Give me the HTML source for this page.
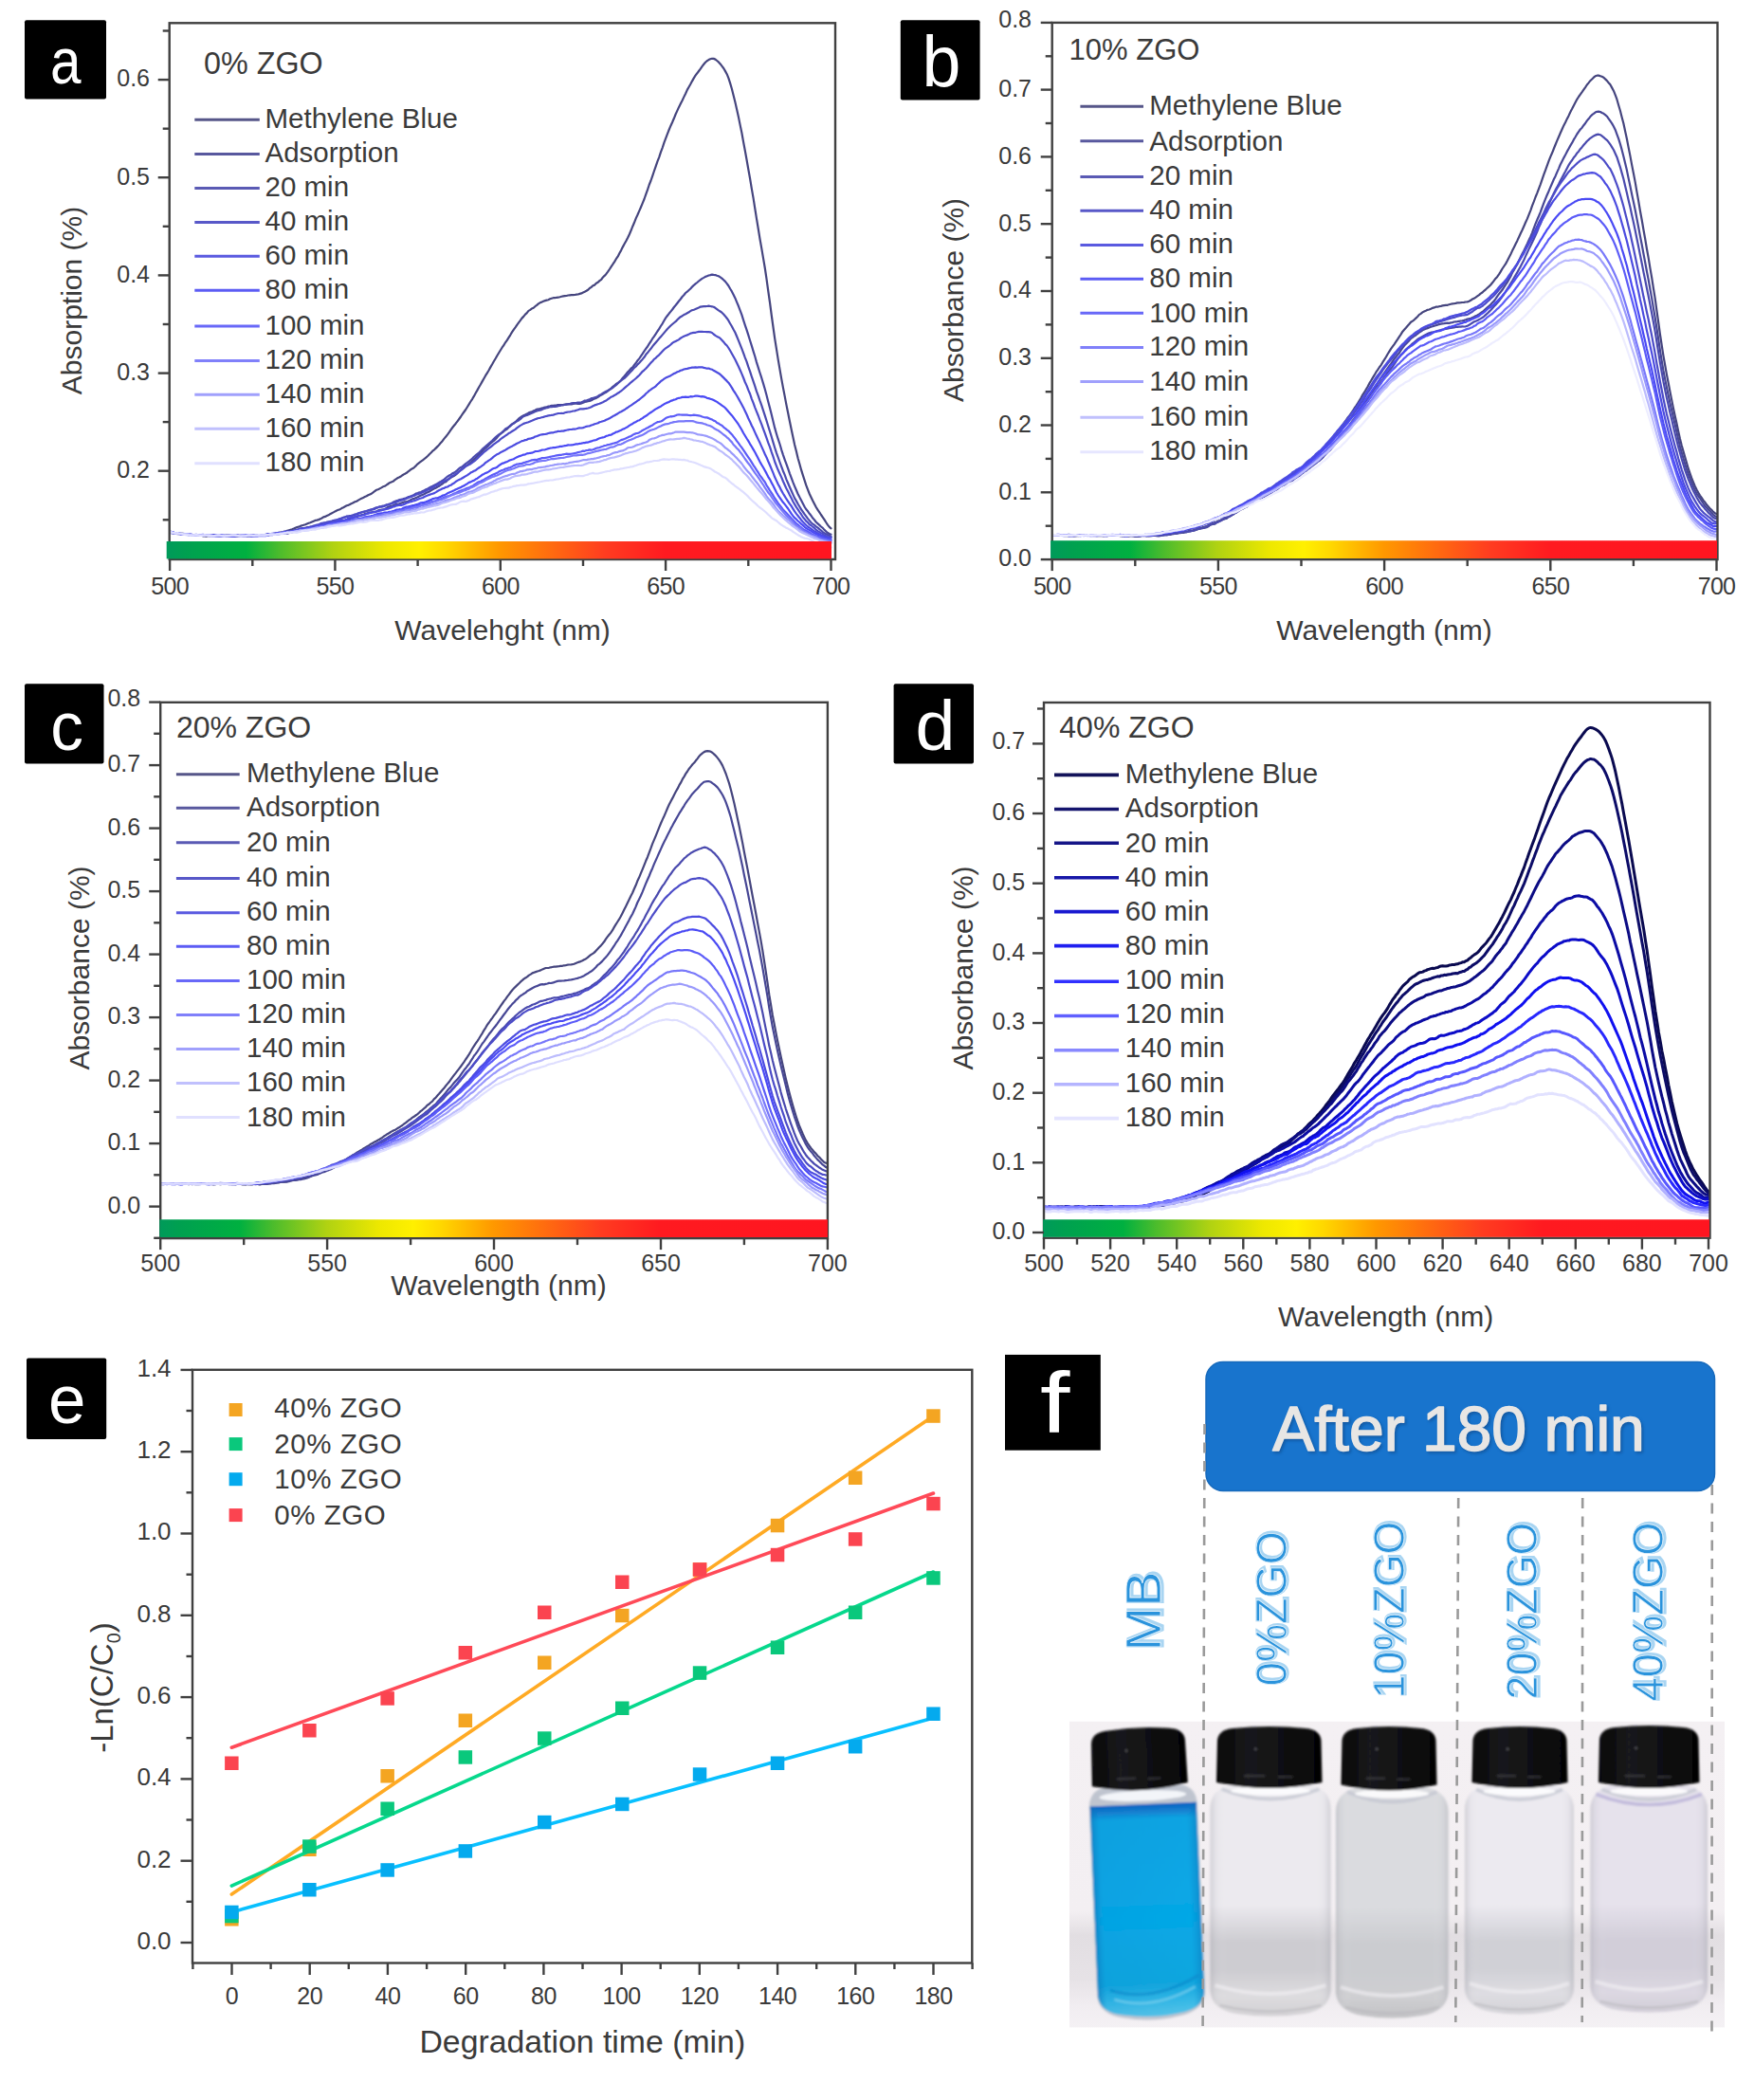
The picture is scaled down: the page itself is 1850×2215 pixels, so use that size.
<!DOCTYPE html>
<html lang="en"><head><meta charset="utf-8"><title>Photocatalytic degradation of methylene blue</title>
<style>html,body{margin:0;padding:0;background:#fff;overflow:hidden}svg{display:block;filter:blur(0.55px)}text{font-family:"Liberation Sans", Arial, sans-serif}</style>
</head><body>
<svg width="1850" height="2215" viewBox="0 0 1850 2215">
<defs>
<linearGradient id="spec" x1="0" y1="0" x2="1" y2="0">
<stop offset="0" stop-color="#009a5a"/>
<stop offset="0.03" stop-color="#00a050"/>
<stop offset="0.12" stop-color="#00b040"/>
<stop offset="0.17" stop-color="#4cbc2c"/>
<stop offset="0.25" stop-color="#b0d212"/>
<stop offset="0.33" stop-color="#eee800"/>
<stop offset="0.38" stop-color="#fff000"/>
<stop offset="0.42" stop-color="#ffd800"/>
<stop offset="0.5" stop-color="#ff9800"/>
<stop offset="0.58" stop-color="#ff6a10"/>
<stop offset="0.66" stop-color="#ff3c20"/>
<stop offset="0.75" stop-color="#ff1a20"/>
<stop offset="1.0" stop-color="#ff1520"/>
</linearGradient>
</defs>
<rect width="1850" height="2215" fill="#fff"/>
<clipPath id="clipa"><rect x="178.7" y="24.3" width="702.3" height="565.7"/></clipPath>
<g clip-path="url(#clipa)" fill="none" stroke-linejoin="round" stroke-linecap="round">
<polyline points="179.1,560.5 180.8,561.2 182.6,561.9 184.3,562.6 186.1,562.5 187.8,562.8 189.6,562.9 191.3,563.3 193,563.3 194.8,563.2 196.5,563.4 198.3,563.5 200,563.7 201.8,564 203.5,564.3 205.3,564.6 207,564.4 208.7,564 210.5,564.1 212.2,564.4 214,565.3 215.7,565.3 217.5,565.6 219.2,565 220.9,564.8 222.7,564.3 224.4,564.5 226.2,564.5 227.9,564.8 229.7,565.1 231.4,565.3 233.1,565.5 234.9,565.3 236.6,565 238.4,565.1 240.1,565.1 241.9,565.1 243.6,564.6 245.4,564.7 247.1,565.2 248.8,565.7 250.6,565.8 252.3,565.4 254.1,565.3 255.8,565 257.6,564.9 259.3,564.9 261,565.1 262.8,565.2 264.5,565.3 266.3,565.4 268,565.4 269.8,565 271.5,564.7 273.2,564.7 275,564.6 276.7,564.6 278.5,564.3 280.2,564.3 282,563.7 283.7,563.6 285.5,563.2 287.2,563.1 288.9,563 290.7,562.6 292.4,562.4 294.2,561.9 295.9,561.5 297.7,561.4 299.4,560.7 301.1,560.5 302.9,559.9 304.6,559.4 306.4,558.8 308.1,558.2 309.9,557.5 311.6,556.7 313.3,556 315.1,555.7 316.8,554.9 318.6,554.3 320.3,553.8 322.1,553.2 323.8,552.5 325.6,551.8 327.3,551.3 329,550.5 330.8,549.7 332.5,548.9 334.3,548.6 336,548.1 337.8,547.4 339.5,546.5 341.2,545.4 343,544.9 344.7,544.1 346.5,543.3 348.2,542.2 350,541.3 351.7,540.4 353.4,539.4 355.2,538.5 356.9,537.8 358.7,537.2 360.4,536.1 362.2,535.2 363.9,534.3 365.7,533.3 367.4,532.9 369.1,532 370.9,531.1 372.6,530.2 374.4,529.3 376.1,528.7 377.9,527.6 379.6,526.6 381.3,525.7 383.1,524.9 384.8,524.1 386.6,523.3 388.3,522.3 390.1,521.5 391.8,520.7 393.6,519.4 395.3,518 397,516.8 398.8,516.3 400.5,515.4 402.3,514.4 404,513.3 405.8,512.8 407.5,511.7 409.2,510.5 411,509.2 412.7,508.5 414.5,507.8 416.2,506.4 418,505.1 419.7,504 421.4,503.2 423.2,502.2 424.9,501 426.7,499.9 428.4,499.1 430.2,497.6 431.9,496.3 433.7,494.9 435.4,494.1 437.1,492.8 438.9,491.1 440.6,489.3 442.4,487.9 444.1,486.6 445.9,485.4 447.6,484 449.3,482.6 451.1,481 452.8,479.2 454.6,477.5 456.3,475.7 458.1,474.3 459.8,472.6 461.5,470.9 463.3,469 465,466.9 466.8,464.9 468.5,462.6 470.3,460.5 472,458.4 473.8,455.9 475.5,453.4 477.2,451 479,448.8 480.7,446.7 482.5,444.3 484.2,442 486,439.5 487.7,436.9 489.4,434.5 491.2,432 492.9,429.2 494.7,426.3 496.4,423.5 498.2,420.8 499.9,417.9 501.6,414.7 503.4,411.6 505.1,408.5 506.9,405.5 508.6,402.4 510.4,399.2 512.1,396.2 513.9,393.3 515.6,390.5 517.3,387.4 519.1,384.3 520.8,381.2 522.6,378.2 524.3,375.2 526.1,372.2 527.8,369.5 529.5,366.7 531.3,364.2 533,361.3 534.8,358.8 536.5,356.1 538.3,353.3 540,350.4 541.7,347.8 543.5,345.3 545.2,342.8 547,340.3 548.7,338.1 550.5,335.6 552.2,333.9 554,331.6 555.7,330.1 557.4,327.9 559.2,326.9 560.9,325.5 562.7,324.7 564.4,323.2 566.2,321.9 567.9,320.4 569.6,319.3 571.4,318.6 573.1,317.7 574.9,317.1 576.6,316.6 578.4,316.2 580.1,315.3 581.8,314.7 583.6,314.2 585.3,314.2 587.1,313.8 588.8,313.7 590.6,313.3 592.3,312.8 594.1,312.4 595.8,312.1 597.5,312 599.3,311.5 601,311.3 602.8,311.1 604.5,311.1 606.3,311 608,310.7 609.7,310.5 611.5,309.9 613.2,309.4 615,308.5 616.7,307.7 618.5,306.7 620.2,305.7 621.9,304 623.7,302.9 625.4,301.3 627.2,300.6 628.9,298.8 630.7,297.8 632.4,296.1 634.2,294.8 635.9,292.5 637.6,290.9 639.4,288.9 641.1,286.7 642.9,284 644.6,281.3 646.4,278.7 648.1,276.1 649.8,273.2 651.6,270.7 653.3,267.3 655.1,264.1 656.8,260.6 658.6,257.3 660.3,254.3 662,251 663.8,247.2 665.5,243.3 667.3,238.7 669,234.8 670.8,230.1 672.5,226.5 674.3,222.4 676,218.5 677.7,214.4 679.5,210 681.2,205.2 683,200.2 684.7,195 686.5,190.5 688.2,185.6 689.9,180.5 691.7,175.3 693.4,170.3 695.2,165.8 696.9,160.7 698.7,155.8 700.4,150.6 702.1,146.2 703.9,141.3 705.6,137 707.4,132.7 709.1,129 710.9,124.8 712.6,120.5 714.4,116.6 716.1,112.9 717.8,109.5 719.6,106 721.3,102.4 723.1,98.7 724.8,94.9 726.6,91.8 728.3,88.8 730,85.6 731.8,82.4 733.5,79.6 735.3,77.3 737,75 738.8,72.6 740.5,70.1 742.3,67.8 744,65.8 745.7,64.2 747.5,63.1 749.2,62.3 751,61.8 752.7,61.9 754.5,62.6 756.2,64 757.9,65.4 759.7,67.4 761.4,69.6 763.2,72 764.9,74.9 766.7,78.2 768.4,82.4 770.1,87.6 771.9,93.7 773.6,100.5 775.4,107.7 777.1,115.2 778.9,123.3 780.6,131.6 782.4,140.3 784.1,149.7 785.8,158.8 787.6,168.8 789.3,178.5 791.1,188.5 792.8,198.9 794.6,209.1 796.3,220 798,230.6 799.8,241.5 801.5,252 803.3,262.1 805,272.1 806.8,282.7 808.5,294.2 810.2,306.5 812,319 813.7,332 815.5,345 817.2,357.1 819,368.4 820.7,379.2 822.5,389.6 824.2,399.4 825.9,408.6 827.7,417.9 829.4,426.9 831.2,435.8 832.9,444.3 834.7,452.9 836.4,460.9 838.1,469 839.9,476 841.6,483.3 843.4,489.5 845.1,495.7 846.9,501.3 848.6,506.7 850.3,511.9 852.1,516.7 853.8,521 855.6,524.8 857.3,528.3 859.1,531.8 860.8,535 862.6,537.9 864.3,540.4 866,543 867.8,545.6 869.5,548.1 871.3,551 873,553.6 874.8,555.9 876.5,557.3" stroke="#45457e" stroke-width="2.2"/>
<polyline points="179.1,560.5 180.8,561.5 182.6,562.3 184.3,562.7 186.1,562.9 187.8,563.2 189.6,563.2 191.3,562.9 193,562.9 194.8,563.1 196.5,563.4 198.3,563.8 200,564.1 201.8,564.4 203.5,564.4 205.3,564.6 207,564.9 208.7,565 210.5,564.8 212.2,564.5 214,564.5 215.7,564.8 217.5,565 219.2,565.2 220.9,565.2 222.7,565.1 224.4,565.3 226.2,565 227.9,565.2 229.7,564.8 231.4,565.1 233.1,564.9 234.9,565 236.6,564.9 238.4,565.2 240.1,565.3 241.9,565.4 243.6,565.2 245.4,565.3 247.1,565 248.8,565.2 250.6,565 252.3,565.4 254.1,565.2 255.8,565.4 257.6,565.4 259.3,565.6 261,565.1 262.8,565.1 264.5,565.2 266.3,565.7 268,565.4 269.8,565.3 271.5,565 273.2,564.9 275,564.4 276.7,564.1 278.5,564.1 280.2,564.5 282,564.4 283.7,564.2 285.5,563.8 287.2,563.8 288.9,563.5 290.7,563.2 292.4,563.3 294.2,563.2 295.9,563 297.7,562.3 299.4,562.2 301.1,562.5 302.9,562.6 304.6,562.1 306.4,561.7 308.1,561.1 309.9,560.9 311.6,560.2 313.3,560 315.1,559.8 316.8,559.4 318.6,559.1 320.3,559 322.1,558.8 323.8,558.7 325.6,557.9 327.3,557.7 329,557.1 330.8,556.8 332.5,556.2 334.3,556 336,555.2 337.8,555 339.5,554.6 341.2,554.9 343,554.3 344.7,553.7 346.5,552.8 348.2,552.4 350,552.2 351.7,551.9 353.4,551.7 355.2,550.8 356.9,550.4 358.7,549.8 360.4,549.6 362.2,549 363.9,548.9 365.7,548.2 367.4,547.9 369.1,547.1 370.9,546.5 372.6,545.8 374.4,545.4 376.1,545.2 377.9,544.5 379.6,544.1 381.3,543.1 383.1,542.9 384.8,542.1 386.6,541.8 388.3,541.1 390.1,540.5 391.8,540.3 393.6,540.2 395.3,540.1 397,539.4 398.8,538.5 400.5,537.9 402.3,537.7 404,537.4 405.8,537 407.5,536 409.2,534.9 411,534.2 412.7,533.7 414.5,533.3 416.2,532.6 418,532.1 419.7,531.7 421.4,531.3 423.2,530.6 424.9,530 426.7,529.4 428.4,529.3 430.2,528.8 431.9,528 433.7,527.1 435.4,526.1 437.1,525.8 438.9,525 440.6,524.3 442.4,523.3 444.1,522.5 445.9,521.9 447.6,521 449.3,520 451.1,519.2 452.8,518.5 454.6,517.4 456.3,516.4 458.1,515.3 459.8,514.7 461.5,513.5 463.3,512.7 465,511.4 466.8,510.3 468.5,508.8 470.3,508.1 472,506.5 473.8,505.1 475.5,503.7 477.2,502.7 479,502 480.7,500.7 482.5,499.1 484.2,497.3 486,495.7 487.7,494.7 489.4,493.4 491.2,491.8 492.9,490.7 494.7,489.4 496.4,487.9 498.2,486 499.9,484.4 501.6,483 503.4,481.3 505.1,479.5 506.9,478 508.6,476.1 510.4,474.3 512.1,472.7 513.9,471.2 515.6,469.5 517.3,467.8 519.1,466.1 520.8,464.9 522.6,463.1 524.3,461.4 526.1,459.3 527.8,457.8 529.5,456.3 531.3,455 533,453.7 534.8,452.5 536.5,450.7 538.3,448.9 540,447.4 541.7,446.6 543.5,445.2 545.2,443.5 547,441.7 548.7,440.5 550.5,439.2 552.2,438.3 554,437.4 555.7,436.6 557.4,435.6 559.2,434.7 560.9,434.2 562.7,433.4 564.4,432.8 566.2,431.7 567.9,431.4 569.6,431 571.4,430.5 573.1,430.1 574.9,429.5 576.6,429.4 578.4,428.6 580.1,428.3 581.8,427.9 583.6,427.9 585.3,427.5 587.1,427.3 588.8,427 590.6,427.1 592.3,427 594.1,426.9 595.8,426.7 597.5,426.4 599.3,426.4 601,426.4 602.8,426.4 604.5,426 606.3,425.7 608,425.6 609.7,425.8 611.5,425.9 613.2,425.4 615,424.8 616.7,424 618.5,423.6 620.2,423.2 621.9,422.9 623.7,422.2 625.4,421.2 627.2,420.5 628.9,419.9 630.7,418.8 632.4,417.6 634.2,416.6 635.9,415.7 637.6,414.6 639.4,413.7 641.1,412.3 642.9,410.9 644.6,409.5 646.4,407.9 648.1,406.5 649.8,405 651.6,404 653.3,402.5 655.1,401 656.8,398.7 658.6,396.7 660.3,394.6 662,392.5 663.8,390.7 665.5,388.7 667.3,387.3 669,385 670.8,382.8 672.5,380.2 674.3,378.1 676,375.7 677.7,373.2 679.5,370.4 681.2,367.9 683,365.5 684.7,362.6 686.5,360 688.2,357.2 689.9,354.9 691.7,352.2 693.4,349.5 695.2,346.9 696.9,344 698.7,341.3 700.4,338.2 702.1,335.4 703.9,333 705.6,330.8 707.4,328.6 709.1,326.5 710.9,324 712.6,322 714.4,319.7 716.1,317.5 717.8,315.5 719.6,313 721.3,311.3 723.1,309 724.8,307.7 726.6,306 728.3,304.5 730,302.6 731.8,300.8 733.5,299.4 735.3,298 737,296.5 738.8,295.1 740.5,293.9 742.3,292.9 744,291.9 745.7,291.3 747.5,290.5 749.2,290.1 751,289.6 752.7,289.9 754.5,290.1 756.2,290.8 757.9,291.3 759.7,292.4 761.4,293.6 763.2,295.3 764.9,296.9 766.7,299.1 768.4,301.5 770.1,304.5 771.9,307.4 773.6,310.7 775.4,314.4 777.1,318.6 778.9,322.8 780.6,327.3 782.4,332.2 784.1,337.6 785.8,342.8 787.6,348.1 789.3,353.4 791.1,359.3 792.8,364.7 794.6,370.6 796.3,376 798,382.1 799.8,387.8 801.5,393.3 803.3,398.7 805,404.4 806.8,410.5 808.5,416.8 810.2,423.4 812,430.3 813.7,437.1 815.5,444.4 817.2,451.4 819,457.7 820.7,463.2 822.5,468.5 824.2,474.3 825.9,479.6 827.7,484.8 829.4,489.4 831.2,494.4 832.9,499.3 834.7,504.1 836.4,508.6 838.1,512.8 839.9,517 841.6,521 843.4,524.6 845.1,527.8 846.9,531.3 848.6,534.5 850.3,537.3 852.1,539.3 853.8,541.8 855.6,544 857.3,546.6 859.1,548.5 860.8,550.8 862.6,552.4 864.3,553.9 866,555.5 867.8,556.9 869.5,558.9 871.3,560.5 873,562 874.8,563 876.5,563.7" stroke="#474795" stroke-width="2.2"/>
<polyline points="179.1,561 180.8,561.5 182.6,561.7 184.3,562 186.1,562.4 187.8,562.8 189.6,562.6 191.3,562.9 193,563.2 194.8,563.9 196.5,563.8 198.3,564 200,564 201.8,564.2 203.5,564.1 205.3,564.2 207,564.1 208.7,564.2 210.5,564.2 212.2,564.5 214,564.6 215.7,564.4 217.5,564.4 219.2,564.6 220.9,564.7 222.7,564.6 224.4,564.6 226.2,564.9 227.9,565.1 229.7,565 231.4,564.6 233.1,564.7 234.9,565.1 236.6,565.1 238.4,564.7 240.1,564.6 241.9,564.7 243.6,564.9 245.4,565.2 247.1,565.2 248.8,565.2 250.6,564.8 252.3,565 254.1,564.9 255.8,565.4 257.6,565.5 259.3,565.7 261,565.1 262.8,565 264.5,565.1 266.3,565.2 268,564.8 269.8,564.5 271.5,564.7 273.2,564.9 275,564.8 276.7,564.6 278.5,564.5 280.2,564.3 282,564 283.7,563.9 285.5,563.4 287.2,563.2 288.9,562.8 290.7,562.9 292.4,562.8 294.2,562.5 295.9,562 297.7,561.7 299.4,561.5 301.1,561.3 302.9,561.2 304.6,561.1 306.4,560.9 308.1,560 309.9,559.5 311.6,559 313.3,558.7 315.1,558.2 316.8,557.8 318.6,557.6 320.3,557.1 322.1,556.9 323.8,556.2 325.6,556 327.3,555.6 329,555.6 330.8,555.2 332.5,554.9 334.3,554.7 336,554.2 337.8,553.5 339.5,552.7 341.2,551.9 343,551.4 344.7,550.7 346.5,550.6 348.2,550.3 350,550.1 351.7,549.4 353.4,549 355.2,548.5 356.9,548.1 358.7,547.2 360.4,546.8 362.2,545.8 363.9,545.4 365.7,544.6 367.4,544.5 369.1,544.2 370.9,543.9 372.6,543.5 374.4,542.8 376.1,542.4 377.9,541.7 379.6,541.1 381.3,540.2 383.1,539.8 384.8,539.6 386.6,539.1 388.3,538.4 390.1,537.9 391.8,537.4 393.6,536.8 395.3,536 397,535.4 398.8,535 400.5,534.3 402.3,534.1 404,533.6 405.8,533.3 407.5,532.4 409.2,532.1 411,531.6 412.7,531 414.5,529.8 416.2,529 418,528.4 419.7,527.9 421.4,527.1 423.2,526.7 424.9,526.3 426.7,525.7 428.4,525.3 430.2,524.4 431.9,523.9 433.7,523.2 435.4,522.6 437.1,521.6 438.9,520.5 440.6,520 442.4,519.4 444.1,519 445.9,518 447.6,517.2 449.3,516.2 451.1,515.4 452.8,514.5 454.6,513.5 456.3,512.7 458.1,511.8 459.8,510.9 461.5,510 463.3,508.8 465,507.9 466.8,506.8 468.5,505.5 470.3,504 472,502.6 473.8,501.5 475.5,500.6 477.2,499.3 479,498.6 480.7,497.3 482.5,495.8 484.2,494.2 486,493 487.7,492.1 489.4,490.6 491.2,489.1 492.9,487.9 494.7,486.5 496.4,485.2 498.2,483.5 499.9,481.8 501.6,480.4 503.4,478.9 505.1,477.5 506.9,475.7 508.6,473.9 510.4,472.3 512.1,470.9 513.9,469.3 515.6,467.8 517.3,466.4 519.1,464.8 520.8,463.1 522.6,461.3 524.3,459.8 526.1,458.5 527.8,457.3 529.5,456.1 531.3,454.4 533,452.4 534.8,451.4 536.5,450.4 538.3,449.3 540,447.7 541.7,446.5 543.5,445.4 545.2,444.3 547,443.4 548.7,442.2 550.5,440.4 552.2,439.2 554,438.5 555.7,438 557.4,437.2 559.2,436.4 560.9,435.7 562.7,434.9 564.4,434.1 566.2,433.5 567.9,433 569.6,432.6 571.4,432.1 573.1,431.2 574.9,430.8 576.6,430.1 578.4,429.8 580.1,429.2 581.8,429.1 583.6,429 585.3,429 587.1,428.6 588.8,428.2 590.6,427.8 592.3,427.5 594.1,427.3 595.8,426.8 597.5,426.6 599.3,426.2 601,426 602.8,425.4 604.5,425.1 606.3,425 608,424.9 609.7,424.6 611.5,424.6 613.2,424.2 615,423.6 616.7,422.5 618.5,422.5 620.2,421.9 621.9,421.3 623.7,420.1 625.4,419.8 627.2,419.3 628.9,418.7 630.7,417.9 632.4,416.7 634.2,415.9 635.9,414.7 637.6,413.7 639.4,412.7 641.1,411.9 642.9,411.1 644.6,410 646.4,408.8 648.1,407.5 649.8,406.2 651.6,404.5 653.3,403 655.1,401.4 656.8,400.2 658.6,398.9 660.3,397.2 662,395.5 663.8,393.5 665.5,391.7 667.3,389.9 669,387.9 670.8,386.5 672.5,384.4 674.3,382.7 676,380.7 677.7,378.9 679.5,376.8 681.2,374.1 683,372.1 684.7,369.9 686.5,367.8 688.2,365.4 689.9,363.3 691.7,361.2 693.4,359.3 695.2,357.1 696.9,355.2 698.7,353.1 700.4,351.1 702.1,349.1 703.9,347 705.6,345.3 707.4,343.5 709.1,342 710.9,340.5 712.6,339.2 714.4,337.2 716.1,335.6 717.8,334.2 719.6,333.2 721.3,332.1 723.1,331.2 724.8,330.3 726.6,329.3 728.3,328 730,327.1 731.8,326.7 733.5,326 735.3,325.2 737,324.5 738.8,323.6 740.5,323.3 742.3,323.1 744,323.1 745.7,323 747.5,322.7 749.2,323 751,323.3 752.7,323.8 754.5,324.8 756.2,326.1 757.9,327.4 759.7,328.5 761.4,329.7 763.2,331.5 764.9,333.4 766.7,335.7 768.4,338.2 770.1,341.2 771.9,344.2 773.6,347.5 775.4,350.8 777.1,354.8 778.9,359.1 780.6,363.4 782.4,367.9 784.1,372.4 785.8,377.1 787.6,381.6 789.3,386.9 791.1,391.9 792.8,397.2 794.6,402.3 796.3,407.4 798,412.9 799.8,417.7 801.5,422.7 803.3,427.6 805,432.8 806.8,438.3 808.5,443.8 810.2,449.3 812,455 813.7,460.5 815.5,466.6 817.2,472.2 819,477.8 820.7,482.5 822.5,487.5 824.2,492.1 825.9,496.7 827.7,500.9 829.4,505.6 831.2,509.8 832.9,513.7 834.7,517.7 836.4,521.6 838.1,525.4 839.9,528.4 841.6,531.5 843.4,534.5 845.1,537.4 846.9,539.9 848.6,542.4 850.3,544.6 852.1,547.1 853.8,549.1 855.6,551.2 857.3,552.7 859.1,553.9 860.8,555.3 862.6,556.6 864.3,558.1 866,559.5 867.8,561.1 869.5,562.3 871.3,563.2 873,564.1 874.8,564.9 876.5,565.8" stroke="#4a4aae" stroke-width="2.2"/>
<polyline points="179.1,561.9 180.8,562.1 182.6,562.3 184.3,562.6 186.1,562.6 187.8,562.8 189.6,562.8 191.3,563.5 193,563.5 194.8,563.5 196.5,563.2 198.3,563.6 200,563.7 201.8,564.3 203.5,564.5 205.3,564.4 207,564.5 208.7,564.4 210.5,564.5 212.2,564.4 214,564.5 215.7,564.6 217.5,564.9 219.2,564.9 220.9,564.9 222.7,564.4 224.4,564.1 226.2,564.1 227.9,564.5 229.7,564.7 231.4,565.2 233.1,565.1 234.9,565.1 236.6,565.1 238.4,565.2 240.1,565.2 241.9,564.9 243.6,565.3 245.4,565.4 247.1,565.5 248.8,565 250.6,564.7 252.3,564.9 254.1,565.1 255.8,565.4 257.6,565.3 259.3,565.3 261,565.3 262.8,565 264.5,564.9 266.3,564.8 268,565 269.8,564.8 271.5,565 273.2,564.6 275,564.5 276.7,564.3 278.5,564.2 280.2,564.2 282,563.8 283.7,563.6 285.5,563.5 287.2,563.1 288.9,563.4 290.7,562.9 292.4,562.9 294.2,562.3 295.9,562.1 297.7,561.8 299.4,561.8 301.1,561.7 302.9,561.3 304.6,560.7 306.4,560.6 308.1,560.4 309.9,560 311.6,559.4 313.3,559 315.1,558.3 316.8,557.6 318.6,557.1 320.3,557 322.1,557 323.8,556.5 325.6,556.2 327.3,555.8 329,555.3 330.8,554.5 332.5,554.1 334.3,553.6 336,553.4 337.8,552.4 339.5,551.9 341.2,551.7 343,551.6 344.7,551.2 346.5,550.6 348.2,550 350,549.6 351.7,549 353.4,548.5 355.2,548.3 356.9,547.7 358.7,547.1 360.4,546.6 362.2,546.1 363.9,545.5 365.7,544.8 367.4,544.6 369.1,544.5 370.9,543.8 372.6,543.3 374.4,542.6 376.1,542.2 377.9,541.3 379.6,540.8 381.3,540.5 383.1,540 384.8,539.4 386.6,539 388.3,538.5 390.1,538.1 391.8,537.6 393.6,537.4 395.3,536.9 397,535.9 398.8,535.2 400.5,534.7 402.3,534.6 404,534.3 405.8,533.6 407.5,532.9 409.2,532.5 411,531.7 412.7,531.2 414.5,530.7 416.2,530.5 418,529.8 419.7,528.9 421.4,528.3 423.2,527.6 424.9,527.3 426.7,526.7 428.4,526.1 430.2,525.2 431.9,524.4 433.7,524.1 435.4,523.3 437.1,522.7 438.9,521.7 440.6,521.3 442.4,520.7 444.1,520.1 445.9,519.3 447.6,518.6 449.3,517.8 451.1,516.8 452.8,516.3 454.6,515.3 456.3,514.4 458.1,513.1 459.8,512.4 461.5,511.5 463.3,510.2 465,508.9 466.8,508.1 468.5,507.5 470.3,506.8 472,505.8 473.8,504.6 475.5,503.2 477.2,501.9 479,500.9 480.7,499.9 482.5,498.9 484.2,497.5 486,496.1 487.7,494.6 489.4,493.1 491.2,491.8 492.9,491.1 494.7,490.1 496.4,489.2 498.2,487.8 499.9,486.7 501.6,485.3 503.4,483.6 505.1,481.9 506.9,480.1 508.6,478.6 510.4,477 512.1,475.7 513.9,474.1 515.6,472.9 517.3,471.6 519.1,470.1 520.8,468.7 522.6,467.4 524.3,466.2 526.1,465 527.8,463.3 529.5,462 531.3,460.8 533,459.7 534.8,458.5 536.5,457.1 538.3,456.2 540,455 541.7,454 543.5,452.9 545.2,451.4 547,450.1 548.7,448.9 550.5,447.9 552.2,446.9 554,446.2 555.7,445.7 557.4,445.2 559.2,444.5 560.9,443.8 562.7,443 564.4,442.2 566.2,441.6 567.9,441 569.6,440.8 571.4,440.3 573.1,439.9 574.9,439.3 576.6,438.9 578.4,438.4 580.1,438.2 581.8,437.8 583.6,437.6 585.3,437 587.1,436.5 588.8,436 590.6,436 592.3,435.9 594.1,436 595.8,435.3 597.5,434.8 599.3,434.5 601,434.3 602.8,434 604.5,433.5 606.3,433.4 608,432.8 609.7,432.2 611.5,431.4 613.2,431.4 615,431.3 616.7,431.2 618.5,430.8 620.2,430.5 621.9,430 623.7,429.2 625.4,428.3 627.2,427.4 628.9,426.9 630.7,426.2 632.4,425.8 634.2,424.9 635.9,424.2 637.6,423.3 639.4,422.5 641.1,421.2 642.9,420 644.6,418.7 646.4,418 648.1,416.9 649.8,416.1 651.6,414.7 653.3,413.7 655.1,412.4 656.8,411 658.6,409.4 660.3,407.9 662,406.5 663.8,404.9 665.5,403.3 667.3,401.8 669,400.5 670.8,399 672.5,397.4 674.3,395.7 676,393.8 677.7,391.8 679.5,390.3 681.2,388.7 683,386.8 684.7,384.8 686.5,382.6 688.2,381 689.9,378.9 691.7,377.6 693.4,375.8 695.2,374.3 696.9,372.5 698.7,370.6 700.4,368.8 702.1,367.3 703.9,366.1 705.6,365 707.4,363.5 709.1,361.9 710.9,360.7 712.6,359.9 714.4,359.1 716.1,358.1 717.8,356.7 719.6,355.6 721.3,354.7 723.1,354 724.8,353.4 726.6,352.6 728.3,351.6 730,351.2 731.8,350.9 733.5,350.8 735.3,350.3 737,349.9 738.8,349.9 740.5,349.9 742.3,350 744,350 745.7,350.1 747.5,350.2 749.2,350.3 751,351 752.7,352.5 754.5,353.8 756.2,354.9 757.9,355.7 759.7,356.9 761.4,358.7 763.2,360.7 764.9,362.9 766.7,364.5 768.4,367 770.1,369.8 771.9,373 773.6,376 775.4,379.2 777.1,382.8 778.9,386.5 780.6,390.3 782.4,394.4 784.1,398.5 785.8,403 787.6,406.9 789.3,411.4 791.1,415.5 792.8,420.6 794.6,425.1 796.3,429.8 798,434.1 799.8,438.5 801.5,443.2 803.3,447.7 805,452.3 806.8,457.2 808.5,461.9 810.2,466.9 812,471.3 813.7,476.6 815.5,481.7 817.2,487 819,491.6 820.7,495.8 822.5,499.7 824.2,503.4 825.9,507.5 827.7,511.5 829.4,515.3 831.2,518.5 832.9,522 834.7,525.4 836.4,529 838.1,531.9 839.9,534.9 841.6,537.4 843.4,540.1 845.1,542.5 846.9,545.5 848.6,547.4 850.3,549.7 852.1,551.2 853.8,553.2 855.6,554.2 857.3,555.7 859.1,557.1 860.8,558.9 862.6,560.2 864.3,561.1 866,562.1 867.8,563.1 869.5,564.5 871.3,565.3 873,566.1 874.8,566.4 876.5,566.9" stroke="#4c4cc8" stroke-width="2.2"/>
<polyline points="179.1,561.5 180.8,561.8 182.6,562.1 184.3,562.1 186.1,562.5 187.8,562.9 189.6,563.3 191.3,563.5 193,563.6 194.8,563.9 196.5,564 198.3,563.9 200,563.8 201.8,563.9 203.5,564.1 205.3,564.1 207,563.9 208.7,564.3 210.5,564.1 212.2,564.5 214,564.1 215.7,564.5 217.5,564.6 219.2,564.9 220.9,564.9 222.7,564.9 224.4,564.6 226.2,565.1 227.9,565.1 229.7,565.5 231.4,564.9 233.1,564.7 234.9,565 236.6,565.3 238.4,565.7 240.1,565.6 241.9,565.4 243.6,565 245.4,565 247.1,565.3 248.8,565.3 250.6,565 252.3,564.9 254.1,565 255.8,565.2 257.6,565.2 259.3,564.9 261,564.7 262.8,564.8 264.5,564.4 266.3,564.6 268,564.6 269.8,565.2 271.5,565.2 273.2,564.8 275,564.8 276.7,564.7 278.5,564.5 280.2,563.9 282,563.4 283.7,563.3 285.5,563 287.2,562.8 288.9,562.8 290.7,562.6 292.4,562.3 294.2,561.9 295.9,562.2 297.7,561.9 299.4,561.4 301.1,560.7 302.9,560.6 304.6,560.8 306.4,560.6 308.1,560.4 309.9,560.2 311.6,559.9 313.3,559.6 315.1,559.1 316.8,558.4 318.6,557.8 320.3,557.7 322.1,558 323.8,557.7 325.6,557.1 327.3,556.7 329,556.8 330.8,556.5 332.5,555.8 334.3,554.8 336,554.7 337.8,554.2 339.5,553.9 341.2,553.1 343,552.8 344.7,552.3 346.5,552.1 348.2,551.6 350,551.3 351.7,551 353.4,550.5 355.2,549.9 356.9,549.3 358.7,549.1 360.4,549 362.2,548.8 363.9,548.5 365.7,547.8 367.4,546.8 369.1,546.2 370.9,545.8 372.6,545.8 374.4,545.1 376.1,544.6 377.9,544 379.6,543.8 381.3,543.6 383.1,543.2 384.8,542.8 386.6,541.9 388.3,541.6 390.1,540.9 391.8,540.8 393.6,540.2 395.3,540 397,539.5 398.8,539.2 400.5,538.6 402.3,538.3 404,537.7 405.8,537.4 407.5,536.9 409.2,536.6 411,536 412.7,535.4 414.5,534.5 416.2,534.4 418,533.4 419.7,533.1 421.4,532.7 423.2,532.9 424.9,532.4 426.7,531.7 428.4,530.7 430.2,530.2 431.9,529.4 433.7,529.1 435.4,528.5 437.1,528.2 438.9,527.4 440.6,526.7 442.4,526 444.1,525.5 445.9,525 447.6,524 449.3,523.2 451.1,522.5 452.8,521.9 454.6,521.3 456.3,520.7 458.1,520.1 459.8,519.1 461.5,518 463.3,517 465,516.3 466.8,515.3 468.5,514.9 470.3,513.8 472,513.5 473.8,512.3 475.5,511.8 477.2,510.4 479,509.5 480.7,508 482.5,506.9 484.2,506 486,505.2 487.7,504.2 489.4,503.2 491.2,502.1 492.9,501.2 494.7,500 496.4,498.6 498.2,497.7 499.9,496.7 501.6,496.1 503.4,494.7 505.1,493.5 506.9,492.3 508.6,491.1 510.4,489.8 512.1,488 513.9,486.9 515.6,485.6 517.3,484.6 519.1,483.1 520.8,481.6 522.6,480.3 524.3,479.2 526.1,478.4 527.8,477.3 529.5,476.4 531.3,475.5 533,474.7 534.8,473.5 536.5,472.4 538.3,471.5 540,470.8 541.7,469.7 543.5,468.7 545.2,467.7 547,467 548.7,466.1 550.5,465.1 552.2,464.8 554,464.1 555.7,463.8 557.4,462.8 559.2,462.7 560.9,462.1 562.7,461.6 564.4,460.5 566.2,460.1 567.9,459.4 569.6,458.8 571.4,458.3 573.1,458.1 574.9,458 576.6,457.6 578.4,457 580.1,456.6 581.8,456.3 583.6,456.3 585.3,455.7 587.1,455.4 588.8,454.8 590.6,455 592.3,454.6 594.1,454.6 595.8,454.1 597.5,453.7 599.3,453.3 601,453 602.8,453 604.5,452.7 606.3,452.6 608,452.2 609.7,451.7 611.5,451.4 613.2,451.5 615,451.1 616.7,450.5 618.5,449.8 620.2,449.5 621.9,449.3 623.7,448.5 625.4,448 627.2,447.2 628.9,446.8 630.7,446.2 632.4,445.2 634.2,444.8 635.9,444.2 637.6,443.7 639.4,442.7 641.1,442.1 642.9,441.3 644.6,440.2 646.4,439.1 648.1,438.3 649.8,437.3 651.6,436.2 653.3,435.1 655.1,434.2 656.8,433.2 658.6,432.3 660.3,431 662,430 663.8,428.6 665.5,427.6 667.3,426.4 669,425.1 670.8,424 672.5,422.7 674.3,421.5 676,420 677.7,418.7 679.5,417.2 681.2,415.3 683,413.7 684.7,412.1 686.5,410.9 688.2,409.6 689.9,408.6 691.7,407.3 693.4,405.5 695.2,403.9 696.9,402.2 698.7,401 700.4,399.7 702.1,398.6 703.9,397.8 705.6,397.1 707.4,396.2 709.1,395.1 710.9,394 712.6,393.4 714.4,392.3 716.1,391.8 717.8,390.8 719.6,390.4 721.3,389.5 723.1,389.2 724.8,388.9 726.6,388.4 728.3,388 730,387.6 731.8,387.6 733.5,387.4 735.3,387.6 737,387.4 738.8,387.4 740.5,387.3 742.3,387.9 744,388.2 745.7,388.7 747.5,388.6 749.2,389.3 751,389.7 752.7,390.8 754.5,391.8 756.2,392.7 757.9,393.7 759.7,395 761.4,396.6 763.2,398.4 764.9,400.1 766.7,401.9 768.4,403.7 770.1,406.2 771.9,408.9 773.6,411.9 775.4,414.5 777.1,417.3 778.9,420.4 780.6,423.5 782.4,426.7 784.1,429.9 785.8,433.5 787.6,437.3 789.3,441.3 791.1,444.9 792.8,448.8 794.6,452.3 796.3,456.1 798,459.8 799.8,463.6 801.5,467.1 803.3,471.1 805,474.9 806.8,479 808.5,482.4 810.2,486.5 812,490.5 813.7,494.7 815.5,498.9 817.2,503.3 819,507.1 820.7,510.7 822.5,513.9 824.2,517.4 825.9,520.5 827.7,523.4 829.4,526.2 831.2,528.8 832.9,531.4 834.7,533.7 836.4,536.6 838.1,539.4 839.9,541.9 841.6,544 843.4,546.2 845.1,548.5 846.9,550.5 848.6,552.2 850.3,554 852.1,555.5 853.8,556.6 855.6,557.9 857.3,559.2 859.1,560.6 860.8,561.3 862.6,562.5 864.3,563.3 866,564.3 867.8,564.9 869.5,565.7 871.3,566.7 873,566.7 874.8,567.2 876.5,567.3" stroke="#4c4ce0" stroke-width="2.2"/>
<polyline points="179.1,561 180.8,561.1 182.6,561.5 184.3,562.3 186.1,562.8 187.8,563 189.6,563 191.3,563.2 193,563.2 194.8,563.2 196.5,563.5 198.3,563.6 200,563.8 201.8,563.8 203.5,564.3 205.3,564.6 207,564.9 208.7,564.5 210.5,564.5 212.2,564.1 214,564.5 215.7,564.6 217.5,564.9 219.2,564.7 220.9,564.8 222.7,564.7 224.4,565 226.2,564.9 227.9,564.6 229.7,564.4 231.4,564.5 233.1,564.8 234.9,564.8 236.6,564.8 238.4,564.8 240.1,565 241.9,564.9 243.6,565.3 245.4,565.4 247.1,565.5 248.8,565.1 250.6,564.9 252.3,565 254.1,565.1 255.8,564.9 257.6,564.8 259.3,564.7 261,564.9 262.8,565.2 264.5,565.1 266.3,564.8 268,564.9 269.8,565.1 271.5,565.3 273.2,565.1 275,565.1 276.7,565.1 278.5,565 280.2,565.1 282,564.4 283.7,564.3 285.5,563.9 287.2,564.2 288.9,563.6 290.7,563.2 292.4,562.6 294.2,562.5 295.9,562.4 297.7,562.2 299.4,561.9 301.1,561.5 302.9,561.2 304.6,561.3 306.4,561.1 308.1,561.2 309.9,560.5 311.6,560.1 313.3,560 315.1,559.8 316.8,559.7 318.6,559 320.3,558.8 322.1,558.6 323.8,558.3 325.6,557.8 327.3,557.4 329,557.1 330.8,557.1 332.5,556.5 334.3,556.2 336,555.6 337.8,555.5 339.5,555.3 341.2,554.9 343,554.3 344.7,553.8 346.5,553.5 348.2,553 350,552.3 351.7,551.8 353.4,551.8 355.2,551.6 356.9,551.1 358.7,550.5 360.4,550.3 362.2,549.8 363.9,549.7 365.7,549.5 367.4,549.7 369.1,548.8 370.9,548.3 372.6,547.9 374.4,547.7 376.1,547.5 377.9,547.1 379.6,547 381.3,546.5 383.1,546.1 384.8,545.3 386.6,545.1 388.3,544.9 390.1,544.7 391.8,544.1 393.6,543.7 395.3,543.1 397,542.5 398.8,541.9 400.5,541.6 402.3,541.3 404,541 405.8,540.6 407.5,540.6 409.2,540.3 411,539.9 412.7,539.5 414.5,539 416.2,538.6 418,537.7 419.7,537.6 421.4,537.2 423.2,537.3 424.9,536.1 426.7,535.4 428.4,534.7 430.2,534.5 431.9,534 433.7,533.7 435.4,533.1 437.1,532.9 438.9,532.3 440.6,531.9 442.4,531.1 444.1,530.3 445.9,530.1 447.6,529.9 449.3,529.3 451.1,528.6 452.8,527.7 454.6,527.1 456.3,526.1 458.1,525.7 459.8,525.3 461.5,525.3 463.3,524.4 465,523.7 466.8,522.7 468.5,522.4 470.3,521.4 472,520.3 473.8,519.4 475.5,518.7 477.2,518.1 479,517.2 480.7,516.2 482.5,515.6 484.2,514.8 486,514.1 487.7,513 489.4,512.4 491.2,511.1 492.9,510.2 494.7,508.9 496.4,508.4 498.2,507.4 499.9,506.8 501.6,505.6 503.4,504.7 505.1,503.4 506.9,502.2 508.6,500.8 510.4,499.9 512.1,499 513.9,498.4 515.6,497.4 517.3,496.1 519.1,494.8 520.8,494 522.6,493.6 524.3,492.7 526.1,491.1 527.8,490 529.5,488.9 531.3,488.4 533,487.6 534.8,487 536.5,486.1 538.3,485.3 540,484.7 541.7,484.2 543.5,483.1 545.2,482.2 547,481.4 548.7,480.9 550.5,480.3 552.2,479.6 554,479.3 555.7,478.4 557.4,478.2 559.2,477.8 560.9,477.7 562.7,477 564.4,476.1 566.2,476 567.9,475.8 569.6,475.4 571.4,474.7 573.1,474.5 574.9,474.3 576.6,473.7 578.4,473.1 580.1,472.7 581.8,472.5 583.6,472.2 585.3,472.1 587.1,471.7 588.8,471.5 590.6,470.9 592.3,470.8 594.1,470.5 595.8,470.2 597.5,469.9 599.3,469.4 601,469.5 602.8,469.3 604.5,469.1 606.3,468.7 608,468.4 609.7,468.3 611.5,467.9 613.2,467.6 615,467.2 616.7,467.1 618.5,466.6 620.2,466.6 621.9,465.9 623.7,465.4 625.4,464.7 627.2,464.3 628.9,464 630.7,463 632.4,462.3 634.2,461.8 635.9,461.4 637.6,461 639.4,459.9 641.1,459.5 642.9,458.8 644.6,458.7 646.4,457.5 648.1,456.8 649.8,455.6 651.6,455.3 653.3,454.5 655.1,453.8 656.8,452.7 658.6,452.1 660.3,451.1 662,450.2 663.8,448.9 665.5,447.8 667.3,446.9 669,445.7 670.8,444.9 672.5,443.8 674.3,443.3 676,442 677.7,441.1 679.5,439.7 681.2,438.8 683,437.5 684.7,436.2 686.5,435 688.2,433.9 689.9,432.7 691.7,431.4 693.4,430.5 695.2,429.5 696.9,428.7 698.7,427.4 700.4,426.3 702.1,425.4 703.9,424.6 705.6,424 707.4,422.9 709.1,422.4 710.9,421.6 712.6,421.2 714.4,420.2 716.1,419.8 717.8,419.5 719.6,418.9 721.3,418.8 723.1,418.6 724.8,418.8 726.6,418.8 728.3,418.2 730,418.3 731.8,418 733.5,417.6 735.3,417.5 737,417.8 738.8,418.3 740.5,418.1 742.3,418.4 744,418.9 745.7,419.8 747.5,420.1 749.2,420.7 751,421.3 752.7,422.1 754.5,423 756.2,423.9 757.9,425.1 759.7,426.3 761.4,427.6 763.2,428.8 764.9,430.3 766.7,432.3 768.4,434.3 770.1,436.2 771.9,438.2 773.6,440.4 775.4,442.8 777.1,445.1 778.9,447.7 780.6,450.5 782.4,453.5 784.1,456.7 785.8,459.5 787.6,462.5 789.3,465.1 791.1,468.3 792.8,471 794.6,474.1 796.3,477 798,480.3 799.8,483.8 801.5,487.1 803.3,490.2 805,493 806.8,496.3 808.5,499.4 810.2,502.8 812,505.6 813.7,508.9 815.5,512.3 817.2,515.8 819,519.5 820.7,522.3 822.5,525 824.2,527.3 825.9,529.8 827.7,531.9 829.4,534.1 831.2,536.5 832.9,539.1 834.7,541.9 836.4,544.1 838.1,546.2 839.9,547.7 841.6,549.5 843.4,551 845.1,552.6 846.9,554.1 848.6,555.8 850.3,557 852.1,558.2 853.8,559.1 855.6,560.1 857.3,561.3 859.1,562.4 860.8,563.1 862.6,563.9 864.3,564.3 866,565.6 867.8,566 869.5,567.1 871.3,567.5 873,568.5 874.8,568.8 876.5,569.2" stroke="#4a4af4" stroke-width="2.2"/>
<polyline points="179.1,560.5 180.8,561 182.6,561.8 184.3,562.3 186.1,562.6 187.8,562.7 189.6,562.9 191.3,563.3 193,563.4 194.8,563.5 196.5,563.5 198.3,564.3 200,564.7 201.8,564.7 203.5,564.3 205.3,564.3 207,564.5 208.7,564.3 210.5,564.1 212.2,564 214,563.9 215.7,564 217.5,564.5 219.2,565 220.9,565.2 222.7,565.1 224.4,565.2 226.2,564.9 227.9,564.8 229.7,564.4 231.4,564.3 233.1,564.5 234.9,564.7 236.6,564.9 238.4,565 240.1,565.1 241.9,565.3 243.6,565.2 245.4,565.1 247.1,564.9 248.8,564.9 250.6,564.9 252.3,565.3 254.1,565.4 255.8,565.3 257.6,564.9 259.3,564.8 261,564.7 262.8,565 264.5,565 266.3,565.1 268,564.9 269.8,564.6 271.5,564.8 273.2,564.7 275,564.7 276.7,564.6 278.5,564.4 280.2,564.4 282,564.1 283.7,564 285.5,563.7 287.2,563.2 288.9,562.9 290.7,562.8 292.4,562.7 294.2,562.4 295.9,562.2 297.7,562.1 299.4,562.1 301.1,561.8 302.9,561.5 304.6,561.2 306.4,560.8 308.1,560.8 309.9,560.5 311.6,560.2 313.3,559.9 315.1,560 316.8,560 318.6,559.4 320.3,558.9 322.1,558.6 323.8,558.5 325.6,558.1 327.3,557.7 329,557.3 330.8,557.1 332.5,556.9 334.3,556.7 336,556.4 337.8,555.4 339.5,555 341.2,554.7 343,554.9 344.7,554.5 346.5,554 348.2,553.3 350,552.7 351.7,552.7 353.4,552.6 355.2,552.4 356.9,551.8 358.7,551.7 360.4,551.5 362.2,551.1 363.9,550.5 365.7,549.7 367.4,549.6 369.1,549.5 370.9,549.4 372.6,549.1 374.4,548.4 376.1,548.1 377.9,547.8 379.6,547.7 381.3,547.2 383.1,547.1 384.8,546.7 386.6,546.3 388.3,545.7 390.1,545.3 391.8,544.9 393.6,544.3 395.3,544 397,543.9 398.8,543.7 400.5,543.4 402.3,542.9 404,542.7 405.8,542.4 407.5,542.2 409.2,541.8 411,541.4 412.7,541.1 414.5,541.1 416.2,540.3 418,539.7 419.7,538.9 421.4,538.9 423.2,538.1 424.9,538.1 426.7,537.3 428.4,537 430.2,535.9 431.9,535.8 433.7,535.2 435.4,535.4 437.1,534.8 438.9,534.2 440.6,533.6 442.4,532.9 444.1,532.7 445.9,532 447.6,531.9 449.3,531.3 451.1,531 452.8,530 454.6,529.4 456.3,528.9 458.1,528.7 459.8,528.1 461.5,527.1 463.3,526.5 465,526 466.8,525.4 468.5,524.6 470.3,524 472,523.4 473.8,523 475.5,522.2 477.2,521.4 479,520.6 480.7,519.9 482.5,519.1 484.2,518.1 486,517.6 487.7,517 489.4,516.4 491.2,515.6 492.9,514.8 494.7,514.2 496.4,513.4 498.2,512.8 499.9,511.5 501.6,510.3 503.4,509.1 505.1,508.3 506.9,507.8 508.6,506.8 510.4,506 512.1,504.8 513.9,504 515.6,502.9 517.3,502.1 519.1,500.9 520.8,500.2 522.6,499.6 524.3,498.8 526.1,497.6 527.8,496.8 529.5,496 531.3,495.5 533,494.5 534.8,494.1 536.5,493.4 538.3,493 540,492.1 541.7,491.1 543.5,490.4 545.2,489.6 547,489.4 548.7,489 550.5,488.9 552.2,488.1 554,487.6 555.7,487 557.4,486.6 559.2,486 560.9,485.4 562.7,485.1 564.4,484.9 566.2,485 567.9,484.4 569.6,483.9 571.4,483.2 573.1,483 574.9,482.9 576.6,482.6 578.4,482.2 580.1,481.8 581.8,481.5 583.6,481.2 585.3,480.8 587.1,480.4 588.8,480.1 590.6,479.8 592.3,479.8 594.1,479.3 595.8,479 597.5,478.7 599.3,478.9 601,478.8 602.8,478.7 604.5,478.4 606.3,478 608,477.6 609.7,477.1 611.5,476.7 613.2,476.3 615,475.6 616.7,475.8 618.5,475 620.2,474.9 621.9,474.4 623.7,474.7 625.4,474.3 627.2,473.6 628.9,472.8 630.7,472.3 632.4,472 634.2,471.2 635.9,470.8 637.6,470.1 639.4,469.7 641.1,469.1 642.9,468.8 644.6,468.4 646.4,467.8 648.1,467.4 649.8,466.9 651.6,466.2 653.3,465.1 655.1,464.1 656.8,463.6 658.6,463 660.3,462.3 662,461.4 663.8,460.6 665.5,460 667.3,458.8 669,457.9 670.8,457.2 672.5,457 674.3,456.2 676,455.1 677.7,453.9 679.5,453.1 681.2,452.1 683,451.2 684.7,450.2 686.5,449.2 688.2,448.5 689.9,447.1 691.7,446.1 693.4,445.2 695.2,444.9 696.9,444.5 698.7,443.7 700.4,442.3 702.1,441.1 703.9,440.3 705.6,439.7 707.4,439.2 709.1,439.3 710.9,438.9 712.6,438.3 714.4,437.5 716.1,437.4 717.8,437.5 719.6,437.7 721.3,437.7 723.1,437.6 724.8,437.7 726.6,438 728.3,438.2 730,438 731.8,437.7 733.5,437.9 735.3,438.1 737,438.4 738.8,438.8 740.5,439.5 742.3,440 744,440.4 745.7,440.4 747.5,441.1 749.2,441.9 751,442.5 752.7,443.6 754.5,444.3 756.2,446 757.9,446.6 759.7,448 761.4,448.7 763.2,450.6 764.9,451.8 766.7,453.4 768.4,454.6 770.1,456.4 771.9,458.2 773.6,460.4 775.4,462.6 777.1,465.1 778.9,467.4 780.6,469.8 782.4,472.2 784.1,474.7 785.8,477.1 787.6,479.8 789.3,482.3 791.1,484.9 792.8,487.6 794.6,490.6 796.3,493.2 798,495.9 799.8,498.5 801.5,501.4 803.3,503.7 805,506.1 806.8,508.5 808.5,511.8 810.2,514.4 812,517.3 813.7,519.9 815.5,522.7 817.2,525.5 819,528.1 820.7,530.7 822.5,532.9 824.2,535.1 825.9,537.4 827.7,539.3 829.4,541 831.2,542.9 832.9,544.8 834.7,546.8 836.4,548.5 838.1,550.3 839.9,552.2 841.6,553.4 843.4,555 845.1,556.4 846.9,558 848.6,559.1 850.3,559.6 852.1,560.7 853.8,561.4 855.6,563 857.3,563.7 859.1,564.7 860.8,565.2 862.6,565.9 864.3,566.3 866,567.1 867.8,567.4 869.5,568.2 871.3,568.6 873,569.1 874.8,569.5 876.5,569.7" stroke="#5c5cf8" stroke-width="2.2"/>
<polyline points="179.1,561.2 180.8,561.5 182.6,561.9 184.3,562.3 186.1,562.4 187.8,562.4 189.6,562.8 191.3,563.4 193,563.9 194.8,564 196.5,563.8 198.3,564 200,564.1 201.8,564.6 203.5,564.9 205.3,564.9 207,564.8 208.7,564.5 210.5,564.5 212.2,564.4 214,564.8 215.7,564.8 217.5,564.5 219.2,564.3 220.9,564.2 222.7,564.8 224.4,565.2 226.2,565.4 227.9,565.4 229.7,565.3 231.4,565.5 233.1,565.7 234.9,565.5 236.6,565.5 238.4,565.1 240.1,565.2 241.9,565.3 243.6,565.2 245.4,565 247.1,564.7 248.8,565 250.6,565.5 252.3,565.4 254.1,564.9 255.8,564.5 257.6,565.1 259.3,565.4 261,565.2 262.8,565.1 264.5,565.3 266.3,565.8 268,565.5 269.8,565.2 271.5,564.8 273.2,564.5 275,564.3 276.7,564.2 278.5,564.2 280.2,564.5 282,564.2 283.7,564.1 285.5,563.5 287.2,563.4 288.9,563.5 290.7,563.5 292.4,563.2 294.2,562.8 295.9,562 297.7,561.7 299.4,561.6 301.1,561.9 302.9,562.2 304.6,561.7 306.4,561.4 308.1,561 309.9,560.7 311.6,560.3 313.3,560.3 315.1,559.9 316.8,559.9 318.6,559.5 320.3,559 322.1,558.6 323.8,557.9 325.6,558 327.3,557.7 329,557.3 330.8,557.1 332.5,556.8 334.3,556.6 336,556 337.8,555.7 339.5,555.4 341.2,555.3 343,555 344.7,554.2 346.5,553.8 348.2,553.6 350,553.4 351.7,553.2 353.4,552.9 355.2,553 356.9,552.9 358.7,552.3 360.4,551.8 362.2,551.3 363.9,551.1 365.7,550.9 367.4,550.2 369.1,550 370.9,548.9 372.6,548.6 374.4,548.1 376.1,548.2 377.9,548.2 379.6,548.1 381.3,547.8 383.1,547 384.8,546.5 386.6,546.2 388.3,546.2 390.1,545.9 391.8,545.7 393.6,544.9 395.3,544.2 397,543.9 398.8,543.9 400.5,544 402.3,543.4 404,542.6 405.8,542.1 407.5,542.2 409.2,541.9 411,541.3 412.7,540.6 414.5,540.6 416.2,540.3 418,540 419.7,539.2 421.4,539.2 423.2,538.9 424.9,538.6 426.7,538.3 428.4,537.9 430.2,537.7 431.9,537.1 433.7,536.6 435.4,536 437.1,535.4 438.9,535.2 440.6,534.9 442.4,534.3 444.1,533.5 445.9,532.8 447.6,532.6 449.3,532.3 451.1,531.7 452.8,531.1 454.6,530.4 456.3,529.9 458.1,529.1 459.8,528.6 461.5,528.1 463.3,527.5 465,527.1 466.8,526.4 468.5,525.8 470.3,524.9 472,524.1 473.8,523.5 475.5,522.8 477.2,522.1 479,521.4 480.7,520.8 482.5,520.3 484.2,519.8 486,518.9 487.7,518.2 489.4,517.3 491.2,517.1 492.9,516.1 494.7,515.6 496.4,514.4 498.2,513.9 499.9,513 501.6,512.1 503.4,511 505.1,509.8 506.9,509.3 508.6,508.6 510.4,507.6 512.1,506.4 513.9,505.6 515.6,504.8 517.3,504 519.1,503 520.8,502.6 522.6,501.9 524.3,501.5 526.1,500.6 527.8,499.8 529.5,498.9 531.3,497.9 533,497 534.8,496.3 536.5,495.7 538.3,495.4 540,494.7 541.7,494.2 543.5,493.4 545.2,492.8 547,491.9 548.7,491.7 550.5,491.5 552.2,491.1 554,490.5 555.7,489.8 557.4,490 559.2,489.8 560.9,489.2 562.7,488.6 564.4,487.5 566.2,487.2 567.9,486.6 569.6,486.3 571.4,486.2 573.1,485.8 574.9,485.8 576.6,485.5 578.4,484.8 580.1,484.5 581.8,484 583.6,484.2 585.3,483.9 587.1,483.7 588.8,483.3 590.6,483.1 592.3,483 594.1,482.9 595.8,482.5 597.5,482 599.3,481.6 601,481.4 602.8,481 604.5,480.5 606.3,480.3 608,480.3 609.7,480.1 611.5,479.9 613.2,479.7 615,479.8 616.7,479.4 618.5,478.8 620.2,478.1 621.9,477.9 623.7,477.5 625.4,477 627.2,476.5 628.9,475.9 630.7,475.7 632.4,475.1 634.2,474.7 635.9,474.3 637.6,474 639.4,473.8 641.1,473.1 642.9,472.3 644.6,471.6 646.4,471.6 648.1,470.9 649.8,470.1 651.6,469.1 653.3,468.8 655.1,468.6 656.8,467.8 658.6,466.8 660.3,465.9 662,465 663.8,464.3 665.5,463.7 667.3,462.9 669,462.2 670.8,461.3 672.5,460.8 674.3,460 676,459.4 677.7,458.7 679.5,457.8 681.2,456.8 683,455.4 684.7,454.6 686.5,453.7 688.2,453.2 689.9,452.7 691.7,452 693.4,451.1 695.2,450.1 696.9,449.5 698.7,448.5 700.4,447.9 702.1,447.3 703.9,447.2 705.6,446.7 707.4,446 709.1,445.6 710.9,445.1 712.6,445 714.4,444.6 716.1,444.3 717.8,444.4 719.6,444.4 721.3,444.4 723.1,444.1 724.8,444.1 726.6,444.1 728.3,444 730,444.1 731.8,444.4 733.5,445.1 735.3,445.6 737,445.9 738.8,446.1 740.5,446.3 742.3,447 744,447.4 745.7,448.3 747.5,448.7 749.2,449.3 751,450.2 752.7,451.3 754.5,452.6 756.2,453.4 757.9,454.3 759.7,455.7 761.4,457 763.2,458.5 764.9,459.6 766.7,461.3 768.4,462.7 770.1,464.6 771.9,466.4 773.6,469 775.4,470.8 777.1,472.8 778.9,474.4 780.6,476.7 782.4,478.9 784.1,481.5 785.8,484 787.6,486.5 789.3,488.8 791.1,491 792.8,493.7 794.6,496.3 796.3,498.9 798,501.2 799.8,503.6 801.5,506.1 803.3,508.9 805,511.3 806.8,514.4 808.5,516.8 810.2,519.4 812,521.4 813.7,524 815.5,526.6 817.2,529.2 819,531.5 820.7,533.6 822.5,535.7 824.2,537.8 825.9,539.8 827.7,541.9 829.4,544 831.2,545.7 832.9,547.4 834.7,548.8 836.4,550.9 838.1,553 839.9,554.3 841.6,555.4 843.4,556.4 845.1,557.9 846.9,559.6 848.6,560.7 850.3,561.7 852.1,562.6 853.8,563.4 855.6,564.3 857.3,565 859.1,565.8 860.8,566.3 862.6,567.2 864.3,567.7 866,568.7 867.8,569.1 869.5,569.6 871.3,569.7 873,570.4 874.8,570.8 876.5,571.1" stroke="#7878fa" stroke-width="2.2"/>
<polyline points="179.1,560.8 180.8,561.3 182.6,561.8 184.3,562.6 186.1,562.7 187.8,562.7 189.6,562.8 191.3,563.3 193,563.6 194.8,563.6 196.5,563.4 198.3,563.5 200,563.5 201.8,563.9 203.5,564.3 205.3,564.2 207,564.1 208.7,564.1 210.5,564.1 212.2,564.4 214,564.4 215.7,564.6 217.5,564.7 219.2,564.7 220.9,564.6 222.7,564.7 224.4,564.8 226.2,565.2 227.9,565.1 229.7,565.2 231.4,565.2 233.1,565.2 234.9,565.1 236.6,565.1 238.4,565 240.1,565.1 241.9,565 243.6,564.7 245.4,564.6 247.1,564.7 248.8,565.1 250.6,565.2 252.3,565.2 254.1,564.7 255.8,564.7 257.6,564.7 259.3,565 261,564.7 262.8,564.4 264.5,564.3 266.3,564.8 268,565.1 269.8,565.5 271.5,565 273.2,564.7 275,564.5 276.7,564.6 278.5,564.9 280.2,564.5 282,564.4 283.7,564 285.5,563.6 287.2,563.7 288.9,563.9 290.7,564 292.4,563.7 294.2,563.2 295.9,563 297.7,562.9 299.4,562.8 301.1,562.3 302.9,562 304.6,561.2 306.4,561.3 308.1,561 309.9,561 311.6,560.3 313.3,560.2 315.1,560 316.8,560.1 318.6,559.6 320.3,559.5 322.1,559 323.8,558.8 325.6,558.4 327.3,558.3 329,558 330.8,557.1 332.5,556.7 334.3,556.2 336,556.4 337.8,556.3 339.5,556.4 341.2,556.3 343,555.6 344.7,554.6 346.5,554.3 348.2,554.3 350,554.6 351.7,553.7 353.4,553.4 355.2,552.8 356.9,552.4 358.7,552.5 360.4,552.5 362.2,552.6 363.9,551.9 365.7,551.5 367.4,551.3 369.1,551 370.9,550.4 372.6,550.1 374.4,549.6 376.1,549.3 377.9,548.9 379.6,549 381.3,548.7 383.1,548.3 384.8,547.7 386.6,547.9 388.3,547.5 390.1,547.4 391.8,546.7 393.6,546.1 395.3,545.9 397,545.6 398.8,545.5 400.5,545.1 402.3,544.9 404,544.4 405.8,543.6 407.5,543.1 409.2,542.9 411,543.3 412.7,542.7 414.5,542.3 416.2,541.7 418,541.3 419.7,541.2 421.4,540.4 423.2,540.3 424.9,540.1 426.7,539.8 428.4,538.9 430.2,538.4 431.9,538.5 433.7,538.6 435.4,538.3 437.1,537.5 438.9,537.1 440.6,537 442.4,536.8 444.1,536.1 445.9,535.1 447.6,534.7 449.3,534.1 451.1,533.9 452.8,533.3 454.6,533.2 456.3,532.6 458.1,531.7 459.8,531.3 461.5,530.9 463.3,530.7 465,529.8 466.8,529.3 468.5,528.5 470.3,527.9 472,527.4 473.8,527 475.5,526.6 477.2,525.8 479,524.9 480.7,524.3 482.5,523.6 484.2,522.9 486,522.1 487.7,521.8 489.4,521.2 491.2,520.4 492.9,519.5 494.7,518.9 496.4,518.6 498.2,518 499.9,517.4 501.6,516.3 503.4,515.1 505.1,514.3 506.9,513.6 508.6,512.7 510.4,512.1 512.1,511.1 513.9,510.7 515.6,510 517.3,509.2 519.1,508.6 520.8,507.4 522.6,506.7 524.3,505.5 526.1,504.9 527.8,504.2 529.5,503.5 531.3,502.8 533,502.2 534.8,501.9 536.5,501.1 538.3,500.5 540,500 541.7,499.8 543.5,499.6 545.2,498.6 547,498 548.7,497.2 550.5,497.1 552.2,496.6 554,496.2 555.7,495.4 557.4,495.4 559.2,495 560.9,495.1 562.7,494.5 564.4,494.1 566.2,493.8 567.9,493.2 569.6,493.2 571.4,492.9 573.1,492.7 574.9,492.4 576.6,491.9 578.4,491.7 580.1,491.2 581.8,491 583.6,490.7 585.3,490.1 587.1,489.9 588.8,489.6 590.6,489.5 592.3,489.3 594.1,489 595.8,489.4 597.5,488.9 599.3,488.5 601,487.9 602.8,487.7 604.5,487.4 606.3,487 608,486.8 609.7,486.7 611.5,486.2 613.2,485.7 615,485.2 616.7,485 618.5,485.2 620.2,484.6 621.9,484.5 623.7,484.1 625.4,484.1 627.2,483.6 628.9,483.3 630.7,482.9 632.4,482.4 634.2,481.8 635.9,481.4 637.6,481 639.4,480.8 641.1,480.1 642.9,479.9 644.6,478.9 646.4,478.1 648.1,477.4 649.8,477.1 651.6,476.8 653.3,476.1 655.1,475.6 656.8,475.4 658.6,474.6 660.3,473.7 662,472.3 663.8,472 665.5,471.8 667.3,471.5 669,470.7 670.8,469.7 672.5,469.1 674.3,468.7 676,468.2 677.7,467.6 679.5,467 681.2,466.5 683,465.7 684.7,464.1 686.5,463.2 688.2,462.5 689.9,462.4 691.7,461.8 693.4,461 695.2,460 696.9,459.5 698.7,458.9 700.4,458.8 702.1,458.2 703.9,457.8 705.6,457.4 707.4,457.4 709.1,456.9 710.9,456.3 712.6,455.6 714.4,455.5 716.1,455.6 717.8,455.7 719.6,455.6 721.3,455.7 723.1,455.8 724.8,456.1 726.6,456 728.3,456.2 730,456.3 731.8,456.7 733.5,457.2 735.3,458.1 737,458.3 738.8,458.7 740.5,458.8 742.3,459.2 744,459.6 745.7,460.1 747.5,460.9 749.2,461.5 751,462.2 752.7,463.1 754.5,464.2 756.2,465.5 757.9,466.4 759.7,467.4 761.4,468.7 763.2,470.5 764.9,472.3 766.7,473.4 768.4,474.8 770.1,476.1 771.9,478.2 773.6,479.6 775.4,481.5 777.1,483.1 778.9,485.3 780.6,487.1 782.4,489 784.1,491.5 785.8,493.8 787.6,496.1 789.3,497.9 791.1,499.7 792.8,502.1 794.6,504.5 796.3,506.7 798,508.8 799.8,511.1 801.5,513.6 803.3,515.9 805,518.1 806.8,520.7 808.5,523.3 810.2,525.7 812,527.5 813.7,529.4 815.5,531.6 817.2,534.2 819,536.8 820.7,538.7 822.5,540.5 824.2,542 825.9,543.8 827.7,545.5 829.4,546.8 831.2,548 832.9,549.3 834.7,551.3 836.4,553.2 838.1,555.2 839.9,556.3 841.6,557.7 843.4,558.7 845.1,560.3 846.9,561.2 848.6,562.1 850.3,562.8 852.1,563.9 853.8,564.7 855.6,565.5 857.3,565.7 859.1,566.1 860.8,567 862.6,568.2 864.3,569.2 866,569.6 867.8,570.1 869.5,570.6 871.3,571.1 873,571.6 874.8,572 876.5,572.5" stroke="#9a9afc" stroke-width="2.2"/>
<polyline points="179.1,561.3 180.8,561.6 182.6,561.8 184.3,562.4 186.1,562.8 187.8,563 189.6,563.1 191.3,563.1 193,563 194.8,563 196.5,563 198.3,563.3 200,563.9 201.8,564.4 203.5,564.4 205.3,564.4 207,564.4 208.7,564.8 210.5,564.7 212.2,564.7 214,564.5 215.7,564.9 217.5,564.7 219.2,564.6 220.9,564.3 222.7,564.6 224.4,565.2 226.2,565.2 227.9,565.2 229.7,564.6 231.4,564.8 233.1,565 234.9,565.3 236.6,565.6 238.4,565.3 240.1,565.3 241.9,564.6 243.6,564.5 245.4,564.3 247.1,564.3 248.8,564.6 250.6,564.8 252.3,565.5 254.1,565.3 255.8,565.5 257.6,565 259.3,565.5 261,565.1 262.8,565.2 264.5,564.9 266.3,565 268,565.2 269.8,565.2 271.5,565.2 273.2,564.5 275,564.4 276.7,564.4 278.5,564.7 280.2,564.4 282,564.2 283.7,563.8 285.5,563.8 287.2,563.7 288.9,563.8 290.7,563.6 292.4,563.3 294.2,563.2 295.9,563 297.7,562.7 299.4,562.5 301.1,562.4 302.9,561.9 304.6,561.7 306.4,561.2 308.1,561.2 309.9,561 311.6,560.9 313.3,560.1 315.1,559.8 316.8,559.4 318.6,559.8 320.3,559.6 322.1,559.6 323.8,559.5 325.6,559.1 327.3,558.9 329,558.2 330.8,557.8 332.5,557.3 334.3,557.5 336,557.2 337.8,557.1 339.5,556.4 341.2,556.2 343,555.6 344.7,555 346.5,554.6 348.2,554.5 350,554.5 351.7,554.2 353.4,554.2 355.2,553.9 356.9,553.5 358.7,552.8 360.4,552.1 362.2,552 363.9,552.1 365.7,552.3 367.4,551.8 369.1,551.2 370.9,550.8 372.6,550.6 374.4,550.1 376.1,549.3 377.9,548.8 379.6,548.9 381.3,548.8 383.1,549 384.8,548.3 386.6,548.2 388.3,547.7 390.1,547.5 391.8,547.4 393.6,547 395.3,546.8 397,546.1 398.8,546 400.5,545.7 402.3,545.7 404,545.3 405.8,545 407.5,544.8 409.2,544.4 411,544 412.7,543.5 414.5,543.4 416.2,542.9 418,542.2 419.7,541.9 421.4,541.8 423.2,541.6 424.9,540.9 426.7,540.3 428.4,540.4 430.2,540.5 431.9,540.3 433.7,539.5 435.4,539.3 437.1,538.8 438.9,538.7 440.6,537.7 442.4,537.4 444.1,536.6 445.9,536.6 447.6,536 449.3,535.7 451.1,535 452.8,534.8 454.6,534.3 456.3,534 458.1,533.4 459.8,533.3 461.5,532.9 463.3,532.3 465,531.3 466.8,530.5 468.5,530.1 470.3,529.7 472,529.2 473.8,528.4 475.5,527.7 477.2,527.2 479,526.7 480.7,525.9 482.5,525.5 484.2,525.2 486,524.6 487.7,523.6 489.4,523.1 491.2,522.6 492.9,521.5 494.7,520.6 496.4,520.1 498.2,519.9 499.9,519.2 501.6,518.2 503.4,517.5 505.1,516.6 506.9,515.9 508.6,514.8 510.4,514.4 512.1,513.8 513.9,513.4 515.6,512.2 517.3,511.5 519.1,510.9 520.8,510.1 522.6,509.7 524.3,508.7 526.1,508.3 527.8,507.4 529.5,506.9 531.3,506.1 533,505.6 534.8,505.6 536.5,505.1 538.3,504.5 540,503.4 541.7,502.7 543.5,502.1 545.2,501.9 547,501.6 548.7,501.5 550.5,500.6 552.2,500.6 554,500.3 555.7,500.1 557.4,499.5 559.2,499.2 560.9,498.6 562.7,498 564.4,497.6 566.2,497.6 567.9,497.3 569.6,496.9 571.4,496.4 573.1,496 574.9,495.6 576.6,495.3 578.4,495.3 580.1,495.1 581.8,494.8 583.6,494.4 585.3,494.2 587.1,493.9 588.8,493.5 590.6,493.2 592.3,493 594.1,492.9 595.8,492.5 597.5,492.2 599.3,491.9 601,491.7 602.8,491.3 604.5,491.2 606.3,491 608,491 609.7,490.8 611.5,491 613.2,490.9 615,490.5 616.7,489.8 618.5,489.1 620.2,488.4 621.9,487.9 623.7,487.9 625.4,487.8 627.2,487.5 628.9,487.4 630.7,487.1 632.4,486.9 634.2,486.2 635.9,485.8 637.6,485.1 639.4,484.8 641.1,484 642.9,483.4 644.6,483 646.4,482.7 648.1,482.4 649.8,481.9 651.6,481.4 653.3,480.9 655.1,480.3 656.8,479.4 658.6,478.8 660.3,478.1 662,477.8 663.8,477.2 665.5,476.9 667.3,476.5 669,476 670.8,475.5 672.5,474.8 674.3,474 676,473.1 677.7,472.1 679.5,471.5 681.2,470.8 683,470.4 684.7,470 686.5,469.6 688.2,469 689.9,468.2 691.7,467.9 693.4,467.1 695.2,466.8 696.9,466.2 698.7,465.5 700.4,465.2 702.1,464.5 703.9,464 705.6,463.6 707.4,463.3 709.1,463.5 710.9,463.3 712.6,463.1 714.4,462.9 716.1,462.9 717.8,462.6 719.6,462.4 721.3,461.9 723.1,462.2 724.8,462.6 726.6,462.8 728.3,463.5 730,463.7 731.8,464.5 733.5,464.5 735.3,465 737,465.2 738.8,465.6 740.5,465.8 742.3,466.5 744,467.1 745.7,468.1 747.5,468.7 749.2,469.5 751,470 752.7,470.7 754.5,471.6 756.2,473 757.9,474.3 759.7,475.6 761.4,476.5 763.2,477.9 764.9,479.3 766.7,480.7 768.4,481.8 770.1,483.3 771.9,484.6 773.6,486.6 775.4,488.2 777.1,490.1 778.9,491.8 780.6,493.8 782.4,496 784.1,498.1 785.8,499.7 787.6,501.6 789.3,503.5 791.1,505.8 792.8,507.8 794.6,509.9 796.3,512 798,514.1 799.8,516.2 801.5,518.2 803.3,520.2 805,522.2 806.8,524.5 808.5,526.8 810.2,528.5 812,530.5 813.7,532.6 815.5,535.1 817.2,536.8 819,538.8 820.7,540.8 822.5,542.7 824.2,544.4 825.9,545.9 827.7,547.8 829.4,549.2 831.2,550.8 832.9,552.2 834.7,553.8 836.4,555 838.1,556.2 839.9,557.5 841.6,559 843.4,560.5 845.1,561.2 846.9,562.2 848.6,562.9 850.3,563.8 852.1,564.6 853.8,565.2 855.6,566.3 857.3,567.1 859.1,568.1 860.8,568.5 862.6,569 864.3,569.9 866,570.4 867.8,571.1 869.5,571.5 871.3,572.1 873,572.6 874.8,572.8 876.5,573" stroke="#bcbcfd" stroke-width="2.2"/>
<polyline points="179.1,560.9 180.8,561.4 182.6,562.1 184.3,562 186.1,562.4 187.8,562.2 189.6,562.7 191.3,562.8 193,563.6 194.8,563.8 196.5,564.4 198.3,564.4 200,564.8 201.8,564.7 203.5,564.6 205.3,564.3 207,564.1 208.7,564.3 210.5,564.8 212.2,564.8 214,564.7 215.7,564.2 217.5,564.5 219.2,564.6 220.9,564.9 222.7,565.3 224.4,565.4 226.2,565.1 227.9,564.5 229.7,564.3 231.4,564.4 233.1,564.8 234.9,565.2 236.6,565.4 238.4,565.1 240.1,565 241.9,565.1 243.6,564.7 245.4,564.6 247.1,564.6 248.8,565 250.6,565.2 252.3,565.2 254.1,565.6 255.8,565.4 257.6,565.5 259.3,565.1 261,564.6 262.8,564.3 264.5,564.7 266.3,564.9 268,564.9 269.8,564.3 271.5,564.3 273.2,564.1 275,564.5 276.7,564.5 278.5,564.4 280.2,564.4 282,564 283.7,563.8 285.5,563.4 287.2,563.7 288.9,563.6 290.7,563.8 292.4,563.4 294.2,563.3 295.9,562.9 297.7,563.1 299.4,562.4 301.1,562.2 302.9,561.6 304.6,562 306.4,561.9 308.1,561.7 309.9,561.6 311.6,561.6 313.3,561.8 315.1,561.2 316.8,560.7 318.6,559.9 320.3,559.8 322.1,559.4 323.8,559.6 325.6,559.1 327.3,558.9 329,558.7 330.8,558.7 332.5,558.7 334.3,557.9 336,557.5 337.8,556.9 339.5,556.7 341.2,556.5 343,556.6 344.7,556.3 346.5,555.7 348.2,555.4 350,555 351.7,554.8 353.4,554.3 355.2,554 356.9,554.3 358.7,554.1 360.4,554.3 362.2,553.9 363.9,553.6 365.7,553.2 367.4,552.8 369.1,552.6 370.9,552.2 372.6,552.3 374.4,552 376.1,551.7 377.9,551.1 379.6,550.7 381.3,550.6 383.1,550.8 384.8,550.7 386.6,550.4 388.3,549.7 390.1,549.2 391.8,548.9 393.6,549 395.3,549 397,548.8 398.8,548.9 400.5,548.4 402.3,548.4 404,547.8 405.8,547.3 407.5,546.7 409.2,546.3 411,546.2 412.7,545.8 414.5,545.9 416.2,545.4 418,545.1 419.7,544.4 421.4,543.9 423.2,543.7 424.9,543.6 426.7,543.5 428.4,543 430.2,542.5 431.9,542.5 433.7,542 435.4,541.8 437.1,541.2 438.9,541.3 440.6,541.1 442.4,540.9 444.1,540.4 445.9,540.5 447.6,540.3 449.3,539.5 451.1,538.9 452.8,538.5 454.6,538.5 456.3,537.8 458.1,537.4 459.8,536.7 461.5,536.2 463.3,535.9 465,535.5 466.8,535.5 468.5,534.9 470.3,534.4 472,533.7 473.8,533 475.5,532.5 477.2,532.1 479,532 480.7,531.9 482.5,531.1 484.2,530.1 486,529.1 487.7,528.8 489.4,528.7 491.2,529 492.9,528.4 494.7,527.8 496.4,526.6 498.2,526.1 499.9,525.6 501.6,525.1 503.4,524.5 505.1,524.2 506.9,523.3 508.6,522.5 510.4,521.7 512.1,521.6 513.9,521 515.6,520.2 517.3,519.4 519.1,518.8 520.8,518.4 522.6,517.6 524.3,517.3 526.1,516.4 527.8,515.9 529.5,515.4 531.3,515 533,514.8 534.8,514.7 536.5,514.6 538.3,513.9 540,513.5 541.7,512.8 543.5,512.7 545.2,512.1 547,512.1 548.7,511.7 550.5,511.5 552.2,511.6 554,511.3 555.7,511.1 557.4,510.3 559.2,510.1 560.9,509.8 562.7,509.6 564.4,509.2 566.2,508.9 567.9,508.5 569.6,508.3 571.4,507.8 573.1,507.5 574.9,507.2 576.6,506.9 578.4,506.8 580.1,506.5 581.8,506.5 583.6,506.3 585.3,505.9 587.1,505.5 588.8,505.3 590.6,505 592.3,504.6 594.1,504.3 595.8,504 597.5,503.7 599.3,503.5 601,503.3 602.8,502.9 604.5,502.5 606.3,502.2 608,502.1 609.7,501.8 611.5,502.1 613.2,502.1 615,502.1 616.7,501.5 618.5,501 620.2,500.6 621.9,499.6 623.7,499.3 625.4,498.9 627.2,499.5 628.9,499.5 630.7,499.5 632.4,499 634.2,498.6 635.9,498.2 637.6,497.8 639.4,497.3 641.1,497 642.9,496.9 644.6,496.3 646.4,495.9 648.1,495.4 649.8,495.4 651.6,495.1 653.3,494.9 655.1,494.3 656.8,494.1 658.6,493.7 660.3,493.5 662,493 663.8,492.8 665.5,492.4 667.3,492.1 669,491.5 670.8,491 672.5,490.3 674.3,489.7 676,489.4 677.7,489 679.5,488.5 681.2,487.8 683,487.4 684.7,487.3 686.5,486.9 688.2,486.5 689.9,486 691.7,486 693.4,485.9 695.2,485.6 696.9,485 698.7,484.7 700.4,484.4 702.1,484.7 703.9,484.6 705.6,484.8 707.4,484.5 709.1,484.4 710.9,484.4 712.6,484.6 714.4,484.7 716.1,484.9 717.8,484.9 719.6,485.1 721.3,484.9 723.1,485.4 724.8,485.6 726.6,486.5 728.3,486.8 730,487.3 731.8,487.7 733.5,488.2 735.3,489 737,489.7 738.8,490.6 740.5,491.3 742.3,492.1 744,492.6 745.7,493.1 747.5,493.5 749.2,494.2 751,495.4 752.7,496.5 754.5,497.8 756.2,498.6 757.9,499.5 759.7,500.8 761.4,502.2 763.2,503.2 764.9,503.8 766.7,505.2 768.4,506.9 770.1,508.4 771.9,509.8 773.6,511 775.4,512.7 777.1,513.9 778.9,515.2 780.6,516.4 782.4,517.8 784.1,519.2 785.8,520.6 787.6,522.2 789.3,523.9 791.1,525.9 792.8,527.5 794.6,529.2 796.3,530.6 798,532.2 799.8,534 801.5,535.4 803.3,536.7 805,538 806.8,539.5 808.5,541 810.2,542.7 812,544.3 813.7,546.1 815.5,547.3 817.2,548.3 819,549.3 820.7,550.8 822.5,552.4 824.2,553.6 825.9,554.7 827.7,555.7 829.4,556.8 831.2,557.6 832.9,558.6 834.7,559.4 836.4,560.8 838.1,561.9 839.9,563.1 841.6,564.2 843.4,565.2 845.1,566.3 846.9,567 848.6,567.6 850.3,567.9 852.1,568.2 853.8,568.8 855.6,569.8 857.3,570.6 859.1,571.9 860.8,572.6 862.6,573.4 864.3,573.7 866,574.2 867.8,574.7 869.5,575 871.3,575.7 873,576.6 874.8,577 876.5,577.4" stroke="#dedeff" stroke-width="2.2"/>
</g>
<rect x="178.7" y="24.3" width="702.3" height="565.7" fill="none" stroke="#404040" stroke-width="2.4"/>
<rect x="175.7" y="571" width="701.3" height="18.4" fill="url(#spec)"/>
<g stroke="#404040" stroke-width="2.4"><line x1="179.1" y1="590" x2="179.1" y2="602"/><line x1="266.3" y1="590" x2="266.3" y2="597"/><line x1="353.4" y1="590" x2="353.4" y2="602"/><line x1="440.6" y1="590" x2="440.6" y2="597"/><line x1="527.8" y1="590" x2="527.8" y2="602"/><line x1="615" y1="590" x2="615" y2="597"/><line x1="702.1" y1="590" x2="702.1" y2="602"/><line x1="789.3" y1="590" x2="789.3" y2="597"/><line x1="876.5" y1="590" x2="876.5" y2="602"/><line x1="178.7" y1="548.3" x2="171.7" y2="548.3"/><line x1="178.7" y1="496.7" x2="166.7" y2="496.7"/><line x1="178.7" y1="445.1" x2="171.7" y2="445.1"/><line x1="178.7" y1="393.6" x2="166.7" y2="393.6"/><line x1="178.7" y1="342" x2="171.7" y2="342"/><line x1="178.7" y1="290.4" x2="166.7" y2="290.4"/><line x1="178.7" y1="238.8" x2="171.7" y2="238.8"/><line x1="178.7" y1="187.2" x2="166.7" y2="187.2"/><line x1="178.7" y1="135.7" x2="171.7" y2="135.7"/><line x1="178.7" y1="84.1" x2="166.7" y2="84.1"/><line x1="178.7" y1="32.5" x2="171.7" y2="32.5"/></g>
<text x="179.1" y="627.4" font-size="25" text-anchor="middle" fill="#3a3a3a" letter-spacing="-0.7">500</text>
<text x="353.4" y="627.4" font-size="25" text-anchor="middle" fill="#3a3a3a" letter-spacing="-0.7">550</text>
<text x="527.8" y="627.4" font-size="25" text-anchor="middle" fill="#3a3a3a" letter-spacing="-0.7">600</text>
<text x="702.1" y="627.4" font-size="25" text-anchor="middle" fill="#3a3a3a" letter-spacing="-0.7">650</text>
<text x="876.5" y="627.4" font-size="25" text-anchor="middle" fill="#3a3a3a" letter-spacing="-0.7">700</text>
<text x="158" y="504" font-size="25" text-anchor="end" fill="#3a3a3a" >0.2</text>
<text x="158" y="400.9" font-size="25" text-anchor="end" fill="#3a3a3a" >0.3</text>
<text x="158" y="297.7" font-size="25" text-anchor="end" fill="#3a3a3a" >0.4</text>
<text x="158" y="194.6" font-size="25" text-anchor="end" fill="#3a3a3a" >0.5</text>
<text x="158" y="91.4" font-size="25" text-anchor="end" fill="#3a3a3a" >0.6</text>
<text x="530" y="675.4" font-size="30" text-anchor="middle" fill="#3a3a3a" >Wavelehght (nm)</text>
<text transform="translate(86 317) rotate(-90)" font-size="30" text-anchor="middle" fill="#3a3a3a" >Absorption (%)</text>
<text x="215" y="77.5" font-size="32.3" text-anchor="start" fill="#3a3a3a" >0% ZGO</text>
<line x1="205.3" y1="126.2" x2="273.8" y2="126.2" stroke="#565689" stroke-width="3"/>
<text x="279.5" y="135.2" font-size="29.5" text-anchor="start" fill="#3a3a3a" >Methylene Blue</text>
<line x1="205.3" y1="162.4" x2="273.8" y2="162.4" stroke="#58589e" stroke-width="3"/>
<text x="279.5" y="171" font-size="29.5" text-anchor="start" fill="#3a3a3a" >Adsorption</text>
<line x1="205.3" y1="198.4" x2="273.8" y2="198.4" stroke="#5a5ab4" stroke-width="3"/>
<text x="279.5" y="207" font-size="29.5" text-anchor="start" fill="#3a3a3a" >20 min</text>
<line x1="205.3" y1="234.4" x2="273.8" y2="234.4" stroke="#5858c8" stroke-width="3"/>
<text x="279.5" y="243" font-size="29.5" text-anchor="start" fill="#3a3a3a" >40 min</text>
<line x1="205.3" y1="270.3" x2="273.8" y2="270.3" stroke="#5a5ae0" stroke-width="3"/>
<text x="279.5" y="279" font-size="29.5" text-anchor="start" fill="#3a3a3a" >60 min</text>
<line x1="205.3" y1="306.3" x2="273.8" y2="306.3" stroke="#5c5cf4" stroke-width="3"/>
<text x="279.5" y="315" font-size="29.5" text-anchor="start" fill="#3a3a3a" >80 min</text>
<line x1="205.3" y1="344" x2="273.8" y2="344" stroke="#6868f8" stroke-width="3"/>
<text x="279.5" y="353.1" font-size="29.5" text-anchor="start" fill="#3a3a3a" >100 min</text>
<line x1="205.3" y1="380.4" x2="273.8" y2="380.4" stroke="#8080fa" stroke-width="3"/>
<text x="279.5" y="388.9" font-size="29.5" text-anchor="start" fill="#3a3a3a" >120 min</text>
<line x1="205.3" y1="416.2" x2="273.8" y2="416.2" stroke="#a0a0fc" stroke-width="3"/>
<text x="279.5" y="424.9" font-size="29.5" text-anchor="start" fill="#3a3a3a" >140 min</text>
<line x1="205.3" y1="452.3" x2="273.8" y2="452.3" stroke="#c0c0fd" stroke-width="3"/>
<text x="279.5" y="461.4" font-size="29.5" text-anchor="start" fill="#3a3a3a" >160 min</text>
<line x1="205.3" y1="488.8" x2="273.8" y2="488.8" stroke="#e0e0ff" stroke-width="3"/>
<text x="279.5" y="497.4" font-size="29.5" text-anchor="start" fill="#3a3a3a" >180 min</text>
<rect x="26" y="21.3" width="86" height="83.3" rx="2" fill="#000"/>
<text transform="translate(53.1 88.2) scale(0.850 1)" font-size="68.7" fill="#fff">a</text>
<clipPath id="clipb"><rect x="1109.7" y="23.9" width="701.8" height="566.2"/></clipPath>
<g clip-path="url(#clipb)" fill="none" stroke-linejoin="round" stroke-linecap="round">
<polyline points="1109.7,564.7 1111.5,564.6 1113.2,564.7 1115,564.8 1116.7,564.6 1118.5,564.4 1120.2,564.5 1122,564.9 1123.7,565.1 1125.5,565.1 1127.2,564.8 1129,564.8 1130.7,564.7 1132.5,565.1 1134.2,565.3 1136,565.2 1137.7,565.1 1139.5,564.7 1141.2,564.7 1143,564.5 1144.7,564.8 1146.5,564.7 1148.2,564.4 1150,564.1 1151.7,564.1 1153.5,564.6 1155.3,565 1157,565.1 1158.8,565.1 1160.5,565 1162.3,565.1 1164,565.4 1165.8,565.1 1167.5,565.1 1169.3,564.8 1171,564.9 1172.8,564.9 1174.5,564.9 1176.3,564.8 1178,564.4 1179.8,564.8 1181.5,565.3 1183.3,565.2 1185,564.8 1186.8,564.5 1188.5,565.1 1190.3,565.4 1192,565.2 1193.8,565.2 1195.5,565.5 1197.3,566 1199.1,565.8 1200.8,565.6 1202.6,565.2 1204.3,564.9 1206.1,564.8 1207.8,564.8 1209.6,564.9 1211.3,565.3 1213.1,565.1 1214.8,565.1 1216.6,564.7 1218.3,564.7 1220.1,564.9 1221.8,565 1223.6,564.8 1225.3,564.5 1227.1,563.8 1228.8,563.5 1230.6,563.4 1232.3,563.6 1234.1,563.9 1235.8,563.5 1237.6,563.2 1239.3,562.7 1241.1,562.5 1242.9,562.1 1244.6,562.1 1246.4,561.8 1248.1,561.7 1249.9,561.3 1251.6,560.8 1253.4,560.3 1255.1,559.6 1256.9,559.7 1258.6,559.2 1260.4,558.7 1262.1,558.4 1263.9,557.9 1265.6,557.5 1267.4,556.7 1269.1,556.1 1270.9,555.5 1272.6,555.1 1274.4,554.4 1276.1,553.2 1277.9,552.4 1279.6,551.8 1281.4,551.1 1283.1,550.4 1284.9,549.5 1286.7,549 1288.4,548.3 1290.2,547.1 1291.9,546 1293.7,544.9 1295.4,543.9 1297.2,543 1298.9,541.7 1300.7,540.6 1302.4,538.8 1304.2,537.8 1305.9,536.6 1307.7,535.8 1309.4,535 1311.2,534.1 1312.9,533 1314.7,531.4 1316.4,530.2 1318.2,529 1319.9,528.2 1321.7,527.2 1323.4,526.1 1325.2,524.6 1326.9,523.2 1328.7,522.1 1330.5,521.3 1332.2,520.6 1334,519.3 1335.7,517.8 1337.5,516.5 1339.2,515.9 1341,514.8 1342.7,513.4 1344.5,512 1346.2,511.3 1348,510.2 1349.7,509.1 1351.5,507.6 1353.2,506.8 1355,505.7 1356.7,504.7 1358.5,503.6 1360.2,502.4 1362,501.4 1363.7,500.1 1365.5,498.8 1367.2,497.3 1369,496 1370.7,495 1372.5,493.8 1374.3,492.3 1376,490.6 1377.8,489.1 1379.5,488 1381.3,486.7 1383,485.2 1384.8,483.5 1386.5,481.8 1388.3,480.3 1390,478.5 1391.8,476.9 1393.5,475.3 1395.3,473.5 1397,471.8 1398.8,469.9 1400.5,467.9 1402.3,465.7 1404,463.4 1405.8,461.3 1407.5,459.1 1409.3,456.9 1411,454.5 1412.8,452.4 1414.5,450.3 1416.3,448.1 1418.1,445.5 1419.8,443.1 1421.6,440.5 1423.3,438.6 1425.1,435.8 1426.8,433.5 1428.6,430.5 1430.3,428.1 1432.1,425.4 1433.8,422.5 1435.6,419.5 1437.3,416.3 1439.1,413.7 1440.8,410.8 1442.6,407.8 1444.3,404.4 1446.1,401.5 1447.8,398.6 1449.6,395.7 1451.3,392.7 1453.1,390.2 1454.8,387.5 1456.6,385.1 1458.3,382.2 1460.1,379.4 1461.9,376.5 1463.6,373.5 1465.4,370.6 1467.1,367.9 1468.9,365.4 1470.6,363.1 1472.4,360.4 1474.1,357.9 1475.9,355.1 1477.6,352.6 1479.4,349.7 1481.1,347.7 1482.9,345.7 1484.6,343.7 1486.4,341.7 1488.1,339.7 1489.9,338.6 1491.6,337.3 1493.4,335.6 1495.1,334 1496.9,331.9 1498.6,330.8 1500.4,329.4 1502.1,328.5 1503.9,327.7 1505.7,326.8 1507.4,326.5 1509.2,325.8 1510.9,324.9 1512.7,324.4 1514.4,323.7 1516.2,323.7 1517.9,323.2 1519.7,323 1521.4,322.4 1523.2,322.1 1524.9,321.9 1526.7,321.8 1528.4,321.3 1530.2,320.8 1531.9,320.4 1533.7,320.2 1535.4,319.9 1537.2,319.4 1538.9,319.3 1540.7,319.2 1542.4,319 1544.2,318.8 1545.9,318.5 1547.7,318.4 1549.5,317.7 1551.2,316.8 1553,315.5 1554.7,314.7 1556.5,313.6 1558.2,312.4 1560,311.1 1561.7,309.6 1563.5,308.5 1565.2,306.8 1567,305.3 1568.7,303.7 1570.5,302.1 1572.2,300.5 1574,298.3 1575.7,296.1 1577.5,293.7 1579.2,291.9 1581,289.3 1582.7,286.6 1584.5,283.5 1586.2,281 1588,278.4 1589.7,275.3 1591.5,271.8 1593.3,268.2 1595,264.6 1596.8,261.1 1598.5,257.6 1600.3,253.9 1602,250.2 1603.8,246.2 1605.5,242.7 1607.3,238.7 1609,234.8 1610.8,230.9 1612.5,226.6 1614.3,222.1 1616,217.2 1617.8,212.7 1619.5,208 1621.3,203.6 1623,199.1 1624.8,194.3 1626.5,189.3 1628.3,184.2 1630,179.6 1631.8,174.6 1633.5,169.9 1635.3,165.4 1637.1,161.3 1638.8,157 1640.6,152.5 1642.3,148.4 1644.1,144.2 1645.8,140.3 1647.6,136.3 1649.3,132.4 1651.1,129 1652.8,125.4 1654.6,121.9 1656.3,118.2 1658.1,114.8 1659.8,111.4 1661.6,108 1663.3,104.8 1665.1,102 1666.8,99.6 1668.6,97.2 1670.3,94.7 1672.1,92.1 1673.8,89.5 1675.6,87.4 1677.3,85.2 1679.1,83.5 1680.9,81.7 1682.6,80.3 1684.4,79.7 1686.1,79.6 1687.9,80.2 1689.6,80.8 1691.4,81.7 1693.1,83.4 1694.9,85.1 1696.6,87.2 1698.4,89.3 1700.1,92.4 1701.9,95.7 1703.6,99.9 1705.4,104.7 1707.1,110.8 1708.9,116.8 1710.6,123.4 1712.4,130.3 1714.1,138.3 1715.9,146.5 1717.6,155.4 1719.4,164.4 1721.1,173.6 1722.9,182.8 1724.7,192.1 1726.4,202.1 1728.2,212.1 1729.9,222.2 1731.7,232 1733.4,242 1735.2,252 1736.9,262.2 1738.7,272.1 1740.4,282.7 1742.2,293 1743.9,304 1745.7,315 1747.4,327.4 1749.2,339.9 1750.9,352.5 1752.7,364.2 1754.4,375.1 1756.2,385.3 1757.9,394.9 1759.7,404 1761.4,412.9 1763.2,421.9 1764.9,430.4 1766.7,438.7 1768.5,446.7 1770.2,455 1772,463 1773.7,469.8 1775.5,476.1 1777.2,482.1 1779,488.2 1780.7,494.2 1782.5,499.4 1784.2,504.2 1786,508.6 1787.7,512.6 1789.5,516.4 1791.2,519.6 1793,522.6 1794.7,525 1796.5,527.6 1798.2,529.7 1800,532.3 1801.7,534.2 1803.5,536.2 1805.2,537.8 1807,539.9 1808.7,541.2 1810.5,542.1" stroke="#45457e" stroke-width="2.2"/>
<polyline points="1109.7,564.3 1111.5,564.5 1113.2,564.6 1115,565 1116.7,564.9 1118.5,564.6 1120.2,564.5 1122,564.7 1123.7,564.9 1125.5,564.7 1127.2,564.3 1129,564.3 1130.7,564.2 1132.5,564.5 1134.2,564.7 1136,564.5 1137.7,564.4 1139.5,564.3 1141.2,564.2 1143,564.5 1144.7,564.4 1146.5,564.6 1148.2,564.6 1150,564.6 1151.7,564.5 1153.5,564.4 1155.3,564.6 1157,564.9 1158.8,564.8 1160.5,564.9 1162.3,564.9 1164,564.9 1165.8,564.7 1167.5,564.8 1169.3,564.7 1171,564.8 1172.8,564.6 1174.5,564.4 1176.3,564.4 1178,564.5 1179.8,564.9 1181.5,565 1183.3,565 1185,564.5 1186.8,564.6 1188.5,564.6 1190.3,565 1192,564.7 1193.8,564.5 1195.5,564.5 1197.3,565 1199.1,565.3 1200.8,565.8 1202.6,565.3 1204.3,565.1 1206.1,564.9 1207.8,565.1 1209.6,565.4 1211.3,565.2 1213.1,565.2 1214.8,564.9 1216.6,564.6 1218.3,564.9 1220.1,565.2 1221.8,565.4 1223.6,565.1 1225.3,564.7 1227.1,564.6 1228.8,564.5 1230.6,564.4 1232.3,564 1234.1,563.6 1235.8,562.9 1237.6,563 1239.3,562.7 1241.1,562.8 1242.9,562.1 1244.6,562 1246.4,561.8 1248.1,561.9 1249.9,561.3 1251.6,561.3 1253.4,560.7 1255.1,560.5 1256.9,560 1258.6,559.8 1260.4,559.4 1262.1,558.4 1263.9,557.9 1265.6,557.2 1267.4,557.2 1269.1,556.9 1270.9,556.7 1272.6,556.3 1274.4,555.3 1276.1,554 1277.9,553.3 1279.6,552.8 1281.4,552.6 1283.1,551.3 1284.9,550.4 1286.7,549.4 1288.4,548.4 1290.2,548 1291.9,547.3 1293.7,546.9 1295.4,545.5 1297.2,544.5 1298.9,543.6 1300.7,542.6 1302.4,541.3 1304.2,540.4 1305.9,539.2 1307.7,538.1 1309.4,537.1 1311.2,536.4 1312.9,535.3 1314.7,534.3 1316.4,532.9 1318.2,532.3 1319.9,531.2 1321.7,530.4 1323.4,529 1325.2,527.7 1326.9,526.8 1328.7,525.7 1330.5,525 1332.2,523.9 1334,523 1335.7,521.8 1337.5,520.3 1339.2,519.2 1341,518.3 1342.7,518 1344.5,516.7 1346.2,515.6 1348,514.2 1349.7,513.2 1351.5,512.3 1353.2,510.9 1355,510.1 1356.7,509.2 1358.5,508.2 1360.2,506.6 1362,505.4 1363.7,504.7 1365.5,504.1 1367.2,503 1369,501.6 1370.7,500.4 1372.5,499.5 1374.3,498.5 1376,497 1377.8,495.2 1379.5,493.9 1381.3,492.5 1383,491.4 1384.8,489.8 1386.5,488.8 1388.3,487.3 1390,485.5 1391.8,484 1393.5,482.5 1395.3,481.3 1397,479.3 1398.8,477.6 1400.5,475.6 1402.3,473.7 1404,471.8 1405.8,470.1 1407.5,468.2 1409.3,466 1411,463.6 1412.8,461.5 1414.5,459.3 1416.3,457.2 1418.1,454.8 1419.8,452.9 1421.6,450.7 1423.3,448.3 1425.1,445.8 1426.8,443.5 1428.6,441.5 1430.3,439.3 1432.1,436.9 1433.8,434.1 1435.6,431 1437.3,428.4 1439.1,425.7 1440.8,422.9 1442.6,420.2 1444.3,417.3 1446.1,414.9 1447.8,412.3 1449.6,409.6 1451.3,407.1 1453.1,404 1454.8,401.4 1456.6,398.4 1458.3,396 1460.1,393.4 1461.9,390.8 1463.6,388.3 1465.4,385.9 1467.1,383.7 1468.9,381.1 1470.6,378.7 1472.4,376.3 1474.1,374.3 1475.9,372.2 1477.6,369.4 1479.4,366.9 1481.1,364.5 1482.9,362.8 1484.6,360.9 1486.4,359.1 1488.1,357 1489.9,355.9 1491.6,354.5 1493.4,353.5 1495.1,352 1496.9,350.7 1498.6,349.6 1500.4,348.3 1502.1,347.6 1503.9,346.8 1505.7,346.1 1507.4,345.5 1509.2,344.8 1510.9,344.3 1512.7,343.6 1514.4,343.2 1516.2,342.8 1517.9,342.1 1519.7,341.7 1521.4,341.4 1523.2,341.2 1524.9,340.9 1526.7,340.6 1528.4,340.9 1530.2,340.4 1531.9,340.1 1533.7,339.5 1535.4,339.3 1537.2,339.1 1538.9,338.8 1540.7,338.5 1542.4,338.4 1544.2,337.9 1545.9,337.3 1547.7,336.6 1549.5,336.2 1551.2,336 1553,335 1554.7,334.3 1556.5,333.2 1558.2,332.5 1560,331.4 1561.7,330.2 1563.5,329 1565.2,327.5 1567,325.9 1568.7,324.4 1570.5,322.8 1572.2,321.3 1574,319.3 1575.7,317.6 1577.5,315.1 1579.2,312.6 1581,310.2 1582.7,308 1584.5,305.8 1586.2,303.1 1588,300.4 1589.7,297.9 1591.5,294.8 1593.3,291.5 1595,287.6 1596.8,284.6 1598.5,281.7 1600.3,278.7 1602,275.1 1603.8,271.2 1605.5,267.8 1607.3,264.4 1609,260.9 1610.8,257.2 1612.5,253.5 1614.3,249.7 1616,245.6 1617.8,240.7 1619.5,236.2 1621.3,231.8 1623,228 1624.8,223.6 1626.5,219 1628.3,214.2 1630,209.8 1631.8,205.5 1633.5,201.7 1635.3,197.4 1637.1,193.2 1638.8,189.3 1640.6,185.7 1642.3,181.6 1644.1,177.6 1645.8,173.5 1647.6,169.9 1649.3,166.6 1651.1,163.3 1652.8,159.9 1654.6,156.7 1656.3,153.6 1658.1,150.7 1659.8,147.4 1661.6,144.5 1663.3,141.5 1665.1,138.9 1666.8,136.5 1668.6,134.7 1670.3,132.2 1672.1,130 1673.8,127.4 1675.6,125.3 1677.3,123.1 1679.1,121.2 1680.9,119.9 1682.6,118.6 1684.4,117.8 1686.1,117.7 1687.9,118 1689.6,119 1691.4,119.8 1693.1,121.1 1694.9,122.7 1696.6,125.1 1698.4,127.7 1700.1,130.1 1701.9,133.2 1703.6,136.7 1705.4,141.6 1707.1,146.2 1708.9,151.9 1710.6,157.9 1712.4,165 1714.1,172.1 1715.9,179.6 1717.6,187.9 1719.4,196.2 1721.1,204.7 1722.9,212.9 1724.7,221.4 1726.4,230.4 1728.2,239.7 1729.9,248.9 1731.7,258 1733.4,267.3 1735.2,276.8 1736.9,286 1738.7,295.1 1740.4,304.7 1742.2,314.6 1743.9,324.9 1745.7,335.1 1747.4,346 1749.2,357.6 1750.9,369.4 1752.7,380.7 1754.4,390.8 1756.2,400.1 1757.9,408.6 1759.7,417 1761.4,425.1 1763.2,432.8 1764.9,440.3 1766.7,447.8 1768.5,455.9 1770.2,463.6 1772,471.1 1773.7,477.3 1775.5,483.5 1777.2,489.2 1779,495 1780.7,500 1782.5,504.7 1784.2,508.9 1786,513.3 1787.7,517.1 1789.5,520.5 1791.2,523.1 1793,525.5 1794.7,528.2 1796.5,531 1798.2,533.5 1800,535.4 1801.7,537.2 1803.5,539.1 1805.2,541 1807,542.8 1808.7,544.2 1810.5,545.1" stroke="#474795" stroke-width="2.2"/>
<polyline points="1109.7,564.8 1111.5,564.7 1113.2,564.6 1115,564.8 1116.7,565 1118.5,564.9 1120.2,564.8 1122,564.5 1123.7,564.3 1125.5,564.1 1127.2,563.9 1129,564.2 1130.7,564.6 1132.5,564.9 1134.2,564.9 1136,564.7 1137.7,564.7 1139.5,565 1141.2,564.8 1143,564.8 1144.7,564.5 1146.5,564.8 1148.2,564.6 1150,564.4 1151.7,564.1 1153.5,564.4 1155.3,564.9 1157,564.9 1158.8,564.9 1160.5,564.3 1162.3,564.5 1164,564.6 1165.8,564.9 1167.5,565.2 1169.3,565 1171,564.9 1172.8,564.3 1174.5,564.2 1176.3,564 1178,564 1179.8,564.3 1181.5,564.5 1183.3,565.3 1185,565.1 1186.8,565.3 1188.5,564.9 1190.3,565.4 1192,565.1 1193.8,565.2 1195.5,565 1197.3,565.1 1199.1,565.4 1200.8,565.4 1202.6,565.4 1204.3,564.8 1206.1,564.7 1207.8,564.8 1209.6,565.1 1211.3,565 1213.1,564.9 1214.8,564.6 1216.6,564.6 1218.3,564.7 1220.1,564.9 1221.8,564.7 1223.6,564.5 1225.3,564.5 1227.1,564.2 1228.8,564 1230.6,563.8 1232.3,563.7 1234.1,563.2 1235.8,562.9 1237.6,562.5 1239.3,562.4 1241.1,562.2 1242.9,562.1 1244.6,561.4 1246.4,561 1248.1,560.7 1249.9,561 1251.6,560.8 1253.4,560.7 1255.1,560.5 1256.9,560 1258.6,559.7 1260.4,559 1262.1,558.4 1263.9,557.7 1265.6,557.7 1267.4,557.2 1269.1,556.9 1270.9,556 1272.6,555.4 1274.4,554.5 1276.1,553.5 1277.9,552.8 1279.6,552.2 1281.4,551.8 1283.1,551 1284.9,550.5 1286.7,549.8 1288.4,548.8 1290.2,547.6 1291.9,546.3 1293.7,545.6 1295.4,545.1 1297.2,544.6 1298.9,543.5 1300.7,542.3 1302.4,541.2 1304.2,540.4 1305.9,539.1 1307.7,537.7 1309.4,536.5 1311.2,535.9 1312.9,535.1 1314.7,534.6 1316.4,533.1 1318.2,532.3 1319.9,531.1 1321.7,530.2 1323.4,529.4 1325.2,528.3 1326.9,527.4 1328.7,526 1330.5,525.2 1332.2,524.2 1334,523.6 1335.7,522.4 1337.5,521.5 1339.2,520.6 1341,519.5 1342.7,518.4 1344.5,517.3 1346.2,516.5 1348,515.3 1349.7,513.9 1351.5,512.8 1353.2,512.1 1355,511.2 1356.7,509.8 1358.5,508.5 1360.2,507.8 1362,507.2 1363.7,506.4 1365.5,504.8 1367.2,503.8 1369,502.6 1370.7,501.7 1372.5,499.9 1374.3,498.8 1376,497.2 1377.8,496.4 1379.5,494.9 1381.3,493.8 1383,492.2 1384.8,491 1386.5,489.7 1388.3,488.4 1390,486.8 1391.8,485.7 1393.5,484.2 1395.3,482.5 1397,480.4 1398.8,478.5 1400.5,476.8 1402.3,475.2 1404,473.4 1405.8,471.2 1407.5,469.2 1409.3,467.2 1411,465.3 1412.8,463.1 1414.5,461.2 1416.3,459.4 1418.1,457.3 1419.8,454.8 1421.6,452.7 1423.3,450.6 1425.1,448 1426.8,445.5 1428.6,443.3 1430.3,441.4 1432.1,439 1433.8,436.3 1435.6,433.8 1437.3,431.2 1439.1,428.5 1440.8,425.6 1442.6,423.3 1444.3,420.7 1446.1,418.4 1447.8,415.3 1449.6,412.7 1451.3,410.3 1453.1,407.7 1454.8,405.5 1456.6,402.6 1458.3,400.4 1460.1,397.8 1461.9,395.5 1463.6,392.9 1465.4,390.6 1467.1,388.9 1468.9,386.7 1470.6,384.2 1472.4,381.4 1474.1,378.9 1475.9,376.6 1477.6,374.6 1479.4,372.7 1481.1,370.9 1482.9,368.5 1484.6,367.1 1486.4,365.5 1488.1,364.1 1489.9,362.4 1491.6,361.1 1493.4,359.5 1495.1,358 1496.9,356.8 1498.6,356 1500.4,354.9 1502.1,353.9 1503.9,352.9 1505.7,352.1 1507.4,351.3 1509.2,350.7 1510.9,350.4 1512.7,350 1514.4,349.5 1516.2,349 1517.9,348.5 1519.7,348.1 1521.4,347.6 1523.2,347.2 1524.9,346.9 1526.7,346.7 1528.4,346.3 1530.2,345.9 1531.9,345.6 1533.7,345.4 1535.4,345 1537.2,344.9 1538.9,344.7 1540.7,344.7 1542.4,344.4 1544.2,344.5 1545.9,344.3 1547.7,343.7 1549.5,342.7 1551.2,341.7 1553,340.5 1554.7,339.4 1556.5,338.8 1558.2,338.1 1560,337 1561.7,336.1 1563.5,335 1565.2,333.8 1567,332.1 1568.7,330.7 1570.5,328.9 1572.2,327.2 1574,325.2 1575.7,323.3 1577.5,321.4 1579.2,319.5 1581,317.5 1582.7,315.2 1584.5,312.9 1586.2,310.5 1588,307.8 1589.7,304.8 1591.5,302.1 1593.3,299 1595,296.3 1596.8,293.2 1598.5,290.4 1600.3,287.4 1602,284.3 1603.8,281.1 1605.5,277.7 1607.3,274.2 1609,270.4 1610.8,266.5 1612.5,262.9 1614.3,259.2 1616,255.7 1617.8,252 1619.5,248.3 1621.3,244.3 1623,239.9 1624.8,236.1 1626.5,231.8 1628.3,227.9 1630,223.7 1631.8,219.6 1633.5,215.7 1635.3,211.6 1637.1,207.7 1638.8,204 1640.6,200.4 1642.3,197.4 1644.1,194 1645.8,190.5 1647.6,187.2 1649.3,184.1 1651.1,180.8 1652.8,177.5 1654.6,174.1 1656.3,171.4 1658.1,169 1659.8,166.3 1661.6,164.2 1663.3,161.6 1665.1,159.7 1666.8,157.2 1668.6,155.2 1670.3,153 1672.1,151 1673.8,149 1675.6,147.4 1677.3,145.8 1679.1,144.6 1680.9,143.4 1682.6,142.6 1684.4,141.9 1686.1,141.7 1687.9,142.2 1689.6,143.4 1691.4,144.8 1693.1,146.4 1694.9,147.8 1696.6,149.9 1698.4,152.3 1700.1,155.1 1701.9,158 1703.6,161.7 1705.4,165.7 1707.1,170.9 1708.9,176.3 1710.6,182.4 1712.4,188.8 1714.1,195.9 1715.9,203.5 1717.6,211.1 1719.4,218.5 1721.1,226.4 1722.9,234.5 1724.7,243.1 1726.4,251.5 1728.2,260.2 1729.9,268.9 1731.7,277.7 1733.4,286.6 1735.2,295.3 1736.9,303.9 1738.7,312.5 1740.4,321.4 1742.2,330.7 1743.9,339.8 1745.7,349.9 1747.4,360.5 1749.2,371.8 1750.9,382.2 1752.7,392.5 1754.4,402.2 1756.2,411.2 1757.9,419.5 1759.7,427.2 1761.4,435.2 1763.2,442.6 1764.9,450.1 1766.7,457.4 1768.5,464.7 1770.2,471.4 1772,477.7 1773.7,484 1775.5,490 1777.2,495.7 1779,500.6 1780.7,505.3 1782.5,509.6 1784.2,513.8 1786,517.7 1787.7,521 1789.5,524.6 1791.2,527.5 1793,530.4 1794.7,532.4 1796.5,534.4 1798.2,536.7 1800,538.5 1801.7,540.6 1803.5,542.2 1805.2,544 1807,545.7 1808.7,546.7 1810.5,547.3" stroke="#4a4aae" stroke-width="2.2"/>
<polyline points="1109.7,564.5 1111.5,564.5 1113.2,564.9 1115,564.5 1116.7,564.6 1118.5,564.1 1120.2,564.4 1122,564.3 1123.7,564.8 1125.5,564.9 1127.2,565.3 1129,565.2 1130.7,565.5 1132.5,565.3 1134.2,565 1136,564.6 1137.7,564.4 1139.5,564.5 1141.2,564.9 1143,564.8 1144.7,564.7 1146.5,564.2 1148.2,564.4 1150,564.5 1151.7,564.8 1153.5,565.1 1155.3,565.1 1157,564.9 1158.8,564.3 1160.5,564 1162.3,564.1 1164,564.4 1165.8,564.8 1167.5,565 1169.3,564.7 1171,564.6 1172.8,564.7 1174.5,564.4 1176.3,564.3 1178,564.3 1179.8,564.6 1181.5,564.9 1183.3,564.9 1185,565.3 1186.8,565.2 1188.5,565.3 1190.3,564.9 1192,564.5 1193.8,564.2 1195.5,564.6 1197.3,564.9 1199.1,564.9 1200.8,564.4 1202.6,564.4 1204.3,564.2 1206.1,564.6 1207.8,564.6 1209.6,564.6 1211.3,564.6 1213.1,564.3 1214.8,564.1 1216.6,563.7 1218.3,564 1220.1,563.9 1221.8,564.1 1223.6,563.6 1225.3,563.5 1227.1,563.1 1228.8,563.1 1230.6,562.4 1232.3,562.1 1234.1,561.4 1235.8,561.7 1237.6,561.5 1239.3,561.2 1241.1,561 1242.9,560.9 1244.6,561 1246.4,560.4 1248.1,559.7 1249.9,558.9 1251.6,558.6 1253.4,558.1 1255.1,558.1 1256.9,557.3 1258.6,556.9 1260.4,556.6 1262.1,556.3 1263.9,556 1265.6,555 1267.4,554.3 1269.1,553.3 1270.9,552.8 1272.6,552.1 1274.4,551.8 1276.1,551.1 1277.9,550.1 1279.6,549.3 1281.4,548.3 1283.1,547.6 1284.9,546.6 1286.7,545.7 1288.4,545.4 1290.2,544.6 1291.9,544.1 1293.7,543.1 1295.4,542.2 1297.2,541.1 1298.9,540 1300.7,539.1 1302.4,538 1304.2,537.3 1305.9,536.3 1307.7,535.3 1309.4,533.9 1311.2,532.7 1312.9,531.8 1314.7,531.3 1316.4,530.4 1318.2,529.4 1319.9,527.9 1321.7,526.6 1323.4,525.5 1325.2,524.8 1326.9,524.1 1328.7,523.1 1330.5,522.3 1332.2,521 1334,520.3 1335.7,518.9 1337.5,517.6 1339.2,516.2 1341,515 1342.7,514.1 1344.5,512.9 1346.2,512.2 1348,510.8 1349.7,509.8 1351.5,508.3 1353.2,506.9 1355,505.9 1356.7,504.9 1358.5,504 1360.2,502.6 1362,501.2 1363.7,500.3 1365.5,499 1367.2,497.8 1369,496.3 1370.7,495.5 1372.5,494.2 1374.3,493.1 1376,491.6 1377.8,490.6 1379.5,489.4 1381.3,487.6 1383,485.9 1384.8,484.3 1386.5,483.3 1388.3,481.4 1390,479.8 1391.8,477.9 1393.5,476.2 1395.3,474.6 1397,472.9 1398.8,471.5 1400.5,469.5 1402.3,467.5 1404,465.3 1405.8,463.1 1407.5,461 1409.3,459 1411,457.3 1412.8,455.5 1414.5,453.1 1416.3,450.5 1418.1,447.9 1419.8,445.9 1421.6,444 1423.3,442.5 1425.1,440.2 1426.8,437.8 1428.6,434.9 1430.3,432.5 1432.1,430 1433.8,427.6 1435.6,425.1 1437.3,422.8 1439.1,419.9 1440.8,416.9 1442.6,414 1444.3,411.8 1446.1,409.2 1447.8,406.3 1449.6,403.5 1451.3,400.8 1453.1,398.4 1454.8,395.7 1456.6,393.4 1458.3,390.6 1460.1,388.2 1461.9,385.8 1463.6,383.5 1465.4,381.4 1467.1,379.5 1468.9,377.6 1470.6,375.1 1472.4,372.8 1474.1,370.4 1475.9,368.5 1477.6,366.2 1479.4,364.5 1481.1,362.4 1482.9,360.6 1484.6,359.3 1486.4,357.7 1488.1,356.2 1489.9,354.4 1491.6,353 1493.4,351.7 1495.1,350.5 1496.9,349.2 1498.6,348.1 1500.4,346.8 1502.1,346 1503.9,344.8 1505.7,344 1507.4,343.2 1509.2,342.5 1510.9,341.9 1512.7,341.2 1514.4,340.9 1516.2,340.3 1517.9,339.6 1519.7,338.9 1521.4,338.4 1523.2,337.9 1524.9,337.2 1526.7,336.7 1528.4,336.1 1530.2,335.7 1531.9,335.2 1533.7,334.9 1535.4,334.2 1537.2,333.8 1538.9,333.2 1540.7,333 1542.4,332.5 1544.2,332.5 1545.9,332.2 1547.7,331.9 1549.5,330.8 1551.2,329.8 1553,328.8 1554.7,327.2 1556.5,326.1 1558.2,324.9 1560,324.7 1561.7,323.9 1563.5,322.9 1565.2,321.3 1567,319.9 1568.7,318.3 1570.5,316.7 1572.2,315 1574,313.4 1575.7,311.8 1577.5,309.7 1579.2,307.7 1581,305.5 1582.7,303.7 1584.5,301.6 1586.2,299.4 1588,296.8 1589.7,294.6 1591.5,292 1593.3,289.6 1595,286.7 1596.8,284.1 1598.5,281.3 1600.3,278.5 1602,275.4 1603.8,272.3 1605.5,269 1607.3,265.7 1609,262.7 1610.8,259.5 1612.5,256.2 1614.3,252.6 1616,249.1 1617.8,245.8 1619.5,242.3 1621.3,238.6 1623,234.8 1624.8,231.4 1626.5,228.1 1628.3,224.5 1630,220.6 1631.8,217.1 1633.5,213.7 1635.3,210.8 1637.1,207.7 1638.8,205 1640.6,201.8 1642.3,198.7 1644.1,195.9 1645.8,193.4 1647.6,190.9 1649.3,188.5 1651.1,186 1652.8,183.7 1654.6,181.2 1656.3,179.4 1658.1,177.2 1659.8,175.8 1661.6,174 1663.3,172.4 1665.1,170.8 1666.8,169.4 1668.6,168.4 1670.3,167.5 1672.1,166.7 1673.8,165.8 1675.6,165.1 1677.3,164.2 1679.1,163.5 1680.9,162.8 1682.6,162.7 1684.4,163.3 1686.1,164.3 1687.9,165.8 1689.6,167.2 1691.4,168.9 1693.1,171.2 1694.9,173.7 1696.6,176.1 1698.4,178.3 1700.1,181.7 1701.9,185.7 1703.6,190.1 1705.4,194.8 1707.1,199.7 1708.9,205.6 1710.6,211.4 1712.4,217.8 1714.1,224.4 1715.9,231.4 1717.6,238.7 1719.4,246.1 1721.1,253.9 1722.9,262.1 1724.7,270.5 1726.4,278.8 1728.2,287.3 1729.9,295.5 1731.7,303.9 1733.4,312.6 1735.2,320.8 1736.9,329 1738.7,337.1 1740.4,345.5 1742.2,354.1 1743.9,363.3 1745.7,372.9 1747.4,383.1 1749.2,392.8 1750.9,402.2 1752.7,411.3 1754.4,420.2 1756.2,428.8 1757.9,436.4 1759.7,443.6 1761.4,450.6 1763.2,457.5 1764.9,464.1 1766.7,470.7 1768.5,476.9 1770.2,483.5 1772,489.6 1773.7,495.3 1775.5,500.7 1777.2,505.8 1779,510.7 1780.7,514.9 1782.5,518.7 1784.2,522 1786,525.1 1787.7,528.1 1789.5,531.2 1791.2,533.8 1793,536.6 1794.7,538.6 1796.5,540.6 1798.2,542 1800,543.5 1801.7,544.9 1803.5,546.1 1805.2,547.6 1807,549.2 1808.7,550 1810.5,550.3" stroke="#4c4cc8" stroke-width="2.2"/>
<polyline points="1109.7,564.1 1111.5,564.1 1113.2,564.1 1115,564.4 1116.7,564.7 1118.5,564.9 1120.2,564.6 1122,564.3 1123.7,564.6 1125.5,564.9 1127.2,565.2 1129,564.9 1130.7,564.3 1132.5,564.2 1134.2,564.3 1136,564.6 1137.7,564.9 1139.5,564.6 1141.2,564.7 1143,564.5 1144.7,564.6 1146.5,564.7 1148.2,564.8 1150,565.2 1151.7,565.2 1153.5,564.8 1155.3,564.7 1157,564.8 1158.8,565 1160.5,564.7 1162.3,564.5 1164,564.2 1165.8,564.1 1167.5,564 1169.3,564.1 1171,564.3 1172.8,564.2 1174.5,564 1176.3,564.2 1178,564.1 1179.8,564.3 1181.5,563.9 1183.3,564.3 1185,564.3 1186.8,564.7 1188.5,564.7 1190.3,564.8 1192,564.8 1193.8,564.9 1195.5,564.9 1197.3,565.1 1199.1,564.9 1200.8,564.9 1202.6,564.8 1204.3,564.5 1206.1,564.6 1207.8,564.5 1209.6,564.7 1211.3,564.6 1213.1,564.2 1214.8,564.1 1216.6,563.6 1218.3,563.3 1220.1,563 1221.8,562.9 1223.6,563 1225.3,562.5 1227.1,562.3 1228.8,562.1 1230.6,562 1232.3,562.1 1234.1,561.7 1235.8,561.4 1237.6,560.5 1239.3,560.1 1241.1,559.7 1242.9,559.5 1244.6,559.3 1246.4,559 1248.1,558.7 1249.9,558.1 1251.6,557.6 1253.4,557 1255.1,556.2 1256.9,555.7 1258.6,555 1260.4,554.6 1262.1,554.2 1263.9,554.1 1265.6,554.1 1267.4,553.3 1269.1,552.9 1270.9,551.9 1272.6,551 1274.4,549.9 1276.1,549.2 1277.9,548.4 1279.6,547.4 1281.4,546.6 1283.1,546.1 1284.9,545.6 1286.7,544.8 1288.4,543.7 1290.2,542.8 1291.9,541.8 1293.7,541.3 1295.4,540.4 1297.2,539.5 1298.9,538.1 1300.7,536.7 1302.4,536 1304.2,535.2 1305.9,534.3 1307.7,533.3 1309.4,532.4 1311.2,531.6 1312.9,530.5 1314.7,529.3 1316.4,528.2 1318.2,527.4 1319.9,526.8 1321.7,525.8 1323.4,524.7 1325.2,523.5 1326.9,522.2 1328.7,521.1 1330.5,519.5 1332.2,519 1334,517.8 1335.7,516.9 1337.5,515.6 1339.2,514.9 1341,514.5 1342.7,513.2 1344.5,512 1346.2,510.2 1348,509.2 1349.7,508 1351.5,506.9 1353.2,505.7 1355,504.4 1356.7,503.3 1358.5,502.1 1360.2,500.9 1362,499.6 1363.7,497.9 1365.5,497 1367.2,495.6 1369,494.9 1370.7,493.7 1372.5,492.9 1374.3,491.5 1376,489.7 1377.8,487.9 1379.5,486.3 1381.3,485 1383,483.8 1384.8,482.1 1386.5,480.5 1388.3,478.5 1390,477.2 1391.8,475.7 1393.5,474.2 1395.3,472.3 1397,470.5 1398.8,468.3 1400.5,466.4 1402.3,464.4 1404,462.5 1405.8,460.6 1407.5,458.2 1409.3,456.1 1411,454 1412.8,451.9 1414.5,450 1416.3,447.7 1418.1,445.8 1419.8,443.6 1421.6,441.5 1423.3,439.2 1425.1,436.8 1426.8,434.5 1428.6,432.4 1430.3,429.9 1432.1,427.4 1433.8,424.7 1435.6,422.3 1437.3,419.8 1439.1,417.2 1440.8,414.7 1442.6,411.9 1444.3,409.2 1446.1,406.3 1447.8,403.7 1449.6,400.9 1451.3,398.3 1453.1,396 1454.8,393.8 1456.6,391.4 1458.3,388.8 1460.1,386.4 1461.9,384.2 1463.6,381.8 1465.4,379.6 1467.1,377.2 1468.9,375 1470.6,372.9 1472.4,371.1 1474.1,369 1475.9,367 1477.6,365 1479.4,363 1481.1,361.5 1482.9,359.6 1484.6,357.9 1486.4,356.1 1488.1,354.7 1489.9,353.3 1491.6,351.8 1493.4,350.5 1495.1,349.5 1496.9,348.4 1498.6,347 1500.4,345.9 1502.1,345.1 1503.9,344.3 1505.7,343.5 1507.4,342.8 1509.2,342.4 1510.9,341.5 1512.7,340.4 1514.4,339.1 1516.2,338.5 1517.9,338.4 1519.7,337.8 1521.4,337.2 1523.2,336.3 1524.9,336 1526.7,335.2 1528.4,334.4 1530.2,333.8 1531.9,333.2 1533.7,332.8 1535.4,332.3 1537.2,332.2 1538.9,331.5 1540.7,331.2 1542.4,330.5 1544.2,330.4 1545.9,329.6 1547.7,328.9 1549.5,327.8 1551.2,326.8 1553,325.7 1554.7,325 1556.5,324.1 1558.2,323.4 1560,322.3 1561.7,321.3 1563.5,319.8 1565.2,318.3 1567,316.9 1568.7,315.7 1570.5,314.2 1572.2,312.3 1574,310.5 1575.7,309.1 1577.5,307 1579.2,305.2 1581,302.9 1582.7,301.1 1584.5,299.2 1586.2,297.5 1588,295.6 1589.7,293.3 1591.5,290.6 1593.3,288.1 1595,285.5 1596.8,283.1 1598.5,280.7 1600.3,278 1602,275.4 1603.8,272.7 1605.5,269.9 1607.3,267.1 1609,263.6 1610.8,260.5 1612.5,257.4 1614.3,254.4 1616,251.5 1617.8,248.5 1619.5,245.4 1621.3,242.1 1623,238.4 1624.8,235 1626.5,232 1628.3,229 1630,225.9 1631.8,222.9 1633.5,219.6 1635.3,216.9 1637.1,213.9 1638.8,211.4 1640.6,209.2 1642.3,206.9 1644.1,204.6 1645.8,202.3 1647.6,200 1649.3,198 1651.1,196 1652.8,194.5 1654.6,192.9 1656.3,191.4 1658.1,190 1659.8,189.2 1661.6,187.9 1663.3,186.5 1665.1,185.4 1666.8,184.9 1668.6,184.3 1670.3,183.6 1672.1,183.3 1673.8,182.8 1675.6,182.6 1677.3,182.4 1679.1,182.2 1680.9,182.3 1682.6,182.8 1684.4,183.9 1686.1,185.1 1687.9,186.2 1689.6,188.3 1691.4,190.7 1693.1,193.4 1694.9,195.5 1696.6,198.3 1698.4,201.4 1700.1,205.1 1701.9,209 1703.6,213.4 1705.4,218.2 1707.1,223.6 1708.9,229.1 1710.6,235.3 1712.4,241.4 1714.1,247.8 1715.9,254.2 1717.6,261.2 1719.4,268.7 1721.1,275.9 1722.9,283.6 1724.7,291.2 1726.4,299.7 1728.2,307.7 1729.9,316 1731.7,323.8 1733.4,332.1 1735.2,340.1 1736.9,348.6 1738.7,356.4 1740.4,364.4 1742.2,372.4 1743.9,380.8 1745.7,390 1747.4,398.9 1749.2,408 1750.9,416.6 1752.7,425.4 1754.4,433.7 1756.2,441.5 1757.9,448.5 1759.7,455.3 1761.4,462 1763.2,468.8 1764.9,474.9 1766.7,481.1 1768.5,487.1 1770.2,492.9 1772,498.3 1773.7,503.7 1775.5,509.2 1777.2,513.5 1779,517.6 1780.7,521.5 1782.5,525.5 1784.2,528.8 1786,531.7 1787.7,534.3 1789.5,536.9 1791.2,539.2 1793,541.4 1794.7,542.9 1796.5,544.2 1798.2,545.5 1800,547 1801.7,548.7 1803.5,550.1 1805.2,551.5 1807,552.2 1808.7,552.3 1810.5,552.1" stroke="#4c4ce0" stroke-width="2.2"/>
<polyline points="1109.7,564.7 1111.5,564.9 1113.2,565 1115,564.9 1116.7,564.7 1118.5,565 1120.2,565 1122,565.1 1123.7,564.9 1125.5,564.8 1127.2,564.7 1129,564.6 1130.7,564.8 1132.5,564.7 1134.2,564.6 1136,564.7 1137.7,564.8 1139.5,564.8 1141.2,564.8 1143,565 1144.7,564.9 1146.5,564.5 1148.2,564.2 1150,564.6 1151.7,564.6 1153.5,564.9 1155.3,564.7 1157,564.7 1158.8,564.4 1160.5,564.4 1162.3,564.3 1164,564.4 1165.8,564.4 1167.5,564.6 1169.3,564.1 1171,564.2 1172.8,564.3 1174.5,564.5 1176.3,564.3 1178,564.1 1179.8,564.3 1181.5,564.6 1183.3,564.7 1185,564.8 1186.8,564.7 1188.5,564.9 1190.3,564.9 1192,564.7 1193.8,564.8 1195.5,564.7 1197.3,564.6 1199.1,564.5 1200.8,564.4 1202.6,564.5 1204.3,564.3 1206.1,564.2 1207.8,564 1209.6,564.2 1211.3,564.3 1213.1,564.5 1214.8,564.3 1216.6,564 1218.3,563.5 1220.1,563.3 1221.8,562.7 1223.6,562.5 1225.3,561.9 1227.1,561.7 1228.8,561.3 1230.6,561.3 1232.3,561.1 1234.1,561.1 1235.8,561 1237.6,560.5 1239.3,560 1241.1,559.4 1242.9,559.7 1244.6,559.6 1246.4,559.2 1248.1,558.4 1249.9,558 1251.6,557.5 1253.4,557.2 1255.1,556.5 1256.9,555.9 1258.6,555.2 1260.4,554.5 1262.1,554.2 1263.9,553.8 1265.6,553.5 1267.4,553 1269.1,552.6 1270.9,551.9 1272.6,551.4 1274.4,550.5 1276.1,549.6 1277.9,548.8 1279.6,548 1281.4,547.2 1283.1,546.6 1284.9,546.1 1286.7,545.4 1288.4,544.4 1290.2,543.5 1291.9,542.7 1293.7,541.8 1295.4,540.7 1297.2,539.6 1298.9,538.5 1300.7,537.6 1302.4,537 1304.2,536.2 1305.9,535.5 1307.7,534.4 1309.4,533.3 1311.2,532.2 1312.9,531.6 1314.7,530.7 1316.4,530 1318.2,528.8 1319.9,528 1321.7,526.8 1323.4,525.8 1325.2,524.8 1326.9,523.8 1328.7,522.6 1330.5,521.6 1332.2,520.6 1334,519.9 1335.7,518.6 1337.5,517.4 1339.2,515.9 1341,514.9 1342.7,514.2 1344.5,513.8 1346.2,512.6 1348,511.5 1349.7,510.3 1351.5,509.6 1353.2,508.6 1355,507.3 1356.7,506 1358.5,504.7 1360.2,503.5 1362,502.3 1363.7,501.4 1365.5,500.3 1367.2,499 1369,497.2 1370.7,495.6 1372.5,494.2 1374.3,492.8 1376,491.5 1377.8,490.3 1379.5,489.1 1381.3,487.4 1383,486 1384.8,484.8 1386.5,483.6 1388.3,481.8 1390,479.7 1391.8,478 1393.5,476.5 1395.3,474.7 1397,473.1 1398.8,471.4 1400.5,469.7 1402.3,467.9 1404,466 1405.8,464.2 1407.5,462.4 1409.3,460.3 1411,458.7 1412.8,456.6 1414.5,454.5 1416.3,451.9 1418.1,449.9 1419.8,448 1421.6,446 1423.3,443.6 1425.1,441.5 1426.8,439.8 1428.6,438.1 1430.3,436 1432.1,433.4 1433.8,430.9 1435.6,428.4 1437.3,426.2 1439.1,423.4 1440.8,420.9 1442.6,418.4 1444.3,415.9 1446.1,413.5 1447.8,410.8 1449.6,408.4 1451.3,405.9 1453.1,403.3 1454.8,400.9 1456.6,398.5 1458.3,396.7 1460.1,394.2 1461.9,392.3 1463.6,389.8 1465.4,387.9 1467.1,385.5 1468.9,384 1470.6,382 1472.4,380.2 1474.1,378.3 1475.9,376.5 1477.6,374.6 1479.4,372.7 1481.1,370.9 1482.9,369.4 1484.6,367.5 1486.4,366.3 1488.1,365 1489.9,364 1491.6,362.6 1493.4,361.2 1495.1,359.7 1496.9,358.4 1498.6,357.4 1500.4,356.3 1502.1,355.5 1503.9,354.4 1505.7,354.1 1507.4,353.2 1509.2,352.4 1510.9,351.3 1512.7,350.3 1514.4,349.9 1516.2,349.4 1517.9,349.2 1519.7,348.6 1521.4,348 1523.2,347.2 1524.9,346 1526.7,345.5 1528.4,344.7 1530.2,344.8 1531.9,344 1533.7,343.6 1535.4,342.9 1537.2,342.2 1538.9,341.7 1540.7,341.1 1542.4,340.8 1544.2,340 1545.9,339.9 1547.7,338.7 1549.5,338.2 1551.2,337.3 1553,336.5 1554.7,335.7 1556.5,334.9 1558.2,334.3 1560,333.2 1561.7,331.6 1563.5,330.5 1565.2,329.3 1567,327.8 1568.7,326.3 1570.5,324.7 1572.2,323.9 1574,322.3 1575.7,321.1 1577.5,319.1 1579.2,317.7 1581,315.7 1582.7,314.1 1584.5,312 1586.2,309.9 1588,307.8 1589.7,305.8 1591.5,303.8 1593.3,301.3 1595,298.9 1596.8,296.6 1598.5,294.2 1600.3,291.6 1602,289.4 1603.8,286.9 1605.5,284.7 1607.3,282.1 1609,279.3 1610.8,276.5 1612.5,273.8 1614.3,271.5 1616,268.3 1617.8,265.4 1619.5,262.2 1621.3,259.4 1623,256.5 1624.8,253.4 1626.5,250.9 1628.3,247.7 1630,245.1 1631.8,242.2 1633.5,240 1635.3,237.2 1637.1,234.7 1638.8,232.2 1640.6,230 1642.3,227.9 1644.1,225.9 1645.8,224.3 1647.6,222.7 1649.3,220.9 1651.1,219.2 1652.8,217.8 1654.6,216.8 1656.3,215.9 1658.1,214.6 1659.8,213.6 1661.6,212.4 1663.3,211.7 1665.1,210.8 1666.8,210.6 1668.6,210 1670.3,210.1 1672.1,209.9 1673.8,209.9 1675.6,209.9 1677.3,209.9 1679.1,210.1 1680.9,210.8 1682.6,211.5 1684.4,212.8 1686.1,213.6 1687.9,215.2 1689.6,217.1 1691.4,219.4 1693.1,222 1694.9,224.7 1696.6,227.6 1698.4,230.9 1700.1,234.4 1701.9,238.5 1703.6,242.2 1705.4,246.4 1707.1,251 1708.9,256.3 1710.6,262.3 1712.4,268.1 1714.1,274.3 1715.9,280.3 1717.6,287.4 1719.4,294 1721.1,301.1 1722.9,307.9 1724.7,315.5 1726.4,322.9 1728.2,330.3 1729.9,337.6 1731.7,344.8 1733.4,352.4 1735.2,360.1 1736.9,368 1738.7,375.2 1740.4,382.4 1742.2,390 1743.9,398 1745.7,406.4 1747.4,414.9 1749.2,423 1750.9,431 1752.7,438.7 1754.4,446.3 1756.2,453.3 1757.9,460 1759.7,466.3 1761.4,472.3 1763.2,478.3 1764.9,484.8 1766.7,490.6 1768.5,496.4 1770.2,501.1 1772,505.8 1773.7,510.1 1775.5,514.6 1777.2,519.3 1779,523.4 1780.7,527 1782.5,530.1 1784.2,533.3 1786,536.6 1787.7,539.4 1789.5,541.6 1791.2,543.2 1793,544.8 1794.7,546.3 1796.5,548 1798.2,549.6 1800,551.2 1801.7,552.1 1803.5,553 1805.2,553.9 1807,555.1 1808.7,555.2 1810.5,555" stroke="#4a4af4" stroke-width="2.2"/>
<polyline points="1109.7,564.7 1111.5,564.7 1113.2,564.5 1115,563.9 1116.7,563.9 1118.5,564 1120.2,564.6 1122,564.6 1123.7,564.8 1125.5,564.7 1127.2,564.7 1129,564.6 1130.7,564.5 1132.5,564.5 1134.2,564.5 1136,564.7 1137.7,564.9 1139.5,565.1 1141.2,564.8 1143,564.4 1144.7,564.5 1146.5,564.4 1148.2,564.6 1150,564.3 1151.7,564.5 1153.5,564.7 1155.3,565 1157,565.2 1158.8,565 1160.5,564.5 1162.3,564.5 1164,564.3 1165.8,564.5 1167.5,564.2 1169.3,564.2 1171,564.2 1172.8,564.6 1174.5,564.2 1176.3,564.3 1178,564.4 1179.8,565 1181.5,564.9 1183.3,564.8 1185,565 1186.8,565.2 1188.5,565.4 1190.3,565 1192,564.8 1193.8,564.6 1195.5,564.9 1197.3,565 1199.1,564.8 1200.8,564.8 1202.6,564.8 1204.3,564.8 1206.1,564.4 1207.8,563.8 1209.6,564 1211.3,564.3 1213.1,564.8 1214.8,564.4 1216.6,564.1 1218.3,563.3 1220.1,563.2 1221.8,562.8 1223.6,562.6 1225.3,561.9 1227.1,561.8 1228.8,561.9 1230.6,561.6 1232.3,561.4 1234.1,561.2 1235.8,561.2 1237.6,560.6 1239.3,560 1241.1,559.7 1242.9,559.8 1244.6,559.5 1246.4,559.2 1248.1,559.1 1249.9,558.3 1251.6,557.8 1253.4,556.8 1255.1,556.7 1256.9,556.5 1258.6,556.3 1260.4,555.8 1262.1,554.9 1263.9,554.3 1265.6,553.7 1267.4,553.4 1269.1,552.4 1270.9,551.8 1272.6,551.2 1274.4,550.8 1276.1,549.9 1277.9,549.2 1279.6,548.3 1281.4,547.4 1283.1,546.6 1284.9,545.9 1286.7,545.4 1288.4,545 1290.2,544.2 1291.9,543.4 1293.7,542.1 1295.4,541.3 1297.2,540.6 1298.9,539.6 1300.7,538.8 1302.4,537.7 1304.2,537.2 1305.9,536.5 1307.7,535.8 1309.4,534.8 1311.2,533.6 1312.9,532.4 1314.7,531.4 1316.4,530.5 1318.2,529.8 1319.9,529 1321.7,527.9 1323.4,527 1325.2,526.1 1326.9,524.9 1328.7,523.7 1330.5,522.5 1332.2,521.6 1334,520.5 1335.7,519.5 1337.5,518.7 1339.2,518.2 1341,517.2 1342.7,516.2 1344.5,514.9 1346.2,514.1 1348,513.2 1349.7,512 1351.5,510.8 1353.2,509.5 1355,508.5 1356.7,507.5 1358.5,506.6 1360.2,505.2 1362,503.9 1363.7,502.6 1365.5,502 1367.2,500.7 1369,499.5 1370.7,497.8 1372.5,496.4 1374.3,495.1 1376,493.8 1377.8,493 1379.5,491.4 1381.3,490 1383,488.5 1384.8,487.3 1386.5,485.7 1388.3,484 1390,482 1391.8,480.9 1393.5,479.4 1395.3,478.3 1397,476.4 1398.8,475 1400.5,473.1 1402.3,471.4 1404,469.1 1405.8,467.3 1407.5,465.7 1409.3,464.1 1411,462.2 1412.8,459.8 1414.5,457.9 1416.3,455.9 1418.1,454.1 1419.8,452.3 1421.6,450.2 1423.3,448.4 1425.1,446.3 1426.8,444.4 1428.6,442.2 1430.3,440 1432.1,437.2 1433.8,434.6 1435.6,432.1 1437.3,429.9 1439.1,427.5 1440.8,425.4 1442.6,423.1 1444.3,420.8 1446.1,418.3 1447.8,415.7 1449.6,413.4 1451.3,411 1453.1,409 1454.8,406.8 1456.6,404.6 1458.3,401.8 1460.1,399.6 1461.9,397.3 1463.6,395.6 1465.4,393.5 1467.1,391.6 1468.9,390 1470.6,388.4 1472.4,386.6 1474.1,384.7 1475.9,383.4 1477.6,381.4 1479.4,379.8 1481.1,377.8 1482.9,376.3 1484.6,374.6 1486.4,373.3 1488.1,372.4 1489.9,370.9 1491.6,369.7 1493.4,368.4 1495.1,367.2 1496.9,365.9 1498.6,364.7 1500.4,364.4 1502.1,363.8 1503.9,362.8 1505.7,361.7 1507.4,360.8 1509.2,360.3 1510.9,359.5 1512.7,358.6 1514.4,357.8 1516.2,357.3 1517.9,356.7 1519.7,356 1521.4,355.4 1523.2,355.1 1524.9,354.4 1526.7,353.8 1528.4,353.2 1530.2,352.6 1531.9,352.3 1533.7,351.9 1535.4,351.3 1537.2,350.6 1538.9,349.8 1540.7,349.5 1542.4,349 1544.2,348.4 1545.9,347.6 1547.7,346.9 1549.5,346.6 1551.2,345.7 1553,345.2 1554.7,343.9 1556.5,343.2 1558.2,341.5 1560,340.5 1561.7,339.7 1563.5,339.1 1565.2,337.8 1567,336.3 1568.7,334.6 1570.5,333.4 1572.2,332.2 1574,331 1575.7,329.3 1577.5,327.6 1579.2,325.8 1581,324.3 1582.7,322.6 1584.5,320.7 1586.2,318.7 1588,316.5 1589.7,314.7 1591.5,312.8 1593.3,311.2 1595,308.9 1596.8,306.7 1598.5,304.3 1600.3,302 1602,299.7 1603.8,297.1 1605.5,295.2 1607.3,292.7 1609,290.5 1610.8,287.6 1612.5,284.8 1614.3,282.2 1616,279.5 1617.8,276.9 1619.5,273.7 1621.3,270.9 1623,268.3 1624.8,265.6 1626.5,263.1 1628.3,260.6 1630,257.8 1631.8,255.3 1633.5,252.4 1635.3,250.4 1637.1,248.1 1638.8,246.4 1640.6,244.5 1642.3,242.3 1644.1,240.5 1645.8,238.6 1647.6,237.1 1649.3,235.7 1651.1,234.4 1652.8,233.3 1654.6,232 1656.3,230.8 1658.1,229.5 1659.8,228.8 1661.6,228.1 1663.3,227.4 1665.1,226.9 1666.8,226.6 1668.6,226.6 1670.3,226.2 1672.1,226.1 1673.8,226.2 1675.6,226.5 1677.3,226.5 1679.1,226.9 1680.9,227.8 1682.6,228.9 1684.4,230 1686.1,231 1687.9,232.8 1689.6,234.7 1691.4,236.8 1693.1,238.9 1694.9,241.6 1696.6,244.7 1698.4,247.9 1700.1,250.9 1701.9,254.6 1703.6,258.5 1705.4,263.2 1707.1,267.9 1708.9,273 1710.6,278.2 1712.4,283.8 1714.1,289.8 1715.9,296.4 1717.6,302.8 1719.4,309.8 1721.1,315.9 1722.9,322.6 1724.7,329.1 1726.4,336.1 1728.2,343.3 1729.9,350.1 1731.7,357 1733.4,364.2 1735.2,371.4 1736.9,378.9 1738.7,385.8 1740.4,393 1742.2,400.1 1743.9,407.4 1745.7,414.7 1747.4,423 1749.2,431.4 1750.9,439.2 1752.7,446.5 1754.4,453.2 1756.2,460.1 1757.9,466.3 1759.7,472.3 1761.4,478.4 1763.2,484 1764.9,489.6 1766.7,495 1768.5,500.6 1770.2,505.7 1772,510.6 1773.7,515 1775.5,519.3 1777.2,523 1779,526.7 1780.7,529.9 1782.5,533.4 1784.2,536.5 1786,539.5 1787.7,541.6 1789.5,543.4 1791.2,545.5 1793,547 1794.7,548.7 1796.5,549.9 1798.2,551.8 1800,553.2 1801.7,554.5 1803.5,555.7 1805.2,556.8 1807,557.6 1808.7,558 1810.5,558.1" stroke="#5c5cf8" stroke-width="2.2"/>
<polyline points="1109.7,564.4 1111.5,564.6 1113.2,564.5 1115,564.6 1116.7,564.4 1118.5,564.5 1120.2,564.7 1122,564.6 1123.7,564.4 1125.5,564.2 1127.2,564.2 1129,564.4 1130.7,564.7 1132.5,564.8 1134.2,565 1136,564.7 1137.7,564.8 1139.5,564.7 1141.2,564.9 1143,564.8 1144.7,564.7 1146.5,564.8 1148.2,564.5 1150,564.5 1151.7,564.3 1153.5,564.4 1155.3,564.8 1157,564.7 1158.8,564.8 1160.5,564.7 1162.3,564.3 1164,564.3 1165.8,564.1 1167.5,564.6 1169.3,564.6 1171,564.8 1172.8,564.9 1174.5,564.8 1176.3,564.5 1178,564.3 1179.8,564.6 1181.5,564.5 1183.3,564.5 1185,564.6 1186.8,564.7 1188.5,564.7 1190.3,564.4 1192,564.5 1193.8,564.5 1195.5,564.8 1197.3,565 1199.1,564.9 1200.8,564.7 1202.6,564.5 1204.3,564.8 1206.1,564.8 1207.8,564.4 1209.6,564.2 1211.3,564 1213.1,564.4 1214.8,564.3 1216.6,563.7 1218.3,563.1 1220.1,562.5 1221.8,562.9 1223.6,562.5 1225.3,562.2 1227.1,561.5 1228.8,561.2 1230.6,561.3 1232.3,561.1 1234.1,561 1235.8,560.1 1237.6,560 1239.3,559.6 1241.1,559.8 1242.9,559.4 1244.6,558.8 1246.4,558.1 1248.1,557.8 1249.9,557.3 1251.6,557 1253.4,556.3 1255.1,556.2 1256.9,555.8 1258.6,555.2 1260.4,554.5 1262.1,554 1263.9,553.6 1265.6,553 1267.4,552.6 1269.1,551.6 1270.9,551.1 1272.6,550.3 1274.4,549.8 1276.1,549.4 1277.9,548.9 1279.6,548.2 1281.4,547.1 1283.1,546.4 1284.9,545.8 1286.7,545.4 1288.4,544.8 1290.2,543.9 1291.9,543.1 1293.7,542.5 1295.4,541.9 1297.2,540.9 1298.9,539.8 1300.7,539.1 1302.4,538.2 1304.2,537.5 1305.9,536.3 1307.7,535.6 1309.4,534.6 1311.2,533.7 1312.9,532.9 1314.7,532 1316.4,531 1318.2,530.2 1319.9,529.2 1321.7,528.3 1323.4,527.3 1325.2,526.4 1326.9,525.4 1328.7,524.5 1330.5,523.4 1332.2,522.6 1334,521.5 1335.7,520.9 1337.5,519.9 1339.2,519.1 1341,518 1342.7,517 1344.5,515.7 1346.2,514.6 1348,513.5 1349.7,512.6 1351.5,511.4 1353.2,510.5 1355,509.6 1356.7,508.8 1358.5,507.8 1360.2,506.8 1362,505.6 1363.7,504.5 1365.5,502.9 1367.2,501.9 1369,500.4 1370.7,499 1372.5,497.8 1374.3,496.5 1376,495.4 1377.8,494.1 1379.5,493 1381.3,491.4 1383,489.7 1384.8,488.4 1386.5,486.9 1388.3,485.6 1390,483.7 1391.8,482.7 1393.5,481.1 1395.3,479.8 1397,477.8 1398.8,476.5 1400.5,474.7 1402.3,472.9 1404,471.1 1405.8,469.5 1407.5,467.8 1409.3,465.8 1411,464.1 1412.8,462.3 1414.5,460.2 1416.3,458.1 1418.1,456.2 1419.8,454.4 1421.6,452.7 1423.3,450.8 1425.1,449 1426.8,447 1428.6,444.9 1430.3,442.8 1432.1,440.7 1433.8,438.4 1435.6,436.1 1437.3,433.4 1439.1,431.4 1440.8,429.2 1442.6,427.2 1444.3,425.1 1446.1,422.6 1447.8,420.5 1449.6,417.7 1451.3,415.4 1453.1,413 1454.8,411.1 1456.6,409.2 1458.3,407.3 1460.1,405.5 1461.9,403.6 1463.6,401.5 1465.4,399.6 1467.1,397.6 1468.9,395.9 1470.6,394.1 1472.4,392.5 1474.1,391 1475.9,389.4 1477.6,387.7 1479.4,386.1 1481.1,384.9 1482.9,383.8 1484.6,382.5 1486.4,381.3 1488.1,379.7 1489.9,378.6 1491.6,377.4 1493.4,376.6 1495.1,375.6 1496.9,374.2 1498.6,373.4 1500.4,372.2 1502.1,371.4 1503.9,370.7 1505.7,370 1507.4,369.3 1509.2,368.5 1510.9,367.3 1512.7,366.3 1514.4,365.3 1516.2,365 1517.9,364.5 1519.7,363.7 1521.4,363.1 1523.2,362.5 1524.9,362.1 1526.7,361.6 1528.4,361.1 1530.2,360.4 1531.9,359.9 1533.7,359.1 1535.4,358.5 1537.2,357.7 1538.9,357.3 1540.7,356.9 1542.4,356.3 1544.2,355.7 1545.9,354.6 1547.7,353.8 1549.5,353.2 1551.2,352.7 1553,352.1 1554.7,351.2 1556.5,350.5 1558.2,349.4 1560,348.2 1561.7,346.9 1563.5,346.2 1565.2,345.4 1567,344 1568.7,342.6 1570.5,341.1 1572.2,340.1 1574,338.6 1575.7,337.2 1577.5,335.3 1579.2,333.7 1581,332.3 1582.7,331.3 1584.5,329.6 1586.2,327.6 1588,325.8 1589.7,324.4 1591.5,323 1593.3,321.2 1595,319.3 1596.8,317.1 1598.5,315.2 1600.3,313.1 1602,311.1 1603.8,308.9 1605.5,307.2 1607.3,304.9 1609,302.6 1610.8,299.8 1612.5,297.8 1614.3,295.3 1616,293 1617.8,290.5 1619.5,288.2 1621.3,286.2 1623,283.5 1624.8,281.1 1626.5,278.4 1628.3,276.6 1630,274.6 1631.8,272.6 1633.5,270.4 1635.3,268.5 1637.1,266.8 1638.8,265.3 1640.6,263.3 1642.3,261.5 1644.1,259.8 1645.8,259 1647.6,258.1 1649.3,257.1 1651.1,256.2 1652.8,255.7 1654.6,254.8 1656.3,254.5 1658.1,253.7 1659.8,253.5 1661.6,252.8 1663.3,252.9 1665.1,252.6 1666.8,253 1668.6,253.2 1670.3,254 1672.1,254.4 1673.8,254.9 1675.6,255 1677.3,255.6 1679.1,256.4 1680.9,257.4 1682.6,258.5 1684.4,259.9 1686.1,261.5 1687.9,263.3 1689.6,265.4 1691.4,267.9 1693.1,270.6 1694.9,273.5 1696.6,276.4 1698.4,279.4 1700.1,282.7 1701.9,286.5 1703.6,290.3 1705.4,294.4 1707.1,298.5 1708.9,303.5 1710.6,308.4 1712.4,313.7 1714.1,319.2 1715.9,325.1 1717.6,331.1 1719.4,336.9 1721.1,343.3 1722.9,349.8 1724.7,356.4 1726.4,362.6 1728.2,368.8 1729.9,375.4 1731.7,381.8 1733.4,388.2 1735.2,394.8 1736.9,401.3 1738.7,407.9 1740.4,414.1 1742.2,420.8 1743.9,427.4 1745.7,434.7 1747.4,441.9 1749.2,449.4 1750.9,455.9 1752.7,462.7 1754.4,468.6 1756.2,475 1757.9,480.6 1759.7,486.1 1761.4,491.2 1763.2,496.2 1764.9,501.4 1766.7,505.9 1768.5,510.3 1770.2,514.4 1772,518.7 1773.7,523 1775.5,526.8 1777.2,530.8 1779,534.2 1780.7,537.3 1782.5,540 1784.2,542.5 1786,544.9 1787.7,547.2 1789.5,549 1791.2,550.5 1793,552.3 1794.7,553.4 1796.5,554.9 1798.2,555.7 1800,557.1 1801.7,557.9 1803.5,559 1805.2,559.8 1807,560.6 1808.7,560.6 1810.5,560.3" stroke="#7878fa" stroke-width="2.2"/>
<polyline points="1109.7,564.4 1111.5,564.5 1113.2,564.4 1115,564.5 1116.7,564.5 1118.5,564.9 1120.2,564.7 1122,564.3 1123.7,564 1125.5,564.1 1127.2,564.3 1129,564.7 1130.7,564.8 1132.5,564.8 1134.2,564.4 1136,564.8 1137.7,564.7 1139.5,565.2 1141.2,564.6 1143,565.1 1144.7,565 1146.5,564.9 1148.2,564.6 1150,564.2 1151.7,564.3 1153.5,564.2 1155.3,564 1157,564.4 1158.8,564.4 1160.5,564.7 1162.3,564.6 1164,565.1 1165.8,565.4 1167.5,565.2 1169.3,564.6 1171,564 1172.8,564.2 1174.5,564.4 1176.3,564.7 1178,564.5 1179.8,564.6 1181.5,564.5 1183.3,564.7 1185,564.8 1186.8,564.6 1188.5,564.4 1190.3,564.3 1192,564.4 1193.8,564.4 1195.5,564.5 1197.3,564.2 1199.1,564.6 1200.8,564.4 1202.6,564.2 1204.3,564 1206.1,564 1207.8,564.1 1209.6,563.8 1211.3,563.7 1213.1,563.6 1214.8,563.6 1216.6,563.4 1218.3,563.4 1220.1,563.1 1221.8,563.2 1223.6,562.6 1225.3,562.3 1227.1,561.9 1228.8,561.9 1230.6,561.5 1232.3,561 1234.1,560.2 1235.8,559.9 1237.6,559.6 1239.3,559.6 1241.1,559.4 1242.9,559.3 1244.6,558.9 1246.4,558.1 1248.1,557.5 1249.9,557.3 1251.6,557 1253.4,556.8 1255.1,556.2 1256.9,555.9 1258.6,555.4 1260.4,555 1262.1,554.5 1263.9,553.9 1265.6,553.2 1267.4,552.4 1269.1,551.4 1270.9,550.7 1272.6,550.4 1274.4,550.1 1276.1,549.1 1277.9,548.6 1279.6,547.7 1281.4,547.4 1283.1,546.6 1284.9,546.1 1286.7,545.5 1288.4,544.9 1290.2,544.1 1291.9,543.3 1293.7,542.4 1295.4,541.9 1297.2,541.1 1298.9,540.5 1300.7,539.4 1302.4,538.3 1304.2,537.1 1305.9,536.2 1307.7,535.8 1309.4,535.3 1311.2,534.3 1312.9,533.4 1314.7,532.4 1316.4,531.8 1318.2,530.5 1319.9,529.5 1321.7,528.7 1323.4,528.1 1325.2,527.1 1326.9,526.1 1328.7,525.3 1330.5,524.5 1332.2,523.6 1334,522.4 1335.7,521.5 1337.5,520.5 1339.2,519.6 1341,518.5 1342.7,517.5 1344.5,516.5 1346.2,515.6 1348,514.4 1349.7,513.3 1351.5,512.2 1353.2,511.2 1355,510 1356.7,509 1358.5,508 1360.2,506.9 1362,505.7 1363.7,504.9 1365.5,504.2 1367.2,503.3 1369,501.8 1370.7,500.5 1372.5,498.9 1374.3,497.8 1376,496.6 1377.8,495.3 1379.5,493.6 1381.3,491.9 1383,490.9 1384.8,489.5 1386.5,488.1 1388.3,486.4 1390,485.2 1391.8,483.9 1393.5,482 1395.3,480.6 1397,479.2 1398.8,478.1 1400.5,476.2 1402.3,474.4 1404,472.5 1405.8,471 1407.5,469 1409.3,467.2 1411,465.1 1412.8,463.3 1414.5,461.8 1416.3,460 1418.1,458.1 1419.8,456.3 1421.6,455 1423.3,453.4 1425.1,451 1426.8,448.8 1428.6,446.5 1430.3,445 1432.1,442.8 1433.8,441.1 1435.6,438.6 1437.3,436.4 1439.1,433.8 1440.8,432 1442.6,430.1 1444.3,427.8 1446.1,425.1 1447.8,422.7 1449.6,421 1451.3,418.6 1453.1,416.6 1454.8,414.3 1456.6,412.6 1458.3,410.7 1460.1,408.9 1461.9,407.2 1463.6,405.3 1465.4,403.2 1467.1,401.5 1468.9,399.8 1470.6,397.9 1472.4,396.2 1474.1,394.5 1475.9,392.9 1477.6,391.7 1479.4,390.1 1481.1,389 1482.9,387.3 1484.6,386.2 1486.4,384.6 1488.1,383.3 1489.9,382.4 1491.6,381.5 1493.4,380.7 1495.1,379.2 1496.9,378.3 1498.6,377.3 1500.4,376.3 1502.1,375.2 1503.9,374.3 1505.7,373.5 1507.4,372.5 1509.2,371.5 1510.9,371.1 1512.7,371 1514.4,370.2 1516.2,369.6 1517.9,368.6 1519.7,368.3 1521.4,367.7 1523.2,366.8 1524.9,365.8 1526.7,364.8 1528.4,364.3 1530.2,363.9 1531.9,363.3 1533.7,362.9 1535.4,362.2 1537.2,361.8 1538.9,361.1 1540.7,360.6 1542.4,359.9 1544.2,359.2 1545.9,358.6 1547.7,358 1549.5,357.4 1551.2,356.9 1553,356.1 1554.7,355.4 1556.5,354.4 1558.2,353.6 1560,352.5 1561.7,351.6 1563.5,350.7 1565.2,349.4 1567,347.9 1568.7,346.3 1570.5,345.3 1572.2,344.4 1574,343.2 1575.7,341.7 1577.5,340.6 1579.2,339.2 1581,337.7 1582.7,336.2 1584.5,334.3 1586.2,332.9 1588,330.9 1589.7,329.8 1591.5,328 1593.3,326.3 1595,324.5 1596.8,322.6 1598.5,320.7 1600.3,318.6 1602,316.9 1603.8,314.9 1605.5,313.3 1607.3,311.1 1609,308.7 1610.8,305.9 1612.5,303.9 1614.3,301.9 1616,299.6 1617.8,296.9 1619.5,294.5 1621.3,292.1 1623,290.1 1624.8,287.7 1626.5,285.8 1628.3,283.5 1630,281.6 1631.8,279.8 1633.5,278.1 1635.3,276.2 1637.1,274.4 1638.8,272.7 1640.6,271.5 1642.3,270.1 1644.1,268.8 1645.8,267.4 1647.6,266.5 1649.3,265.7 1651.1,264.9 1652.8,264.2 1654.6,263.7 1656.3,263.5 1658.1,263.2 1659.8,262.9 1661.6,262.4 1663.3,262.4 1665.1,262.5 1666.8,262.5 1668.6,262.4 1670.3,263.1 1672.1,263.8 1673.8,264.7 1675.6,265.2 1677.3,265.5 1679.1,266.2 1680.9,267 1682.6,268.5 1684.4,269.9 1686.1,271.5 1687.9,273.5 1689.6,276 1691.4,278.3 1693.1,280.8 1694.9,283.4 1696.6,286.5 1698.4,289.8 1700.1,292.9 1701.9,296.3 1703.6,300.3 1705.4,304.4 1707.1,308.9 1708.9,313.6 1710.6,318.9 1712.4,324.2 1714.1,329.5 1715.9,334.8 1717.6,340.1 1719.4,345.9 1721.1,352 1722.9,358.4 1724.7,364.6 1726.4,370.9 1728.2,377.1 1729.9,383.4 1731.7,389.6 1733.4,396.1 1735.2,402.5 1736.9,409 1738.7,415.1 1740.4,421.5 1742.2,428 1743.9,434.4 1745.7,440.9 1747.4,447.5 1749.2,454.7 1750.9,461.3 1752.7,467.6 1754.4,473.4 1756.2,479.5 1757.9,484.8 1759.7,490.4 1761.4,495.1 1763.2,499.8 1764.9,504.1 1766.7,508.7 1768.5,513.6 1770.2,517.7 1772,521.9 1773.7,525.8 1775.5,529.7 1777.2,533.2 1779,536.7 1780.7,539.9 1782.5,542.5 1784.2,544.8 1786,547 1787.7,549.1 1789.5,550.9 1791.2,552.7 1793,554.1 1794.7,555.3 1796.5,557 1798.2,558.4 1800,559.7 1801.7,560.6 1803.5,561.5 1805.2,562.5 1807,562.9 1808.7,563.6 1810.5,563.8" stroke="#9a9afc" stroke-width="2.2"/>
<polyline points="1109.7,564.2 1111.5,564.2 1113.2,564.2 1115,564.2 1116.7,564.2 1118.5,564.6 1120.2,564.6 1122,564.8 1123.7,564.6 1125.5,564.5 1127.2,564.5 1129,564.5 1130.7,564.2 1132.5,564.2 1134.2,564.5 1136,564.6 1137.7,564.6 1139.5,564.3 1141.2,564.3 1143,564.5 1144.7,564.7 1146.5,565.1 1148.2,565 1150,565.1 1151.7,564.7 1153.5,564.6 1155.3,564.3 1157,564.6 1158.8,564.6 1160.5,564.9 1162.3,564.8 1164,564.9 1165.8,564.8 1167.5,564.8 1169.3,564.5 1171,564.1 1172.8,563.7 1174.5,563.9 1176.3,564.3 1178,564.5 1179.8,564.5 1181.5,564.5 1183.3,564.2 1185,564.3 1186.8,564.1 1188.5,564.2 1190.3,564.3 1192,564.3 1193.8,564.4 1195.5,564.2 1197.3,564.1 1199.1,564.1 1200.8,564.3 1202.6,564.8 1204.3,564.6 1206.1,564.7 1207.8,564.5 1209.6,564.7 1211.3,564.3 1213.1,564.1 1214.8,563.2 1216.6,563.3 1218.3,562.7 1220.1,563 1221.8,562.1 1223.6,562.3 1225.3,561.8 1227.1,561.9 1228.8,561.2 1230.6,561.1 1232.3,561 1234.1,560.8 1235.8,560.3 1237.6,559.9 1239.3,559.4 1241.1,559.1 1242.9,558.5 1244.6,558.2 1246.4,557.7 1248.1,557.2 1249.9,556.8 1251.6,556.6 1253.4,556.2 1255.1,555.8 1256.9,555.4 1258.6,554.8 1260.4,554.1 1262.1,553.6 1263.9,553.2 1265.6,553 1267.4,552.4 1269.1,551.8 1270.9,551 1272.6,550.5 1274.4,549.9 1276.1,549.1 1277.9,548.1 1279.6,547.2 1281.4,546.7 1283.1,546.2 1284.9,545.7 1286.7,544.7 1288.4,543.9 1290.2,543.1 1291.9,542.5 1293.7,541.4 1295.4,541.1 1297.2,540.6 1298.9,540.3 1300.7,539.6 1302.4,538.5 1304.2,537.4 1305.9,536.5 1307.7,535.7 1309.4,535.3 1311.2,534.7 1312.9,534 1314.7,532.7 1316.4,531.7 1318.2,530.7 1319.9,529.9 1321.7,529.1 1323.4,528.4 1325.2,527.5 1326.9,526.5 1328.7,525.2 1330.5,524.4 1332.2,523.1 1334,522.4 1335.7,521.3 1337.5,520.6 1339.2,519.5 1341,518.8 1342.7,517.9 1344.5,517 1346.2,515.9 1348,514.6 1349.7,513.8 1351.5,512.5 1353.2,511.5 1355,510.5 1356.7,509.4 1358.5,508.7 1360.2,507.4 1362,506.3 1363.7,505.1 1365.5,504 1367.2,502.8 1369,501.6 1370.7,500.5 1372.5,499.2 1374.3,497.8 1376,496.5 1377.8,495.2 1379.5,493.7 1381.3,492.3 1383,491.1 1384.8,489.6 1386.5,488.3 1388.3,487 1390,485.8 1391.8,484.1 1393.5,482.2 1395.3,480.6 1397,479.1 1398.8,477.7 1400.5,476.2 1402.3,474.4 1404,473 1405.8,471.2 1407.5,469.5 1409.3,467.4 1411,465.7 1412.8,464 1414.5,462.6 1416.3,460.7 1418.1,459.1 1419.8,457 1421.6,455.5 1423.3,453.4 1425.1,451.5 1426.8,449.4 1428.6,447.3 1430.3,445.5 1432.1,443.3 1433.8,441.6 1435.6,439.6 1437.3,437.7 1439.1,435.6 1440.8,433.6 1442.6,431.5 1444.3,429.3 1446.1,426.9 1447.8,424.6 1449.6,422.5 1451.3,420.7 1453.1,418.7 1454.8,416.6 1456.6,414.3 1458.3,412.4 1460.1,410.5 1461.9,409 1463.6,407 1465.4,404.8 1467.1,402.9 1468.9,401.5 1470.6,400.4 1472.4,398.9 1474.1,397.3 1475.9,395.7 1477.6,394.6 1479.4,393.3 1481.1,392.1 1482.9,390.5 1484.6,389.1 1486.4,387.7 1488.1,386.6 1489.9,385.4 1491.6,384.2 1493.4,383.1 1495.1,382.3 1496.9,381.9 1498.6,380.8 1500.4,379.8 1502.1,379 1503.9,378.3 1505.7,377.4 1507.4,376.1 1509.2,375.1 1510.9,374.8 1512.7,374.1 1514.4,373.4 1516.2,372.3 1517.9,371.7 1519.7,371.1 1521.4,370.2 1523.2,369.5 1524.9,369.3 1526.7,368.9 1528.4,368.3 1530.2,367.5 1531.9,366.7 1533.7,366 1535.4,365.2 1537.2,364.6 1538.9,363.8 1540.7,363.3 1542.4,362.7 1544.2,361.9 1545.9,361.5 1547.7,360.6 1549.5,359.9 1551.2,359.1 1553,358.3 1554.7,357.6 1556.5,356.7 1558.2,356.1 1560,355.5 1561.7,354.5 1563.5,353.1 1565.2,352.1 1567,350.9 1568.7,350.3 1570.5,349.1 1572.2,347.6 1574,346 1575.7,344.4 1577.5,343.2 1579.2,342 1581,340.3 1582.7,339 1584.5,337.6 1586.2,336.4 1588,334.7 1589.7,332.9 1591.5,331.6 1593.3,330 1595,328.6 1596.8,326.9 1598.5,325 1600.3,323.2 1602,321.1 1603.8,319.2 1605.5,317.5 1607.3,315.8 1609,313.9 1610.8,312.1 1612.5,310 1614.3,308 1616,305.7 1617.8,303.6 1619.5,301.3 1621.3,299.1 1623,297 1624.8,294.9 1626.5,292.6 1628.3,290.9 1630,289.6 1631.8,288 1633.5,286.3 1635.3,284.7 1637.1,283.4 1638.8,282.2 1640.6,280.8 1642.3,279.5 1644.1,277.9 1645.8,277.3 1647.6,276.2 1649.3,275.4 1651.1,274.7 1652.8,274.8 1654.6,274.9 1656.3,274.4 1658.1,274.3 1659.8,273.9 1661.6,274.2 1663.3,274.1 1665.1,274.5 1666.8,274.7 1668.6,275.4 1670.3,276.1 1672.1,277.1 1673.8,278.1 1675.6,279.2 1677.3,280.4 1679.1,281.1 1680.9,282.1 1682.6,283.6 1684.4,285.4 1686.1,287.7 1687.9,289.6 1689.6,292 1691.4,294.3 1693.1,297.1 1694.9,299.7 1696.6,302.8 1698.4,305.6 1700.1,309.1 1701.9,312.6 1703.6,316.8 1705.4,320.8 1707.1,325.2 1708.9,329.6 1710.6,334.1 1712.4,339.2 1714.1,344.3 1715.9,350.1 1717.6,355.7 1719.4,361.7 1721.1,367.2 1722.9,372.7 1724.7,378.3 1726.4,384.4 1728.2,390.6 1729.9,396.4 1731.7,402.1 1733.4,408.1 1735.2,414.3 1736.9,420.6 1738.7,426.5 1740.4,432.7 1742.2,439.1 1743.9,445.4 1745.7,452 1747.4,458.1 1749.2,464.5 1750.9,469.7 1752.7,475.5 1754.4,480.9 1756.2,486.3 1757.9,491.3 1759.7,496.5 1761.4,501.8 1763.2,506.6 1764.9,510.9 1766.7,515 1768.5,518.8 1770.2,522.7 1772,526.6 1773.7,530.5 1775.5,534.1 1777.2,537.7 1779,540.9 1780.7,543.5 1782.5,545.7 1784.2,548 1786,550.5 1787.7,552.4 1789.5,554.3 1791.2,555.8 1793,557.4 1794.7,558.8 1796.5,560.2 1798.2,561.2 1800,562.2 1801.7,563.3 1803.5,564.2 1805.2,564.9 1807,565.4 1808.7,565.9 1810.5,565.8" stroke="#bcbcfd" stroke-width="2.2"/>
<polyline points="1109.7,564.3 1111.5,564.3 1113.2,564.1 1115,564.4 1116.7,564.3 1118.5,564.8 1120.2,564.5 1122,564.9 1123.7,564.8 1125.5,565 1127.2,564.7 1129,564.7 1130.7,564.6 1132.5,564.4 1134.2,564.2 1136,564.5 1137.7,564.9 1139.5,565 1141.2,564.8 1143,564.7 1144.7,564.3 1146.5,564.3 1148.2,564.1 1150,564.5 1151.7,564.6 1153.5,564.5 1155.3,564.3 1157,564.2 1158.8,564 1160.5,564.2 1162.3,564.4 1164,564.7 1165.8,564.6 1167.5,564.2 1169.3,564.4 1171,564.2 1172.8,564.5 1174.5,564.4 1176.3,564.5 1178,564.6 1179.8,564.6 1181.5,565.1 1183.3,564.8 1185,565 1186.8,564.6 1188.5,564.9 1190.3,564.8 1192,564.7 1193.8,564.4 1195.5,564.7 1197.3,564.7 1199.1,564.6 1200.8,564.1 1202.6,564.1 1204.3,564 1206.1,564 1207.8,563.9 1209.6,563.9 1211.3,563.6 1213.1,563.5 1214.8,563.5 1216.6,563.5 1218.3,563.5 1220.1,563.2 1221.8,562.9 1223.6,562.7 1225.3,562.4 1227.1,561.8 1228.8,561.1 1230.6,560.4 1232.3,560.7 1234.1,560.6 1235.8,560.4 1237.6,560 1239.3,559.4 1241.1,559.4 1242.9,558.8 1244.6,558.8 1246.4,558.4 1248.1,558.5 1249.9,557.7 1251.6,557.3 1253.4,556.6 1255.1,556 1256.9,555.8 1258.6,555.3 1260.4,555.2 1262.1,554.3 1263.9,554 1265.6,553.5 1267.4,553.1 1269.1,552.4 1270.9,551.5 1272.6,551.1 1274.4,550.7 1276.1,549.9 1277.9,549.1 1279.6,548.4 1281.4,548.1 1283.1,547.5 1284.9,546.7 1286.7,545.8 1288.4,545.1 1290.2,544.3 1291.9,543.9 1293.7,543.4 1295.4,543 1297.2,542.1 1298.9,541.3 1300.7,540.9 1302.4,540.4 1304.2,539.8 1305.9,538.8 1307.7,537.9 1309.4,536.9 1311.2,536 1312.9,535.1 1314.7,534.4 1316.4,533.5 1318.2,533 1319.9,532.1 1321.7,531.4 1323.4,530.3 1325.2,529.3 1326.9,528.4 1328.7,527.8 1330.5,527.4 1332.2,526.7 1334,525.9 1335.7,524.8 1337.5,524.2 1339.2,523 1341,522.3 1342.7,521 1344.5,520.4 1346.2,519.5 1348,518.9 1349.7,518 1351.5,517.2 1353.2,516.1 1355,514.7 1356.7,513.5 1358.5,512.3 1360.2,511.4 1362,510.3 1363.7,509.4 1365.5,508 1367.2,507.3 1369,506 1370.7,504.8 1372.5,503.5 1374.3,502.3 1376,501.3 1377.8,500 1379.5,499 1381.3,497.8 1383,496.4 1384.8,495.3 1386.5,493.7 1388.3,492.7 1390,491.5 1391.8,490.2 1393.5,488.5 1395.3,486.9 1397,485.9 1398.8,484.2 1400.5,482.8 1402.3,480.7 1404,479.4 1405.8,477.5 1407.5,476.1 1409.3,474.4 1411,473.3 1412.8,472.1 1414.5,470.6 1416.3,468.6 1418.1,466.9 1419.8,465.3 1421.6,463.1 1423.3,461.1 1425.1,459.2 1426.8,457.7 1428.6,455.6 1430.3,453.4 1432.1,451.8 1433.8,450.6 1435.6,448.9 1437.3,446.9 1439.1,444.7 1440.8,442.8 1442.6,440.9 1444.3,438.8 1446.1,437 1447.8,434.9 1449.6,432.9 1451.3,430.8 1453.1,429 1454.8,427.1 1456.6,425.3 1458.3,423.8 1460.1,422.1 1461.9,420.4 1463.6,418.5 1465.4,416.7 1467.1,415 1468.9,413.8 1470.6,412.5 1472.4,410.9 1474.1,409 1475.9,407.7 1477.6,406.5 1479.4,405.6 1481.1,404.1 1482.9,402.9 1484.6,402.2 1486.4,401.4 1488.1,399.9 1489.9,398.4 1491.6,397.4 1493.4,396.4 1495.1,395.4 1496.9,394.5 1498.6,394.4 1500.4,393.6 1502.1,392.9 1503.9,391.9 1505.7,391.3 1507.4,390.6 1509.2,389.7 1510.9,388.9 1512.7,388.2 1514.4,387.6 1516.2,386.8 1517.9,386.3 1519.7,385.7 1521.4,385 1523.2,383.8 1524.9,383.1 1526.7,382.6 1528.4,382.1 1530.2,381.8 1531.9,381.1 1533.7,380.7 1535.4,380 1537.2,379.5 1538.9,379 1540.7,378.5 1542.4,377.8 1544.2,377.1 1545.9,376.5 1547.7,376.4 1549.5,375.8 1551.2,374.9 1553,373.4 1554.7,372.6 1556.5,371.9 1558.2,371.4 1560,370.5 1561.7,369.5 1563.5,368.4 1565.2,367.4 1567,366.5 1568.7,365.5 1570.5,364.1 1572.2,363 1574,361.7 1575.7,360.8 1577.5,359.6 1579.2,358.8 1581,357.5 1582.7,356 1584.5,354.5 1586.2,353.2 1588,352 1589.7,350.4 1591.5,349 1593.3,347.4 1595,346 1596.8,344.3 1598.5,342.4 1600.3,340.5 1602,338.9 1603.8,337.5 1605.5,335.9 1607.3,334.3 1609,332.6 1610.8,330.8 1612.5,328.8 1614.3,327.1 1616,325.1 1617.8,323.1 1619.5,321 1621.3,319.4 1623,317.5 1624.8,315.7 1626.5,313.7 1628.3,312.2 1630,310.5 1631.8,308.7 1633.5,307.4 1635.3,306 1637.1,304.6 1638.8,303.1 1640.6,302.1 1642.3,301.3 1644.1,300.4 1645.8,299.5 1647.6,298.8 1649.3,298.2 1651.1,297.8 1652.8,297.6 1654.6,297.3 1656.3,297 1658.1,297.1 1659.8,297.3 1661.6,297.8 1663.3,297.8 1665.1,297.7 1666.8,297.5 1668.6,298.2 1670.3,299 1672.1,299.9 1673.8,300.5 1675.6,301.3 1677.3,302.6 1679.1,303.6 1680.9,305 1682.6,306 1684.4,307.9 1686.1,309.9 1687.9,312.1 1689.6,313.9 1691.4,316 1693.1,318.5 1694.9,321.3 1696.6,324 1698.4,326.7 1700.1,329.7 1701.9,333.1 1703.6,336.9 1705.4,341 1707.1,345 1708.9,349.4 1710.6,353.6 1712.4,358.1 1714.1,362.8 1715.9,367.9 1717.6,373 1719.4,378.1 1721.1,383.6 1722.9,389 1724.7,394.3 1726.4,399.4 1728.2,405.2 1729.9,410.8 1731.7,416.2 1733.4,421.6 1735.2,427.3 1736.9,433 1738.7,438.5 1740.4,444 1742.2,449.9 1743.9,455.6 1745.7,461.1 1747.4,466.4 1749.2,472.6 1750.9,478.4 1752.7,483.8 1754.4,488.6 1756.2,493 1757.9,497.9 1759.7,502.5 1761.4,507.1 1763.2,511.3 1764.9,515.5 1766.7,519.9 1768.5,523.4 1770.2,526.8 1772,530.1 1773.7,534 1775.5,537.4 1777.2,540.5 1779,543.3 1780.7,546.3 1782.5,548.8 1784.2,551.1 1786,553 1787.7,555.2 1789.5,557 1791.2,558.4 1793,559.3 1794.7,560.9 1796.5,562.3 1798.2,563.8 1800,564.6 1801.7,566 1803.5,566.8 1805.2,567.6 1807,567.7 1808.7,568.2 1810.5,568.4" stroke="#ededff" stroke-width="2.2"/>
</g>
<rect x="1109.7" y="23.9" width="701.8" height="566.2" fill="none" stroke="#404040" stroke-width="2.4"/>
<rect x="1108.1" y="570.2" width="702.9" height="18.8" fill="url(#spec)"/>
<g stroke="#404040" stroke-width="2.4"><line x1="1109.7" y1="590.1" x2="1109.7" y2="602.1"/><line x1="1197.3" y1="590.1" x2="1197.3" y2="597.1"/><line x1="1284.9" y1="590.1" x2="1284.9" y2="602.1"/><line x1="1372.5" y1="590.1" x2="1372.5" y2="597.1"/><line x1="1460.1" y1="590.1" x2="1460.1" y2="602.1"/><line x1="1547.7" y1="590.1" x2="1547.7" y2="597.1"/><line x1="1635.3" y1="590.1" x2="1635.3" y2="602.1"/><line x1="1722.9" y1="590.1" x2="1722.9" y2="597.1"/><line x1="1810.5" y1="590.1" x2="1810.5" y2="602.1"/><line x1="1109.7" y1="590.1" x2="1097.7" y2="590.1"/><line x1="1109.7" y1="554.7" x2="1102.7" y2="554.7"/><line x1="1109.7" y1="519.3" x2="1097.7" y2="519.3"/><line x1="1109.7" y1="483.9" x2="1102.7" y2="483.9"/><line x1="1109.7" y1="448.5" x2="1097.7" y2="448.5"/><line x1="1109.7" y1="413.2" x2="1102.7" y2="413.2"/><line x1="1109.7" y1="377.8" x2="1097.7" y2="377.8"/><line x1="1109.7" y1="342.4" x2="1102.7" y2="342.4"/><line x1="1109.7" y1="307" x2="1097.7" y2="307"/><line x1="1109.7" y1="271.6" x2="1102.7" y2="271.6"/><line x1="1109.7" y1="236.2" x2="1097.7" y2="236.2"/><line x1="1109.7" y1="200.8" x2="1102.7" y2="200.8"/><line x1="1109.7" y1="165.4" x2="1097.7" y2="165.4"/><line x1="1109.7" y1="130" x2="1102.7" y2="130"/><line x1="1109.7" y1="94.6" x2="1097.7" y2="94.6"/><line x1="1109.7" y1="59.3" x2="1102.7" y2="59.3"/><line x1="1109.7" y1="23.9" x2="1097.7" y2="23.9"/></g>
<text x="1109.7" y="627.3" font-size="25" text-anchor="middle" fill="#3a3a3a" letter-spacing="-0.7">500</text>
<text x="1284.9" y="627.3" font-size="25" text-anchor="middle" fill="#3a3a3a" letter-spacing="-0.7">550</text>
<text x="1460.1" y="627.3" font-size="25" text-anchor="middle" fill="#3a3a3a" letter-spacing="-0.7">600</text>
<text x="1635.3" y="627.3" font-size="25" text-anchor="middle" fill="#3a3a3a" letter-spacing="-0.7">650</text>
<text x="1810.5" y="627.3" font-size="25" text-anchor="middle" fill="#3a3a3a" letter-spacing="-0.7">700</text>
<text x="1088" y="597.4" font-size="25" text-anchor="end" fill="#3a3a3a" >0.0</text>
<text x="1088" y="526.6" font-size="25" text-anchor="end" fill="#3a3a3a" >0.1</text>
<text x="1088" y="455.8" font-size="25" text-anchor="end" fill="#3a3a3a" >0.2</text>
<text x="1088" y="385.1" font-size="25" text-anchor="end" fill="#3a3a3a" >0.3</text>
<text x="1088" y="314.3" font-size="25" text-anchor="end" fill="#3a3a3a" >0.4</text>
<text x="1088" y="243.5" font-size="25" text-anchor="end" fill="#3a3a3a" >0.5</text>
<text x="1088" y="172.7" font-size="25" text-anchor="end" fill="#3a3a3a" >0.6</text>
<text x="1088" y="101.9" font-size="25" text-anchor="end" fill="#3a3a3a" >0.7</text>
<text x="1088" y="29" font-size="25" text-anchor="end" fill="#3a3a3a" >0.8</text>
<text x="1460" y="675.4" font-size="30" text-anchor="middle" fill="#3a3a3a" >Wavelength (nm)</text>
<text transform="translate(1016 316.5) rotate(-90)" font-size="30" text-anchor="middle" fill="#3a3a3a" >Absorbance (%)</text>
<text x="1127.6" y="63.4" font-size="31" text-anchor="start" fill="#3a3a3a" >10% ZGO</text>
<line x1="1139.4" y1="112.2" x2="1206" y2="112.2" stroke="#565689" stroke-width="3"/>
<text x="1212.3" y="120.9" font-size="29.5" text-anchor="start" fill="#3a3a3a" >Methylene Blue</text>
<line x1="1139.4" y1="148.7" x2="1206" y2="148.7" stroke="#58589e" stroke-width="3"/>
<text x="1212.3" y="158.5" font-size="29.5" text-anchor="start" fill="#3a3a3a" >Adsorption</text>
<line x1="1139.4" y1="186.5" x2="1206" y2="186.5" stroke="#5a5ab4" stroke-width="3"/>
<text x="1212.3" y="195" font-size="29.5" text-anchor="start" fill="#3a3a3a" >20 min</text>
<line x1="1139.4" y1="222.3" x2="1206" y2="222.3" stroke="#5858c8" stroke-width="3"/>
<text x="1212.3" y="230.8" font-size="29.5" text-anchor="start" fill="#3a3a3a" >40 min</text>
<line x1="1139.4" y1="258.4" x2="1206" y2="258.4" stroke="#5a5ae0" stroke-width="3"/>
<text x="1212.3" y="266.8" font-size="29.5" text-anchor="start" fill="#3a3a3a" >60 min</text>
<line x1="1139.4" y1="294.2" x2="1206" y2="294.2" stroke="#5c5cf4" stroke-width="3"/>
<text x="1212.3" y="302.6" font-size="29.5" text-anchor="start" fill="#3a3a3a" >80 min</text>
<line x1="1139.4" y1="330.3" x2="1206" y2="330.3" stroke="#6868f8" stroke-width="3"/>
<text x="1212.3" y="339.9" font-size="29.5" text-anchor="start" fill="#3a3a3a" >100 min</text>
<line x1="1139.4" y1="366.6" x2="1206" y2="366.6" stroke="#8080fa" stroke-width="3"/>
<text x="1212.3" y="375.3" font-size="29.5" text-anchor="start" fill="#3a3a3a" >120 min</text>
<line x1="1139.4" y1="402.6" x2="1206" y2="402.6" stroke="#a0a0fc" stroke-width="3"/>
<text x="1212.3" y="411.7" font-size="29.5" text-anchor="start" fill="#3a3a3a" >140 min</text>
<line x1="1139.4" y1="440.3" x2="1206" y2="440.3" stroke="#c0c0fd" stroke-width="3"/>
<text x="1212.3" y="448.7" font-size="29.5" text-anchor="start" fill="#3a3a3a" >160 min</text>
<line x1="1139.4" y1="476.7" x2="1206" y2="476.7" stroke="#e6e6ff" stroke-width="3"/>
<text x="1212.3" y="485.2" font-size="29.5" text-anchor="start" fill="#3a3a3a" >180 min</text>
<rect x="949.8" y="21.2" width="83.79999999999995" height="84.2" rx="2" fill="#000"/>
<text transform="translate(972.4 90.6) scale(0.974 1)" font-size="75.5" fill="#fff">b</text>
<clipPath id="clipc"><rect x="169.2" y="740.8" width="703.7" height="565.3"/></clipPath>
<g clip-path="url(#clipc)" fill="none" stroke-linejoin="round" stroke-linecap="round">
<polyline points="169.2,1248.4 171,1248.6 172.7,1248.5 174.5,1248.6 176.2,1248.5 178,1248.6 179.8,1248.7 181.5,1248.6 183.3,1248.5 185,1248.2 186.8,1248.3 188.6,1248.4 190.3,1248.7 192.1,1248.8 193.8,1249 195.6,1248.7 197.3,1248.8 199.1,1248.8 200.9,1248.9 202.6,1248.9 204.4,1248.7 206.1,1248.8 207.9,1248.5 209.7,1248.6 211.4,1248.4 213.2,1248.5 214.9,1248.8 216.7,1248.8 218.5,1248.9 220.2,1248.8 222,1248.4 223.7,1248.4 225.5,1248.2 227.3,1248.7 229,1248.7 230.8,1248.9 232.5,1249.1 234.3,1248.9 236.1,1248.7 237.8,1248.6 239.6,1248.8 241.3,1248.8 243.1,1248.8 244.8,1248.9 246.6,1249.1 248.4,1249.1 250.1,1248.8 251.9,1248.9 253.6,1248.9 255.4,1249.3 257.2,1249.5 258.9,1249.4 260.7,1249.2 262.4,1249 264.2,1249.3 266,1249.3 267.7,1249 269.5,1248.9 271.2,1248.8 273,1249.3 274.8,1249.3 276.5,1248.9 278.3,1248.5 280,1248.1 281.8,1248.5 283.6,1248.3 285.3,1248.1 287.1,1247.6 288.8,1247.4 290.6,1247.5 292.3,1247.4 294.1,1247.5 295.9,1246.7 297.6,1246.7 299.4,1246.4 301.1,1246.6 302.9,1246.3 304.7,1245.8 306.4,1245.3 308.2,1245 309.9,1244.7 311.7,1244.4 313.5,1243.9 315.2,1243.9 317,1243.6 318.7,1243 320.5,1242.5 322.3,1242 324,1241.7 325.8,1241.2 327.5,1240.7 329.3,1239.8 331.1,1239.3 332.8,1238.5 334.6,1238 336.3,1237.5 338.1,1236.9 339.8,1236.2 341.6,1235 343.4,1234.2 345.1,1233.5 346.9,1233 348.6,1232.2 350.4,1231.2 352.2,1230.2 353.9,1229.5 355.7,1228.6 357.4,1227.5 359.2,1226.2 361,1225.3 362.7,1224.2 364.5,1223.3 366.2,1222 368,1221 369.8,1219.9 371.5,1218.8 373.3,1217.8 375,1216.7 376.8,1215.5 378.6,1214.5 380.3,1213.4 382.1,1212.4 383.8,1211.2 385.6,1210.2 387.3,1209.1 389.1,1208.1 390.9,1206.8 392.6,1206 394.4,1204.8 396.1,1204.1 397.9,1203 399.7,1202.1 401.4,1201 403.2,1199.9 404.9,1198.5 406.7,1197.4 408.5,1196.2 410.2,1195.3 412,1194 413.7,1193.1 415.5,1192.2 417.3,1191.4 419,1190.3 420.8,1189.3 422.5,1188.1 424.3,1187 426.1,1185.5 427.8,1184.4 429.6,1182.9 431.3,1181.5 433.1,1180.3 434.8,1178.9 436.6,1177.8 438.4,1176.5 440.1,1175.4 441.9,1173.8 443.6,1172.1 445.4,1170.8 447.2,1169.2 448.9,1167.8 450.7,1165.8 452.4,1164.8 454.2,1163 456,1161.6 457.7,1159.4 459.5,1157.9 461.2,1155.8 463,1153.8 464.8,1151.7 466.5,1149.8 468.3,1147.8 470,1145.5 471.8,1143.4 473.6,1141.3 475.3,1138.9 477.1,1136.4 478.8,1134.1 480.6,1131.9 482.3,1129.7 484.1,1127.4 485.9,1125 487.6,1122.6 489.4,1120.1 491.1,1117.5 492.9,1114.9 494.7,1112.1 496.4,1109.3 498.2,1106 499.9,1103.4 501.7,1100.6 503.5,1098.1 505.2,1095.5 507,1092.5 508.7,1089.8 510.5,1086.6 512.3,1083.8 514,1080.9 515.8,1078.5 517.5,1076 519.3,1073.6 521,1071.2 522.8,1068.8 524.6,1066.1 526.3,1063.6 528.1,1060.9 529.8,1058.5 531.6,1055.9 533.4,1053.6 535.1,1051.2 536.9,1048.8 538.6,1046.5 540.4,1044.2 542.2,1042.3 543.9,1040.6 545.7,1038.9 547.4,1037.3 549.2,1035.4 551,1033.9 552.7,1032.4 554.5,1031.3 556.2,1030.1 558,1028.6 559.8,1027.6 561.5,1026.4 563.3,1025.7 565,1025.1 566.8,1024.5 568.5,1024 570.3,1023.4 572.1,1022.4 573.8,1021.7 575.6,1021 577.3,1021 579.1,1020.8 580.9,1020.3 582.6,1020 584.4,1019.7 586.1,1019.6 587.9,1019.4 589.7,1019.2 591.4,1018.9 593.2,1018.8 594.9,1018.3 596.7,1018.1 598.5,1017.7 600.2,1017.5 602,1017.5 603.7,1017.2 605.5,1016.7 607.3,1015.9 609,1015.2 610.8,1014.6 612.5,1014.1 614.3,1013.3 616,1012.3 617.8,1011.4 619.6,1010.1 621.3,1008.7 623.1,1007.2 624.8,1006.1 626.6,1004.9 628.4,1003.1 630.1,1001.2 631.9,999.2 633.6,997.6 635.4,995.5 637.2,993.3 638.9,990.7 640.7,988.2 642.4,986 644.2,983.9 646,981.2 647.7,978.1 649.5,975.1 651.2,972.5 653,969.7 654.8,966.5 656.5,963.2 658.3,959.6 660,956.2 661.8,952.5 663.5,949 665.3,945.2 667.1,941.8 668.8,937.8 670.6,933.8 672.3,929.3 674.1,925.6 675.9,921.2 677.6,917.1 679.4,912.6 681.1,908.3 682.9,904.2 684.7,899.3 686.4,894.9 688.2,889.9 689.9,885.9 691.7,881.6 693.5,877.2 695.2,872.8 697,868.5 698.7,864.6 700.5,860.8 702.3,856.6 704,852.5 705.8,848.5 707.5,845.2 709.3,841.9 711,838.4 712.8,835 714.6,831.9 716.3,828.4 718.1,825.4 719.8,821.9 721.6,819.1 723.4,815.9 725.1,813.5 726.9,810.7 728.6,808.6 730.4,806.3 732.2,804.5 733.9,802.3 735.7,800.1 737.4,797.7 739.2,795.8 741,794.3 742.7,793.1 744.5,792.4 746.2,792.2 748,792.3 749.8,792.9 751.5,794 753.3,795.6 755,797.3 756.8,799.4 758.5,801.7 760.3,804.4 762.1,807.6 763.8,811.7 765.6,816 767.3,821 769.1,826.4 770.9,833 772.6,839.8 774.4,847.3 776.1,855.1 777.9,863.4 779.7,871.8 781.4,880.2 783.2,889.2 784.9,898.5 786.7,907.8 788.5,916.9 790.2,926 792,935.7 793.7,945 795.5,954.3 797.3,963.7 799,973.1 800.8,982.6 802.5,992 804.3,1002.4 806,1013.3 807.8,1025.1 809.6,1037.1 811.3,1049.2 813.1,1060 814.8,1070.5 816.6,1079.8 818.4,1089.2 820.1,1097.7 821.9,1106.2 823.6,1114.3 825.4,1122.4 827.2,1130.6 828.9,1138.1 830.7,1145.3 832.4,1152 834.2,1158.7 836,1165.2 837.7,1171.1 839.5,1177 841.2,1182.2 843,1187.1 844.8,1191.4 846.5,1195.5 848.3,1199.4 850,1202.9 851.8,1205.9 853.5,1208.4 855.3,1211 857.1,1212.9 858.8,1215.1 860.6,1216.8 862.3,1219 864.1,1220.6 865.9,1222.6 867.6,1224.2 869.4,1226 871.1,1226.7 872.9,1227" stroke="#45457e" stroke-width="2.2"/>
<polyline points="169.2,1248.5 171,1248.6 172.7,1248.4 174.5,1248.6 176.2,1248.6 178,1248.9 179.8,1248.7 181.5,1248.4 183.3,1248.1 185,1248.2 186.8,1248.4 188.6,1248.7 190.3,1248.9 192.1,1248.9 193.8,1248.4 195.6,1248.8 197.3,1248.7 199.1,1249.2 200.9,1248.7 202.6,1249.1 204.4,1249 206.1,1248.9 207.9,1248.6 209.7,1248.3 211.4,1248.3 213.2,1248.3 214.9,1248.1 216.7,1248.5 218.5,1248.4 220.2,1248.8 222,1248.7 223.7,1249.1 225.5,1249.4 227.3,1249.2 229,1248.7 230.8,1248.2 232.5,1248.4 234.3,1248.6 236.1,1248.9 237.8,1248.7 239.6,1248.8 241.3,1248.8 243.1,1249 244.8,1249.1 246.6,1249 248.4,1248.8 250.1,1248.7 251.9,1248.9 253.6,1248.9 255.4,1249 257.2,1248.7 258.9,1249.1 260.7,1248.9 262.4,1248.7 264.2,1248.5 266,1248.5 267.7,1248.7 269.5,1248.5 271.2,1248.5 273,1248.6 274.8,1248.7 276.5,1248.7 278.3,1248.8 280,1248.7 281.8,1248.9 283.6,1248.4 285.3,1248.3 287.1,1248.1 288.8,1248.1 290.6,1247.9 292.3,1247.5 294.1,1246.9 295.9,1246.7 297.6,1246.5 299.4,1246.6 301.1,1246.5 302.9,1246.5 304.7,1246.2 306.4,1245.5 308.2,1245.1 309.9,1245 311.7,1244.8 313.5,1244.7 315.2,1244.2 317,1244.1 318.7,1243.7 320.5,1243.4 322.3,1243 324,1242.5 325.8,1241.8 327.5,1241.1 329.3,1240.2 331.1,1239.6 332.8,1239.3 334.6,1239 336.3,1238 338.1,1237.4 339.8,1236.5 341.6,1236.2 343.4,1235.4 345.1,1234.7 346.9,1234.1 348.6,1233.4 350.4,1232.5 352.2,1231.6 353.9,1230.5 355.7,1229.9 357.4,1229 359.2,1228.2 361,1227 362.7,1225.8 364.5,1224.5 366.2,1223.4 368,1222.9 369.8,1222.2 371.5,1221.1 373.3,1220 375,1218.9 376.8,1218.2 378.6,1216.7 380.3,1215.7 382.1,1214.8 383.8,1214.1 385.6,1213 387.3,1212 389.1,1211.1 390.9,1210.3 392.6,1209.3 394.4,1208.1 396.1,1207.2 397.9,1206.2 399.7,1205.3 401.4,1204.2 403.2,1203.2 404.9,1202.2 406.7,1201.2 408.5,1200.1 410.2,1199 412,1197.9 413.7,1196.9 415.5,1195.8 417.3,1194.8 419,1193.8 420.8,1192.8 422.5,1191.7 424.3,1190.9 426.1,1190.3 427.8,1189.4 429.6,1188 431.3,1186.7 433.1,1185.2 434.8,1184.1 436.6,1183 438.4,1181.7 440.1,1180.1 441.9,1178.5 443.6,1177.5 445.4,1176.2 447.2,1174.8 448.9,1173.2 450.7,1171.9 452.4,1170.6 454.2,1168.8 456,1167.3 457.7,1165.8 459.5,1164.6 461.2,1162.6 463,1160.6 464.8,1158.5 466.5,1156.8 468.3,1154.7 470,1152.7 471.8,1150.3 473.6,1148.3 475.3,1146.6 477.1,1144.4 478.8,1142.3 480.6,1140.2 482.3,1138.5 484.1,1136.6 485.9,1133.9 487.6,1131.3 489.4,1128.8 491.1,1126.8 492.9,1124.3 494.7,1122.2 496.4,1119.4 498.2,1116.7 499.9,1113.8 501.7,1111.6 503.5,1109.1 505.2,1106.5 507,1103.5 508.7,1100.7 510.5,1098.6 512.3,1095.8 514,1093.5 515.8,1090.8 517.5,1088.7 519.3,1086.4 521,1084.2 522.8,1082 524.6,1079.6 526.3,1077.1 528.1,1074.8 529.8,1072.5 531.6,1070 533.4,1067.7 535.1,1065.3 536.9,1063 538.6,1061.1 540.4,1058.9 542.2,1057.3 543.9,1055.2 545.7,1053.7 547.4,1051.8 549.2,1050.2 551,1049.1 552.7,1048 554.5,1046.9 556.2,1045.3 558,1044.3 559.8,1043.2 561.5,1042.2 563.3,1041.3 565,1040.5 566.8,1039.9 568.5,1039.1 570.3,1038.4 572.1,1038.2 573.8,1038.4 575.6,1037.9 577.3,1037.5 579.1,1036.9 580.9,1037 582.6,1036.6 584.4,1036.1 586.1,1035.5 587.9,1034.9 589.7,1034.7 591.4,1034.7 593.2,1034.5 594.9,1034.4 596.7,1034.1 598.5,1034 600.2,1033.7 602,1033.5 603.7,1033.1 605.5,1032.7 607.3,1032.3 609,1031.9 610.8,1031.3 612.5,1030.8 614.3,1030 616,1029.2 617.8,1028 619.6,1027.1 621.3,1025.9 623.1,1024.8 624.8,1023.6 626.6,1022 628.4,1020.2 630.1,1018.2 631.9,1016.8 633.6,1015.4 635.4,1013.6 637.2,1011.5 638.9,1009.7 640.7,1007.6 642.4,1005.3 644.2,1002.9 646,1000.2 647.7,997.7 649.5,994.7 651.2,992.4 653,989.5 654.8,986.6 656.5,983.5 658.3,980.3 660,977.1 661.8,973.7 663.5,970.6 665.3,967.1 667.1,964 668.8,960.3 670.6,956.4 672.3,952 674.1,948.4 675.9,944.8 677.6,940.9 679.4,936.4 681.1,932.2 682.9,928 684.7,924 686.4,919.7 688.2,915.7 689.9,911.4 691.7,907.4 693.5,903.4 695.2,899.5 697,895.6 698.7,891.7 700.5,888 702.3,884.6 704,881.1 705.8,877.6 707.5,874 709.3,870.8 711,867.6 712.8,864.4 714.6,861.2 716.3,858.2 718.1,855.4 719.8,852.6 721.6,849.8 723.4,846.8 725.1,844.4 726.9,842.1 728.6,839.7 730.4,837.2 732.2,835.3 733.9,833.5 735.7,831.7 737.4,829.7 739.2,827.6 741,826 742.7,824.7 744.5,824.3 746.2,824 748,824.2 749.8,824.8 751.5,826.1 753.3,827.4 755,828.9 756.8,830.6 758.5,832.9 760.3,835.7 762.1,838.5 763.8,841.9 765.6,846.2 767.3,850.9 769.1,856.4 770.9,862.3 772.6,869.2 774.4,876.3 776.1,883.5 777.9,890.7 779.7,898.1 781.4,906.1 783.2,914.3 784.9,923 786.7,931.5 788.5,940.3 790.2,949 792,957.7 793.7,966.4 795.5,975.4 797.3,984.2 799,993 800.8,1001.6 802.5,1010.7 804.3,1020.5 806,1030.5 807.8,1041.1 809.6,1051.9 811.3,1063.1 813.1,1073.5 814.8,1083.1 816.6,1091.9 818.4,1100.6 820.1,1108.5 821.9,1116.6 823.6,1123.9 825.4,1131.3 827.2,1138.4 828.9,1145.6 830.7,1152.9 832.4,1159.4 834.2,1165.7 836,1171.6 837.7,1177.3 839.5,1182.5 841.2,1187.6 843,1192.3 844.8,1196.4 846.5,1200.1 848.3,1203.6 850,1206.9 851.8,1209.8 853.5,1212.4 855.3,1214.6 857.1,1216.6 858.8,1219 860.6,1221.1 862.3,1223.1 864.1,1224.8 865.9,1226.6 867.6,1228.4 869.4,1229.7 871.1,1231.1 872.9,1231.9" stroke="#474795" stroke-width="2.2"/>
<polyline points="169.2,1248.3 171,1248.2 172.7,1248.2 174.5,1248.3 176.2,1248.3 178,1248.6 179.8,1248.7 181.5,1248.9 183.3,1248.6 185,1248.6 186.8,1248.5 188.6,1248.5 190.3,1248.3 192.1,1248.3 193.8,1248.5 195.6,1248.6 197.3,1248.6 199.1,1248.4 200.9,1248.4 202.6,1248.6 204.4,1248.8 206.1,1249.1 207.9,1249.1 209.7,1249.1 211.4,1248.8 213.2,1248.6 214.9,1248.4 216.7,1248.7 218.5,1248.7 220.2,1248.9 222,1248.8 223.7,1248.9 225.5,1248.9 227.3,1248.9 229,1248.6 230.8,1248.2 232.5,1247.9 234.3,1248 236.1,1248.4 237.8,1248.7 239.6,1248.7 241.3,1248.6 243.1,1248.4 244.8,1248.5 246.6,1248.4 248.4,1248.5 250.1,1248.6 251.9,1248.6 253.6,1248.7 255.4,1248.6 257.2,1248.4 258.9,1248.4 260.7,1248.6 262.4,1249.1 264.2,1248.9 266,1249 267.7,1248.8 269.5,1249.1 271.2,1248.8 273,1248.6 274.8,1247.9 276.5,1248.1 278.3,1247.7 280,1248 281.8,1247.2 283.6,1247.5 285.3,1247.1 287.1,1247.3 288.8,1246.7 290.6,1246.7 292.3,1246.6 294.1,1246.6 295.9,1246.1 297.6,1245.9 299.4,1245.5 301.1,1245.2 302.9,1244.7 304.7,1244.5 306.4,1244.1 308.2,1243.7 309.9,1243.3 311.7,1243.2 313.5,1243 315.2,1242.6 317,1242.3 318.7,1241.8 320.5,1241.3 322.3,1240.8 324,1240.4 325.8,1240.3 327.5,1239.8 329.3,1239.2 331.1,1238.5 332.8,1238 334.6,1237.4 336.3,1236.6 338.1,1235.7 339.8,1234.8 341.6,1234.3 343.4,1233.8 345.1,1233.3 346.9,1232.2 348.6,1231.4 350.4,1230.5 352.2,1229.8 353.9,1228.8 355.7,1228.3 357.4,1227.7 359.2,1227.4 361,1226.5 362.7,1225.5 364.5,1224.3 366.2,1223.3 368,1222.4 369.8,1221.9 371.5,1221.2 373.3,1220.4 375,1219.2 376.8,1218.1 378.6,1217.1 380.3,1216.2 382.1,1215.4 383.8,1214.7 385.6,1213.7 387.3,1212.7 389.1,1211.5 390.9,1210.7 392.6,1209.5 394.4,1208.8 396.1,1207.7 397.9,1207 399.7,1205.9 401.4,1205.3 403.2,1204.4 404.9,1203.5 406.7,1202.5 408.5,1201.2 410.2,1200.5 412,1199.3 413.7,1198.4 415.5,1197.4 417.3,1196.5 419,1195.7 420.8,1194.6 422.5,1193.6 424.3,1192.5 426.1,1191.4 427.8,1190.3 429.6,1189.2 431.3,1188.3 433.1,1187.1 434.8,1185.8 436.6,1184.6 438.4,1183.3 440.1,1182 441.9,1180.7 443.6,1179.6 445.4,1178.2 447.2,1176.9 448.9,1175.8 450.7,1174.7 452.4,1173 454.2,1171.2 456,1169.7 457.7,1168.2 459.5,1166.8 461.2,1165.2 463,1163.5 464.8,1162 466.5,1160.2 468.3,1158.4 470,1156.3 471.8,1154.5 473.6,1152.7 475.3,1151.3 477.1,1149.3 478.8,1147.5 480.6,1145.3 482.3,1143.7 484.1,1141.4 485.9,1139.4 487.6,1137.2 489.4,1135 491.1,1133 492.9,1130.6 494.7,1128.8 496.4,1126.6 498.2,1124.5 499.9,1122.2 501.7,1120 503.5,1117.8 505.2,1115.4 507,1112.8 508.7,1110.4 510.5,1108.2 512.3,1106.2 514,1104.1 515.8,1101.9 517.5,1099.4 519.3,1097.3 521,1095.3 522.8,1093.5 524.6,1091.3 526.3,1088.9 528.1,1086.8 529.8,1085 531.6,1083.5 533.4,1081.7 535.1,1079.7 536.9,1077.8 538.6,1076.2 540.4,1074.6 542.2,1073.1 543.9,1071.3 545.7,1069.7 547.4,1068.2 549.2,1067 551,1065.6 552.7,1064.4 554.5,1063.2 556.2,1062.3 558,1061.8 559.8,1060.8 561.5,1059.8 563.3,1059.2 565,1058.6 566.8,1057.8 568.5,1056.7 570.3,1055.9 572.1,1055.8 573.8,1055.3 575.6,1054.9 577.3,1054.1 579.1,1053.7 580.9,1053.4 582.6,1052.8 584.4,1052.4 586.1,1052.3 587.9,1052.2 589.7,1051.9 591.4,1051.4 593.2,1050.9 594.9,1050.5 596.7,1050 598.5,1049.7 600.2,1049.1 602,1048.9 603.7,1048.5 605.5,1047.9 607.3,1047.7 609,1046.9 610.8,1046.3 612.5,1045.5 614.3,1044.7 616,1044 617.8,1043 619.6,1042.4 621.3,1041.7 623.1,1040.6 624.8,1039.1 626.6,1037.9 628.4,1036.6 630.1,1035.7 631.9,1034.2 633.6,1032.5 635.4,1030.5 637.2,1028.6 638.9,1027.1 640.7,1025.4 642.4,1023.2 644.2,1021.4 646,1019.4 647.7,1017.6 649.5,1015.3 651.2,1012.7 653,1010.8 654.8,1008.4 656.5,1006.1 658.3,1003.6 660,1000.9 661.8,998.3 663.5,995.3 665.3,992.5 667.1,989.8 668.8,987.3 670.6,984.3 672.3,981.6 674.1,978.5 675.9,975.4 677.6,972.1 679.4,969 681.1,965.5 682.9,962.2 684.7,958.9 686.4,955.6 688.2,952.1 689.9,949.1 691.7,946.4 693.5,943.4 695.2,940.3 697,937.4 698.7,934.7 700.5,932.3 702.3,929.5 704,926.9 705.8,923.9 707.5,921.8 709.3,919.2 711,916.9 712.8,914.7 714.6,913.1 716.3,911.5 718.1,909.3 719.8,907.5 721.6,905.4 723.4,904 725.1,902.4 726.9,901.2 728.6,899.7 730.4,898.8 732.2,897.8 733.9,897 735.7,896.2 737.4,895.5 739.2,895 741,894.2 742.7,893.7 744.5,893.9 746.2,894.6 748,895.7 749.8,896.7 751.5,898.3 753.3,899.8 755,901.8 756.8,903.7 758.5,906.1 760.3,908.6 762.1,911.7 763.8,915.1 765.6,919.4 767.3,923.7 769.1,928.5 770.9,933.6 772.6,939 774.4,945.1 776.1,951.3 777.9,958.3 779.7,964.9 781.4,972.1 783.2,978.9 784.9,985.7 786.7,992.7 788.5,1000.1 790.2,1007.7 792,1015.1 793.7,1022.2 795.5,1029.6 797.3,1037.1 799,1044.7 800.8,1052 802.5,1059.8 804.3,1068.1 806,1076.6 807.8,1085.6 809.6,1094.3 811.3,1103.1 813.1,1110.6 814.8,1118.3 816.6,1125.4 818.4,1132.3 820.1,1138.7 821.9,1145.4 823.6,1152.1 825.4,1158.4 827.2,1164.3 828.9,1169.8 830.7,1175.1 832.4,1180.2 834.2,1185.3 836,1190.2 837.7,1194.9 839.5,1199.3 841.2,1203.3 843,1206.7 844.8,1209.5 846.5,1212.6 848.3,1215.7 850,1218.2 851.8,1220.5 853.5,1222.3 855.3,1224.2 857.1,1225.9 858.8,1227.6 860.6,1228.8 862.3,1230.1 864.1,1231.5 865.9,1232.7 867.6,1233.8 869.4,1234.6 871.1,1235.3 872.9,1235.4" stroke="#4a4aae" stroke-width="2.2"/>
<polyline points="169.2,1248.3 171,1248.3 172.7,1248.2 174.5,1248.4 176.2,1248.4 178,1248.8 179.8,1248.6 181.5,1248.9 183.3,1248.8 185,1249.1 186.8,1248.7 188.6,1248.8 190.3,1248.6 192.1,1248.5 193.8,1248.2 195.6,1248.5 197.3,1248.9 199.1,1249 200.9,1248.8 202.6,1248.8 204.4,1248.4 206.1,1248.3 207.9,1248.1 209.7,1248.6 211.4,1248.6 213.2,1248.6 214.9,1248.3 216.7,1248.2 218.5,1248.1 220.2,1248.3 222,1248.5 223.7,1248.7 225.5,1248.7 227.3,1248.3 229,1248.5 230.8,1248.2 232.5,1248.6 234.3,1248.5 236.1,1248.6 237.8,1248.7 239.6,1248.7 241.3,1249.1 243.1,1248.9 244.8,1249.1 246.6,1248.7 248.4,1249.1 250.1,1249 251.9,1248.8 253.6,1248.6 255.4,1248.9 257.2,1248.9 258.9,1248.8 260.7,1248.3 262.4,1248.2 264.2,1248.2 266,1248.1 267.7,1248 269.5,1248 271.2,1247.7 273,1247.7 274.8,1247.7 276.5,1247.8 278.3,1247.7 280,1247.5 281.8,1247.3 283.6,1247.1 285.3,1246.8 287.1,1246.3 288.8,1245.7 290.6,1245 292.3,1245.3 294.1,1245.2 295.9,1245.1 297.6,1244.6 299.4,1244.1 301.1,1244.1 302.9,1243.6 304.7,1243.5 306.4,1243.2 308.2,1243.2 309.9,1242.5 311.7,1242.1 313.5,1241.4 315.2,1240.9 317,1240.7 318.7,1240.2 320.5,1240.1 322.3,1239.2 324,1238.9 325.8,1238.4 327.5,1237.9 329.3,1237.2 331.1,1236.3 332.8,1235.9 334.6,1235.5 336.3,1234.7 338.1,1233.8 339.8,1233.1 341.6,1232.6 343.4,1232 345.1,1231.1 346.9,1230.2 348.6,1229.5 350.4,1228.5 352.2,1228.1 353.9,1227.5 355.7,1226.9 357.4,1225.9 359.2,1225.1 361,1224.5 362.7,1223.9 364.5,1223.1 366.2,1222.1 368,1221.1 369.8,1220 371.5,1219 373.3,1218 375,1217.2 376.8,1216.2 378.6,1215.6 380.3,1214.6 382.1,1213.9 383.8,1212.7 385.6,1211.7 387.3,1210.6 389.1,1210 390.9,1209.5 392.6,1208.8 394.4,1207.9 396.1,1206.8 397.9,1206.1 399.7,1204.9 401.4,1204.2 403.2,1202.9 404.9,1202.2 406.7,1201.3 408.5,1200.6 410.2,1199.7 412,1198.9 413.7,1197.8 415.5,1196.4 417.3,1195.2 419,1194 420.8,1193.1 422.5,1192 424.3,1191.1 426.1,1189.8 427.8,1188.9 429.6,1187.7 431.3,1186.5 433.1,1185.2 434.8,1184 436.6,1183 438.4,1181.7 440.1,1180.6 441.9,1179.5 443.6,1178.1 445.4,1176.9 447.2,1175.3 448.9,1174.3 450.7,1173 452.4,1171.7 454.2,1169.9 456,1168.3 457.7,1167.2 459.5,1165.5 461.2,1164 463,1161.7 464.8,1160.4 466.5,1158.4 468.3,1156.8 470,1155 471.8,1153.7 473.6,1152.4 475.3,1150.7 477.1,1148.5 478.8,1146.7 480.6,1144.9 482.3,1142.6 484.1,1140.3 485.9,1138.3 487.6,1136.5 489.4,1134.3 491.1,1131.9 492.9,1130 494.7,1128.5 496.4,1126.6 498.2,1124.3 499.9,1121.9 501.7,1119.8 503.5,1117.6 505.2,1115.3 507,1113.2 508.7,1111 510.5,1108.8 512.3,1106.5 514,1104.5 515.8,1102.4 517.5,1100.4 519.3,1098.7 521,1096.7 522.8,1094.9 524.6,1092.7 526.3,1090.7 528.1,1088.8 529.8,1087.3 531.6,1085.7 533.4,1083.8 535.1,1081.6 536.9,1080 538.6,1078.5 540.4,1077.3 542.2,1075.6 543.9,1074.2 545.7,1073.3 547.4,1072.3 549.2,1070.7 551,1069.1 552.7,1067.9 554.5,1066.9 556.2,1065.8 558,1064.9 559.8,1064.6 561.5,1063.9 563.3,1063.2 565,1062.2 566.8,1061.7 568.5,1061.1 570.3,1060.2 572.1,1059.6 573.8,1058.9 575.6,1058.5 577.3,1057.8 579.1,1057.5 580.9,1056.9 582.6,1056.3 584.4,1055.3 586.1,1054.7 587.9,1054.4 589.7,1054 591.4,1053.9 593.2,1053.4 594.9,1053.1 596.7,1052.5 598.5,1052.2 600.2,1051.7 602,1051.4 603.7,1050.8 605.5,1050.2 607.3,1049.6 609,1049.6 610.8,1048.9 612.5,1048 614.3,1046.5 616,1045.6 617.8,1044.8 619.6,1044.2 621.3,1043.2 623.1,1042 624.8,1040.8 626.6,1039.6 628.4,1038.5 630.1,1037.3 631.9,1035.7 633.6,1034.3 635.4,1032.7 637.2,1031.5 638.9,1029.9 640.7,1028.7 642.4,1027 644.2,1025.1 646,1023.2 647.7,1021.4 649.5,1019.6 651.2,1017.6 653,1015.5 654.8,1013.4 656.5,1011.3 658.3,1009 660,1006.5 661.8,1004 663.5,1001.7 665.3,999.6 667.1,997.3 668.8,995 670.6,992.5 672.3,990 674.1,987.2 675.9,984.7 677.6,981.9 679.4,979.1 681.1,976.2 682.9,973.8 684.7,971 686.4,968.4 688.2,965.5 689.9,963.1 691.7,960.5 693.5,957.8 695.2,955.6 697,953.2 698.7,950.9 700.5,948.6 702.3,946.6 704,944.9 705.8,943.2 707.5,941.4 709.3,939.8 711,938.2 712.8,936.8 714.6,935.6 716.3,934.2 718.1,932.9 719.8,931.9 721.6,931.1 723.4,930.6 725.1,929.5 726.9,928.6 728.6,927.5 730.4,927.1 732.2,926.9 733.9,926.8 735.7,926.3 737.4,926.1 739.2,926.4 741,926.6 742.7,927.2 744.5,927.6 746.2,928.9 748,930.3 749.8,932.1 751.5,933.6 753.3,935.5 755,937.7 756.8,940.2 758.5,942.8 760.3,945.5 762.1,948.6 763.8,952.2 765.6,956.3 767.3,960.9 769.1,965.5 770.9,970.7 772.6,975.8 774.4,981.3 776.1,987.1 777.9,993.3 779.7,999.4 781.4,1005.7 783.2,1012.4 784.9,1018.9 786.7,1025.4 788.5,1031.8 790.2,1038.8 792,1045.7 793.7,1052.4 795.5,1059 797.3,1065.9 799,1072.8 800.8,1079.5 802.5,1086.4 804.3,1093.9 806,1101.4 807.8,1108.8 809.6,1116.1 811.3,1124.1 813.1,1131.7 814.8,1138.5 816.6,1144.6 818.4,1150.1 820.1,1156.1 821.9,1161.9 823.6,1167.5 825.4,1172.9 827.2,1178.2 828.9,1183.7 830.7,1188.2 832.4,1192.5 834.2,1196.7 836,1201.3 837.7,1205.4 839.5,1209 841.2,1212.3 843,1215.7 844.8,1218.6 846.5,1221.3 848.3,1223.5 850,1226 851.8,1227.9 853.5,1229.5 855.3,1230.5 857.1,1232.1 858.8,1233.6 860.6,1235 862.3,1235.9 864.1,1237.3 865.9,1238.1 867.6,1238.9 869.4,1239 871.1,1239.5 872.9,1239.5" stroke="#4c4cc8" stroke-width="2.2"/>
<polyline points="169.2,1248.8 171,1249.1 172.7,1249.1 174.5,1248.6 176.2,1248.4 178,1248.5 179.8,1248.6 181.5,1248.5 183.3,1248.3 185,1248.4 186.8,1248.6 188.6,1249.1 190.3,1249.2 192.1,1249.2 193.8,1248.6 195.6,1248.5 197.3,1248.1 199.1,1248.3 200.9,1248.4 202.6,1248.6 204.4,1248.5 206.1,1248.7 207.9,1248.6 209.7,1248.9 211.4,1248.6 213.2,1248.8 214.9,1248.6 216.7,1248.8 218.5,1249.1 220.2,1249.4 222,1249.2 223.7,1248.7 225.5,1248.5 227.3,1248.4 229,1248.5 230.8,1248.4 232.5,1248.4 234.3,1248.4 236.1,1248.5 237.8,1248.5 239.6,1248.9 241.3,1248.8 243.1,1249 244.8,1248.9 246.6,1249.1 248.4,1249.1 250.1,1248.4 251.9,1248.6 253.6,1248.4 255.4,1248.9 257.2,1248.6 258.9,1248.7 260.7,1248.7 262.4,1248.5 264.2,1248.7 266,1248.7 267.7,1249 269.5,1249 271.2,1248.6 273,1248.5 274.8,1248 276.5,1247.5 278.3,1247.3 280,1247.1 281.8,1247.1 283.6,1246.7 285.3,1246.2 287.1,1245.9 288.8,1246 290.6,1245.6 292.3,1245.2 294.1,1244.8 295.9,1244.7 297.6,1244.6 299.4,1244.2 301.1,1244.1 302.9,1243.8 304.7,1243.5 306.4,1243.5 308.2,1243.5 309.9,1243 311.7,1242.2 313.5,1241.5 315.2,1241.2 317,1240.8 318.7,1240.4 320.5,1239.8 322.3,1239.3 324,1238.9 325.8,1238.9 327.5,1238.2 329.3,1237.9 331.1,1237.3 332.8,1236.9 334.6,1235.9 336.3,1235.3 338.1,1234.7 339.8,1233.9 341.6,1233 343.4,1232.5 345.1,1232.1 346.9,1231.9 348.6,1231.3 350.4,1230.4 352.2,1229.4 353.9,1228.6 355.7,1228.1 357.4,1227.5 359.2,1226.6 361,1225.9 362.7,1225.1 364.5,1224.6 366.2,1223.5 368,1222.9 369.8,1222 371.5,1221.3 373.3,1220.4 375,1220 376.8,1219.3 378.6,1218.5 380.3,1217.3 382.1,1216.5 383.8,1215.7 385.6,1214.8 387.3,1213.9 389.1,1212.8 390.9,1212.1 392.6,1211.5 394.4,1210.8 396.1,1209.9 397.9,1209 399.7,1208.5 401.4,1207.6 403.2,1206.6 404.9,1205.6 406.7,1204.8 408.5,1204 410.2,1202.9 412,1202.2 413.7,1201.1 415.5,1200.1 417.3,1199.1 419,1198.2 420.8,1197.4 422.5,1196.5 424.3,1195.6 426.1,1194.7 427.8,1193.8 429.6,1192.9 431.3,1192 433.1,1190.6 434.8,1189.5 436.6,1188 438.4,1187.2 440.1,1186.2 441.9,1185.2 443.6,1184.1 445.4,1182.8 447.2,1181.6 448.9,1180.2 450.7,1179 452.4,1177.8 454.2,1176.7 456,1174.9 457.7,1173.6 459.5,1171.9 461.2,1170.6 463,1169.2 464.8,1167.7 466.5,1166.1 468.3,1164.4 470,1163.1 471.8,1161.6 473.6,1159.9 475.3,1158.1 477.1,1156.6 478.8,1155.1 480.6,1153.5 482.3,1151.8 484.1,1150.2 485.9,1148.5 487.6,1146.8 489.4,1144.6 491.1,1143 492.9,1141.4 494.7,1140 496.4,1137.7 498.2,1135.7 499.9,1133.4 501.7,1131.5 503.5,1129.5 505.2,1127.3 507,1125.3 508.7,1123.7 510.5,1122 512.3,1120.2 514,1117.9 515.8,1116.1 517.5,1114.4 519.3,1112.6 521,1110.6 522.8,1108.8 524.6,1107.2 526.3,1105.9 528.1,1104.2 529.8,1102.7 531.6,1101.1 533.4,1099.6 535.1,1098.2 536.9,1096.8 538.6,1095.6 540.4,1094 542.2,1092.7 543.9,1091.1 545.7,1089.9 547.4,1088.4 549.2,1087.2 551,1086.5 552.7,1086.2 554.5,1085.4 556.2,1084.4 558,1083.1 559.8,1082.3 561.5,1081.5 563.3,1080.8 565,1080.4 566.8,1079.7 568.5,1079 570.3,1078.4 572.1,1077.9 573.8,1077.4 575.6,1077.1 577.3,1076.6 579.1,1075.9 580.9,1075 582.6,1074.4 584.4,1074.1 586.1,1073.9 587.9,1073.4 589.7,1072.9 591.4,1072.4 593.2,1072.1 594.9,1071.4 596.7,1070.8 598.5,1070.4 600.2,1070.4 602,1070.1 603.7,1069.4 605.5,1068.9 607.3,1068.1 609,1067.8 610.8,1066.8 612.5,1066.3 614.3,1065.5 616,1064.9 617.8,1064 619.6,1063 621.3,1061.9 623.1,1060.7 624.8,1060.1 626.6,1058.9 628.4,1058 630.1,1057.1 631.9,1056.4 633.6,1055.3 635.4,1053.9 637.2,1052.3 638.9,1051.1 640.7,1049.6 642.4,1047.9 644.2,1046.3 646,1044.9 647.7,1043.5 649.5,1041.9 651.2,1040 653,1038.2 654.8,1036.4 656.5,1034.8 658.3,1032.9 660,1030.9 661.8,1028.7 663.5,1026.9 665.3,1025.1 667.1,1023.2 668.8,1021 670.6,1018.8 672.3,1017 674.1,1014.9 675.9,1012.9 677.6,1009.9 679.4,1007.5 681.1,1004.8 682.9,1002.6 684.7,1000.3 686.4,997.8 688.2,995.8 689.9,993.8 691.7,991.8 693.5,989.8 695.2,987.7 697,986 698.7,984.2 700.5,982.4 702.3,980.7 704,979.2 705.8,977.8 707.5,976.3 709.3,974.6 711,973.6 712.8,972.8 714.6,972.4 716.3,971.4 718.1,970.5 719.8,969.6 721.6,968.9 723.4,968.2 725.1,967.6 726.9,967.4 728.6,967.2 730.4,966.9 732.2,966.9 733.9,966.8 735.7,966.8 737.4,966.7 739.2,967.2 741,967.7 742.7,968.2 744.5,969.1 746.2,970.6 748,972.3 749.8,974 751.5,975.9 753.3,977.6 755,979.5 756.8,981.4 758.5,983.8 760.3,986.4 762.1,989.6 763.8,993 765.6,996.7 767.3,1000.3 769.1,1004.7 770.9,1009.4 772.6,1014.3 774.4,1019.1 776.1,1023.9 777.9,1029.2 779.7,1035 781.4,1040.6 783.2,1046.1 784.9,1051.7 786.7,1057.5 788.5,1063.4 790.2,1069.5 792,1075.4 793.7,1081.5 795.5,1087.4 797.3,1093.4 799,1099.6 800.8,1105.3 802.5,1111.4 804.3,1117.5 806,1123.9 807.8,1130.4 809.6,1136.9 811.3,1143.3 813.1,1149.7 814.8,1155.8 816.6,1161.5 818.4,1166.7 820.1,1171.3 821.9,1176.2 823.6,1180.7 825.4,1185.6 827.2,1190.4 828.9,1194.9 830.7,1199.1 832.4,1202.9 834.2,1206.7 836,1210.3 837.7,1213.8 839.5,1217.1 841.2,1219.8 843,1222.1 844.8,1224.5 846.5,1227.1 848.3,1229.4 850,1231.7 851.8,1233.5 853.5,1235.1 855.3,1236.5 857.1,1237.2 858.8,1238.3 860.6,1238.9 862.3,1240.2 864.1,1241.1 865.9,1242.2 867.6,1243.1 869.4,1243.8 871.1,1244.3 872.9,1244.4" stroke="#4c4ce0" stroke-width="2.2"/>
<polyline points="169.2,1248.8 171,1249 172.7,1248.9 174.5,1248.6 176.2,1248.4 178,1248.2 179.8,1248.1 181.5,1248.5 183.3,1248.6 185,1248.5 186.8,1248.6 188.6,1248.9 190.3,1249.3 192.1,1249.2 193.8,1248.9 195.6,1248.8 197.3,1248.8 199.1,1248.5 200.9,1248.7 202.6,1248.7 204.4,1249 206.1,1248.9 207.9,1249 209.7,1248.9 211.4,1248.7 213.2,1248.4 214.9,1248.6 216.7,1248.8 218.5,1248.8 220.2,1248.7 222,1248.5 223.7,1248.5 225.5,1248.6 227.3,1249 229,1249 230.8,1249 232.5,1248.6 234.3,1248.4 236.1,1248.3 237.8,1248.3 239.6,1248.3 241.3,1248.4 243.1,1248.6 244.8,1249 246.6,1248.7 248.4,1248.5 250.1,1248.2 251.9,1248.3 253.6,1248.4 255.4,1248.6 257.2,1248.6 258.9,1248.6 260.7,1248.4 262.4,1248.4 264.2,1248.3 266,1248.4 267.7,1248.2 269.5,1247.9 271.2,1247.6 273,1247.5 274.8,1247.7 276.5,1247.6 278.3,1247.6 280,1247.1 281.8,1247 283.6,1246.4 285.3,1246.4 287.1,1246.2 288.8,1246.2 290.6,1245.8 292.3,1245.1 294.1,1245.1 295.9,1244.8 297.6,1244.7 299.4,1244 301.1,1243.5 302.9,1243.4 304.7,1243.1 306.4,1242.9 308.2,1242.8 309.9,1242.4 311.7,1241.8 313.5,1241.3 315.2,1241.1 317,1241.3 318.7,1240.5 320.5,1239.9 322.3,1239.4 324,1239.1 325.8,1238.5 327.5,1237.8 329.3,1237.1 331.1,1236.5 332.8,1236.2 334.6,1235.6 336.3,1235.2 338.1,1234.1 339.8,1233.8 341.6,1233.5 343.4,1233 345.1,1232.3 346.9,1231.5 348.6,1231.2 350.4,1230.7 352.2,1230.1 353.9,1229.3 355.7,1228.5 357.4,1227.7 359.2,1226.9 361,1226.2 362.7,1225.3 364.5,1224.5 366.2,1223.9 368,1223.6 369.8,1222.9 371.5,1222 373.3,1220.9 375,1220.2 376.8,1219.4 378.6,1218.8 380.3,1218 382.1,1216.9 383.8,1215.9 385.6,1215.1 387.3,1214.5 389.1,1213.4 390.9,1212.5 392.6,1211.6 394.4,1211.1 396.1,1210.4 397.9,1209.4 399.7,1208.4 401.4,1207.6 403.2,1207.2 404.9,1206.5 406.7,1205.3 408.5,1204.2 410.2,1203.3 412,1202.9 413.7,1202 415.5,1201.4 417.3,1200.2 419,1199.4 420.8,1198.3 422.5,1197.6 424.3,1196.5 426.1,1195.7 427.8,1194.5 429.6,1193.5 431.3,1192.4 433.1,1191.4 434.8,1190.6 436.6,1189.7 438.4,1188.5 440.1,1187.1 441.9,1186 443.6,1184.7 445.4,1183.5 447.2,1182.3 448.9,1181 450.7,1180 452.4,1178.6 454.2,1177.4 456,1175.9 457.7,1174.4 459.5,1173.3 461.2,1172 463,1170.6 464.8,1169 466.5,1167.7 468.3,1166.1 470,1164.4 471.8,1162.5 473.6,1161 475.3,1159.6 477.1,1158.2 478.8,1157 480.6,1155.1 482.3,1153.7 484.1,1151.7 485.9,1150.3 487.6,1148.5 489.4,1147 491.1,1145.4 492.9,1143.7 494.7,1141.6 496.4,1139.5 498.2,1137.6 499.9,1135.9 501.7,1134.2 503.5,1132.3 505.2,1130.5 507,1128.4 508.7,1126.5 510.5,1124.5 512.3,1122.7 514,1120.8 515.8,1118.9 517.5,1117.3 519.3,1115.5 521,1114.1 522.8,1112 524.6,1110.5 526.3,1108.9 528.1,1107.9 529.8,1106.6 531.6,1105 533.4,1103.3 535.1,1101.5 536.9,1100.2 538.6,1099 540.4,1098 542.2,1096.8 543.9,1095.6 545.7,1094.8 547.4,1093.6 549.2,1092.7 551,1091.2 552.7,1090.4 554.5,1089.5 556.2,1088.7 558,1088.1 559.8,1087.2 561.5,1086.7 563.3,1085.7 565,1084.9 566.8,1084.3 568.5,1083.4 570.3,1082.7 572.1,1082.3 573.8,1081.6 575.6,1081.1 577.3,1080.4 579.1,1080.2 580.9,1079.8 582.6,1079.1 584.4,1078.5 586.1,1078.1 587.9,1077.6 589.7,1077.2 591.4,1077 593.2,1077 594.9,1076.5 596.7,1075.6 598.5,1075.1 600.2,1074.7 602,1074.1 603.7,1073.5 605.5,1072.9 607.3,1072.6 609,1072.1 610.8,1071.5 612.5,1070.6 614.3,1069.9 616,1069.2 617.8,1068.6 619.6,1068.1 621.3,1067.3 623.1,1066.2 624.8,1065.1 626.6,1064.1 628.4,1063.1 630.1,1061.9 631.9,1060.7 633.6,1059.5 635.4,1058.4 637.2,1057 638.9,1055.8 640.7,1054.3 642.4,1053 644.2,1051.8 646,1050.5 647.7,1049 649.5,1047.5 651.2,1045.6 653,1044.2 654.8,1042.6 656.5,1041 658.3,1039.3 660,1037.1 661.8,1035.4 663.5,1033.3 665.3,1031.8 667.1,1029.8 668.8,1027.9 670.6,1025.7 672.3,1024 674.1,1022 675.9,1020.2 677.6,1017.7 679.4,1015.6 681.1,1013.3 682.9,1011.1 684.7,1008.7 686.4,1006.7 688.2,1005 689.9,1003 691.7,1001 693.5,998.7 695.2,997.1 697,995.4 698.7,994 700.5,992.5 702.3,991 704,989.8 705.8,988.2 707.5,987.1 709.3,986.2 711,985.4 712.8,984.7 714.6,984.1 716.3,983.6 718.1,983 719.8,982.3 721.6,982.1 723.4,981.5 725.1,981.4 726.9,980.6 728.6,980.5 730.4,980.3 732.2,980.6 733.9,980.9 735.7,981.3 737.4,981.7 739.2,982.1 741,982.4 742.7,983.5 744.5,984.8 746.2,986.2 748,987.2 749.8,988.7 751.5,990.6 753.3,992.6 755,994.8 756.8,997 758.5,999.6 760.3,1002.4 762.1,1005.4 763.8,1009.1 765.6,1012.4 767.3,1016.6 769.1,1020.4 770.9,1025 772.6,1029.2 774.4,1033.8 776.1,1038.7 777.9,1043.7 779.7,1049 781.4,1054 783.2,1059.4 784.9,1064.7 786.7,1070.1 788.5,1076.1 790.2,1081.4 792,1087.5 793.7,1092.9 795.5,1098.8 797.3,1104.4 799,1110.2 800.8,1115.7 802.5,1121.2 804.3,1126.9 806,1132.8 807.8,1138.9 809.6,1145.3 811.3,1151.5 813.1,1157.4 814.8,1163.2 816.6,1168.6 818.4,1173.3 820.1,1177.8 821.9,1182.4 823.6,1187.2 825.4,1192.1 827.2,1196.2 828.9,1199.9 830.7,1203.4 832.4,1207.3 834.2,1210.9 836,1214.5 837.7,1217.7 839.5,1221 841.2,1223.6 843,1226.1 844.8,1228.5 846.5,1230.8 848.3,1232.9 850,1234.7 851.8,1236.5 853.5,1238.1 855.3,1239.5 857.1,1241 858.8,1242.1 860.6,1243 862.3,1243.8 864.1,1244.9 865.9,1246.1 867.6,1247.2 869.4,1248.3 871.1,1248.9 872.9,1249.3" stroke="#4a4af4" stroke-width="2.2"/>
<polyline points="169.2,1248.7 171,1248.6 172.7,1248.4 174.5,1248.3 176.2,1248.3 178,1248.7 179.8,1248.7 181.5,1248.8 183.3,1248.8 185,1248.7 186.8,1248.7 188.6,1248.6 190.3,1248.5 192.1,1248.4 193.8,1248.6 195.6,1248.9 197.3,1248.9 199.1,1248.8 200.9,1248.4 202.6,1248.6 204.4,1248.5 206.1,1248.6 207.9,1248.5 209.7,1248.6 211.4,1248.7 213.2,1248.8 214.9,1248.7 216.7,1248.9 218.5,1248.7 220.2,1248.7 222,1248.7 223.7,1249 225.5,1249 227.3,1248.7 229,1248.5 230.8,1248.5 232.5,1248.7 234.3,1248.7 236.1,1248.5 237.8,1248.3 239.6,1248.1 241.3,1248.4 243.1,1248.6 244.8,1248.5 246.6,1248 248.4,1248 250.1,1248.3 251.9,1248.8 253.6,1248.7 255.4,1248.6 257.2,1248.7 258.9,1248.7 260.7,1248.7 262.4,1248.3 264.2,1248.4 266,1248.3 267.7,1248.3 269.5,1248 271.2,1247.8 273,1247.8 274.8,1247.5 276.5,1247.3 278.3,1246.5 280,1246.3 281.8,1246.1 283.6,1246.2 285.3,1246.1 287.1,1245.9 288.8,1245.5 290.6,1245.1 292.3,1244.7 294.1,1244.5 295.9,1244.5 297.6,1244.3 299.4,1243.9 301.1,1243.2 302.9,1242.8 304.7,1242.7 306.4,1242.5 308.2,1242.3 309.9,1241.7 311.7,1241.4 313.5,1241.1 315.2,1240.8 317,1240.4 318.7,1239.7 320.5,1239.4 322.3,1238.7 324,1238.1 325.8,1237.2 327.5,1236.9 329.3,1236.3 331.1,1236 332.8,1235.7 334.6,1235.5 336.3,1234.9 338.1,1234.1 339.8,1233.1 341.6,1232.5 343.4,1231.9 345.1,1231.5 346.9,1230.8 348.6,1230 350.4,1229.2 352.2,1228.5 353.9,1228 355.7,1227.5 357.4,1227.3 359.2,1226.6 361,1225.8 362.7,1224.9 364.5,1224.2 366.2,1223.5 368,1222.6 369.8,1221.9 371.5,1221 373.3,1220.3 375,1219.6 376.8,1219 378.6,1218.3 380.3,1217.6 382.1,1217 383.8,1216.4 385.6,1215.7 387.3,1214.7 389.1,1213.9 390.9,1212.7 392.6,1211.8 394.4,1211 396.1,1210.8 397.9,1210.1 399.7,1209.1 401.4,1207.9 403.2,1207.3 404.9,1206.5 406.7,1205.5 408.5,1204.3 410.2,1203.4 412,1202.7 413.7,1202 415.5,1201.2 417.3,1200.2 419,1199.3 420.8,1198.2 422.5,1197.5 424.3,1196.6 426.1,1196.1 427.8,1195 429.6,1194.1 431.3,1192.6 433.1,1191.6 434.8,1190.6 436.6,1189.8 438.4,1189.1 440.1,1188.1 441.9,1187.1 443.6,1185.6 445.4,1184.3 447.2,1182.8 448.9,1181.9 450.7,1180.7 452.4,1179.4 454.2,1177.9 456,1176.9 457.7,1175.6 459.5,1174.1 461.2,1172.3 463,1171.1 464.8,1169.6 466.5,1168.2 468.3,1167.1 470,1165.6 471.8,1164.3 473.6,1162.7 475.3,1161.1 477.1,1159.5 478.8,1157.8 480.6,1156.4 482.3,1154.9 484.1,1153.5 485.9,1152 487.6,1150.3 489.4,1148.5 491.1,1146.9 492.9,1145.3 494.7,1143.8 496.4,1141.9 498.2,1139.8 499.9,1137.8 501.7,1136.1 503.5,1134.8 505.2,1133.2 507,1131.4 508.7,1129.3 510.5,1127.3 512.3,1125.2 514,1123.5 515.8,1122.2 517.5,1120.7 519.3,1119.3 521,1117.6 522.8,1116.2 524.6,1114.6 526.3,1112.7 528.1,1111.4 529.8,1110.1 531.6,1109.1 533.4,1107.8 535.1,1106.3 536.9,1104.9 538.6,1103.7 540.4,1103 542.2,1102.3 543.9,1101 545.7,1099.5 547.4,1098.4 549.2,1097.5 551,1097 552.7,1095.9 554.5,1095.1 556.2,1094 558,1093.3 559.8,1092.5 561.5,1091.7 563.3,1091 565,1090.3 566.8,1089.7 568.5,1089.4 570.3,1088.9 572.1,1088.7 573.8,1087.9 575.6,1087.5 577.3,1086.4 579.1,1085.6 580.9,1084.6 582.6,1084.3 584.4,1083.7 586.1,1083.5 587.9,1083 589.7,1082.8 591.4,1082.2 593.2,1081.7 594.9,1081.1 596.7,1080.7 598.5,1080.1 600.2,1079.4 602,1078.7 603.7,1078.2 605.5,1077.8 607.3,1077.2 609,1076.6 610.8,1075.6 612.5,1075 614.3,1074.5 616,1074.1 617.8,1073.2 619.6,1072.1 621.3,1071.3 623.1,1070.8 624.8,1070 626.6,1069.1 628.4,1067.9 630.1,1066.8 631.9,1065.5 633.6,1064.6 635.4,1063.9 637.2,1062.8 638.9,1061.7 640.7,1060.1 642.4,1059.2 644.2,1057.8 646,1056.8 647.7,1055.4 649.5,1054 651.2,1052.3 653,1051 654.8,1049.4 656.5,1048.2 658.3,1046.4 660,1045 661.8,1043.6 663.5,1042 665.3,1040.7 667.1,1039 668.8,1037.4 670.6,1035.6 672.3,1033.9 674.1,1032.2 675.9,1030.2 677.6,1028.1 679.4,1026.2 681.1,1024.3 682.9,1022.6 684.7,1020.4 686.4,1018.9 688.2,1017.5 689.9,1016.3 691.7,1014.3 693.5,1012.8 695.2,1011.5 697,1010.8 698.7,1009.6 700.5,1008.2 702.3,1007.2 704,1006.1 705.8,1005.4 707.5,1004.2 709.3,1003.8 711,1003.2 712.8,1002.8 714.6,1002.2 716.3,1002.1 718.1,1002.3 719.8,1002.4 721.6,1002.2 723.4,1002.1 725.1,1002.1 726.9,1002.3 728.6,1002.7 730.4,1003.4 732.2,1004.1 733.9,1004.7 735.7,1005.3 737.4,1006 739.2,1007.2 741,1008.4 742.7,1009.9 744.5,1011.1 746.2,1012.4 748,1013.9 749.8,1015.7 751.5,1017.8 753.3,1019.8 755,1022.3 756.8,1024.7 758.5,1027.6 760.3,1029.9 762.1,1033 763.8,1036.3 765.6,1040.1 767.3,1043.6 769.1,1047.4 770.9,1051.3 772.6,1055.6 774.4,1060.1 776.1,1065 777.9,1069.8 779.7,1074.3 781.4,1078.8 783.2,1083.9 784.9,1089.2 786.7,1094.1 788.5,1099.3 790.2,1104.4 792,1109.6 793.7,1114.4 795.5,1119.6 797.3,1124.8 799,1129.6 800.8,1134.6 802.5,1139.9 804.3,1145.4 806,1150.7 807.8,1156 809.6,1161.5 811.3,1167.2 813.1,1172.4 814.8,1176.8 816.6,1181.3 818.4,1185.6 820.1,1189.9 821.9,1193.9 823.6,1198.2 825.4,1202.1 827.2,1205.9 828.9,1209 830.7,1212.6 832.4,1216 834.2,1219.7 836,1222.6 837.7,1225.1 839.5,1227.6 841.2,1230.4 843,1233 844.8,1235 846.5,1237 848.3,1239 850,1240.6 851.8,1242 853.5,1243.6 855.3,1244.9 857.1,1246.1 858.8,1246.9 860.6,1247.7 862.3,1248.7 864.1,1249.8 865.9,1250.9 867.6,1251.4 869.4,1251.8 871.1,1252.2 872.9,1252.5" stroke="#5c5cf8" stroke-width="2.2"/>
<polyline points="169.2,1248.9 171,1248.7 172.7,1248.8 174.5,1248.9 176.2,1249.2 178,1248.8 179.8,1248.5 181.5,1248.5 183.3,1248.5 185,1248.7 186.8,1248.7 188.6,1248.8 190.3,1248.5 192.1,1248.1 193.8,1248.1 195.6,1248.3 197.3,1248.5 199.1,1248.6 200.9,1248.5 202.6,1248.4 204.4,1248.3 206.1,1248.2 207.9,1248.4 209.7,1248.5 211.4,1248.8 213.2,1248.7 214.9,1248.6 216.7,1248.4 218.5,1248.3 220.2,1248.3 222,1248.5 223.7,1248.5 225.5,1248.7 227.3,1248.4 229,1248.4 230.8,1248.2 232.5,1248.5 234.3,1248.6 236.1,1248.8 237.8,1248.6 239.6,1248.6 241.3,1248.4 243.1,1248.4 244.8,1248.6 246.6,1248.4 248.4,1248.1 250.1,1247.9 251.9,1248.1 253.6,1248.6 255.4,1248.8 257.2,1248.7 258.9,1248.4 260.7,1248.2 262.4,1248.3 264.2,1248.5 266,1248.5 267.7,1248.1 269.5,1247.9 271.2,1247.6 273,1247.6 274.8,1247.2 276.5,1247.1 278.3,1247 280,1246.9 281.8,1246.4 283.6,1246.4 285.3,1246 287.1,1245.8 288.8,1245.2 290.6,1244.9 292.3,1244.8 294.1,1244.6 295.9,1244.4 297.6,1244.1 299.4,1243.5 301.1,1243.4 302.9,1243.1 304.7,1242.9 306.4,1242.2 308.2,1241.6 309.9,1241.2 311.7,1241 313.5,1240.9 315.2,1240.7 317,1240.4 318.7,1239.9 320.5,1239.5 322.3,1239 324,1238.3 325.8,1238 327.5,1237.7 329.3,1237.3 331.1,1236.5 332.8,1235.5 334.6,1235.2 336.3,1234.7 338.1,1234.7 339.8,1233.9 341.6,1233.4 343.4,1232.6 345.1,1231.8 346.9,1231.2 348.6,1230.6 350.4,1230 352.2,1229.9 353.9,1229.5 355.7,1228.8 357.4,1227.8 359.2,1227 361,1226.6 362.7,1226.2 364.5,1225.7 366.2,1224.9 368,1224 369.8,1223.3 371.5,1222.5 373.3,1222.1 375,1221.6 376.8,1221.1 378.6,1220.1 380.3,1218.9 382.1,1218.4 383.8,1217.7 385.6,1217.1 387.3,1215.9 389.1,1215.1 390.9,1214.3 392.6,1213.9 394.4,1213.1 396.1,1212.3 397.9,1211.5 399.7,1210.9 401.4,1210.2 403.2,1209.4 404.9,1208.6 406.7,1207.6 408.5,1206.9 410.2,1206 412,1205.5 413.7,1204.3 415.5,1203.6 417.3,1202.7 419,1202.6 420.8,1201.8 422.5,1200.9 424.3,1199.7 426.1,1198.8 427.8,1197.9 429.6,1196.9 431.3,1196 433.1,1195.4 434.8,1194.4 436.6,1193.3 438.4,1191.8 440.1,1191.1 441.9,1190.1 443.6,1189.3 445.4,1187.9 447.2,1186.8 448.9,1185.3 450.7,1184.2 452.4,1183 454.2,1182.1 456,1180.6 457.7,1179.5 459.5,1178 461.2,1177 463,1175.7 464.8,1174.4 466.5,1173 468.3,1171.6 470,1170.4 471.8,1169.1 473.6,1167.5 475.3,1166.1 477.1,1164.8 478.8,1163.7 480.6,1162.5 482.3,1161.1 484.1,1159.7 485.9,1158.5 487.6,1157.1 489.4,1155.2 491.1,1153.3 492.9,1151.5 494.7,1150 496.4,1148.4 498.2,1146.4 499.9,1144.9 501.7,1143.3 503.5,1141.9 505.2,1140.1 507,1138.5 508.7,1136.7 510.5,1135 512.3,1133.2 514,1131.9 515.8,1130.4 517.5,1129.2 519.3,1127.6 521,1126 522.8,1124.5 524.6,1123.1 526.3,1121.8 528.1,1120.7 529.8,1119.9 531.6,1118.9 533.4,1117.7 535.1,1116.2 536.9,1115.1 538.6,1113.8 540.4,1113.2 542.2,1112.1 543.9,1111.5 545.7,1110.3 547.4,1109.2 549.2,1108.2 551,1107.5 552.7,1106.8 554.5,1106.1 556.2,1104.9 558,1104.2 559.8,1103.5 561.5,1103.3 563.3,1102.4 565,1101.5 566.8,1100.8 568.5,1100.7 570.3,1100.3 572.1,1099.5 573.8,1098.9 575.6,1098 577.3,1097.5 579.1,1096.8 580.9,1096.3 582.6,1096.3 584.4,1095.6 586.1,1095.2 587.9,1094.1 589.7,1093.5 591.4,1093 593.2,1092.9 594.9,1092.6 596.7,1092.2 598.5,1091.3 600.2,1090.8 602,1090.2 603.7,1089.9 605.5,1089.3 607.3,1088.9 609,1088 610.8,1087.5 612.5,1086.7 614.3,1086.6 616,1085.8 617.8,1085.2 619.6,1084.2 621.3,1083.4 623.1,1082.3 624.8,1081.6 626.6,1080.9 628.4,1080.4 630.1,1079.4 631.9,1078 633.6,1077 635.4,1076.2 637.2,1075.4 638.9,1074.1 640.7,1073 642.4,1072.2 644.2,1071 646,1069.6 647.7,1068.3 649.5,1067.1 651.2,1066 653,1064.7 654.8,1063.5 656.5,1062.2 658.3,1060.7 660,1059.5 661.8,1058.2 663.5,1057.2 665.3,1055.8 667.1,1054.5 668.8,1052.9 670.6,1051.4 672.3,1049.6 674.1,1048.1 675.9,1046.4 677.6,1044.9 679.4,1042.9 681.1,1041.2 682.9,1039.5 684.7,1038.2 686.4,1037 688.2,1035.9 689.9,1034.7 691.7,1033.5 693.5,1032.2 695.2,1030.8 697,1029.7 698.7,1028.7 700.5,1027.4 702.3,1026.3 704,1025.4 705.8,1025.3 707.5,1024.7 709.3,1024.4 711,1024.1 712.8,1024.1 714.6,1023.9 716.3,1023.9 718.1,1023.6 719.8,1023.6 721.6,1023.8 723.4,1024 725.1,1024.6 726.9,1025.1 728.6,1025.8 730.4,1026.2 732.2,1026.8 733.9,1027.6 735.7,1028.6 737.4,1029.6 739.2,1030.5 741,1031.6 742.7,1032.6 744.5,1033.9 746.2,1035.5 748,1037.3 749.8,1039.5 751.5,1041.7 753.3,1043.7 755,1045.8 756.8,1047.9 758.5,1050.7 760.3,1053.2 762.1,1056 763.8,1059.1 765.6,1062.6 767.3,1066.1 769.1,1069.5 770.9,1073 772.6,1076.8 774.4,1080.9 776.1,1085.2 777.9,1089.6 779.7,1093.9 781.4,1098.3 783.2,1102.9 784.9,1107.5 786.7,1111.9 788.5,1116.2 790.2,1120.6 792,1125.5 793.7,1130 795.5,1134.8 797.3,1139.3 799,1144.3 800.8,1148.7 802.5,1153.4 804.3,1158 806,1163 807.8,1167.8 809.6,1172.6 811.3,1177.2 813.1,1181.6 814.8,1185.7 816.6,1190.1 818.4,1194 820.1,1198.3 821.9,1202 823.6,1205.8 825.4,1208.7 827.2,1212.2 828.9,1215.2 830.7,1218.9 832.4,1221.9 834.2,1225.1 836,1227.9 837.7,1230.8 839.5,1233.3 841.2,1235.5 843,1237 844.8,1239 846.5,1240.5 848.3,1242.6 850,1244.1 851.8,1245.5 853.5,1246.7 855.3,1247.8 857.1,1249.2 858.8,1250.4 860.6,1251.5 862.3,1252.5 864.1,1253.4 865.9,1254 867.6,1254.9 869.4,1255.9 871.1,1256.9 872.9,1257.4" stroke="#7878fa" stroke-width="2.2"/>
<polyline points="169.2,1248.7 171,1248.6 172.7,1248.8 174.5,1248.5 176.2,1248.7 178,1248.5 179.8,1249 181.5,1249.3 183.3,1249.3 185,1249 186.8,1248.9 188.6,1248.9 190.3,1249 192.1,1249.1 193.8,1248.9 195.6,1248.9 197.3,1248.7 199.1,1248.8 200.9,1248.6 202.6,1248.5 204.4,1248.5 206.1,1248.3 207.9,1248.8 209.7,1248.7 211.4,1249.1 213.2,1248.7 214.9,1248.6 216.7,1248.4 218.5,1248.5 220.2,1248.4 222,1248.4 223.7,1248.4 225.5,1248.4 227.3,1248.1 229,1248.1 230.8,1248.3 232.5,1248.5 234.3,1248.7 236.1,1248.6 237.8,1248.3 239.6,1248.2 241.3,1248.2 243.1,1248.5 244.8,1248.4 246.6,1248.6 248.4,1248.6 250.1,1248.8 251.9,1248.8 253.6,1248.7 255.4,1248.6 257.2,1248.3 258.9,1248.5 260.7,1248.3 262.4,1248.5 264.2,1248.5 266,1248.4 267.7,1248.1 269.5,1248.1 271.2,1247.8 273,1247.9 274.8,1247.6 276.5,1247.4 278.3,1247.1 280,1246.7 281.8,1246.6 283.6,1246.4 285.3,1246.1 287.1,1246.1 288.8,1245.9 290.6,1245.8 292.3,1245.2 294.1,1244.9 295.9,1244.8 297.6,1244 299.4,1243.7 301.1,1243.2 302.9,1243.5 304.7,1243.4 306.4,1243 308.2,1242.7 309.9,1241.9 311.7,1241.6 313.5,1241.1 315.2,1240.6 317,1240.1 318.7,1239.4 320.5,1239.4 322.3,1239 324,1238.4 325.8,1237.9 327.5,1237.6 329.3,1237.7 331.1,1237 332.8,1236.2 334.6,1235.3 336.3,1234.7 338.1,1234.1 339.8,1233.8 341.6,1233.9 343.4,1233.7 345.1,1233.1 346.9,1232 348.6,1231.3 350.4,1230.8 352.2,1230 353.9,1229.6 355.7,1229 357.4,1228.5 359.2,1228 361,1227.4 362.7,1226.8 364.5,1226.2 366.2,1225.6 368,1225.2 369.8,1224.3 371.5,1224 373.3,1223.4 375,1223 376.8,1222 378.6,1221.3 380.3,1220.5 382.1,1219.8 383.8,1219.2 385.6,1218.4 387.3,1217.7 389.1,1216.9 390.9,1216.4 392.6,1215.7 394.4,1215.1 396.1,1214.1 397.9,1213.2 399.7,1212 401.4,1211.2 403.2,1210.9 404.9,1210.1 406.7,1209.7 408.5,1209 410.2,1208.2 412,1207.6 413.7,1206.7 415.5,1206.4 417.3,1205.1 419,1204.5 420.8,1203.7 422.5,1203.2 424.3,1202.2 426.1,1201.6 427.8,1200.8 429.6,1199.7 431.3,1198.3 433.1,1197.2 434.8,1196 436.6,1195 438.4,1193.8 440.1,1193.5 441.9,1192.6 443.6,1191.9 445.4,1190.7 447.2,1190 448.9,1188.7 450.7,1187.5 452.4,1186 454.2,1184.9 456,1184 457.7,1183 459.5,1181.8 461.2,1180.3 463,1179.2 464.8,1177.9 466.5,1176.9 468.3,1175.6 470,1174.7 471.8,1173.3 473.6,1172 475.3,1170.3 477.1,1168.9 478.8,1167.4 480.6,1166.3 482.3,1165.2 484.1,1163.9 485.9,1162.2 487.6,1160.5 489.4,1159.3 491.1,1158 492.9,1156.6 494.7,1154.9 496.4,1153.3 498.2,1152.3 499.9,1150.9 501.7,1149.1 503.5,1147.3 505.2,1145.5 507,1144.1 508.7,1142.5 510.5,1140.9 512.3,1139.1 514,1137.8 515.8,1136.5 517.5,1135 519.3,1133.5 521,1132.2 522.8,1131.2 524.6,1129.7 526.3,1128.5 528.1,1127.2 529.8,1126.2 531.6,1125.3 533.4,1124.2 535.1,1123.2 536.9,1122 538.6,1121.1 540.4,1120.2 542.2,1119.3 543.9,1118.8 545.7,1117.6 547.4,1116.9 549.2,1115.8 551,1115.3 552.7,1114.6 554.5,1113.8 556.2,1112.9 558,1112 559.8,1111.1 561.5,1110.4 563.3,1109.8 565,1109.5 566.8,1108.9 568.5,1108.2 570.3,1107.5 572.1,1107.1 573.8,1106.6 575.6,1106.4 577.3,1105.7 579.1,1105.1 580.9,1104.4 582.6,1103.8 584.4,1103.2 586.1,1102.6 587.9,1102.6 589.7,1101.6 591.4,1101.3 593.2,1100.5 594.9,1100.4 596.7,1099.8 598.5,1099.3 600.2,1098.9 602,1098.2 603.7,1097.7 605.5,1097.3 607.3,1097.3 609,1096.3 610.8,1095.8 612.5,1095.1 614.3,1094.9 616,1094.1 617.8,1093.5 619.6,1092.4 621.3,1091.8 623.1,1090.7 624.8,1090.2 626.6,1089.5 628.4,1089 630.1,1088.1 631.9,1087.2 633.6,1086.3 635.4,1085.6 637.2,1084.1 638.9,1082.9 640.7,1081.7 642.4,1080.8 644.2,1079.9 646,1078.8 647.7,1077.5 649.5,1076.4 651.2,1075.6 653,1074.7 654.8,1073.5 656.5,1072.2 658.3,1071.4 660,1070.4 661.8,1069.1 663.5,1067.4 665.3,1066 667.1,1064.9 668.8,1063.3 670.6,1062 672.3,1060.6 674.1,1059.5 675.9,1058.3 677.6,1057 679.4,1055.4 681.1,1053.7 682.9,1052.1 684.7,1050.7 686.4,1049.3 688.2,1048.1 689.9,1046.9 691.7,1045.7 693.5,1044.4 695.2,1043.3 697,1042.2 698.7,1041.8 700.5,1040.9 702.3,1040.6 704,1039.8 705.8,1039.4 707.5,1039 709.3,1038.7 711,1038.6 712.8,1038.4 714.6,1038.1 716.3,1037.7 718.1,1037.9 719.8,1038.3 721.6,1038.8 723.4,1039.2 725.1,1039.6 726.9,1040.7 728.6,1040.9 730.4,1041.5 732.2,1042.3 733.9,1043.3 735.7,1044.1 737.4,1044.9 739.2,1045.8 741,1047.1 742.7,1048.4 744.5,1049.8 746.2,1051.6 748,1053 749.8,1055.1 751.5,1056.7 753.3,1058.8 755,1060.9 756.8,1063.3 758.5,1065.5 760.3,1067.9 762.1,1070.8 763.8,1073.8 765.6,1077.3 767.3,1080.5 769.1,1083.9 770.9,1087.4 772.6,1090.9 774.4,1095 776.1,1098.6 777.9,1102.7 779.7,1106.3 781.4,1110.4 783.2,1114.9 784.9,1119 786.7,1123.3 788.5,1127.6 790.2,1131.9 792,1136.2 793.7,1140.2 795.5,1145 797.3,1149.3 799,1153.9 800.8,1158 802.5,1162.7 804.3,1167 806,1171.6 807.8,1176 809.6,1180.2 811.3,1184.5 813.1,1188.7 814.8,1192.7 816.6,1196.2 818.4,1200 820.1,1203.6 821.9,1207.4 823.6,1210.4 825.4,1213.9 827.2,1216.8 828.9,1220.1 830.7,1222.7 832.4,1225.5 834.2,1228.1 836,1230.8 837.7,1233.1 839.5,1235.5 841.2,1238.1 843,1240.7 844.8,1242.8 846.5,1244.3 848.3,1245.4 850,1246.8 851.8,1248.5 853.5,1250.2 855.3,1251.7 857.1,1253.1 858.8,1253.8 860.6,1255 862.3,1255.7 864.1,1256.9 865.9,1257.7 867.6,1258.7 869.4,1259.4 871.1,1260.1 872.9,1260.8" stroke="#9a9afc" stroke-width="2.2"/>
<polyline points="169.2,1248.9 171,1248.8 172.7,1248.6 174.5,1248.5 176.2,1248.7 178,1248.6 179.8,1248.5 181.5,1248.6 183.3,1248.8 185,1248.7 186.8,1248.3 188.6,1248.4 190.3,1248.6 192.1,1249 193.8,1248.8 195.6,1248.8 197.3,1248.7 199.1,1248.9 200.9,1248.9 202.6,1248.9 204.4,1248.9 206.1,1248.9 207.9,1249 209.7,1249 211.4,1249 213.2,1248.8 214.9,1248.5 216.7,1248.7 218.5,1248.7 220.2,1248.6 222,1248.6 223.7,1248.6 225.5,1248.5 227.3,1248.1 229,1248.2 230.8,1248.1 232.5,1248.1 234.3,1247.9 236.1,1248.2 237.8,1248.3 239.6,1248.4 241.3,1248.5 243.1,1248.6 244.8,1249 246.6,1248.9 248.4,1249.2 250.1,1248.5 251.9,1248.4 253.6,1248.2 255.4,1248.3 257.2,1248.1 258.9,1248.1 260.7,1248.3 262.4,1248.4 264.2,1248.5 266,1248.1 267.7,1248.1 269.5,1247.9 271.2,1247.9 273,1248 274.8,1247.3 276.5,1247 278.3,1246.4 280,1246.5 281.8,1246.4 283.6,1246.5 285.3,1246.1 287.1,1245.7 288.8,1245.3 290.6,1245.3 292.3,1245.3 294.1,1244.9 295.9,1244.5 297.6,1244.2 299.4,1243.9 301.1,1243.3 302.9,1242.9 304.7,1242.9 306.4,1243 308.2,1242.7 309.9,1242 311.7,1241.4 313.5,1241.1 315.2,1241.1 317,1240.7 318.7,1239.9 320.5,1239.1 322.3,1238.6 324,1238.4 325.8,1238.3 327.5,1238 329.3,1237.8 331.1,1237.1 332.8,1236.7 334.6,1236.4 336.3,1236.2 338.1,1235.8 339.8,1234.6 341.6,1234.1 343.4,1233.3 345.1,1233.4 346.9,1232.8 348.6,1232.5 350.4,1231.8 352.2,1231.1 353.9,1230.6 355.7,1230.3 357.4,1230.1 359.2,1229.5 361,1228.7 362.7,1227.8 364.5,1227.1 366.2,1226.4 368,1225.6 369.8,1225.3 371.5,1224.7 373.3,1224 375,1223.4 376.8,1223 378.6,1222.4 380.3,1222 382.1,1221.4 383.8,1221 385.6,1220.5 387.3,1219.5 389.1,1218.7 390.9,1218.1 392.6,1217.3 394.4,1216.9 396.1,1216.1 397.9,1215.6 399.7,1214.9 401.4,1214.1 403.2,1213.5 404.9,1212.8 406.7,1212.5 408.5,1211.8 410.2,1210.9 412,1209.7 413.7,1208.8 415.5,1208.1 417.3,1207.3 419,1206.4 420.8,1205.6 422.5,1204.9 424.3,1204.5 426.1,1204.1 427.8,1203.5 429.6,1202.7 431.3,1201.6 433.1,1200.7 434.8,1199.7 436.6,1198.9 438.4,1197.9 440.1,1197.1 441.9,1196.3 443.6,1195.5 445.4,1194.5 447.2,1193.4 448.9,1192.3 450.7,1191.3 452.4,1190.2 454.2,1189.1 456,1188.1 457.7,1186.7 459.5,1185.9 461.2,1184.7 463,1183.7 464.8,1182.4 466.5,1181.3 468.3,1180.2 470,1179.1 471.8,1177.9 473.6,1177.1 475.3,1175.8 477.1,1174.5 478.8,1173.2 480.6,1172.1 482.3,1171 484.1,1170 485.9,1168.8 487.6,1167.4 489.4,1165.4 491.1,1163.8 492.9,1162.7 494.7,1161.5 496.4,1160.2 498.2,1158.8 499.9,1157.7 501.7,1155.8 503.5,1154.3 505.2,1152.5 507,1151.3 508.7,1149.7 510.5,1148.3 512.3,1146.8 514,1146.1 515.8,1144.7 517.5,1143.5 519.3,1142 521,1140.9 522.8,1139.5 524.6,1137.8 526.3,1136.9 528.1,1136.2 529.8,1135.6 531.6,1134.6 533.4,1133.6 535.1,1132.7 536.9,1131.4 538.6,1130.7 540.4,1129.9 542.2,1129.2 543.9,1128.3 545.7,1127.4 547.4,1126.9 549.2,1126.2 551,1125.6 552.7,1124.8 554.5,1124 556.2,1123.2 558,1122.5 559.8,1121.9 561.5,1121.3 563.3,1120.9 565,1120.4 566.8,1119.8 568.5,1119.4 570.3,1118.9 572.1,1118.3 573.8,1117.1 575.6,1116.7 577.3,1116.3 579.1,1116 580.9,1115.3 582.6,1114.7 584.4,1114.1 586.1,1113.6 587.9,1113.1 589.7,1112.9 591.4,1112.3 593.2,1111.6 594.9,1111.2 596.7,1110.5 598.5,1110.2 600.2,1109.4 602,1109.2 603.7,1108.8 605.5,1108.5 607.3,1107.8 609,1107.3 610.8,1106.8 612.5,1106.5 614.3,1105.8 616,1105.4 617.8,1104.7 619.6,1104.2 621.3,1103.3 623.1,1102.5 624.8,1101.7 626.6,1101 628.4,1100.2 630.1,1099.3 631.9,1098.6 633.6,1098 635.4,1097.4 637.2,1096.4 638.9,1095.4 640.7,1094.4 642.4,1093.7 644.2,1092.8 646,1091.5 647.7,1090.2 649.5,1089.4 651.2,1088.9 653,1087.8 654.8,1087.1 656.5,1086.2 658.3,1085.6 660,1084 661.8,1082.6 663.5,1081.4 665.3,1080.3 667.1,1079.3 668.8,1078.1 670.6,1076.9 672.3,1075.7 674.1,1074.5 675.9,1073.3 677.6,1072.3 679.4,1071.1 681.1,1069.9 682.9,1068.8 684.7,1067.5 686.4,1066.4 688.2,1065.3 689.9,1064.5 691.7,1063.5 693.5,1062.7 695.2,1062.1 697,1061.5 698.7,1060.9 700.5,1059.8 702.3,1059.1 704,1058.6 705.8,1058.6 707.5,1058.3 709.3,1058.2 711,1057.9 712.8,1058.4 714.6,1058.6 716.3,1058.9 718.1,1058.9 719.8,1059.2 721.6,1059.6 723.4,1060.4 725.1,1060.9 726.9,1061.5 728.6,1061.6 730.4,1062.6 732.2,1063.5 733.9,1064.4 735.7,1065.3 737.4,1066.6 739.2,1067.9 741,1069 742.7,1070.4 744.5,1071.8 746.2,1073.4 748,1074.8 749.8,1076.5 751.5,1078.3 753.3,1080.4 755,1082.7 756.8,1084.8 758.5,1087 760.3,1089.6 762.1,1092.3 763.8,1095.2 765.6,1098.2 767.3,1101.3 769.1,1104.2 770.9,1107.2 772.6,1110.5 774.4,1114.1 776.1,1117.6 777.9,1121 779.7,1124.5 781.4,1128.6 783.2,1132.5 784.9,1136.2 786.7,1139.8 788.5,1143.5 790.2,1147.9 792,1151.7 793.7,1155.6 795.5,1159.3 797.3,1163.2 799,1167.1 800.8,1170.8 802.5,1174.9 804.3,1179 806,1182.6 807.8,1186.3 809.6,1190.1 811.3,1194 813.1,1198 814.8,1201.6 816.6,1204.9 818.4,1208 820.1,1211 821.9,1214.1 823.6,1217 825.4,1219.8 827.2,1222.8 828.9,1225.4 830.7,1228.3 832.4,1230.5 834.2,1233.1 836,1235.2 837.7,1237.7 839.5,1240.1 841.2,1242.5 843,1244.5 844.8,1245.9 846.5,1247.2 848.3,1248.9 850,1250.8 851.8,1252.6 853.5,1253.7 855.3,1254.6 857.1,1255.8 858.8,1257.1 860.6,1258.4 862.3,1259.6 864.1,1260.9 865.9,1262.1 867.6,1263 869.4,1263.7 871.1,1264.3 872.9,1264.8" stroke="#bcbcfd" stroke-width="2.2"/>
<polyline points="169.2,1248.8 171,1248.7 172.7,1248.6 174.5,1248.5 176.2,1248.3 178,1248.4 179.8,1248.6 181.5,1248.6 183.3,1248.6 185,1248.3 186.8,1248.5 188.6,1248.5 190.3,1248.7 192.1,1248.5 193.8,1248.5 195.6,1248.5 197.3,1248.7 199.1,1248.4 200.9,1248.5 202.6,1248.5 204.4,1248.6 206.1,1248.7 207.9,1248.6 209.7,1248.6 211.4,1248.7 213.2,1248.9 214.9,1248.8 216.7,1248.7 218.5,1248.4 220.2,1248.6 222,1248.3 223.7,1248.6 225.5,1248.7 227.3,1249 229,1248.9 230.8,1248.8 232.5,1248.6 234.3,1248.8 236.1,1248.7 237.8,1248.7 239.6,1248.8 241.3,1249 243.1,1249.1 244.8,1249.1 246.6,1249.1 248.4,1248.9 250.1,1248.2 251.9,1248.2 253.6,1248.2 255.4,1248.4 257.2,1248.2 258.9,1248.4 260.7,1248.2 262.4,1248.6 264.2,1248.3 266,1248.3 267.7,1247.9 269.5,1248 271.2,1248 273,1247.8 274.8,1247.5 276.5,1247.1 278.3,1246.9 280,1246.5 281.8,1245.9 283.6,1245.5 285.3,1245.2 287.1,1245.3 288.8,1244.9 290.6,1244.6 292.3,1244 294.1,1244 295.9,1244.1 297.6,1244.2 299.4,1244.1 301.1,1243.8 302.9,1243.5 304.7,1242.7 306.4,1242.3 308.2,1241.8 309.9,1241.9 311.7,1241.2 313.5,1240.9 315.2,1240.3 317,1240.4 318.7,1240.3 320.5,1239.9 322.3,1239.5 324,1238.9 325.8,1238.7 327.5,1238.1 329.3,1237.6 331.1,1236.9 332.8,1236.5 334.6,1235.9 336.3,1235.6 338.1,1234.9 339.8,1234.4 341.6,1233.8 343.4,1233.6 345.1,1233 346.9,1232.7 348.6,1232 350.4,1231.6 352.2,1231 353.9,1230.7 355.7,1230.2 357.4,1229.8 359.2,1229.2 361,1228.8 362.7,1227.9 364.5,1227.3 366.2,1226.7 368,1226.2 369.8,1225.6 371.5,1225.2 373.3,1225.1 375,1225 376.8,1224.6 378.6,1223.7 380.3,1222.8 382.1,1221.8 383.8,1221.2 385.6,1220.5 387.3,1220.1 389.1,1219.5 390.9,1218.6 392.6,1218.2 394.4,1217.7 396.1,1217.2 397.9,1216.3 399.7,1215.5 401.4,1214.8 403.2,1214.2 404.9,1213.7 406.7,1212.9 408.5,1212.1 410.2,1211.4 412,1210.5 413.7,1209.5 415.5,1208.9 417.3,1208.6 419,1208.1 420.8,1207.4 422.5,1206.7 424.3,1206 426.1,1205.4 427.8,1204.7 429.6,1204.1 431.3,1203.3 433.1,1202.6 434.8,1201.9 436.6,1200.7 438.4,1199.7 440.1,1198.7 441.9,1197.8 443.6,1197.2 445.4,1196 447.2,1194.9 448.9,1193.8 450.7,1192.8 452.4,1191.8 454.2,1190.7 456,1190 457.7,1189.2 459.5,1188.2 461.2,1187 463,1185.8 464.8,1184.7 466.5,1183.5 468.3,1182.5 470,1181.4 471.8,1180.2 473.6,1179 475.3,1177.9 477.1,1176.7 478.8,1175.8 480.6,1174.6 482.3,1173.7 484.1,1172.5 485.9,1171.6 487.6,1170.4 489.4,1169.2 491.1,1167.4 492.9,1166 494.7,1164.6 496.4,1163.1 498.2,1161.8 499.9,1160.6 501.7,1160 503.5,1158.7 505.2,1157.5 507,1155.7 508.7,1154.5 510.5,1153.1 512.3,1151.9 514,1150.7 515.8,1149.4 517.5,1148.2 519.3,1146.9 521,1145.6 522.8,1144.4 524.6,1143.8 526.3,1143.1 528.1,1142.2 529.8,1141.3 531.6,1140.4 533.4,1139.5 535.1,1138.8 536.9,1138.4 538.6,1137.8 540.4,1136.8 542.2,1135.6 543.9,1135 545.7,1134.1 547.4,1133.5 549.2,1132.9 551,1132.7 552.7,1132 554.5,1131 556.2,1130 558,1129.4 559.8,1128.7 561.5,1128.3 563.3,1127.7 565,1127.5 566.8,1126.9 568.5,1126.4 570.3,1125.7 572.1,1125.2 573.8,1124.7 575.6,1124.2 577.3,1123.3 579.1,1122.6 580.9,1122.2 582.6,1121.8 584.4,1121.5 586.1,1120.8 587.9,1120.3 589.7,1119.7 591.4,1119.2 593.2,1118.8 594.9,1118 596.7,1117.9 598.5,1117.3 600.2,1117.1 602,1116 603.7,1115.5 605.5,1114.8 607.3,1114.3 609,1113.8 610.8,1113.6 612.5,1113.4 614.3,1112.7 616,1112.1 617.8,1111.3 619.6,1110.8 621.3,1110.2 623.1,1109.6 624.8,1108.8 626.6,1108.1 628.4,1107.7 630.1,1107.1 631.9,1106.3 633.6,1105.4 635.4,1104.8 637.2,1104.2 638.9,1103.4 640.7,1102.8 642.4,1101.7 644.2,1101.2 646,1100.1 647.7,1099.3 649.5,1098.3 651.2,1097.5 653,1096.9 654.8,1096 656.5,1095.1 658.3,1094.1 660,1093.5 661.8,1092.9 663.5,1092.1 665.3,1090.8 667.1,1090.1 668.8,1089.1 670.6,1088.2 672.3,1086.8 674.1,1086.1 675.9,1085 677.6,1084.1 679.4,1083 681.1,1082.3 682.9,1081.3 684.7,1080.7 686.4,1079.6 688.2,1079 689.9,1078.4 691.7,1077.8 693.5,1077.4 695.2,1076.6 697,1076.5 698.7,1075.9 700.5,1075.8 702.3,1075.3 704,1075.4 705.8,1075.6 707.5,1076 709.3,1076.1 711,1075.8 712.8,1076 714.6,1076.2 716.3,1077 718.1,1077.6 719.8,1078.4 721.6,1079 723.4,1079.9 725.1,1081.1 726.9,1082.3 728.6,1083.3 730.4,1083.9 732.2,1084.9 733.9,1085.9 735.7,1087.2 737.4,1088.8 739.2,1090.5 741,1092 742.7,1093.3 744.5,1094.8 746.2,1096.8 748,1098.5 749.8,1100 751.5,1102.1 753.3,1104.4 755,1107 756.8,1109 758.5,1111.5 760.3,1113.9 762.1,1116.6 763.8,1119.1 765.6,1122 767.3,1124.7 769.1,1127.2 770.9,1130.1 772.6,1133.2 774.4,1136.5 776.1,1139.7 777.9,1143 779.7,1146.3 781.4,1149.8 783.2,1152.9 784.9,1156.3 786.7,1159.6 788.5,1163.1 790.2,1166.5 792,1169.9 793.7,1173.2 795.5,1176.2 797.3,1179.7 799,1183.5 800.8,1187.4 802.5,1190.4 804.3,1193.8 806,1197 807.8,1200.5 809.6,1203.5 811.3,1206.7 813.1,1209.5 814.8,1212.2 816.6,1214.9 818.4,1217.5 820.1,1220.6 821.9,1223 823.6,1226 825.4,1228.6 827.2,1231 828.9,1233.2 830.7,1235.5 832.4,1237.7 834.2,1239.6 836,1241.6 837.7,1243.7 839.5,1245.7 841.2,1247.5 843,1249.3 844.8,1250.7 846.5,1252.1 848.3,1253.5 850,1255 851.8,1256.3 853.5,1257.4 855.3,1258.8 857.1,1260.4 858.8,1261.9 860.6,1262.9 862.3,1263.7 864.1,1264.9 865.9,1266 867.6,1267.4 869.4,1267.9 871.1,1268.7 872.9,1269.2" stroke="#dedeff" stroke-width="2.2"/>
</g>
<rect x="169.2" y="740.8" width="703.7" height="565.3" fill="none" stroke="#404040" stroke-width="2.4"/>
<rect x="168.3" y="1286.3" width="704.6" height="18.7" fill="url(#spec)"/>
<g stroke="#404040" stroke-width="2.4"><line x1="169.2" y1="1306.1" x2="169.2" y2="1318.1"/><line x1="257.2" y1="1306.1" x2="257.2" y2="1313.1"/><line x1="345.1" y1="1306.1" x2="345.1" y2="1318.1"/><line x1="433.1" y1="1306.1" x2="433.1" y2="1313.1"/><line x1="521" y1="1306.1" x2="521" y2="1318.1"/><line x1="609" y1="1306.1" x2="609" y2="1313.1"/><line x1="697" y1="1306.1" x2="697" y2="1318.1"/><line x1="784.9" y1="1306.1" x2="784.9" y2="1313.1"/><line x1="872.9" y1="1306.1" x2="872.9" y2="1318.1"/><line x1="169.2" y1="1305.8" x2="162.2" y2="1305.8"/><line x1="169.2" y1="1272.6" x2="157.2" y2="1272.6"/><line x1="169.2" y1="1239.3" x2="162.2" y2="1239.3"/><line x1="169.2" y1="1206.1" x2="157.2" y2="1206.1"/><line x1="169.2" y1="1172.8" x2="162.2" y2="1172.8"/><line x1="169.2" y1="1139.6" x2="157.2" y2="1139.6"/><line x1="169.2" y1="1106.3" x2="162.2" y2="1106.3"/><line x1="169.2" y1="1073.1" x2="157.2" y2="1073.1"/><line x1="169.2" y1="1039.8" x2="162.2" y2="1039.8"/><line x1="169.2" y1="1006.6" x2="157.2" y2="1006.6"/><line x1="169.2" y1="973.3" x2="162.2" y2="973.3"/><line x1="169.2" y1="940.1" x2="157.2" y2="940.1"/><line x1="169.2" y1="906.8" x2="162.2" y2="906.8"/><line x1="169.2" y1="873.6" x2="157.2" y2="873.6"/><line x1="169.2" y1="840.3" x2="162.2" y2="840.3"/><line x1="169.2" y1="807.1" x2="157.2" y2="807.1"/><line x1="169.2" y1="773.8" x2="162.2" y2="773.8"/><line x1="169.2" y1="740.6" x2="157.2" y2="740.6"/></g>
<text x="169.2" y="1341" font-size="25" text-anchor="middle" fill="#3a3a3a" letter-spacing="0">500</text>
<text x="345.1" y="1341" font-size="25" text-anchor="middle" fill="#3a3a3a" letter-spacing="0">550</text>
<text x="521" y="1341" font-size="25" text-anchor="middle" fill="#3a3a3a" letter-spacing="0">600</text>
<text x="697" y="1341" font-size="25" text-anchor="middle" fill="#3a3a3a" letter-spacing="0">650</text>
<text x="872.9" y="1341" font-size="25" text-anchor="middle" fill="#3a3a3a" letter-spacing="0">700</text>
<text x="148.2" y="1279.9" font-size="25" text-anchor="end" fill="#3a3a3a" >0.0</text>
<text x="148.2" y="1213.4" font-size="25" text-anchor="end" fill="#3a3a3a" >0.1</text>
<text x="148.2" y="1146.9" font-size="25" text-anchor="end" fill="#3a3a3a" >0.2</text>
<text x="148.2" y="1080.4" font-size="25" text-anchor="end" fill="#3a3a3a" >0.3</text>
<text x="148.2" y="1013.9" font-size="25" text-anchor="end" fill="#3a3a3a" >0.4</text>
<text x="148.2" y="947.4" font-size="25" text-anchor="end" fill="#3a3a3a" >0.5</text>
<text x="148.2" y="880.9" font-size="25" text-anchor="end" fill="#3a3a3a" >0.6</text>
<text x="148.2" y="814.4" font-size="25" text-anchor="end" fill="#3a3a3a" >0.7</text>
<text x="148.2" y="745.4" font-size="25" text-anchor="end" fill="#3a3a3a" >0.8</text>
<text x="526" y="1365.6" font-size="30" text-anchor="middle" fill="#3a3a3a" >Wavelength (nm)</text>
<text transform="translate(94 1021) rotate(-90)" font-size="30" text-anchor="middle" fill="#3a3a3a" >Absorbance (%)</text>
<text x="185.9" y="777.5" font-size="32" text-anchor="start" fill="#3a3a3a" >20% ZGO</text>
<line x1="185.9" y1="816.8" x2="252.7" y2="816.8" stroke="#565689" stroke-width="3"/>
<text x="260" y="825" font-size="29.5" text-anchor="start" fill="#3a3a3a" >Methylene Blue</text>
<line x1="185.9" y1="852.3" x2="252.7" y2="852.3" stroke="#58589e" stroke-width="3"/>
<text x="260" y="860.8" font-size="29.5" text-anchor="start" fill="#3a3a3a" >Adsorption</text>
<line x1="185.9" y1="888.8" x2="252.7" y2="888.8" stroke="#5a5ab4" stroke-width="3"/>
<text x="260" y="898.4" font-size="29.5" text-anchor="start" fill="#3a3a3a" >20 min</text>
<line x1="185.9" y1="926.5" x2="252.7" y2="926.5" stroke="#5858c8" stroke-width="3"/>
<text x="260" y="934.9" font-size="29.5" text-anchor="start" fill="#3a3a3a" >40 min</text>
<line x1="185.9" y1="962.7" x2="252.7" y2="962.7" stroke="#5a5ae0" stroke-width="3"/>
<text x="260" y="971.4" font-size="29.5" text-anchor="start" fill="#3a3a3a" >60 min</text>
<line x1="185.9" y1="998.3" x2="252.7" y2="998.3" stroke="#5c5cf4" stroke-width="3"/>
<text x="260" y="1007.2" font-size="29.5" text-anchor="start" fill="#3a3a3a" >80 min</text>
<line x1="185.9" y1="1034.6" x2="252.7" y2="1034.6" stroke="#6868f8" stroke-width="3"/>
<text x="260" y="1043.2" font-size="29.5" text-anchor="start" fill="#3a3a3a" >100 min</text>
<line x1="185.9" y1="1070.6" x2="252.7" y2="1070.6" stroke="#8080fa" stroke-width="3"/>
<text x="260" y="1079" font-size="29.5" text-anchor="start" fill="#3a3a3a" >120 min</text>
<line x1="185.9" y1="1106.6" x2="252.7" y2="1106.6" stroke="#a0a0fc" stroke-width="3"/>
<text x="260" y="1115.3" font-size="29.5" text-anchor="start" fill="#3a3a3a" >140 min</text>
<line x1="185.9" y1="1142.6" x2="252.7" y2="1142.6" stroke="#c0c0fd" stroke-width="3"/>
<text x="260" y="1151.3" font-size="29.5" text-anchor="start" fill="#3a3a3a" >160 min</text>
<line x1="185.9" y1="1178.4" x2="252.7" y2="1178.4" stroke="#e0e0ff" stroke-width="3"/>
<text x="260" y="1187.8" font-size="29.5" text-anchor="start" fill="#3a3a3a" >180 min</text>
<rect x="26" y="721.2" width="83.5" height="84.19999999999993" rx="2" fill="#000"/>
<text transform="translate(53.2 790.5) scale(0.956 1)" font-size="72.5" fill="#fff">c</text>
<clipPath id="clipd"><rect x="1101" y="741" width="702.5" height="564.7"/></clipPath>
<g clip-path="url(#clipd)" fill="none" stroke-linejoin="round" stroke-linecap="round">
<polyline points="1101,1273.8 1102.8,1273.6 1104.5,1273.7 1106.3,1273.8 1108,1274.2 1109.8,1273.7 1111.5,1273.3 1113.3,1273.3 1115,1273.3 1116.8,1273.5 1118.5,1273.5 1120.3,1273.6 1122,1273.3 1123.8,1272.7 1125.5,1272.8 1127.3,1273 1129,1273.3 1130.8,1273.4 1132.5,1273.3 1134.3,1273.1 1136,1273 1137.8,1272.9 1139.6,1273.2 1141.3,1273.3 1143.1,1273.7 1144.8,1273.6 1146.6,1273.4 1148.3,1273.1 1150.1,1273.1 1151.8,1273 1153.6,1273.3 1155.3,1273.3 1157.1,1273.5 1158.8,1273.2 1160.6,1273.2 1162.3,1273.1 1164.1,1273.5 1165.8,1273.5 1167.6,1273.8 1169.3,1273.7 1171.1,1273.6 1172.9,1273.5 1174.6,1273.4 1176.4,1273.8 1178.1,1273.6 1179.9,1273.2 1181.6,1273 1183.4,1273.2 1185.1,1273.9 1186.9,1274.3 1188.6,1274.1 1190.4,1273.8 1192.1,1273.6 1193.9,1273.7 1195.6,1274 1197.4,1274 1199.1,1273.7 1200.9,1273.5 1202.6,1273.3 1204.4,1273.4 1206.2,1273.2 1207.9,1273.1 1209.7,1273.3 1211.4,1273.3 1213.2,1273 1214.9,1273.1 1216.7,1272.8 1218.4,1272.6 1220.2,1272 1221.9,1271.7 1223.7,1271.6 1225.4,1271.4 1227.2,1271.1 1228.9,1270.8 1230.7,1270.1 1232.4,1270 1234.2,1269.6 1235.9,1269.5 1237.7,1268.6 1239.4,1267.9 1241.2,1267.5 1243,1267.2 1244.7,1267.3 1246.5,1267.1 1248.2,1266.7 1250,1266.2 1251.7,1265.7 1253.5,1265 1255.2,1264.2 1257,1263.9 1258.7,1263.5 1260.5,1263 1262.2,1261.8 1264,1260.6 1265.7,1260.2 1267.5,1259.4 1269.2,1259.2 1271,1258.2 1272.7,1257.4 1274.5,1256.2 1276.2,1255 1278,1254 1279.8,1253 1281.5,1252.2 1283.3,1251.8 1285,1251 1286.8,1250 1288.5,1248.5 1290.3,1247.3 1292,1246.6 1293.8,1245.8 1295.5,1245 1297.3,1243.7 1299,1242.4 1300.8,1241.2 1302.5,1240 1304.3,1239.2 1306,1238.4 1307.8,1237.5 1309.5,1236.1 1311.3,1234.3 1313.1,1233.6 1314.8,1232.5 1316.6,1231.5 1318.3,1229.9 1320.1,1228.8 1321.8,1227.6 1323.6,1226.9 1325.3,1225.8 1327.1,1224.7 1328.8,1223.5 1330.6,1222.7 1332.3,1221.6 1334.1,1220.5 1335.8,1219.3 1337.6,1218 1339.3,1216.9 1341.1,1215.7 1342.8,1214.9 1344.6,1213.2 1346.3,1212.2 1348.1,1210.9 1349.9,1210.7 1351.6,1209.5 1353.4,1208.3 1355.1,1206.7 1356.9,1205.4 1358.6,1204.2 1360.4,1202.8 1362.1,1201.6 1363.9,1200.7 1365.6,1199.3 1367.4,1197.8 1369.1,1195.8 1370.9,1194.7 1372.6,1193.3 1374.4,1192.2 1376.1,1190.3 1377.9,1188.6 1379.6,1186.6 1381.4,1184.9 1383.2,1183.3 1384.9,1181.8 1386.7,1179.7 1388.4,1178 1390.2,1175.8 1391.9,1174.1 1393.7,1172 1395.4,1169.9 1397.2,1167.6 1398.9,1165.2 1400.7,1163 1402.4,1160.8 1404.2,1158.2 1405.9,1155.7 1407.7,1153.4 1409.4,1151.3 1411.2,1149 1412.9,1146.6 1414.7,1144.1 1416.5,1141.8 1418.2,1139.2 1420,1136.1 1421.7,1132.9 1423.5,1129.9 1425.2,1127.2 1427,1124.3 1428.7,1121 1430.5,1118.3 1432.2,1115.2 1434,1112.4 1435.7,1109.1 1437.5,1106 1439.2,1102.7 1441,1099.5 1442.7,1096.3 1444.5,1093.6 1446.2,1090.6 1448,1088.1 1449.7,1085 1451.5,1081.9 1453.3,1078.8 1455,1075.9 1456.8,1073.2 1458.5,1070.6 1460.3,1068.3 1462,1065.8 1463.8,1063.1 1465.5,1059.9 1467.3,1057.1 1469,1054.2 1470.8,1052.1 1472.5,1049.4 1474.3,1047.4 1476,1044.7 1477.8,1042.3 1479.5,1040.1 1481.3,1038.4 1483,1036.9 1484.8,1035.3 1486.5,1033.1 1488.3,1031.7 1490.1,1030.4 1491.8,1029.6 1493.6,1028.2 1495.3,1026.9 1497.1,1025.8 1498.8,1025.6 1500.6,1025.1 1502.3,1024.2 1504.1,1023.6 1505.8,1022.6 1507.6,1022.2 1509.3,1021.6 1511.1,1021.2 1512.8,1021.4 1514.6,1020.8 1516.3,1020.6 1518.1,1019.5 1519.8,1019 1521.6,1018.7 1523.4,1018.9 1525.1,1019 1526.9,1018.8 1528.6,1018 1530.4,1017.8 1532.1,1017.4 1533.9,1017.4 1535.6,1017.1 1537.4,1016.8 1539.1,1016 1540.9,1015.6 1542.6,1014.8 1544.4,1014.7 1546.1,1013.6 1547.9,1012.8 1549.6,1011.2 1551.4,1010 1553.1,1008.4 1554.9,1007.1 1556.7,1005.9 1558.4,1004.8 1560.2,1002.9 1561.9,1000.6 1563.7,998.6 1565.4,996.8 1567.2,995 1568.9,992.6 1570.7,990.1 1572.4,988.1 1574.2,985.3 1575.9,982.2 1577.7,979.2 1579.4,976.3 1581.2,973.4 1582.9,970 1584.7,966.7 1586.4,963.3 1588.2,959.5 1589.9,955.9 1591.7,952.2 1593.5,948.9 1595.2,944.9 1597,941 1598.7,936.8 1600.5,932.6 1602.2,928.1 1604,923.9 1605.7,919.4 1607.5,915.1 1609.2,909.9 1611,905 1612.7,900 1614.5,895.3 1616.2,890.6 1618,885.9 1619.7,881 1621.5,876.1 1623.2,871 1625,865.7 1626.8,860.9 1628.5,856.2 1630.3,851.1 1632,846.2 1633.8,841.7 1635.5,838 1637.3,833.7 1639,829.6 1640.8,825.6 1642.5,821.9 1644.3,817.9 1646,814.2 1647.8,810.2 1649.5,806.6 1651.3,803.1 1653,799.7 1654.8,796.7 1656.5,793.6 1658.3,790.8 1660,787.6 1661.8,784.9 1663.6,782.3 1665.3,780 1667.1,777.8 1668.8,775.3 1670.6,773 1672.3,770.8 1674.1,769 1675.8,767.9 1677.6,767.4 1679.3,767.7 1681.1,768.4 1682.8,769.1 1684.6,770.2 1686.3,771.5 1688.1,773.6 1689.8,775.5 1691.6,778.1 1693.3,781.2 1695.1,785.4 1696.8,789.9 1698.6,794.9 1700.4,800.4 1702.1,806.8 1703.9,814.2 1705.6,822.2 1707.4,830.7 1709.1,839.5 1710.9,848.4 1712.6,857.9 1714.4,867.6 1716.1,877.1 1717.9,886.7 1719.6,896.7 1721.4,907.3 1723.1,917.5 1724.9,928.2 1726.6,938.6 1728.4,949.5 1730.1,959.4 1731.9,969.9 1733.7,980.2 1735.4,991.4 1737.2,1003.1 1738.9,1015.4 1740.7,1028.1 1742.4,1041.1 1744.2,1053.8 1745.9,1066.3 1747.7,1077.6 1749.4,1088.8 1751.2,1098.6 1752.9,1108.5 1754.7,1117.1 1756.4,1126.3 1758.2,1135.1 1759.9,1144.7 1761.7,1153.4 1763.4,1162 1765.2,1169.9 1767,1177.7 1768.7,1184.9 1770.5,1191.3 1772.2,1196.9 1774,1202.8 1775.7,1208 1777.5,1213.7 1779.2,1218.5 1781,1222.9 1782.7,1226.8 1784.5,1230.3 1786.2,1233.8 1788,1236.8 1789.7,1239.7 1791.5,1242.4 1793.2,1245 1795,1247.2 1796.7,1249.9 1798.5,1252.7 1800.2,1255.2 1802,1256.6" stroke="#0a0a50" stroke-width="3.0"/>
<polyline points="1101,1273.5 1102.8,1273.4 1104.5,1273.7 1106.3,1273.3 1108,1273.5 1109.8,1273.3 1111.5,1273.9 1113.3,1274.3 1115,1274.3 1116.8,1273.9 1118.5,1273.7 1120.3,1273.8 1122,1273.9 1123.8,1274 1125.5,1273.8 1127.3,1273.8 1129,1273.6 1130.8,1273.7 1132.5,1273.5 1134.3,1273.2 1136,1273.2 1137.8,1273 1139.6,1273.6 1141.3,1273.6 1143.1,1274 1144.8,1273.5 1146.6,1273.4 1148.3,1273.1 1150.1,1273.3 1151.8,1273.2 1153.6,1273.2 1155.3,1273.2 1157.1,1273.2 1158.8,1272.9 1160.6,1272.8 1162.3,1273.2 1164.1,1273.4 1165.8,1273.7 1167.6,1273.5 1169.3,1273.2 1171.1,1273.1 1172.9,1273.1 1174.6,1273.6 1176.4,1273.4 1178.1,1273.7 1179.9,1273.7 1181.6,1274 1183.4,1274 1185.1,1274 1186.9,1273.9 1188.6,1273.6 1190.4,1273.8 1192.1,1273.6 1193.9,1273.9 1195.6,1273.9 1197.4,1273.9 1199.1,1273.6 1200.9,1273.6 1202.6,1273.4 1204.4,1273.6 1206.2,1273.4 1207.9,1273.4 1209.7,1273.2 1211.4,1272.9 1213.2,1272.9 1214.9,1272.8 1216.7,1272.5 1218.4,1272.7 1220.2,1272.4 1221.9,1272.3 1223.7,1271.7 1225.4,1271.4 1227.2,1271.2 1228.9,1270.2 1230.7,1269.8 1232.4,1269.2 1234.2,1269.7 1235.9,1269.5 1237.7,1269 1239.4,1268.7 1241.2,1267.8 1243,1267.3 1244.7,1266.8 1246.5,1266.2 1248.2,1265.6 1250,1264.7 1251.7,1264.7 1253.5,1264.2 1255.2,1263.4 1257,1262.8 1258.7,1262.4 1260.5,1262.5 1262.2,1261.6 1264,1260.4 1265.7,1259.2 1267.5,1258.3 1269.2,1257.4 1271,1256.9 1272.7,1256.8 1274.5,1256.4 1276.2,1255.5 1278,1253.9 1279.8,1252.8 1281.5,1252 1283.3,1250.7 1285,1250 1286.8,1249.1 1288.5,1248.2 1290.3,1247.2 1292,1246.2 1293.8,1245.3 1295.5,1244.2 1297.3,1243.2 1299,1242.5 1300.8,1241.2 1302.5,1240.5 1304.3,1239.5 1306,1238.8 1307.8,1237.3 1309.5,1236.2 1311.3,1235 1313.1,1233.9 1314.8,1232.9 1316.6,1231.7 1318.3,1230.7 1320.1,1229.5 1321.8,1228.8 1323.6,1227.7 1325.3,1226.8 1327.1,1225.4 1328.8,1224.1 1330.6,1222.5 1332.3,1221.3 1334.1,1220.7 1335.8,1219.6 1337.6,1218.9 1339.3,1217.9 1341.1,1216.8 1342.8,1215.9 1344.6,1214.6 1346.3,1214 1348.1,1212.3 1349.9,1211.5 1351.6,1210.3 1353.4,1209.6 1355.1,1208.1 1356.9,1207.3 1358.6,1206.1 1360.4,1204.7 1362.1,1202.8 1363.9,1201.2 1365.6,1199.5 1367.4,1198.1 1369.1,1196.5 1370.9,1195.9 1372.6,1194.7 1374.4,1193.7 1376.1,1191.9 1377.9,1190.9 1379.6,1189 1381.4,1187.2 1383.2,1185.2 1384.9,1183.6 1386.7,1182.2 1388.4,1180.6 1390.2,1178.7 1391.9,1176.4 1393.7,1174.5 1395.4,1172.5 1397.2,1170.7 1398.9,1168.4 1400.7,1166.8 1402.4,1164.3 1404.2,1162.1 1405.9,1159.3 1407.7,1156.9 1409.4,1154.3 1411.2,1152.2 1412.9,1150.1 1414.7,1147.7 1416.5,1144.9 1418.2,1142 1420,1139.7 1421.7,1137.4 1423.5,1134.9 1425.2,1131.9 1427,1129.2 1428.7,1127 1430.5,1124.4 1432.2,1121.2 1434,1117.9 1435.7,1114.7 1437.5,1111.9 1439.2,1108.9 1441,1105.8 1442.7,1102.6 1444.5,1099.9 1446.2,1097.3 1448,1094.4 1449.7,1091.5 1451.5,1088.8 1453.3,1086.4 1455,1083.5 1456.8,1080.8 1458.5,1078 1460.3,1075.7 1462,1073.3 1463.8,1070.7 1465.5,1068.2 1467.3,1065.4 1469,1063 1470.8,1060.6 1472.5,1058.4 1474.3,1056.5 1476,1054 1477.8,1052 1479.5,1049.9 1481.3,1048.4 1483,1046.9 1484.8,1045.3 1486.5,1043.6 1488.3,1041.8 1490.1,1040.3 1491.8,1038.9 1493.6,1037.8 1495.3,1037.3 1497.1,1036.3 1498.8,1035.4 1500.6,1034.5 1502.3,1034 1504.1,1033.6 1505.8,1033.4 1507.6,1032.7 1509.3,1032.2 1511.1,1031.5 1512.8,1030.9 1514.6,1030.4 1516.3,1029.8 1518.1,1030.1 1519.8,1029.1 1521.6,1029 1523.4,1028.3 1525.1,1028.5 1526.9,1028 1528.6,1027.7 1530.4,1027.5 1532.1,1027 1533.9,1026.7 1535.6,1026.5 1537.4,1026.8 1539.1,1025.8 1540.9,1025.3 1542.6,1024.6 1544.4,1024.4 1546.1,1023.2 1547.9,1022.3 1549.6,1020.7 1551.4,1019.8 1553.1,1018.1 1554.9,1017.1 1556.7,1015.9 1558.4,1014.7 1560.2,1013.1 1561.9,1011.4 1563.7,1009.5 1565.4,1007.9 1567.2,1005.3 1568.9,1003 1570.7,1000.5 1572.4,998.3 1574.2,996.1 1575.9,993.4 1577.7,990.6 1579.4,987.8 1581.2,985.3 1582.9,982.6 1584.7,979.4 1586.4,976 1588.2,973.2 1589.9,970.1 1591.7,966.5 1593.5,962.4 1595.2,958.5 1597,955.1 1598.7,951.1 1600.5,947.3 1602.2,943.4 1604,939.9 1605.7,936.1 1607.5,932.1 1609.2,927.7 1611,923 1612.7,918.3 1614.5,913.7 1616.2,908.9 1618,904.3 1619.7,899.6 1621.5,895 1623.2,890.1 1625,885.6 1626.8,881 1628.5,877.3 1630.3,873 1632,869.4 1633.8,865.2 1635.5,861.4 1637.3,857.6 1639,853.9 1640.8,850.3 1642.5,846.7 1644.3,842.9 1646,839 1647.8,835.9 1649.5,833.1 1651.3,830.3 1653,827.5 1654.8,824.6 1656.5,822.6 1658.3,819.5 1660,816.9 1661.8,814.6 1663.6,812.7 1665.3,810.5 1667.1,808.3 1668.8,806.2 1670.6,804.4 1672.3,803 1674.1,801.7 1675.8,801.1 1677.6,800.4 1679.3,800.8 1681.1,801 1682.8,802.1 1684.6,803.5 1686.3,805.3 1688.1,806.9 1689.8,808.9 1691.6,811.6 1693.3,815 1695.1,819.2 1696.8,823.5 1698.6,828.4 1700.4,834 1702.1,840.1 1703.9,847.4 1705.6,854.5 1707.4,862.5 1709.1,870.2 1710.9,878.7 1712.6,887.7 1714.4,896.7 1716.1,905.9 1717.9,915.3 1719.6,924.8 1721.4,934.6 1723.1,943.9 1724.9,954.4 1726.6,964.2 1728.4,974.3 1730.1,983.7 1731.9,993.9 1733.7,1003.7 1735.4,1014.3 1737.2,1025 1738.9,1036.2 1740.7,1048.2 1742.4,1060.4 1744.2,1072.3 1745.9,1083.3 1747.7,1093.9 1749.4,1103.8 1751.2,1113.5 1752.9,1122 1754.7,1130.9 1756.4,1139.1 1758.2,1147.8 1759.9,1155.6 1761.7,1163.6 1763.4,1171.1 1765.2,1178.4 1767,1185.1 1768.7,1191.7 1770.5,1198.3 1772.2,1204.8 1774,1210.5 1775.7,1215.3 1777.5,1219.4 1779.2,1223.7 1781,1228.1 1782.7,1232.3 1784.5,1235.9 1786.2,1239.1 1788,1241.3 1789.7,1244 1791.5,1245.9 1793.2,1248.4 1795,1250.6 1796.7,1253 1798.5,1255.1 1800.2,1256.8 1802,1258.3" stroke="#0c0c68" stroke-width="3.0"/>
<polyline points="1101,1273.8 1102.8,1273.6 1104.5,1273.4 1106.3,1273.3 1108,1273.5 1109.8,1273.5 1111.5,1273.3 1113.3,1273.4 1115,1273.6 1116.8,1273.6 1118.5,1273.1 1120.3,1273.1 1122,1273.4 1123.8,1273.9 1125.5,1273.7 1127.3,1273.7 1129,1273.5 1130.8,1273.8 1132.5,1273.7 1134.3,1273.7 1136,1273.8 1137.8,1273.7 1139.6,1273.9 1141.3,1273.9 1143.1,1273.9 1144.8,1273.6 1146.6,1273.3 1148.3,1273.5 1150.1,1273.5 1151.8,1273.4 1153.6,1273.5 1155.3,1273.4 1157.1,1273.3 1158.8,1272.8 1160.6,1272.9 1162.3,1272.8 1164.1,1272.8 1165.8,1272.6 1167.6,1273 1169.3,1273.1 1171.1,1273.3 1172.9,1273.4 1174.6,1273.5 1176.4,1274.1 1178.1,1273.9 1179.9,1274.3 1181.6,1273.5 1183.4,1273.4 1185.1,1273.1 1186.9,1273.3 1188.6,1273.1 1190.4,1273.1 1192.1,1273.3 1193.9,1273.5 1195.6,1273.6 1197.4,1273.2 1199.1,1273.2 1200.9,1273 1202.6,1273.2 1204.4,1273.3 1206.2,1272.5 1207.9,1272.2 1209.7,1271.6 1211.4,1271.8 1213.2,1271.8 1214.9,1271.9 1216.7,1271.5 1218.4,1271 1220.2,1270.5 1221.9,1270.5 1223.7,1270.4 1225.4,1269.8 1227.2,1269.2 1228.9,1268.7 1230.7,1268.3 1232.4,1267.5 1234.2,1267 1235.9,1266.9 1237.7,1267 1239.4,1266.6 1241.2,1265.7 1243,1264.9 1244.7,1264.4 1246.5,1264.3 1248.2,1263.7 1250,1262.7 1251.7,1261.6 1253.5,1260.9 1255.2,1260.5 1257,1260.2 1258.7,1259.8 1260.5,1259.3 1262.2,1258.3 1264,1257.6 1265.7,1257 1267.5,1256.6 1269.2,1255.8 1271,1254.2 1272.7,1253.3 1274.5,1252 1276.2,1251.9 1278,1250.9 1279.8,1250.2 1281.5,1249.1 1283.3,1248 1285,1247 1286.8,1246.5 1288.5,1245.9 1290.3,1244.8 1292,1243.6 1293.8,1242.3 1295.5,1241.1 1297.3,1239.9 1299,1238.6 1300.8,1237.9 1302.5,1237 1304.3,1235.8 1306,1234.8 1307.8,1234.1 1309.5,1233.1 1311.3,1232.3 1313.1,1231.3 1314.8,1230.7 1316.6,1229.8 1318.3,1228.4 1320.1,1227.1 1321.8,1226.1 1323.6,1225 1325.3,1224.3 1327.1,1223.1 1328.8,1222.3 1330.6,1221.3 1332.3,1220 1334.1,1219.1 1335.8,1218.1 1337.6,1217.5 1339.3,1216.5 1341.1,1215.1 1342.8,1213.5 1344.6,1212.2 1346.3,1211.2 1348.1,1210 1349.9,1208.7 1351.6,1207.5 1353.4,1206.6 1355.1,1205.9 1356.9,1205.2 1358.6,1204.4 1360.4,1203.2 1362.1,1201.8 1363.9,1200.4 1365.6,1199 1367.4,1197.9 1369.1,1196.5 1370.9,1195.3 1372.6,1194.1 1374.4,1192.9 1376.1,1191.5 1377.9,1189.9 1379.6,1188.3 1381.4,1186.8 1383.2,1185.3 1384.9,1183.6 1386.7,1182.1 1388.4,1180 1390.2,1178.7 1391.9,1176.8 1393.7,1175.1 1395.4,1173.1 1397.2,1171.4 1398.9,1169.5 1400.7,1167.6 1402.4,1165.5 1404.2,1164 1405.9,1161.8 1407.7,1159.5 1409.4,1157.3 1411.2,1155.4 1412.9,1153.3 1414.7,1151.5 1416.5,1149.4 1418.2,1147 1420,1143.9 1421.7,1141.3 1423.5,1139.3 1425.2,1137.1 1427,1134.8 1428.7,1132.3 1430.5,1130.1 1432.2,1127 1434,1124.2 1435.7,1121.1 1437.5,1118.8 1439.2,1115.8 1441,1113.2 1442.7,1110.5 1444.5,1108.7 1446.2,1106.1 1448,1103.8 1449.7,1100.9 1451.5,1098.6 1453.3,1096.1 1455,1093 1456.8,1090.9 1458.5,1089 1460.3,1087.3 1462,1085.2 1463.8,1082.9 1465.5,1080.7 1467.3,1078.2 1469,1076.3 1470.8,1074.3 1472.5,1072.5 1474.3,1070.5 1476,1068.5 1477.8,1067.1 1479.5,1065.5 1481.3,1064.1 1483,1062.6 1484.8,1061 1486.5,1059.6 1488.3,1058.3 1490.1,1057 1491.8,1055.9 1493.6,1055.1 1495.3,1054.2 1497.1,1053.4 1498.8,1052.6 1500.6,1052 1502.3,1051.2 1504.1,1049.7 1505.8,1049.2 1507.6,1048.8 1509.3,1048.4 1511.1,1047.6 1512.8,1046.9 1514.6,1046.3 1516.3,1045.7 1518.1,1045.1 1519.8,1045 1521.6,1044.4 1523.4,1043.6 1525.1,1043.2 1526.9,1042.5 1528.6,1042.3 1530.4,1041.5 1532.1,1041.3 1533.9,1041 1535.6,1040.7 1537.4,1040 1539.1,1039.5 1540.9,1039 1542.6,1038.5 1544.4,1037.6 1546.1,1037 1547.9,1035.9 1549.6,1035.1 1551.4,1033.7 1553.1,1032.5 1554.9,1031.1 1556.7,1029.9 1558.4,1028.5 1560.2,1027 1561.9,1025.6 1563.7,1024.3 1565.4,1022.9 1567.2,1021 1568.9,1019.1 1570.7,1017 1572.4,1015.4 1574.2,1013.4 1575.9,1010.8 1577.7,1008.2 1579.4,1006.1 1581.2,1004.3 1582.9,1001.9 1584.7,999.7 1586.4,997.2 1588.2,995.1 1589.9,991.7 1591.7,988.5 1593.5,985.6 1595.2,982.6 1597,979.8 1598.7,976.8 1600.5,973.8 1602.2,970.6 1604,967.5 1605.7,964.4 1607.5,961.4 1609.2,958.1 1611,954.7 1612.7,951.2 1614.5,947.5 1616.2,943.8 1618,940.1 1619.7,936.8 1621.5,933.3 1623.2,929.9 1625,926.9 1626.8,923.9 1628.5,920.8 1630.3,917.2 1632,913.9 1633.8,911 1635.5,908.6 1637.3,905.9 1639,903.4 1640.8,900.5 1642.5,898.9 1644.3,896.8 1646,894.9 1647.8,892.6 1649.5,890.7 1651.3,889 1653,887.6 1654.8,886.1 1656.5,884.5 1658.3,882.4 1660,881.5 1661.8,880.4 1663.6,879.5 1665.3,878.5 1667.1,878 1668.8,877.5 1670.6,876.8 1672.3,876.6 1674.1,876.4 1675.8,876.6 1677.6,876.8 1679.3,877.7 1681.1,878.8 1682.8,880.7 1684.6,882.9 1686.3,884.9 1688.1,887.2 1689.8,889.9 1691.6,893 1693.3,896.6 1695.1,900.5 1696.8,905 1698.6,909.4 1700.4,914.3 1702.1,920.1 1703.9,926.4 1705.6,932.9 1707.4,939.6 1709.1,946.5 1710.9,954.4 1712.6,962 1714.4,969.6 1716.1,977.2 1717.9,985.2 1719.6,994 1721.4,1002.2 1723.1,1010.5 1724.9,1018.7 1726.6,1027.1 1728.4,1035.4 1730.1,1043.5 1731.9,1052.1 1733.7,1060.7 1735.4,1069 1737.2,1077.8 1738.9,1087.1 1740.7,1097 1742.4,1107.3 1744.2,1116.9 1745.9,1126 1747.7,1134.2 1749.4,1142 1751.2,1149.6 1752.9,1156.7 1754.7,1163.5 1756.4,1170.7 1758.2,1177.2 1759.9,1184.1 1761.7,1190 1763.4,1196.1 1765.2,1201.6 1767,1207.3 1768.7,1212.7 1770.5,1218 1772.2,1222.6 1774,1226.4 1775.7,1229.9 1777.5,1233.7 1779.2,1237.6 1781,1241.1 1782.7,1243.4 1784.5,1245.4 1786.2,1247.5 1788,1249.5 1789.7,1251.5 1791.5,1253.4 1793.2,1255.2 1795,1257 1796.7,1258.4 1798.5,1259.6 1800.2,1260.3 1802,1260.6" stroke="#0c0c84" stroke-width="3.0"/>
<polyline points="1101,1273.7 1102.8,1273.6 1104.5,1273.4 1106.3,1273.3 1108,1273.1 1109.8,1273.2 1111.5,1273.4 1113.3,1273.4 1115,1273.4 1116.8,1273 1118.5,1273.2 1120.3,1273.3 1122,1273.6 1123.8,1273.3 1125.5,1273.3 1127.3,1273.2 1129,1273.5 1130.8,1273.2 1132.5,1273.3 1134.3,1273.2 1136,1273.4 1137.8,1273.5 1139.6,1273.4 1141.3,1273.4 1143.1,1273.6 1144.8,1273.8 1146.6,1273.7 1148.3,1273.5 1150.1,1273.2 1151.8,1273.4 1153.6,1273.1 1155.3,1273.4 1157.1,1273.6 1158.8,1273.9 1160.6,1273.8 1162.3,1273.7 1164.1,1273.5 1165.8,1273.7 1167.6,1273.6 1169.3,1273.6 1171.1,1273.8 1172.9,1274 1174.6,1274.2 1176.4,1274.2 1178.1,1274.2 1179.9,1273.9 1181.6,1273.1 1183.4,1273 1185.1,1273 1186.9,1273.4 1188.6,1273.1 1190.4,1273.3 1192.1,1273.2 1193.9,1273.7 1195.6,1273.3 1197.4,1273.3 1199.1,1272.9 1200.9,1273.1 1202.6,1273.1 1204.4,1273 1206.2,1272.6 1207.9,1272.2 1209.7,1272.1 1211.4,1271.7 1213.2,1271 1214.9,1270.5 1216.7,1270.1 1218.4,1270.2 1220.2,1269.8 1221.9,1269.2 1223.7,1268.5 1225.4,1268.4 1227.2,1268.5 1228.9,1268.5 1230.7,1268.3 1232.4,1267.9 1234.2,1267.5 1235.9,1266.4 1237.7,1265.9 1239.4,1265.3 1241.2,1265.3 1243,1264.3 1244.7,1263.9 1246.5,1263.1 1248.2,1263.2 1250,1262.9 1251.7,1262.4 1253.5,1261.7 1255.2,1260.9 1257,1260.5 1258.7,1259.7 1260.5,1258.9 1262.2,1257.8 1264,1257.1 1265.7,1256.2 1267.5,1255.7 1269.2,1254.6 1271,1253.7 1272.7,1252.8 1274.5,1252.3 1276.2,1251.3 1278,1250.8 1279.8,1249.6 1281.5,1248.9 1283.3,1247.9 1285,1247.3 1286.8,1246.5 1288.5,1245.7 1290.3,1244.8 1292,1244 1293.8,1242.6 1295.5,1241.7 1297.3,1240.7 1299,1239.8 1300.8,1238.9 1302.5,1238.1 1304.3,1237.8 1306,1237.5 1307.8,1236.8 1309.5,1235.5 1311.3,1234.1 1313.1,1232.7 1314.8,1231.7 1316.6,1230.7 1318.3,1230.1 1320.1,1229.1 1321.8,1227.9 1323.6,1227.2 1325.3,1226.4 1327.1,1225.7 1328.8,1224.5 1330.6,1223.3 1332.3,1222.3 1334.1,1221.4 1335.8,1220.7 1337.6,1219.6 1339.3,1218.5 1341.1,1217.4 1342.8,1216.2 1344.6,1215 1346.3,1214.1 1348.1,1213.6 1349.9,1213 1351.6,1212 1353.4,1211.1 1355.1,1210.1 1356.9,1209.2 1358.6,1208.3 1360.4,1207.5 1362.1,1206.5 1363.9,1205.5 1365.6,1204.5 1367.4,1203 1369.1,1201.7 1370.9,1200.4 1372.6,1199.2 1374.4,1198.3 1376.1,1196.7 1377.9,1195.3 1379.6,1193.7 1381.4,1192.5 1383.2,1191 1384.9,1189.5 1386.7,1188.5 1388.4,1187.3 1390.2,1185.9 1391.9,1184.1 1393.7,1182.4 1395.4,1180.7 1397.2,1178.9 1398.9,1177.2 1400.7,1175.6 1402.4,1173.7 1404.2,1171.8 1405.9,1170 1407.7,1168.2 1409.4,1166.6 1411.2,1164.7 1412.9,1163.1 1414.7,1161.3 1416.5,1159.7 1418.2,1157.8 1420,1155.8 1421.7,1153.2 1423.5,1151 1425.2,1148.8 1427,1146.4 1428.7,1144.1 1430.5,1142.2 1432.2,1140.8 1434,1138.6 1435.7,1136.4 1437.5,1133.5 1439.2,1131.3 1441,1129 1442.7,1126.8 1444.5,1124.6 1446.2,1122.4 1448,1120.3 1449.7,1117.9 1451.5,1115.6 1453.3,1113.4 1455,1111.9 1456.8,1110.3 1458.5,1108.4 1460.3,1106.6 1462,1104.7 1463.8,1102.7 1465.5,1101.1 1467.3,1099.8 1469,1098.4 1470.8,1096.4 1472.5,1094.2 1474.3,1092.7 1476,1091 1477.8,1089.6 1479.5,1088.4 1481.3,1087.7 1483,1086.4 1484.8,1084.7 1486.5,1083.1 1488.3,1081.9 1490.1,1080.8 1491.8,1080.1 1493.6,1079.1 1495.3,1078.7 1497.1,1077.8 1498.8,1077.1 1500.6,1076.2 1502.3,1075.5 1504.1,1074.9 1505.8,1074.3 1507.6,1073.3 1509.3,1072.4 1511.1,1072 1512.8,1071.5 1514.6,1071.2 1516.3,1070.4 1518.1,1069.9 1519.8,1069.1 1521.6,1068.6 1523.4,1068.3 1525.1,1067.4 1526.9,1067.4 1528.6,1066.7 1530.4,1066.6 1532.1,1065.4 1533.9,1064.9 1535.6,1064.1 1537.4,1063.6 1539.1,1063.1 1540.9,1062.9 1542.6,1062.6 1544.4,1061.7 1546.1,1060.8 1547.9,1059.7 1549.6,1058.9 1551.4,1058 1553.1,1057 1554.9,1055.8 1556.7,1054.7 1558.4,1053.9 1560.2,1052.7 1561.9,1051.4 1563.7,1049.8 1565.4,1048.6 1567.2,1047.4 1568.9,1045.8 1570.7,1044.6 1572.4,1042.6 1574.2,1041.2 1575.9,1039.1 1577.7,1037.3 1579.4,1035.2 1581.2,1033.4 1582.9,1031.7 1584.7,1029.7 1586.4,1027.5 1588.2,1025.2 1589.9,1023.4 1591.7,1021.5 1593.5,1019.3 1595.2,1016.6 1597,1014.5 1598.7,1012.1 1600.5,1009.7 1602.2,1006.9 1604,1004.7 1605.7,1002.1 1607.5,999.7 1609.2,996.8 1611,994.5 1612.7,991.6 1614.5,989.2 1616.2,986 1618,983.4 1619.7,980.8 1621.5,978.3 1623.2,975.9 1625,973.2 1626.8,971.3 1628.5,968.8 1630.3,966.8 1632,964.4 1633.8,962.7 1635.5,961 1637.3,959.7 1639,957.9 1640.8,955.5 1642.5,953.9 1644.3,952.3 1646,951.5 1647.8,950.4 1649.5,949.6 1651.3,948.6 1653,948 1654.8,947.6 1656.5,947.4 1658.3,946.8 1660,945.8 1661.8,945.3 1663.6,944.9 1665.3,944.8 1667.1,945.2 1668.8,945.6 1670.6,945.9 1672.3,945.9 1674.1,946.2 1675.8,947.4 1677.6,948.3 1679.3,949.1 1681.1,951 1682.8,953.1 1684.6,955.9 1686.3,957.8 1688.1,960.5 1689.8,963 1691.6,966.2 1693.3,969.3 1695.1,972.9 1696.8,976.8 1698.6,980.5 1700.4,985.1 1702.1,990.1 1703.9,995.8 1705.6,1001.3 1707.4,1007.3 1709.1,1013.4 1710.9,1019.7 1712.6,1025.7 1714.4,1032.2 1716.1,1038.8 1717.9,1045.7 1719.6,1052.4 1721.4,1059.4 1723.1,1066 1724.9,1072.5 1726.6,1079.5 1728.4,1086.8 1730.1,1094.4 1731.9,1100.8 1733.7,1107.8 1735.4,1114.8 1737.2,1122.5 1738.9,1129.9 1740.7,1137.8 1742.4,1145.2 1744.2,1152.4 1745.9,1159.4 1747.7,1166 1749.4,1172.8 1751.2,1178.6 1752.9,1184.9 1754.7,1190.6 1756.4,1196 1758.2,1201.2 1759.9,1206.4 1761.7,1211.3 1763.4,1215.7 1765.2,1220.1 1767,1224.5 1768.7,1228.6 1770.5,1232.3 1772.2,1235.9 1774,1239 1775.7,1241.9 1777.5,1244.6 1779.2,1247.3 1781,1249.5 1782.7,1251.2 1784.5,1253.2 1786.2,1255.2 1788,1257 1789.7,1258.1 1791.5,1258.9 1793.2,1260.1 1795,1261.3 1796.7,1262.8 1798.5,1263.1 1800.2,1263.6 1802,1263.5" stroke="#0c0ca4" stroke-width="3.0"/>
<polyline points="1101,1273.4 1102.8,1273.5 1104.5,1273.9 1106.3,1273.9 1108,1274 1109.8,1273.8 1111.5,1274.1 1113.3,1273.8 1115,1273.6 1116.8,1273.6 1118.5,1273.7 1120.3,1273.8 1122,1273.4 1123.8,1273.3 1125.5,1273.4 1127.3,1273.5 1129,1273.8 1130.8,1274 1132.5,1274.2 1134.3,1274.2 1136,1273.9 1137.8,1273.8 1139.6,1273.6 1141.3,1273.1 1143.1,1273 1144.8,1273.2 1146.6,1273.8 1148.3,1274 1150.1,1273.7 1151.8,1273.6 1153.6,1273.3 1155.3,1272.9 1157.1,1272.6 1158.8,1272.8 1160.6,1273.4 1162.3,1273.5 1164.1,1273.6 1165.8,1273.5 1167.6,1273.5 1169.3,1273.5 1171.1,1273.6 1172.9,1273.3 1174.6,1273.3 1176.4,1273.1 1178.1,1273.7 1179.9,1273.6 1181.6,1273.8 1183.4,1273.6 1185.1,1273.4 1186.9,1273.1 1188.6,1273.2 1190.4,1273.3 1192.1,1273.4 1193.9,1273 1195.6,1273.1 1197.4,1273.1 1199.1,1273 1200.9,1272.8 1202.6,1272.5 1204.4,1272.5 1206.2,1272.5 1207.9,1271.9 1209.7,1272 1211.4,1271.6 1213.2,1271.8 1214.9,1271.5 1216.7,1271.4 1218.4,1271.1 1220.2,1270.8 1221.9,1270.1 1223.7,1269.1 1225.4,1268.4 1227.2,1268.3 1228.9,1268.7 1230.7,1268.1 1232.4,1267.6 1234.2,1266.7 1235.9,1266.7 1237.7,1266.7 1239.4,1266.4 1241.2,1265.8 1243,1265 1244.7,1264.9 1246.5,1264.5 1248.2,1264.1 1250,1263.4 1251.7,1262.7 1253.5,1262.2 1255.2,1261.3 1257,1260.6 1258.7,1259.8 1260.5,1258.6 1262.2,1258.1 1264,1257.2 1265.7,1257.1 1267.5,1256.5 1269.2,1256.3 1271,1255.7 1272.7,1255.1 1274.5,1253.8 1276.2,1253.1 1278,1251.7 1279.8,1251.1 1281.5,1250.7 1283.3,1250 1285,1249.2 1286.8,1247.9 1288.5,1247.5 1290.3,1247.3 1292,1247 1293.8,1246.3 1295.5,1244.8 1297.3,1243.8 1299,1243.1 1300.8,1242.6 1302.5,1241.7 1304.3,1240.8 1306,1239.9 1307.8,1238.9 1309.5,1237.6 1311.3,1236.9 1313.1,1236.4 1314.8,1235.9 1316.6,1235.3 1318.3,1234.2 1320.1,1233.2 1321.8,1232.2 1323.6,1231.7 1325.3,1231.2 1327.1,1230.5 1328.8,1229.5 1330.6,1228.8 1332.3,1227.8 1334.1,1226.7 1335.8,1225.8 1337.6,1225 1339.3,1224.7 1341.1,1223.5 1342.8,1222.4 1344.6,1221.4 1346.3,1220.2 1348.1,1219.5 1349.9,1218.8 1351.6,1218.2 1353.4,1217.2 1355.1,1216 1356.9,1215.4 1358.6,1215 1360.4,1214.2 1362.1,1213.1 1363.9,1211.5 1365.6,1210.2 1367.4,1209.5 1369.1,1208.6 1370.9,1207.7 1372.6,1206.6 1374.4,1205.7 1376.1,1204.9 1377.9,1203.3 1379.6,1201.9 1381.4,1200.4 1383.2,1199.3 1384.9,1198.2 1386.7,1197.3 1388.4,1196.2 1390.2,1194.8 1391.9,1192.9 1393.7,1191.1 1395.4,1189.7 1397.2,1188.9 1398.9,1187.6 1400.7,1185.9 1402.4,1184.3 1404.2,1182.7 1405.9,1181.4 1407.7,1179.7 1409.4,1178.2 1411.2,1176.8 1412.9,1175.2 1414.7,1173.7 1416.5,1172 1418.2,1170.2 1420,1168.5 1421.7,1166.7 1423.5,1165.1 1425.2,1163.5 1427,1161.4 1428.7,1159.9 1430.5,1157.5 1432.2,1155.5 1434,1153 1435.7,1151 1437.5,1149 1439.2,1147.1 1441,1145 1442.7,1143.3 1444.5,1141.2 1446.2,1139.4 1448,1137.3 1449.7,1135.4 1451.5,1133.9 1453.3,1132.4 1455,1130.7 1456.8,1128.9 1458.5,1127 1460.3,1125.6 1462,1124.1 1463.8,1122.6 1465.5,1121.2 1467.3,1119.7 1469,1117.9 1470.8,1116.3 1472.5,1114.3 1474.3,1112.8 1476,1111.6 1477.8,1110.7 1479.5,1110.1 1481.3,1108.6 1483,1107.8 1484.8,1106.4 1486.5,1105.4 1488.3,1104.1 1490.1,1103.6 1491.8,1103.1 1493.6,1102.3 1495.3,1101.4 1497.1,1100.8 1498.8,1100.5 1500.6,1100.2 1502.3,1099.8 1504.1,1098.9 1505.8,1097.6 1507.6,1096.3 1509.3,1095.8 1511.1,1095.6 1512.8,1095.7 1514.6,1095.2 1516.3,1094.2 1518.1,1092.8 1519.8,1092.1 1521.6,1092.3 1523.4,1092.2 1525.1,1091.6 1526.9,1091 1528.6,1090.3 1530.4,1090.1 1532.1,1089.5 1533.9,1089.2 1535.6,1088.4 1537.4,1087.7 1539.1,1087.6 1540.9,1087.3 1542.6,1086.6 1544.4,1085.7 1546.1,1085.2 1547.9,1084.6 1549.6,1083.4 1551.4,1082.4 1553.1,1081.2 1554.9,1080.4 1556.7,1079.3 1558.4,1078.9 1560.2,1078.1 1561.9,1076.8 1563.7,1075.5 1565.4,1074.4 1567.2,1073.4 1568.9,1072.2 1570.7,1071 1572.4,1069.7 1574.2,1068.6 1575.9,1067 1577.7,1065.9 1579.4,1063.8 1581.2,1061.7 1582.9,1059.6 1584.7,1058.3 1586.4,1057.1 1588.2,1055.2 1589.9,1053 1591.7,1050.7 1593.5,1049.3 1595.2,1047.6 1597,1046 1598.7,1043.7 1600.5,1041.7 1602.2,1039.6 1604,1037.7 1605.7,1035.6 1607.5,1033.4 1609.2,1031.2 1611,1028.5 1612.7,1026.2 1614.5,1023.8 1616.2,1021.6 1618,1019.4 1619.7,1017.5 1621.5,1015.9 1623.2,1013.5 1625,1011.4 1626.8,1009.5 1628.5,1008.2 1630.3,1006.4 1632,1004.5 1633.8,1002.9 1635.5,1001.4 1637.3,1000.1 1639,998.8 1640.8,997.5 1642.5,996.1 1644.3,995.3 1646,994.6 1647.8,993.9 1649.5,992.7 1651.3,992.5 1653,992.1 1654.8,992.1 1656.5,991.2 1658.3,991.1 1660,991 1661.8,991.1 1663.6,991.3 1665.3,991.4 1667.1,991.2 1668.8,991.2 1670.6,991.5 1672.3,992.5 1674.1,993.4 1675.8,994.1 1677.6,995.1 1679.3,996.2 1681.1,997.9 1682.8,999.9 1684.6,1002.6 1686.3,1005.3 1688.1,1007.7 1689.8,1009.8 1691.6,1011.9 1693.3,1014.7 1695.1,1017.8 1696.8,1021.4 1698.6,1025.2 1700.4,1029.4 1702.1,1033.8 1703.9,1038.4 1705.6,1042.6 1707.4,1047.9 1709.1,1053.5 1710.9,1059.4 1712.6,1064.7 1714.4,1070.1 1716.1,1075.5 1717.9,1081.5 1719.6,1087.7 1721.4,1093.9 1723.1,1099.4 1724.9,1105 1726.6,1111.1 1728.4,1117.3 1730.1,1123.1 1731.9,1128.9 1733.7,1134.7 1735.4,1140.7 1737.2,1146.8 1738.9,1153.6 1740.7,1160.4 1742.4,1167.3 1744.2,1173.3 1745.9,1179.1 1747.7,1184.3 1749.4,1190 1751.2,1195.4 1752.9,1200.3 1754.7,1204.4 1756.4,1208.6 1758.2,1213.2 1759.9,1217.7 1761.7,1222.2 1763.4,1226 1765.2,1229.9 1767,1233.4 1768.7,1236.9 1770.5,1240.2 1772.2,1243.3 1774,1246.5 1775.7,1249.2 1777.5,1251.7 1779.2,1253.2 1781,1254.8 1782.7,1256.4 1784.5,1258.1 1786.2,1259.4 1788,1260.6 1789.7,1261.6 1791.5,1262.3 1793.2,1263 1795,1263.8 1796.7,1264.6 1798.5,1265 1800.2,1265.1 1802,1265.1" stroke="#0c0cc8" stroke-width="3.0"/>
<polyline points="1101,1273.1 1102.8,1273.1 1104.5,1273.3 1106.3,1273.3 1108,1273.7 1109.8,1273.7 1111.5,1273.8 1113.3,1273.2 1115,1273.1 1116.8,1273.2 1118.5,1273.5 1120.3,1273.7 1122,1273.6 1123.8,1273.6 1125.5,1273.4 1127.3,1273.2 1129,1273.4 1130.8,1273.8 1132.5,1273.9 1134.3,1273.8 1136,1273.7 1137.8,1273.8 1139.6,1273.6 1141.3,1273.5 1143.1,1273.6 1144.8,1273.7 1146.6,1273.5 1148.3,1273.4 1150.1,1273.5 1151.8,1273.6 1153.6,1273.8 1155.3,1274.1 1157.1,1273.8 1158.8,1274.1 1160.6,1273.5 1162.3,1273.5 1164.1,1273.2 1165.8,1272.9 1167.6,1273 1169.3,1272.5 1171.1,1273.2 1172.9,1273.3 1174.6,1273.8 1176.4,1273.5 1178.1,1273.6 1179.9,1273.4 1181.6,1273.7 1183.4,1273.7 1185.1,1274 1186.9,1273.9 1188.6,1274 1190.4,1273.8 1192.1,1273.5 1193.9,1272.9 1195.6,1272.5 1197.4,1272.8 1199.1,1272.8 1200.9,1273 1202.6,1272.6 1204.4,1272.6 1206.2,1272.2 1207.9,1271.6 1209.7,1271.6 1211.4,1271.3 1213.2,1271.3 1214.9,1270.3 1216.7,1269.9 1218.4,1269.2 1220.2,1269.5 1221.9,1269.2 1223.7,1269.2 1225.4,1268.5 1227.2,1268.1 1228.9,1267.5 1230.7,1266.9 1232.4,1266.4 1234.2,1266.4 1235.9,1266.7 1237.7,1266.3 1239.4,1265.7 1241.2,1264.7 1243,1264.6 1244.7,1264.1 1246.5,1263.5 1248.2,1263.1 1250,1262.3 1251.7,1261.9 1253.5,1261.1 1255.2,1260.6 1257,1259.9 1258.7,1259 1260.5,1258.3 1262.2,1257.8 1264,1257.6 1265.7,1257 1267.5,1255.8 1269.2,1254.8 1271,1254.2 1272.7,1253.7 1274.5,1253.2 1276.2,1252.1 1278,1252.1 1279.8,1251.3 1281.5,1251 1283.3,1250 1285,1249.2 1286.8,1248.1 1288.5,1247 1290.3,1246.2 1292,1245.6 1293.8,1244.7 1295.5,1244.1 1297.3,1243.5 1299,1243.4 1300.8,1242.4 1302.5,1241.3 1304.3,1240.4 1306,1239.8 1307.8,1239.2 1309.5,1238.1 1311.3,1237 1313.1,1236 1314.8,1235.4 1316.6,1234.9 1318.3,1234.7 1320.1,1233.8 1321.8,1233.2 1323.6,1232 1325.3,1231.1 1327.1,1230.2 1328.8,1229.2 1330.6,1228.8 1332.3,1228.4 1334.1,1227.8 1335.8,1226.8 1337.6,1225.8 1339.3,1225.2 1341.1,1224.3 1342.8,1223.8 1344.6,1223 1346.3,1222.1 1348.1,1221.3 1349.9,1220.2 1351.6,1219.6 1353.4,1218.3 1355.1,1218.1 1356.9,1217.5 1358.6,1217 1360.4,1215.4 1362.1,1214.2 1363.9,1213.2 1365.6,1212.1 1367.4,1211.1 1369.1,1209.9 1370.9,1209.5 1372.6,1208.4 1374.4,1207.3 1376.1,1206.7 1377.9,1206.4 1379.6,1205.3 1381.4,1203.3 1383.2,1201.7 1384.9,1200.4 1386.7,1199.9 1388.4,1198.8 1390.2,1198.2 1391.9,1196.4 1393.7,1195.1 1395.4,1193.5 1397.2,1192.1 1398.9,1190.6 1400.7,1189.3 1402.4,1188.4 1404.2,1187.1 1405.9,1186 1407.7,1184.8 1409.4,1183.4 1411.2,1181.4 1412.9,1180 1414.7,1179 1416.5,1177.6 1418.2,1176.2 1420,1174.4 1421.7,1173.2 1423.5,1171.3 1425.2,1169.6 1427,1167.5 1428.7,1165.9 1430.5,1163.8 1432.2,1162.6 1434,1160.4 1435.7,1158.7 1437.5,1156.9 1439.2,1155.5 1441,1154.1 1442.7,1152 1444.5,1150.5 1446.2,1148.6 1448,1147.1 1449.7,1145.7 1451.5,1144 1453.3,1142.8 1455,1140.8 1456.8,1139.1 1458.5,1137.4 1460.3,1135.8 1462,1134.6 1463.8,1133.7 1465.5,1132.3 1467.3,1131.6 1469,1130.1 1470.8,1129.3 1472.5,1128 1474.3,1127 1476,1126 1477.8,1125.2 1479.5,1124.3 1481.3,1123.1 1483,1122.3 1484.8,1121.3 1486.5,1120.9 1488.3,1119.8 1490.1,1118.8 1491.8,1117.6 1493.6,1117.1 1495.3,1116.1 1497.1,1115.5 1498.8,1114.8 1500.6,1114.6 1502.3,1113.9 1504.1,1113.1 1505.8,1112.1 1507.6,1111.6 1509.3,1111.1 1511.1,1110.9 1512.8,1110.3 1514.6,1109.6 1516.3,1108.3 1518.1,1107.7 1519.8,1107.3 1521.6,1107 1523.4,1106.1 1525.1,1105.4 1526.9,1104.8 1528.6,1104.6 1530.4,1104.3 1532.1,1104 1533.9,1103.2 1535.6,1102.5 1537.4,1101.9 1539.1,1101.5 1540.9,1101 1542.6,1100.4 1544.4,1099.7 1546.1,1098.6 1547.9,1097.6 1549.6,1096.7 1551.4,1095.9 1553.1,1095 1554.9,1094.3 1556.7,1094.1 1558.4,1093.2 1560.2,1092.3 1561.9,1090.8 1563.7,1090.5 1565.4,1089.6 1567.2,1088.5 1568.9,1087 1570.7,1085.3 1572.4,1084.7 1574.2,1083.6 1575.9,1082.5 1577.7,1080.7 1579.4,1079.8 1581.2,1078.8 1582.9,1077.7 1584.7,1076.5 1586.4,1075.4 1588.2,1074.3 1589.9,1072.7 1591.7,1071.3 1593.5,1069.8 1595.2,1068.2 1597,1066.5 1598.7,1064.9 1600.5,1063.5 1602.2,1062.1 1604,1060.8 1605.7,1059.2 1607.5,1057.3 1609.2,1055.2 1611,1053.3 1612.7,1052 1614.5,1050 1616.2,1048 1618,1046.2 1619.7,1044.6 1621.5,1043.4 1623.2,1041.8 1625,1040.9 1626.8,1039.3 1628.5,1038.1 1630.3,1036.8 1632,1035.8 1633.8,1034.8 1635.5,1034.1 1637.3,1033.6 1639,1033.3 1640.8,1033 1642.5,1032.1 1644.3,1031.5 1646,1031 1647.8,1031.4 1649.5,1031.4 1651.3,1031.5 1653,1031.5 1654.8,1031.6 1656.5,1032 1658.3,1033.1 1660,1033.7 1661.8,1034.1 1663.6,1034.1 1665.3,1034.5 1667.1,1035.3 1668.8,1036.3 1670.6,1037.7 1672.3,1039.2 1674.1,1040.2 1675.8,1041.6 1677.6,1043.5 1679.3,1045.4 1681.1,1047.2 1682.8,1048.4 1684.6,1050.8 1686.3,1053.2 1688.1,1055.7 1689.8,1058.3 1691.6,1061 1693.3,1064.1 1695.1,1067.1 1696.8,1070.5 1698.6,1074.2 1700.4,1078.3 1702.1,1082.2 1703.9,1086.2 1705.6,1090 1707.4,1094 1709.1,1097.9 1710.9,1102.5 1712.6,1107.4 1714.4,1112.6 1716.1,1117.4 1717.9,1122.4 1719.6,1127.6 1721.4,1132.6 1723.1,1138.2 1724.9,1143.3 1726.6,1148.4 1728.4,1153 1730.1,1158.1 1731.9,1162.6 1733.7,1167.7 1735.4,1172.7 1737.2,1178.3 1738.9,1183.3 1740.7,1188.4 1742.4,1193.3 1744.2,1198.7 1745.9,1203.2 1747.7,1207.9 1749.4,1211.9 1751.2,1215.9 1752.9,1219.7 1754.7,1223.3 1756.4,1226.9 1758.2,1230.4 1759.9,1233.9 1761.7,1237.2 1763.4,1239.9 1765.2,1242.9 1767,1245.7 1768.7,1248.4 1770.5,1251 1772.2,1253.4 1774,1255.9 1775.7,1257.6 1777.5,1259.4 1779.2,1260.4 1781,1261.6 1782.7,1262.5 1784.5,1263.7 1786.2,1264.9 1788,1266.1 1789.7,1266.6 1791.5,1266.7 1793.2,1267 1795,1268.1 1796.7,1268.7 1798.5,1269.1 1800.2,1268.6 1802,1268.3" stroke="#1010f0" stroke-width="3.0"/>
<polyline points="1101,1274.5 1102.8,1274.1 1104.5,1273.4 1106.3,1273.3 1108,1273.3 1109.8,1273.4 1111.5,1273.6 1113.3,1273.6 1115,1273.7 1116.8,1273.6 1118.5,1273.7 1120.3,1274.3 1122,1273.6 1123.8,1273.5 1125.5,1272.8 1127.3,1273.2 1129,1273.3 1130.8,1273.8 1132.5,1274.1 1134.3,1273.7 1136,1273.3 1137.8,1272.7 1139.6,1272.8 1141.3,1273.1 1143.1,1273.5 1144.8,1273.6 1146.6,1273.5 1148.3,1273.4 1150.1,1273.1 1151.8,1273.2 1153.6,1273.6 1155.3,1273.8 1157.1,1273.9 1158.8,1273.7 1160.6,1273.7 1162.3,1273.9 1164.1,1273.8 1165.8,1273.6 1167.6,1272.9 1169.3,1272.6 1171.1,1272.8 1172.9,1273 1174.6,1273.4 1176.4,1273.4 1178.1,1273.3 1179.9,1273.3 1181.6,1273.3 1183.4,1273.3 1185.1,1273.5 1186.9,1273.1 1188.6,1272.8 1190.4,1272.8 1192.1,1273 1193.9,1273.8 1195.6,1273.4 1197.4,1273.5 1199.1,1273.1 1200.9,1273 1202.6,1272.7 1204.4,1272.3 1206.2,1271.9 1207.9,1271.7 1209.7,1271.7 1211.4,1271.3 1213.2,1271.1 1214.9,1270.5 1216.7,1270.4 1218.4,1269.7 1220.2,1269.4 1221.9,1269.1 1223.7,1269 1225.4,1268.8 1227.2,1268.5 1228.9,1268.5 1230.7,1268.3 1232.4,1267.6 1234.2,1267.3 1235.9,1266.6 1237.7,1266.5 1239.4,1265.6 1241.2,1265.1 1243,1264.7 1244.7,1264.2 1246.5,1263.8 1248.2,1262.8 1250,1262.2 1251.7,1261.8 1253.5,1261.2 1255.2,1260.8 1257,1260.1 1258.7,1259.5 1260.5,1259.2 1262.2,1258.7 1264,1258.4 1265.7,1257.4 1267.5,1256.4 1269.2,1255.8 1271,1255.3 1272.7,1255.1 1274.5,1254.4 1276.2,1253.9 1278,1252.9 1279.8,1252.5 1281.5,1251.4 1283.3,1251 1285,1250.2 1286.8,1250.4 1288.5,1249.4 1290.3,1248.8 1292,1247.5 1293.8,1246.9 1295.5,1245.9 1297.3,1245.3 1299,1244.5 1300.8,1243.9 1302.5,1243 1304.3,1242.6 1306,1241.9 1307.8,1241.4 1309.5,1240.6 1311.3,1240.2 1313.1,1239.3 1314.8,1238.8 1316.6,1237.8 1318.3,1237.4 1320.1,1236.6 1321.8,1235.8 1323.6,1234.8 1325.3,1233.9 1327.1,1233.3 1328.8,1232.9 1330.6,1232.6 1332.3,1232.3 1334.1,1231.6 1335.8,1230.5 1337.6,1229.8 1339.3,1228.7 1341.1,1228.3 1342.8,1227.5 1344.6,1226.8 1346.3,1225.7 1348.1,1225.1 1349.9,1224.7 1351.6,1223.9 1353.4,1223 1355.1,1221.8 1356.9,1221.3 1358.6,1220.4 1360.4,1219.9 1362.1,1219 1363.9,1218.4 1365.6,1217.6 1367.4,1216.8 1369.1,1215.9 1370.9,1214.8 1372.6,1214 1374.4,1213.2 1376.1,1212.5 1377.9,1211.8 1379.6,1210.6 1381.4,1209.5 1383.2,1207.8 1384.9,1207.2 1386.7,1206.2 1388.4,1205.6 1390.2,1204.1 1391.9,1203.1 1393.7,1201.9 1395.4,1200.5 1397.2,1199.2 1398.9,1197.9 1400.7,1197.1 1402.4,1195.5 1404.2,1194.2 1405.9,1192.5 1407.7,1191.6 1409.4,1190.3 1411.2,1189.3 1412.9,1187.9 1414.7,1186.4 1416.5,1185.6 1418.2,1184.6 1420,1183.6 1421.7,1181.9 1423.5,1180.1 1425.2,1178.7 1427,1177.1 1428.7,1175.9 1430.5,1174.1 1432.2,1172.7 1434,1171.2 1435.7,1169.5 1437.5,1167.8 1439.2,1166.3 1441,1165 1442.7,1163.1 1444.5,1161.5 1446.2,1160.1 1448,1158.8 1449.7,1157.3 1451.5,1155.7 1453.3,1154.4 1455,1153.2 1456.8,1152.3 1458.5,1151.1 1460.3,1149.8 1462,1148.6 1463.8,1147.2 1465.5,1146.1 1467.3,1145.3 1469,1144.7 1470.8,1143.7 1472.5,1142.7 1474.3,1141.6 1476,1140.7 1477.8,1139.6 1479.5,1138.6 1481.3,1138.1 1483,1137.7 1484.8,1137.2 1486.5,1136.6 1488.3,1135.5 1490.1,1134.4 1491.8,1133.1 1493.6,1131.8 1495.3,1131.1 1497.1,1130.8 1498.8,1130.5 1500.6,1129.7 1502.3,1129.2 1504.1,1128.9 1505.8,1128.5 1507.6,1127.9 1509.3,1127 1511.1,1126.5 1512.8,1125.7 1514.6,1125.5 1516.3,1125.3 1518.1,1124.6 1519.8,1124 1521.6,1123.1 1523.4,1122.4 1525.1,1121.7 1526.9,1121.4 1528.6,1121.4 1530.4,1121.1 1532.1,1120.7 1533.9,1120.4 1535.6,1119.7 1537.4,1119.1 1539.1,1118.4 1540.9,1118.2 1542.6,1117.2 1544.4,1116.4 1546.1,1115.5 1547.9,1115.3 1549.6,1114.9 1551.4,1113.9 1553.1,1113.2 1554.9,1112.3 1556.7,1111.6 1558.4,1110.6 1560.2,1110 1561.9,1109.4 1563.7,1108.5 1565.4,1107.3 1567.2,1106 1568.9,1105 1570.7,1103.9 1572.4,1103 1574.2,1101.8 1575.9,1100.8 1577.7,1100.1 1579.4,1099.3 1581.2,1098.4 1582.9,1097.3 1584.7,1096.1 1586.4,1095 1588.2,1093.7 1589.9,1092.3 1591.7,1091 1593.5,1089.9 1595.2,1088.9 1597,1087.8 1598.7,1086.3 1600.5,1085.2 1602.2,1083.8 1604,1083 1605.7,1081.3 1607.5,1079.9 1609.2,1078.2 1611,1076.9 1612.7,1075.5 1614.5,1074.2 1616.2,1073.4 1618,1072 1619.7,1070.8 1621.5,1069.4 1623.2,1068.2 1625,1067.3 1626.8,1066 1628.5,1065.3 1630.3,1064.3 1632,1063.6 1633.8,1062.8 1635.5,1062.3 1637.3,1061.8 1639,1062 1640.8,1061.6 1642.5,1061.5 1644.3,1061.3 1646,1061.4 1647.8,1061.7 1649.5,1061.9 1651.3,1061.7 1653,1062 1654.8,1062.1 1656.5,1063 1658.3,1063.6 1660,1064.1 1661.8,1065.1 1663.6,1066 1665.3,1067.1 1667.1,1067.8 1668.8,1068.6 1670.6,1069.6 1672.3,1071.1 1674.1,1072.7 1675.8,1074.1 1677.6,1075.3 1679.3,1076.8 1681.1,1079.1 1682.8,1081.2 1684.6,1083.3 1686.3,1085.2 1688.1,1087.6 1689.8,1089.9 1691.6,1092.5 1693.3,1095.3 1695.1,1098.8 1696.8,1102.1 1698.6,1105 1700.4,1108.1 1702.1,1111.6 1703.9,1115.3 1705.6,1119.7 1707.4,1123.6 1709.1,1127.8 1710.9,1131.2 1712.6,1134.8 1714.4,1139 1716.1,1142.9 1717.9,1147.2 1719.6,1151.5 1721.4,1155.9 1723.1,1160.5 1724.9,1164.9 1726.6,1169.5 1728.4,1173.9 1730.1,1178.5 1731.9,1182.8 1733.7,1187.2 1735.4,1191.3 1737.2,1195.3 1738.9,1199.5 1740.7,1203.6 1742.4,1208.1 1744.2,1212.2 1745.9,1216.4 1747.7,1220 1749.4,1223.7 1751.2,1226.9 1752.9,1230.3 1754.7,1233.4 1756.4,1236.7 1758.2,1240.1 1759.9,1242.8 1761.7,1245.5 1763.4,1248 1765.2,1250.5 1767,1252.8 1768.7,1254.4 1770.5,1256.7 1772.2,1258.8 1774,1261.3 1775.7,1262.2 1777.5,1263.5 1779.2,1264.4 1781,1265.9 1782.7,1266.9 1784.5,1267.7 1786.2,1268.6 1788,1269 1789.7,1269.5 1791.5,1270.1 1793.2,1270.5 1795,1271 1796.7,1271.2 1798.5,1271.4 1800.2,1271.4 1802,1271.1" stroke="#2828ff" stroke-width="3.0"/>
<polyline points="1101,1273.9 1102.8,1273.8 1104.5,1273.9 1106.3,1273.8 1108,1274 1109.8,1273.8 1111.5,1273.6 1113.3,1273.4 1115,1273.5 1116.8,1273.8 1118.5,1273.6 1120.3,1273.7 1122,1273.1 1123.8,1273.7 1125.5,1273.8 1127.3,1273.7 1129,1273.7 1130.8,1273.3 1132.5,1273.4 1134.3,1273.3 1136,1273.2 1137.8,1273.7 1139.6,1273.5 1141.3,1273.9 1143.1,1273.9 1144.8,1274 1146.6,1273.8 1148.3,1273.3 1150.1,1273.4 1151.8,1273.4 1153.6,1273.9 1155.3,1273.6 1157.1,1273.8 1158.8,1273.8 1160.6,1273.7 1162.3,1273.6 1164.1,1273.4 1165.8,1273.3 1167.6,1273.3 1169.3,1273.5 1171.1,1273.5 1172.9,1273.6 1174.6,1273.4 1176.4,1274 1178.1,1273.4 1179.9,1272.7 1181.6,1272.9 1183.4,1273 1185.1,1273.5 1186.9,1272.6 1188.6,1272.7 1190.4,1273 1192.1,1273.5 1193.9,1273.4 1195.6,1273.3 1197.4,1273.2 1199.1,1272.9 1200.9,1272.5 1202.6,1272.2 1204.4,1272.4 1206.2,1272.2 1207.9,1271.7 1209.7,1271.6 1211.4,1271.6 1213.2,1271.5 1214.9,1271.2 1216.7,1270.7 1218.4,1270.2 1220.2,1269.3 1221.9,1268.9 1223.7,1268.6 1225.4,1268.7 1227.2,1268.5 1228.9,1268.1 1230.7,1267.7 1232.4,1267.5 1234.2,1267.1 1235.9,1266.9 1237.7,1266.3 1239.4,1266.5 1241.2,1265.5 1243,1264.9 1244.7,1263.9 1246.5,1263.7 1248.2,1263.3 1250,1263 1251.7,1262.2 1253.5,1261.6 1255.2,1260.8 1257,1260.8 1258.7,1260 1260.5,1259.8 1262.2,1258.8 1264,1258.1 1265.7,1257 1267.5,1256.8 1269.2,1256.5 1271,1255.9 1272.7,1255.2 1274.5,1254.2 1276.2,1253.8 1278,1253.4 1279.8,1253.1 1281.5,1252.6 1283.3,1251.7 1285,1251 1286.8,1250.1 1288.5,1249.9 1290.3,1249.2 1292,1249.2 1293.8,1248.4 1295.5,1248 1297.3,1247 1299,1246.4 1300.8,1245.3 1302.5,1244.7 1304.3,1244.1 1306,1243.7 1307.8,1242.8 1309.5,1242.1 1311.3,1241.8 1313.1,1241.3 1314.8,1240.8 1316.6,1240.3 1318.3,1239.8 1320.1,1238.7 1321.8,1237.6 1323.6,1236.5 1325.3,1236.1 1327.1,1235.6 1328.8,1235.2 1330.6,1234.4 1332.3,1233.5 1334.1,1232.8 1335.8,1232.1 1337.6,1231.9 1339.3,1231.4 1341.1,1231 1342.8,1230.2 1344.6,1229.4 1346.3,1228.6 1348.1,1227.8 1349.9,1227 1351.6,1226.2 1353.4,1225.7 1355.1,1225.1 1356.9,1224.2 1358.6,1223.3 1360.4,1222.6 1362.1,1222.3 1363.9,1221.5 1365.6,1220.7 1367.4,1220 1369.1,1219.4 1370.9,1218.5 1372.6,1217.4 1374.4,1216.6 1376.1,1215.6 1377.9,1214.5 1379.6,1213.8 1381.4,1213.2 1383.2,1212.7 1384.9,1211.5 1386.7,1210.5 1388.4,1209.3 1390.2,1208.3 1391.9,1207.6 1393.7,1206.9 1395.4,1206.1 1397.2,1204.7 1398.9,1203.4 1400.7,1201.7 1402.4,1200.9 1404.2,1199.8 1405.9,1199.2 1407.7,1197.9 1409.4,1196.8 1411.2,1195.9 1412.9,1195.1 1414.7,1194.1 1416.5,1192.3 1418.2,1191.1 1420,1190.3 1421.7,1189.3 1423.5,1188.2 1425.2,1186.7 1427,1185 1428.7,1183.7 1430.5,1181.9 1432.2,1180.9 1434,1179.6 1435.7,1178.6 1437.5,1177.2 1439.2,1175.6 1441,1174.4 1442.7,1172.9 1444.5,1171.6 1446.2,1169.9 1448,1168.8 1449.7,1166.9 1451.5,1165.3 1453.3,1164.2 1455,1163.6 1456.8,1162.9 1458.5,1161.8 1460.3,1161 1462,1159.9 1463.8,1158.7 1465.5,1157.9 1467.3,1157 1469,1156.1 1470.8,1155.2 1472.5,1154.2 1474.3,1153.8 1476,1152.7 1477.8,1152 1479.5,1150.8 1481.3,1150.1 1483,1149.7 1484.8,1149.4 1486.5,1149.2 1488.3,1148.4 1490.1,1147.9 1491.8,1147 1493.6,1146.5 1495.3,1145.7 1497.1,1145.1 1498.8,1144.2 1500.6,1143.7 1502.3,1143 1504.1,1142.2 1505.8,1141.5 1507.6,1140.8 1509.3,1140.9 1511.1,1140.3 1512.8,1139.6 1514.6,1138.5 1516.3,1138.2 1518.1,1138.2 1519.8,1137.9 1521.6,1137.2 1523.4,1136.3 1525.1,1135.8 1526.9,1135.8 1528.6,1135.6 1530.4,1134.9 1532.1,1133.5 1533.9,1132.9 1535.6,1132.5 1537.4,1132.6 1539.1,1131.7 1540.9,1131.1 1542.6,1130.7 1544.4,1130.3 1546.1,1129.6 1547.9,1128.8 1549.6,1128.1 1551.4,1127.2 1553.1,1126.7 1554.9,1126.2 1556.7,1125.8 1558.4,1125.1 1560.2,1123.9 1561.9,1123.1 1563.7,1122.2 1565.4,1121.6 1567.2,1121.2 1568.9,1120.4 1570.7,1119.6 1572.4,1118.8 1574.2,1118.2 1575.9,1117.2 1577.7,1115.7 1579.4,1114.9 1581.2,1114.4 1582.9,1113.7 1584.7,1112.9 1586.4,1111.7 1588.2,1110.7 1589.9,1109.4 1591.7,1108.7 1593.5,1108.1 1595.2,1107.6 1597,1106.2 1598.7,1105.1 1600.5,1104 1602.2,1103.7 1604,1102.5 1605.7,1101.3 1607.5,1099.7 1609.2,1099.2 1611,1097.9 1612.7,1097 1614.5,1095.7 1616.2,1094.6 1618,1093.8 1619.7,1093.2 1621.5,1092.4 1623.2,1091.8 1625,1090.9 1626.8,1090.4 1628.5,1089.4 1630.3,1089.1 1632,1089 1633.8,1088.7 1635.5,1088.2 1637.3,1087.5 1639,1087.7 1640.8,1087.6 1642.5,1087.8 1644.3,1087.9 1646,1088.5 1647.8,1089.3 1649.5,1089.7 1651.3,1090.3 1653,1090.9 1654.8,1091.5 1656.5,1092.3 1658.3,1093.3 1660,1094.1 1661.8,1094.7 1663.6,1095.7 1665.3,1097.5 1667.1,1099.1 1668.8,1100.5 1670.6,1102 1672.3,1103.7 1674.1,1105 1675.8,1106.3 1677.6,1107.6 1679.3,1109.7 1681.1,1111.5 1682.8,1113.9 1684.6,1115.8 1686.3,1118.3 1688.1,1120.4 1689.8,1122.9 1691.6,1125.4 1693.3,1128.6 1695.1,1131.1 1696.8,1133.3 1698.6,1135.5 1700.4,1138.5 1702.1,1141.8 1703.9,1145.1 1705.6,1148.6 1707.4,1152 1709.1,1155.4 1710.9,1158.8 1712.6,1162.4 1714.4,1166 1716.1,1169.8 1717.9,1173.5 1719.6,1177.4 1721.4,1180.8 1723.1,1184.5 1724.9,1188.4 1726.6,1192 1728.4,1195.4 1730.1,1198.6 1731.9,1202.4 1733.7,1206.1 1735.4,1209.8 1737.2,1213.1 1738.9,1216.8 1740.7,1220.7 1742.4,1224.2 1744.2,1227.3 1745.9,1230.5 1747.7,1233.5 1749.4,1236.5 1751.2,1239.2 1752.9,1242.1 1754.7,1244.7 1756.4,1247.2 1758.2,1249.5 1759.9,1251.6 1761.7,1253.9 1763.4,1256.1 1765.2,1258.2 1767,1259.8 1768.7,1261.2 1770.5,1263 1772.2,1264.4 1774,1265.9 1775.7,1266.9 1777.5,1268.2 1779.2,1268.8 1781,1269.8 1782.7,1270.8 1784.5,1272.1 1786.2,1273.1 1788,1273.5 1789.7,1273.7 1791.5,1273.7 1793.2,1274 1795,1274.2 1796.7,1274.3 1798.5,1274.4 1800.2,1273.9 1802,1273.3" stroke="#5858ff" stroke-width="3.0"/>
<polyline points="1101,1273.6 1102.8,1273.4 1104.5,1273.4 1106.3,1273.7 1108,1273.6 1109.8,1273.3 1111.5,1273 1113.3,1273.6 1115,1273.8 1116.8,1273.9 1118.5,1273.4 1120.3,1273.7 1122,1273.7 1123.8,1274 1125.5,1273.5 1127.3,1273.3 1129,1273.3 1130.8,1273.5 1132.5,1273.8 1134.3,1273.9 1136,1274.1 1137.8,1273.4 1139.6,1273.1 1141.3,1273.1 1143.1,1273.8 1144.8,1274 1146.6,1274 1148.3,1273.6 1150.1,1273.4 1151.8,1273.1 1153.6,1273.6 1155.3,1273.3 1157.1,1273.4 1158.8,1273.1 1160.6,1273.7 1162.3,1273.8 1164.1,1273.4 1165.8,1273 1167.6,1272.9 1169.3,1272.9 1171.1,1273.2 1172.9,1273.7 1174.6,1273.6 1176.4,1273.2 1178.1,1272.8 1179.9,1273.1 1181.6,1273.2 1183.4,1273.3 1185.1,1273.4 1186.9,1273.2 1188.6,1273.3 1190.4,1273.1 1192.1,1273.1 1193.9,1272.9 1195.6,1272.8 1197.4,1273.1 1199.1,1273 1200.9,1273 1202.6,1272.8 1204.4,1272.6 1206.2,1272.6 1207.9,1272 1209.7,1271.4 1211.4,1271.1 1213.2,1271.2 1214.9,1270.9 1216.7,1270.3 1218.4,1270 1220.2,1269.6 1221.9,1269.5 1223.7,1268.7 1225.4,1268.8 1227.2,1268.6 1228.9,1268.1 1230.7,1267.6 1232.4,1267 1234.2,1266.8 1235.9,1266.4 1237.7,1266.3 1239.4,1266.2 1241.2,1265.7 1243,1264.9 1244.7,1264.4 1246.5,1264 1248.2,1263.8 1250,1263.2 1251.7,1263 1253.5,1262.3 1255.2,1262 1257,1261.2 1258.7,1260.8 1260.5,1259.9 1262.2,1259.5 1264,1259.1 1265.7,1259 1267.5,1258.1 1269.2,1257.7 1271,1256.8 1272.7,1256.3 1274.5,1255.5 1276.2,1255.2 1278,1254.9 1279.8,1254.2 1281.5,1253.4 1283.3,1252.7 1285,1252.4 1286.8,1251.8 1288.5,1251.1 1290.3,1250.9 1292,1250.1 1293.8,1249.5 1295.5,1248.9 1297.3,1248.5 1299,1247.7 1300.8,1246.8 1302.5,1246.2 1304.3,1246 1306,1245.4 1307.8,1245.2 1309.5,1244.7 1311.3,1244.4 1313.1,1243.3 1314.8,1242.8 1316.6,1242 1318.3,1241.6 1320.1,1240.7 1321.8,1239.7 1323.6,1238.8 1325.3,1238.2 1327.1,1238.1 1328.8,1237.8 1330.6,1236.8 1332.3,1236 1334.1,1235.3 1335.8,1235 1337.6,1234.6 1339.3,1234.2 1341.1,1233.4 1342.8,1232.7 1344.6,1231.8 1346.3,1231.7 1348.1,1231.1 1349.9,1230.4 1351.6,1229.5 1353.4,1228.5 1355.1,1228.1 1356.9,1227.1 1358.6,1226.8 1360.4,1225.9 1362.1,1225.6 1363.9,1225.1 1365.6,1224.2 1367.4,1223.5 1369.1,1222.4 1370.9,1221.7 1372.6,1221 1374.4,1220.2 1376.1,1219.5 1377.9,1218.8 1379.6,1218 1381.4,1217.3 1383.2,1216.4 1384.9,1215.6 1386.7,1215 1388.4,1214.4 1390.2,1213.5 1391.9,1212.6 1393.7,1211 1395.4,1210.3 1397.2,1209 1398.9,1207.9 1400.7,1206.8 1402.4,1206 1404.2,1205.4 1405.9,1204.4 1407.7,1203.2 1409.4,1202.4 1411.2,1201.6 1412.9,1200.9 1414.7,1199.7 1416.5,1198.6 1418.2,1197.4 1420,1196.2 1421.7,1195.1 1423.5,1194.1 1425.2,1192.9 1427,1191.6 1428.7,1190.3 1430.5,1189.2 1432.2,1188.2 1434,1187.2 1435.7,1186.1 1437.5,1184.4 1439.2,1182.9 1441,1181.2 1442.7,1180.1 1444.5,1179.1 1446.2,1178.3 1448,1177.4 1449.7,1175.9 1451.5,1174.4 1453.3,1173.2 1455,1172.6 1456.8,1171.9 1458.5,1171 1460.3,1169.9 1462,1169 1463.8,1168.4 1465.5,1167.5 1467.3,1167.2 1469,1166.1 1470.8,1166 1472.5,1164.9 1474.3,1164.6 1476,1163.4 1477.8,1162.8 1479.5,1161.8 1481.3,1161.2 1483,1160.8 1484.8,1160.5 1486.5,1160.2 1488.3,1159.5 1490.1,1159 1491.8,1158 1493.6,1157.4 1495.3,1156.5 1497.1,1155.9 1498.8,1155.3 1500.6,1155 1502.3,1154.6 1504.1,1153.8 1505.8,1153.3 1507.6,1152.7 1509.3,1152.5 1511.1,1151.8 1512.8,1151.2 1514.6,1150.3 1516.3,1149.8 1518.1,1149.3 1519.8,1148.9 1521.6,1148.1 1523.4,1147.7 1525.1,1147.5 1526.9,1147.1 1528.6,1146.3 1530.4,1145.5 1532.1,1145.2 1533.9,1144.9 1535.6,1144.6 1537.4,1144.1 1539.1,1143.7 1540.9,1143 1542.6,1142.9 1544.4,1142.4 1546.1,1141.9 1547.9,1141.1 1549.6,1140.2 1551.4,1139.3 1553.1,1138.3 1554.9,1137.8 1556.7,1137.4 1558.4,1137.4 1560.2,1136.6 1561.9,1135.8 1563.7,1134.8 1565.4,1134.2 1567.2,1133.6 1568.9,1133 1570.7,1132 1572.4,1131.3 1574.2,1130.7 1575.9,1130.6 1577.7,1129.9 1579.4,1128.9 1581.2,1128.4 1582.9,1127.4 1584.7,1127.3 1586.4,1126.4 1588.2,1125.6 1589.9,1124.6 1591.7,1123.7 1593.5,1123.1 1595.2,1122.3 1597,1121.2 1598.7,1120.3 1600.5,1119.3 1602.2,1118.7 1604,1117.8 1605.7,1117.3 1607.5,1116.5 1609.2,1115.4 1611,1114.6 1612.7,1114.1 1614.5,1113.6 1616.2,1112.7 1618,1111.3 1619.7,1110.6 1621.5,1110.1 1623.2,1109.8 1625,1109.5 1626.8,1108.7 1628.5,1108.1 1630.3,1107.8 1632,1108 1633.8,1107.8 1635.5,1107.6 1637.3,1107.2 1639,1107.6 1640.8,1107.5 1642.5,1107.9 1644.3,1108.6 1646,1109.7 1647.8,1110.4 1649.5,1110.9 1651.3,1111.3 1653,1112.1 1654.8,1112.9 1656.5,1113.9 1658.3,1114.6 1660,1115.7 1661.8,1117 1663.6,1118.6 1665.3,1120.2 1667.1,1121.4 1668.8,1123 1670.6,1124.3 1672.3,1126.1 1674.1,1127.5 1675.8,1128.7 1677.6,1130.4 1679.3,1132.3 1681.1,1134.4 1682.8,1136.3 1684.6,1138.1 1686.3,1140.2 1688.1,1142.5 1689.8,1144.8 1691.6,1147 1693.3,1149.4 1695.1,1152.1 1696.8,1155.4 1698.6,1158.4 1700.4,1161.2 1702.1,1163.6 1703.9,1166.2 1705.6,1168.6 1707.4,1171.7 1709.1,1174.9 1710.9,1178.4 1712.6,1181.6 1714.4,1184.5 1716.1,1187.7 1717.9,1191.1 1719.6,1194.4 1721.4,1197.2 1723.1,1200.1 1724.9,1202.8 1726.6,1206 1728.4,1209.1 1730.1,1212.7 1731.9,1216 1733.7,1219.3 1735.4,1222.6 1737.2,1225.7 1738.9,1228.4 1740.7,1231 1742.4,1233.8 1744.2,1237 1745.9,1239.2 1747.7,1242.2 1749.4,1244.3 1751.2,1247.5 1752.9,1249.5 1754.7,1251.8 1756.4,1253.5 1758.2,1255.4 1759.9,1257.7 1761.7,1259.8 1763.4,1261.8 1765.2,1263.4 1767,1265.5 1768.7,1266.9 1770.5,1268 1772.2,1268.7 1774,1269.9 1775.7,1271.1 1777.5,1271.9 1779.2,1272.4 1781,1273.4 1782.7,1274 1784.5,1274.9 1786.2,1274.9 1788,1275.6 1789.7,1275.8 1791.5,1276.3 1793.2,1276.2 1795,1276.3 1796.7,1276.4 1798.5,1276.6 1800.2,1276.2 1802,1275.8" stroke="#8080ff" stroke-width="3.0"/>
<polyline points="1101,1275.3 1102.8,1275.3 1104.5,1275.4 1106.3,1275.3 1108,1275.6 1109.8,1275.5 1111.5,1276.1 1113.3,1275.8 1115,1275.8 1116.8,1275.9 1118.5,1276.1 1120.3,1276.1 1122,1275.5 1123.8,1275.5 1125.5,1275.7 1127.3,1276 1129,1275.7 1130.8,1275.8 1132.5,1275.8 1134.3,1276 1136,1275.9 1137.8,1275.8 1139.6,1275.5 1141.3,1276 1143.1,1276.2 1144.8,1276.3 1146.6,1275.4 1148.3,1275.5 1150.1,1275.6 1151.8,1276 1153.6,1275.8 1155.3,1275.7 1157.1,1275.5 1158.8,1276 1160.6,1275.7 1162.3,1276.1 1164.1,1275.7 1165.8,1275.6 1167.6,1275.5 1169.3,1275.3 1171.1,1275.4 1172.9,1275.3 1174.6,1275.3 1176.4,1275.5 1178.1,1275.5 1179.9,1275.5 1181.6,1275.6 1183.4,1275.4 1185.1,1275.4 1186.9,1275.1 1188.6,1275.3 1190.4,1275.2 1192.1,1275.3 1193.9,1275 1195.6,1274.9 1197.4,1275.2 1199.1,1275.3 1200.9,1275.3 1202.6,1275 1204.4,1274.9 1206.2,1274.9 1207.9,1274.7 1209.7,1274.5 1211.4,1274.8 1213.2,1274.7 1214.9,1274 1216.7,1273.2 1218.4,1272.6 1220.2,1272.4 1221.9,1272 1223.7,1271.5 1225.4,1271 1227.2,1270.9 1228.9,1271 1230.7,1270.8 1232.4,1270.6 1234.2,1270 1235.9,1269.7 1237.7,1269.1 1239.4,1269 1241.2,1268.4 1243,1268.1 1244.7,1267.3 1246.5,1267 1248.2,1266.6 1250,1266.4 1251.7,1266.2 1253.5,1265.7 1255.2,1265.3 1257,1264.6 1258.7,1264.3 1260.5,1264 1262.2,1263.4 1264,1262.4 1265.7,1262 1267.5,1261.8 1269.2,1262 1271,1261.4 1272.7,1260.8 1274.5,1260 1276.2,1259.6 1278,1259.2 1279.8,1258.7 1281.5,1258.3 1283.3,1257.7 1285,1257.4 1286.8,1256.4 1288.5,1255.9 1290.3,1255.4 1292,1254.9 1293.8,1254.1 1295.5,1253.3 1297.3,1253 1299,1252.9 1300.8,1252.3 1302.5,1251.7 1304.3,1251.2 1306,1251 1307.8,1250.4 1309.5,1249.6 1311.3,1249 1313.1,1248.3 1314.8,1248 1316.6,1247.2 1318.3,1246.6 1320.1,1246 1321.8,1245.7 1323.6,1245.4 1325.3,1244.9 1327.1,1244.4 1328.8,1243.8 1330.6,1243.3 1332.3,1242.5 1334.1,1242.2 1335.8,1241.6 1337.6,1241.4 1339.3,1240.3 1341.1,1240.1 1342.8,1239.6 1344.6,1239.3 1346.3,1238.3 1348.1,1237.6 1349.9,1237 1351.6,1236.6 1353.4,1236.2 1355.1,1236.1 1356.9,1235.4 1358.6,1234.2 1360.4,1233.6 1362.1,1233 1363.9,1232.9 1365.6,1232 1367.4,1231.4 1369.1,1230.6 1370.9,1230.4 1372.6,1229.9 1374.4,1229.4 1376.1,1228.5 1377.9,1227.5 1379.6,1226.8 1381.4,1225.7 1383.2,1225 1384.9,1223.9 1386.7,1223.2 1388.4,1222.1 1390.2,1221.4 1391.9,1220.9 1393.7,1220.3 1395.4,1219.6 1397.2,1218.5 1398.9,1217.9 1400.7,1217.4 1402.4,1216.5 1404.2,1215.2 1405.9,1214.3 1407.7,1213.7 1409.4,1213 1411.2,1211.7 1412.9,1210.9 1414.7,1210 1416.5,1209.6 1418.2,1208.7 1420,1207.7 1421.7,1206.1 1423.5,1205.2 1425.2,1204.2 1427,1203.5 1428.7,1202.3 1430.5,1200.9 1432.2,1199.9 1434,1198.8 1435.7,1198.2 1437.5,1197 1439.2,1195.8 1441,1194.7 1442.7,1193.4 1444.5,1192.4 1446.2,1191.2 1448,1190.7 1449.7,1190 1451.5,1189.1 1453.3,1187.8 1455,1186.5 1456.8,1185.7 1458.5,1185 1460.3,1184.3 1462,1183.2 1463.8,1182.4 1465.5,1181.8 1467.3,1181.2 1469,1180.4 1470.8,1179.2 1472.5,1178.6 1474.3,1178 1476,1177.9 1477.8,1177.6 1479.5,1177.3 1481.3,1176.6 1483,1176.1 1484.8,1175.2 1486.5,1174.9 1488.3,1174.4 1490.1,1174.2 1491.8,1173.7 1493.6,1173 1495.3,1172.3 1497.1,1171.8 1498.8,1171.3 1500.6,1170.9 1502.3,1170.2 1504.1,1169.8 1505.8,1169.3 1507.6,1168.5 1509.3,1168 1511.1,1167.1 1512.8,1167 1514.6,1166.5 1516.3,1166.7 1518.1,1166.2 1519.8,1165.8 1521.6,1165.2 1523.4,1164.5 1525.1,1164.3 1526.9,1163.9 1528.6,1163.6 1530.4,1162.9 1532.1,1162.5 1533.9,1162.1 1535.6,1161.6 1537.4,1161 1539.1,1160.4 1540.9,1160.1 1542.6,1159.4 1544.4,1159 1546.1,1158.3 1547.9,1157.9 1549.6,1157.5 1551.4,1157.1 1553.1,1156.9 1554.9,1155.8 1556.7,1155.6 1558.4,1155.2 1560.2,1154.9 1561.9,1154.6 1563.7,1153.2 1565.4,1152.6 1567.2,1151.4 1568.9,1151.1 1570.7,1150.5 1572.4,1150 1574.2,1149.2 1575.9,1148.5 1577.7,1147.6 1579.4,1147 1581.2,1146.5 1582.9,1146.3 1584.7,1146 1586.4,1145.2 1588.2,1144.3 1589.9,1143.3 1591.7,1142.7 1593.5,1141.8 1595.2,1141.2 1597,1140.3 1598.7,1139.8 1600.5,1139.4 1602.2,1139.1 1604,1138 1605.7,1137.3 1607.5,1136.2 1609.2,1135.7 1611,1134.9 1612.7,1134.2 1614.5,1133.6 1616.2,1133.4 1618,1132.8 1619.7,1131.9 1621.5,1130.6 1623.2,1130.2 1625,1129.8 1626.8,1129.7 1628.5,1129.6 1630.3,1129.1 1632,1128.4 1633.8,1127.9 1635.5,1128.3 1637.3,1128.8 1639,1128.8 1640.8,1129 1642.5,1129.5 1644.3,1129.9 1646,1130.6 1647.8,1130.9 1649.5,1131.6 1651.3,1132 1653,1132.7 1654.8,1133.4 1656.5,1134.3 1658.3,1135.1 1660,1136.4 1661.8,1137.4 1663.6,1138.5 1665.3,1139.4 1667.1,1140.7 1668.8,1141.8 1670.6,1143.1 1672.3,1144.6 1674.1,1146 1675.8,1147.2 1677.6,1149 1679.3,1150.8 1681.1,1152.7 1682.8,1154 1684.6,1155.9 1686.3,1157.9 1688.1,1160.2 1689.8,1162.3 1691.6,1164.2 1693.3,1166.2 1695.1,1168.6 1696.8,1171.1 1698.6,1173.7 1700.4,1175.7 1702.1,1178 1703.9,1180.6 1705.6,1183.2 1707.4,1185.8 1709.1,1188.2 1710.9,1190.9 1712.6,1193.7 1714.4,1196.4 1716.1,1199.2 1717.9,1202.1 1719.6,1204.9 1721.4,1207.9 1723.1,1210.7 1724.9,1213.8 1726.6,1216.1 1728.4,1218.9 1730.1,1221.8 1731.9,1224.9 1733.7,1227.9 1735.4,1230.6 1737.2,1233.7 1738.9,1236.5 1740.7,1238.8 1742.4,1241.4 1744.2,1244 1745.9,1246.5 1747.7,1248.2 1749.4,1249.9 1751.2,1251.9 1752.9,1254.6 1754.7,1256.4 1756.4,1258.1 1758.2,1260 1759.9,1261.9 1761.7,1263.6 1763.4,1264.4 1765.2,1265.8 1767,1267.3 1768.7,1269.1 1770.5,1270.6 1772.2,1271.8 1774,1272.8 1775.7,1273.9 1777.5,1274.9 1779.2,1275.8 1781,1276 1782.7,1276.5 1784.5,1276.4 1786.2,1276.9 1788,1277.2 1789.7,1277.6 1791.5,1277.8 1793.2,1278.3 1795,1279 1796.7,1279.2 1798.5,1279 1800.2,1278.8 1802,1278.8" stroke="#b0b0ff" stroke-width="3.0"/>
<polyline points="1101,1277.6 1102.8,1277.6 1104.5,1278 1106.3,1278.1 1108,1278.1 1109.8,1277.4 1111.5,1277.3 1113.3,1277.5 1115,1277.8 1116.8,1277.9 1118.5,1277.6 1120.3,1277.4 1122,1277.5 1123.8,1278 1125.5,1278.6 1127.3,1278.6 1129,1278.1 1130.8,1277.9 1132.5,1277.7 1134.3,1277.8 1136,1277.8 1137.8,1277.7 1139.6,1277.7 1141.3,1277.6 1143.1,1277.9 1144.8,1277.4 1146.6,1277.3 1148.3,1277.9 1150.1,1278.6 1151.8,1278.5 1153.6,1277.7 1155.3,1277.4 1157.1,1277.7 1158.8,1278.1 1160.6,1278.1 1162.3,1278.1 1164.1,1278.1 1165.8,1278.2 1167.6,1278.5 1169.3,1278.3 1171.1,1278 1172.9,1277.7 1174.6,1277.8 1176.4,1277.5 1178.1,1277.6 1179.9,1277.5 1181.6,1278.2 1183.4,1277.8 1185.1,1277.8 1186.9,1277.8 1188.6,1278 1190.4,1278 1192.1,1277.4 1193.9,1277.1 1195.6,1277.1 1197.4,1277.4 1199.1,1277.1 1200.9,1276.7 1202.6,1276.4 1204.4,1276.8 1206.2,1276.8 1207.9,1276.6 1209.7,1276.5 1211.4,1276.5 1213.2,1276.6 1214.9,1275.7 1216.7,1275.4 1218.4,1275.1 1220.2,1275 1221.9,1274.8 1223.7,1274.8 1225.4,1275.2 1227.2,1274.8 1228.9,1274.3 1230.7,1273.7 1232.4,1273.5 1234.2,1272.9 1235.9,1272.5 1237.7,1272.3 1239.4,1272.5 1241.2,1272.4 1243,1271.7 1244.7,1270.9 1246.5,1270.6 1248.2,1270.1 1250,1270.3 1251.7,1270.2 1253.5,1269.9 1255.2,1269.5 1257,1268.6 1258.7,1268.2 1260.5,1267.8 1262.2,1267.1 1264,1267.3 1265.7,1267 1267.5,1267 1269.2,1266.3 1271,1265.5 1272.7,1265.2 1274.5,1264.7 1276.2,1264.2 1278,1263.6 1279.8,1263.4 1281.5,1263 1283.3,1262.6 1285,1262.1 1286.8,1261.5 1288.5,1260.8 1290.3,1260.2 1292,1260.2 1293.8,1259.7 1295.5,1259.2 1297.3,1258.5 1299,1258 1300.8,1257.8 1302.5,1257.8 1304.3,1257.7 1306,1256.7 1307.8,1256.4 1309.5,1256.1 1311.3,1256 1313.1,1255.2 1314.8,1254.3 1316.6,1253.8 1318.3,1253.5 1320.1,1253.3 1321.8,1252.8 1323.6,1251.8 1325.3,1251.6 1327.1,1251.1 1328.8,1251.1 1330.6,1250.2 1332.3,1250.1 1334.1,1249.5 1335.8,1249.5 1337.6,1249.1 1339.3,1248.4 1341.1,1247.9 1342.8,1247 1344.6,1246.6 1346.3,1245.8 1348.1,1245.4 1349.9,1245 1351.6,1244.6 1353.4,1244 1355.1,1243.9 1356.9,1243.4 1358.6,1243.2 1360.4,1242.5 1362.1,1241.8 1363.9,1241.4 1365.6,1240.8 1367.4,1240.3 1369.1,1239.7 1370.9,1239.3 1372.6,1238.7 1374.4,1238.2 1376.1,1237.9 1377.9,1237.2 1379.6,1236.9 1381.4,1235.9 1383.2,1235.9 1384.9,1234.3 1386.7,1233.8 1388.4,1232.9 1390.2,1232.7 1391.9,1231.9 1393.7,1231.3 1395.4,1230.8 1397.2,1230.2 1398.9,1229.6 1400.7,1228.8 1402.4,1227.8 1404.2,1227 1405.9,1226.5 1407.7,1226.1 1409.4,1225.3 1411.2,1224.2 1412.9,1223.2 1414.7,1222.3 1416.5,1221.7 1418.2,1221 1420,1220.1 1421.7,1219 1423.5,1218.4 1425.2,1217.5 1427,1216.6 1428.7,1215.2 1430.5,1214.3 1432.2,1214 1434,1213.4 1435.7,1212.8 1437.5,1211.3 1439.2,1210.3 1441,1209.2 1442.7,1209.1 1444.5,1208.1 1446.2,1207.3 1448,1205.6 1449.7,1204.5 1451.5,1203.7 1453.3,1203.1 1455,1202.7 1456.8,1202 1458.5,1201.5 1460.3,1200.5 1462,1199.6 1463.8,1199.2 1465.5,1198.7 1467.3,1198.1 1469,1197.3 1470.8,1197 1472.5,1196 1474.3,1195.5 1476,1194.6 1477.8,1194.4 1479.5,1194 1481.3,1193.6 1483,1193.4 1484.8,1192.9 1486.5,1192.5 1488.3,1192 1490.1,1191.2 1491.8,1190.9 1493.6,1190.6 1495.3,1190 1497.1,1189.2 1498.8,1188.6 1500.6,1188.4 1502.3,1188.4 1504.1,1188.3 1505.8,1188 1507.6,1187.4 1509.3,1186.6 1511.1,1186.2 1512.8,1185.9 1514.6,1185.6 1516.3,1185.1 1518.1,1185 1519.8,1184.9 1521.6,1184.6 1523.4,1184 1525.1,1183.4 1526.9,1182.7 1528.6,1182.8 1530.4,1182.7 1532.1,1182.6 1533.9,1181.7 1535.6,1181 1537.4,1181 1539.1,1180.9 1540.9,1180.6 1542.6,1179.7 1544.4,1178.9 1546.1,1178.7 1547.9,1178.6 1549.6,1178.7 1551.4,1178.2 1553.1,1177.8 1554.9,1176.5 1556.7,1176.1 1558.4,1175.2 1560.2,1175.3 1561.9,1174.7 1563.7,1174.3 1565.4,1173.9 1567.2,1173.2 1568.9,1172.8 1570.7,1172 1572.4,1171.4 1574.2,1170.5 1575.9,1170.3 1577.7,1169.8 1579.4,1169.7 1581.2,1169 1582.9,1169.1 1584.7,1168.4 1586.4,1168.1 1588.2,1167.2 1589.9,1166.1 1591.7,1165 1593.5,1164.2 1595.2,1164.4 1597,1164.2 1598.7,1164.1 1600.5,1163 1602.2,1162.3 1604,1161.5 1605.7,1161.2 1607.5,1160.2 1609.2,1159 1611,1158.1 1612.7,1157.7 1614.5,1157.3 1616.2,1156.9 1618,1156.3 1619.7,1155.7 1621.5,1154.8 1623.2,1154.7 1625,1154.6 1626.8,1154.4 1628.5,1154.2 1630.3,1153.8 1632,1153.9 1633.8,1153.2 1635.5,1153.5 1637.3,1153.3 1639,1153.7 1640.8,1154 1642.5,1154.4 1644.3,1154.7 1646,1154.9 1647.8,1155.2 1649.5,1155.4 1651.3,1156.2 1653,1156.9 1654.8,1158.1 1656.5,1158.5 1658.3,1159.2 1660,1159.8 1661.8,1160.9 1663.6,1161.6 1665.3,1162.8 1667.1,1163.8 1668.8,1164.9 1670.6,1165.5 1672.3,1167.1 1674.1,1168.3 1675.8,1169.8 1677.6,1170.5 1679.3,1172.1 1681.1,1173.4 1682.8,1174.4 1684.6,1176.3 1686.3,1177.7 1688.1,1180 1689.8,1181.2 1691.6,1183.4 1693.3,1185.1 1695.1,1187.1 1696.8,1189.1 1698.6,1191.2 1700.4,1193.1 1702.1,1195.1 1703.9,1197.6 1705.6,1200.1 1707.4,1202.3 1709.1,1204.1 1710.9,1206.1 1712.6,1208.3 1714.4,1210.7 1716.1,1213.1 1717.9,1215.9 1719.6,1218.8 1721.4,1221.1 1723.1,1223.2 1724.9,1225.3 1726.6,1227.8 1728.4,1230.3 1730.1,1232.9 1731.9,1235.4 1733.7,1238.1 1735.4,1240.3 1737.2,1242.6 1738.9,1244.8 1740.7,1247 1742.4,1248.8 1744.2,1251 1745.9,1252.9 1747.7,1255.1 1749.4,1256.6 1751.2,1258.4 1752.9,1259.9 1754.7,1261.5 1756.4,1263.1 1758.2,1264.9 1759.9,1266.6 1761.7,1267.6 1763.4,1268.5 1765.2,1269.7 1767,1271.3 1768.7,1272.7 1770.5,1273.8 1772.2,1274.7 1774,1275.6 1775.7,1276.4 1777.5,1277 1779.2,1277.9 1781,1278.6 1782.7,1279.1 1784.5,1279.6 1786.2,1279.7 1788,1280.5 1789.7,1280.4 1791.5,1280.9 1793.2,1281.3 1795,1281.5 1796.7,1281.6 1798.5,1281.7 1800.2,1282 1802,1282.2" stroke="#e2e2ff" stroke-width="3.0"/>
</g>
<rect x="1101" y="741" width="702.5" height="564.7" fill="none" stroke="#404040" stroke-width="2.4"/>
<rect x="1100.1" y="1286.3" width="702.9" height="18.5" fill="url(#spec)"/>
<g stroke="#404040" stroke-width="2.4"><line x1="1101" y1="1305.7" x2="1101" y2="1317.7"/><line x1="1136" y1="1305.7" x2="1136" y2="1312.7"/><line x1="1171.1" y1="1305.7" x2="1171.1" y2="1317.7"/><line x1="1206.2" y1="1305.7" x2="1206.2" y2="1312.7"/><line x1="1241.2" y1="1305.7" x2="1241.2" y2="1317.7"/><line x1="1276.2" y1="1305.7" x2="1276.2" y2="1312.7"/><line x1="1311.3" y1="1305.7" x2="1311.3" y2="1317.7"/><line x1="1346.3" y1="1305.7" x2="1346.3" y2="1312.7"/><line x1="1381.4" y1="1305.7" x2="1381.4" y2="1317.7"/><line x1="1416.5" y1="1305.7" x2="1416.5" y2="1312.7"/><line x1="1451.5" y1="1305.7" x2="1451.5" y2="1317.7"/><line x1="1486.5" y1="1305.7" x2="1486.5" y2="1312.7"/><line x1="1521.6" y1="1305.7" x2="1521.6" y2="1317.7"/><line x1="1556.7" y1="1305.7" x2="1556.7" y2="1312.7"/><line x1="1591.7" y1="1305.7" x2="1591.7" y2="1317.7"/><line x1="1626.8" y1="1305.7" x2="1626.8" y2="1312.7"/><line x1="1661.8" y1="1305.7" x2="1661.8" y2="1317.7"/><line x1="1696.8" y1="1305.7" x2="1696.8" y2="1312.7"/><line x1="1731.9" y1="1305.7" x2="1731.9" y2="1317.7"/><line x1="1767" y1="1305.7" x2="1767" y2="1312.7"/><line x1="1802" y1="1305.7" x2="1802" y2="1317.7"/><line x1="1101" y1="1300" x2="1089" y2="1300"/><line x1="1101" y1="1263.2" x2="1094" y2="1263.2"/><line x1="1101" y1="1226.3" x2="1089" y2="1226.3"/><line x1="1101" y1="1189.5" x2="1094" y2="1189.5"/><line x1="1101" y1="1152.7" x2="1089" y2="1152.7"/><line x1="1101" y1="1115.8" x2="1094" y2="1115.8"/><line x1="1101" y1="1079" x2="1089" y2="1079"/><line x1="1101" y1="1042.2" x2="1094" y2="1042.2"/><line x1="1101" y1="1005.4" x2="1089" y2="1005.4"/><line x1="1101" y1="968.5" x2="1094" y2="968.5"/><line x1="1101" y1="931.7" x2="1089" y2="931.7"/><line x1="1101" y1="894.9" x2="1094" y2="894.9"/><line x1="1101" y1="858" x2="1089" y2="858"/><line x1="1101" y1="821.2" x2="1094" y2="821.2"/><line x1="1101" y1="784.4" x2="1089" y2="784.4"/><line x1="1101" y1="747.5" x2="1094" y2="747.5"/></g>
<text x="1101" y="1341" font-size="25" text-anchor="middle" fill="#3a3a3a" letter-spacing="0">500</text>
<text x="1171.1" y="1341" font-size="25" text-anchor="middle" fill="#3a3a3a" letter-spacing="0">520</text>
<text x="1241.2" y="1341" font-size="25" text-anchor="middle" fill="#3a3a3a" letter-spacing="0">540</text>
<text x="1311.3" y="1341" font-size="25" text-anchor="middle" fill="#3a3a3a" letter-spacing="0">560</text>
<text x="1381.4" y="1341" font-size="25" text-anchor="middle" fill="#3a3a3a" letter-spacing="0">580</text>
<text x="1451.5" y="1341" font-size="25" text-anchor="middle" fill="#3a3a3a" letter-spacing="0">600</text>
<text x="1521.6" y="1341" font-size="25" text-anchor="middle" fill="#3a3a3a" letter-spacing="0">620</text>
<text x="1591.7" y="1341" font-size="25" text-anchor="middle" fill="#3a3a3a" letter-spacing="0">640</text>
<text x="1661.8" y="1341" font-size="25" text-anchor="middle" fill="#3a3a3a" letter-spacing="0">660</text>
<text x="1731.9" y="1341" font-size="25" text-anchor="middle" fill="#3a3a3a" letter-spacing="0">680</text>
<text x="1802" y="1341" font-size="25" text-anchor="middle" fill="#3a3a3a" letter-spacing="0">700</text>
<text x="1081.2" y="1307.3" font-size="25" text-anchor="end" fill="#3a3a3a" >0.0</text>
<text x="1081.2" y="1233.6" font-size="25" text-anchor="end" fill="#3a3a3a" >0.1</text>
<text x="1081.2" y="1160" font-size="25" text-anchor="end" fill="#3a3a3a" >0.2</text>
<text x="1081.2" y="1086.3" font-size="25" text-anchor="end" fill="#3a3a3a" >0.3</text>
<text x="1081.2" y="1012.7" font-size="25" text-anchor="end" fill="#3a3a3a" >0.4</text>
<text x="1081.2" y="939" font-size="25" text-anchor="end" fill="#3a3a3a" >0.5</text>
<text x="1081.2" y="865.3" font-size="25" text-anchor="end" fill="#3a3a3a" >0.6</text>
<text x="1081.2" y="789.5" font-size="25" text-anchor="end" fill="#3a3a3a" >0.7</text>
<text x="1461.6" y="1399" font-size="30" text-anchor="middle" fill="#3a3a3a" >Wavelength (nm)</text>
<text transform="translate(1026 1021) rotate(-90)" font-size="30" text-anchor="middle" fill="#3a3a3a" >Absorbance (%)</text>
<text x="1117.3" y="777.5" font-size="32" text-anchor="start" fill="#3a3a3a" >40% ZGO</text>
<line x1="1112" y1="817.4" x2="1180" y2="817.4" stroke="#14145a" stroke-width="3.6"/>
<text x="1186.8" y="826.1" font-size="29.5" text-anchor="start" fill="#3a3a3a" >Methylene Blue</text>
<line x1="1112" y1="853.5" x2="1180" y2="853.5" stroke="#15156e" stroke-width="3.6"/>
<text x="1186.8" y="862.4" font-size="29.5" text-anchor="start" fill="#3a3a3a" >Adsorption</text>
<line x1="1112" y1="889.3" x2="1180" y2="889.3" stroke="#161688" stroke-width="3.6"/>
<text x="1186.8" y="899.1" font-size="29.5" text-anchor="start" fill="#3a3a3a" >20 min</text>
<line x1="1112" y1="925.8" x2="1180" y2="925.8" stroke="#1818a8" stroke-width="3.6"/>
<text x="1186.8" y="934.9" font-size="29.5" text-anchor="start" fill="#3a3a3a" >40 min</text>
<line x1="1112" y1="961.6" x2="1180" y2="961.6" stroke="#1a1ad0" stroke-width="3.6"/>
<text x="1186.8" y="971.4" font-size="29.5" text-anchor="start" fill="#3a3a3a" >60 min</text>
<line x1="1112" y1="997.6" x2="1180" y2="997.6" stroke="#2020f0" stroke-width="3.6"/>
<text x="1186.8" y="1007.2" font-size="29.5" text-anchor="start" fill="#3a3a3a" >80 min</text>
<line x1="1112" y1="1035.2" x2="1180" y2="1035.2" stroke="#3030ff" stroke-width="3.6"/>
<text x="1186.8" y="1043.2" font-size="29.5" text-anchor="start" fill="#3a3a3a" >100 min</text>
<line x1="1112" y1="1071.5" x2="1180" y2="1071.5" stroke="#6060ff" stroke-width="3.6"/>
<text x="1186.8" y="1079.2" font-size="29.5" text-anchor="start" fill="#3a3a3a" >120 min</text>
<line x1="1112" y1="1107.7" x2="1180" y2="1107.7" stroke="#8888ff" stroke-width="3.6"/>
<text x="1186.8" y="1115.3" font-size="29.5" text-anchor="start" fill="#3a3a3a" >140 min</text>
<line x1="1112" y1="1143.8" x2="1180" y2="1143.8" stroke="#b4b4ff" stroke-width="3.6"/>
<text x="1186.8" y="1151.7" font-size="29.5" text-anchor="start" fill="#3a3a3a" >160 min</text>
<line x1="1112" y1="1179.6" x2="1180" y2="1179.6" stroke="#e4e4ff" stroke-width="3.6"/>
<text x="1186.8" y="1187.8" font-size="29.5" text-anchor="start" fill="#3a3a3a" >180 min</text>
<rect x="942.6" y="721.2" width="84.39999999999998" height="84.19999999999993" rx="2" fill="#000"/>
<text transform="translate(965.4 790.7) scale(1.005 1)" font-size="75.0" fill="#fff">d</text>
<rect x="203" y="1444.8" width="822.3" height="625.7" fill="none" stroke="#404040" stroke-width="2.4"/>
<g stroke="#404040" stroke-width="2.4"><line x1="203.4" y1="2070.5" x2="203.4" y2="2077"/><line x1="244.5" y1="2070.5" x2="244.5" y2="2083"/><line x1="285.6" y1="2070.5" x2="285.6" y2="2077"/><line x1="326.7" y1="2070.5" x2="326.7" y2="2083"/><line x1="367.8" y1="2070.5" x2="367.8" y2="2077"/><line x1="408.9" y1="2070.5" x2="408.9" y2="2083"/><line x1="450.1" y1="2070.5" x2="450.1" y2="2077"/><line x1="491.2" y1="2070.5" x2="491.2" y2="2083"/><line x1="532.3" y1="2070.5" x2="532.3" y2="2077"/><line x1="573.4" y1="2070.5" x2="573.4" y2="2083"/><line x1="614.5" y1="2070.5" x2="614.5" y2="2077"/><line x1="655.6" y1="2070.5" x2="655.6" y2="2083"/><line x1="696.7" y1="2070.5" x2="696.7" y2="2077"/><line x1="737.8" y1="2070.5" x2="737.8" y2="2083"/><line x1="778.9" y1="2070.5" x2="778.9" y2="2077"/><line x1="820.1" y1="2070.5" x2="820.1" y2="2083"/><line x1="861.2" y1="2070.5" x2="861.2" y2="2077"/><line x1="902.3" y1="2070.5" x2="902.3" y2="2083"/><line x1="943.4" y1="2070.5" x2="943.4" y2="2077"/><line x1="984.5" y1="2070.5" x2="984.5" y2="2083"/><line x1="1025.6" y1="2070.5" x2="1025.6" y2="2077"/><line x1="203" y1="2049" x2="190.5" y2="2049"/><line x1="203" y1="2005.8" x2="196.5" y2="2005.8"/><line x1="203" y1="1962.7" x2="190.5" y2="1962.7"/><line x1="203" y1="1919.5" x2="196.5" y2="1919.5"/><line x1="203" y1="1876.4" x2="190.5" y2="1876.4"/><line x1="203" y1="1833.2" x2="196.5" y2="1833.2"/><line x1="203" y1="1790.1" x2="190.5" y2="1790.1"/><line x1="203" y1="1747" x2="196.5" y2="1747"/><line x1="203" y1="1703.8" x2="190.5" y2="1703.8"/><line x1="203" y1="1660.7" x2="196.5" y2="1660.7"/><line x1="203" y1="1617.5" x2="190.5" y2="1617.5"/><line x1="203" y1="1574.3" x2="196.5" y2="1574.3"/><line x1="203" y1="1531.2" x2="190.5" y2="1531.2"/><line x1="203" y1="1488" x2="196.5" y2="1488"/><line x1="203" y1="1444.9" x2="190.5" y2="1444.9"/></g>
<text x="244.5" y="2113.7" font-size="25" text-anchor="middle" fill="#3a3a3a" letter-spacing="-0.5">0</text>
<text x="326.7" y="2113.7" font-size="25" text-anchor="middle" fill="#3a3a3a" letter-spacing="-0.5">20</text>
<text x="408.9" y="2113.7" font-size="25" text-anchor="middle" fill="#3a3a3a" letter-spacing="-0.5">40</text>
<text x="491.2" y="2113.7" font-size="25" text-anchor="middle" fill="#3a3a3a" letter-spacing="-0.5">60</text>
<text x="573.4" y="2113.7" font-size="25" text-anchor="middle" fill="#3a3a3a" letter-spacing="-0.5">80</text>
<text x="655.6" y="2113.7" font-size="25" text-anchor="middle" fill="#3a3a3a" letter-spacing="-0.5">100</text>
<text x="737.8" y="2113.7" font-size="25" text-anchor="middle" fill="#3a3a3a" letter-spacing="-0.5">120</text>
<text x="820.1" y="2113.7" font-size="25" text-anchor="middle" fill="#3a3a3a" letter-spacing="-0.5">140</text>
<text x="902.3" y="2113.7" font-size="25" text-anchor="middle" fill="#3a3a3a" letter-spacing="-0.5">160</text>
<text x="984.5" y="2113.7" font-size="25" text-anchor="middle" fill="#3a3a3a" letter-spacing="-0.5">180</text>
<text x="180.6" y="2055.9" font-size="26" text-anchor="end" fill="#3a3a3a" >0.0</text>
<text x="180.6" y="1969.6" font-size="26" text-anchor="end" fill="#3a3a3a" >0.2</text>
<text x="180.6" y="1883.3" font-size="26" text-anchor="end" fill="#3a3a3a" >0.4</text>
<text x="180.6" y="1797" font-size="26" text-anchor="end" fill="#3a3a3a" >0.6</text>
<text x="180.6" y="1710.7" font-size="26" text-anchor="end" fill="#3a3a3a" >0.8</text>
<text x="180.6" y="1624.4" font-size="26" text-anchor="end" fill="#3a3a3a" >1.0</text>
<text x="180.6" y="1538.1" font-size="26" text-anchor="end" fill="#3a3a3a" >1.2</text>
<text x="180.6" y="1451.8" font-size="26" text-anchor="end" fill="#3a3a3a" >1.4</text>
<text x="614.3" y="2164.7" font-size="33.8" text-anchor="middle" fill="#3a3a3a" >Degradation time (min)</text>
<text transform="translate(119 1780) rotate(-90)" font-size="33" text-anchor="middle" fill="#3a3a3a">-Ln(C/C<tspan font-size="20" dy="8">0</tspan><tspan dy="-8">)</tspan></text>
<line x1="244.3" y1="1998.1" x2="984.5" y2="1493.6" stroke="#ffaa24" stroke-width="3.6" stroke-linecap="round"/>
<g fill="#f4a522"><rect x="237.1" y="2017" width="14.5" height="14.5"/><rect x="319.1" y="1943.5" width="14.5" height="14.5"/><rect x="401.4" y="1866" width="14.5" height="14.5"/><rect x="483.6" y="1807.5" width="14.5" height="14.5"/><rect x="567" y="1746.5" width="14.5" height="14.5"/><rect x="649" y="1696.8" width="14.5" height="14.5"/><rect x="730.8" y="1648.2" width="14.5" height="14.5"/><rect x="812.8" y="1601.8" width="14.5" height="14.5"/><rect x="894.9" y="1551.5" width="14.5" height="14.5"/><rect x="977.2" y="1486.3" width="14.5" height="14.5"/></g>
<line x1="244.3" y1="1989.1" x2="984.5" y2="1658" stroke="#06d88c" stroke-width="3.6" stroke-linecap="round"/>
<g fill="#0ac87c"><rect x="237.1" y="2013.8" width="14.5" height="14.5"/><rect x="319.1" y="1940.3" width="14.5" height="14.5"/><rect x="401.4" y="1900.5" width="14.5" height="14.5"/><rect x="483.6" y="1846.2" width="14.5" height="14.5"/><rect x="567" y="1826.3" width="14.5" height="14.5"/><rect x="649" y="1794.5" width="14.5" height="14.5"/><rect x="730.8" y="1757.3" width="14.5" height="14.5"/><rect x="812.8" y="1730.5" width="14.5" height="14.5"/><rect x="894.9" y="1693.5" width="14.5" height="14.5"/><rect x="977.2" y="1657.2" width="14.5" height="14.5"/></g>
<line x1="244.3" y1="2016.9" x2="984.5" y2="1811.9" stroke="#08c0ff" stroke-width="3.6" stroke-linecap="round"/>
<g fill="#04aaee"><rect x="237.1" y="2009.7" width="14.5" height="14.5"/><rect x="319.1" y="1986" width="14.5" height="14.5"/><rect x="401.4" y="1965.2" width="14.5" height="14.5"/><rect x="483.6" y="1945.2" width="14.5" height="14.5"/><rect x="567" y="1914.8" width="14.5" height="14.5"/><rect x="649" y="1895.7" width="14.5" height="14.5"/><rect x="730.8" y="1864.3" width="14.5" height="14.5"/><rect x="812.8" y="1852.5" width="14.5" height="14.5"/><rect x="894.9" y="1835" width="14.5" height="14.5"/><rect x="977.2" y="1800.5" width="14.5" height="14.5"/></g>
<line x1="244.3" y1="1843.2" x2="984.5" y2="1575" stroke="#ff4a58" stroke-width="3.6" stroke-linecap="round"/>
<g fill="#fb4450"><rect x="237.1" y="1852.5" width="14.5" height="14.5"/><rect x="319.1" y="1818" width="14.5" height="14.5"/><rect x="401.4" y="1784.2" width="14.5" height="14.5"/><rect x="483.6" y="1736" width="14.5" height="14.5"/><rect x="567" y="1693.5" width="14.5" height="14.5"/><rect x="649" y="1661.5" width="14.5" height="14.5"/><rect x="730.8" y="1648.2" width="14.5" height="14.5"/><rect x="812.8" y="1632.8" width="14.5" height="14.5"/><rect x="894.9" y="1616.2" width="14.5" height="14.5"/><rect x="977.2" y="1578.8" width="14.5" height="14.5"/></g>
<rect x="241.6" y="1480" width="14" height="14" fill="#f4a522"/>
<text x="289.3" y="1494.8" font-size="29.5" text-anchor="start" fill="#3a3a3a" letter-spacing="0.55">40% ZGO</text>
<rect x="241.6" y="1516.1" width="14" height="14" fill="#0ac87c"/>
<text x="289.3" y="1532.6" font-size="29.5" text-anchor="start" fill="#3a3a3a" letter-spacing="0.55">20% ZGO</text>
<rect x="241.6" y="1553.2" width="14" height="14" fill="#04aaee"/>
<text x="289.3" y="1569.6" font-size="29.5" text-anchor="start" fill="#3a3a3a" letter-spacing="0.55">10% ZGO</text>
<rect x="241.6" y="1591.1" width="14" height="14" fill="#fb4450"/>
<text x="289.3" y="1607.5" font-size="29.5" text-anchor="start" fill="#3a3a3a" letter-spacing="0.55">0% ZGO</text>
<rect x="28" y="1432.6" width="84.2" height="85.5" rx="2" fill="#000"/>
<text transform="translate(51 1500.7) scale(0.977 1)" font-size="72.5" fill="#fff">e</text>
<defs>
<filter id="soft" x="-5%" y="-5%" width="110%" height="110%"><feGaussianBlur stdDeviation="1.3"/></filter>
<filter id="soft2" x="-5%" y="-5%" width="110%" height="110%"><feGaussianBlur stdDeviation="2.5"/></filter>
<filter id="tsh" x="-5%" y="-20%" width="110%" height="140%"><feGaussianBlur stdDeviation="1.6"/></filter>
<linearGradient id="bgph" x1="0" y1="0" x2="0" y2="1"><stop offset="0" stop-color="#f4f0f3"/><stop offset="0.62" stop-color="#f3eff2"/><stop offset="0.70" stop-color="#e2dee2"/><stop offset="0.84" stop-color="#e6e2e6"/><stop offset="0.93" stop-color="#f1edf1"/><stop offset="1" stop-color="#f4f1f4"/></linearGradient>
<linearGradient id="liqb" x1="0" y1="0" x2="0" y2="1"><stop offset="0" stop-color="#0d5fc0"/><stop offset="0.035" stop-color="#1480d0"/><stop offset="0.07" stop-color="#10a4e2"/><stop offset="0.55" stop-color="#05a8e6"/><stop offset="0.85" stop-color="#12a6de"/><stop offset="0.93" stop-color="#35b8e6"/><stop offset="1" stop-color="#58c4e8"/></linearGradient>
<linearGradient id="liqbx" x1="0" y1="0" x2="1" y2="0"><stop offset="0" stop-color="#0a6ab0" stop-opacity="0.55"/><stop offset="0.08" stop-color="#0a80c8" stop-opacity="0.1"/><stop offset="0.9" stop-color="#0a80c8" stop-opacity="0"/><stop offset="1" stop-color="#0a6ab0" stop-opacity="0.45"/></linearGradient>
<linearGradient id="v2" x1="0" y1="0" x2="0" y2="1"><stop offset="0" stop-color="#eceaef"/><stop offset="0.52" stop-color="#eceaef"/><stop offset="0.68" stop-color="#cdccd1"/><stop offset="0.80" stop-color="#cdccd1"/><stop offset="0.91" stop-color="#dddcdf"/><stop offset="1" stop-color="#d3d1d4"/></linearGradient>
<linearGradient id="v3" x1="0" y1="0" x2="0" y2="1"><stop offset="0" stop-color="#dadbdf"/><stop offset="0.52" stop-color="#dadbdf"/><stop offset="0.68" stop-color="#cbccd0"/><stop offset="0.80" stop-color="#cbccd0"/><stop offset="0.91" stop-color="#cfcfd2"/><stop offset="1" stop-color="#c2c2c5"/></linearGradient>
<linearGradient id="v4" x1="0" y1="0" x2="0" y2="1"><stop offset="0" stop-color="#eceaf0"/><stop offset="0.52" stop-color="#eceaf0"/><stop offset="0.68" stop-color="#d0d0d6"/><stop offset="0.80" stop-color="#d0d0d6"/><stop offset="0.91" stop-color="#dedde2"/><stop offset="1" stop-color="#d4d3d8"/></linearGradient>
<linearGradient id="v5" x1="0" y1="0" x2="0" y2="1"><stop offset="0" stop-color="#e6e2ec"/><stop offset="0.52" stop-color="#e6e2ec"/><stop offset="0.68" stop-color="#d2ced9"/><stop offset="0.80" stop-color="#d2ced9"/><stop offset="0.91" stop-color="#dcd8e2"/><stop offset="1" stop-color="#d2ced8"/></linearGradient>
<linearGradient id="edge" x1="0" y1="0" x2="1" y2="0"><stop offset="0" stop-color="#9a9aa2" stop-opacity="0.32"/><stop offset="0.05" stop-color="#b8b8c0" stop-opacity="0.12"/><stop offset="0.14" stop-color="#fff" stop-opacity="0"/><stop offset="0.86" stop-color="#fff" stop-opacity="0"/><stop offset="0.95" stop-color="#b8b8c0" stop-opacity="0.12"/><stop offset="1" stop-color="#9a9aa2" stop-opacity="0.32"/></linearGradient>
<linearGradient id="capg" x1="0" y1="0" x2="1" y2="0"><stop offset="0" stop-color="#050505"/><stop offset="0.3" stop-color="#1a1a1c"/><stop offset="0.6" stop-color="#111113"/><stop offset="1" stop-color="#040404"/></linearGradient>
</defs>
<rect x="1272" y="1436.5" width="536.5" height="136" rx="18" ry="18" fill="#1874cd" stroke="#176abc" stroke-width="1.5"/>
<text x="1540.3" y="1532.2" font-size="66" text-anchor="middle" fill="#0b3f7a" stroke="#0b3f7a" stroke-width="1.5" opacity="0.5" filter="url(#tsh)">After 180 min</text>
<text x="1538.5" y="1530.2" font-size="66" text-anchor="middle" fill="#e8e6e4" stroke="#e8e6e4" stroke-width="1.5" stroke-linejoin="round">After 180 min</text>
<rect x="1128.0" y="1815.8" width="691.0" height="322.60000000000014" fill="url(#bgph)"/>
<g filter="url(#soft)">
<g transform="rotate(-2.4 1210 2005)">
<path d="M1153.0,1906.0 Q1153.0,1887.0 1169.0,1884.0 L1251.0,1884.0 Q1267.0,1887.0 1267.0,1906.0 L1267.0,2103.5 Q1265.0,2123.5 1239.0,2127.5 Q1210.0,2133.5 1181.0,2127.5 Q1155.0,2123.5 1153.0,2103.5 Z" fill="#bfc4cf"/>
<ellipse cx="1210.0" cy="1894.0" rx="46" ry="5.5" fill="#f6f8fb" opacity="0.95"/>
<path d="M1154.0,1903.0 L1266.0,1903.0 L1266.0,2103.5 Q1264.0,2121.5 1239.0,2124.5 Q1210.0,2129.5 1181.0,2124.5 Q1156.0,2121.5 1154.0,2103.5 Z" fill="url(#liqb)"/>
<path d="M1154.0,1903.0 L1266.0,1903.0 L1266.0,2103.5 Q1264.0,2121.5 1239.0,2124.5 Q1210.0,2129.5 1181.0,2124.5 Q1156.0,2121.5 1154.0,2103.5 Z" fill="url(#liqbx)"/>
<path d="M1167.0,2097.5 Q1210.0,2113.5 1261.0,2085.5" fill="none" stroke="#0b86c8" stroke-width="3" opacity="0.6"/>
<path d="M1171.0,2107.5 Q1210.0,2121.5 1257.0,2097.5" fill="none" stroke="#7ad0ee" stroke-width="2.5" opacity="0.7"/>
<path d="M1157,1882 L1158,1837.5 Q1158.5,1825.5 1174,1824 Q1207.5,1820 1241,1824 Q1256.5,1825.5 1257,1837.5 L1258,1882 Q1207.5,1894 1157,1882 Z" fill="url(#capg)"/>
<rect x="1183.3" y="1874" width="20.2" height="2.5" fill="#4a4a50" opacity="0.55"/>
<rect x="1215.6" y="1875" width="14.1" height="2.5" fill="#4a4a50" opacity="0.5"/>
<rect x="1193.4" y="1844.5" width="2.5" height="2.5" fill="#77777c" opacity="0.6"/>
</g>
<path d="M1276.5,1908 Q1276.5,1888 1298.5,1882 L1381.5,1882 Q1403.5,1888 1403.5,1908 L1403.5,2100 Q1401.5,2120 1375.5,2124 Q1340,2129 1304.5,2124 Q1278.5,2120 1276.5,2100 Z" fill="url(#v2)"/>
<path d="M1276.5,1908 Q1276.5,1888 1298.5,1882 L1381.5,1882 Q1403.5,1888 1403.5,1908 L1403.5,2100 Q1401.5,2120 1375.5,2124 Q1340,2129 1304.5,2124 Q1278.5,2120 1276.5,2100 Z" fill="url(#edge)"/>
<path d="M1288.5,1887 Q1340,1908 1391.5,1887" fill="none" stroke="#c3c5d0" stroke-width="4" opacity="0.75"/>
<ellipse cx="1340" cy="1889" rx="41.9" ry="4.5" fill="#fdfdfe" opacity="0.9"/>
<path d="M1281.5,2094 Q1340,2112 1398.5,2094" fill="none" stroke="#f2f0f3" stroke-width="4" opacity="0.6"/>
<path d="M1286.5,2115 Q1340,2128 1393.5,2115" fill="none" stroke="#b9b8bc" stroke-width="2.5" opacity="0.6"/>
<path d="M1283,1880 L1284,1836.5 Q1284.5,1824.5 1300,1823 Q1338.8,1819 1377.5,1823 Q1393,1824.5 1393.5,1836.5 L1394.5,1880 Q1338.8,1892 1283,1880 Z" fill="url(#capg)"/>
<rect x="1312" y="1872" width="22.3" height="2.5" fill="#4a4a50" opacity="0.55"/>
<rect x="1347.7" y="1873" width="15.6" height="2.5" fill="#4a4a50" opacity="0.5"/>
<rect x="1323.1" y="1843.5" width="2.5" height="2.5" fill="#77777c" opacity="0.6"/>
<path d="M1409,1911 Q1409,1891 1431,1885 L1505.5,1885 Q1527.5,1891 1527.5,1911 L1527.5,2102 Q1525.5,2122 1499.5,2126 Q1468.2,2131 1437,2126 Q1411,2122 1409,2102 Z" fill="url(#v3)"/>
<path d="M1409,1911 Q1409,1891 1431,1885 L1505.5,1885 Q1527.5,1891 1527.5,1911 L1527.5,2102 Q1525.5,2122 1499.5,2126 Q1468.2,2131 1437,2126 Q1411,2122 1409,2102 Z" fill="url(#edge)"/>
<path d="M1421,1890 Q1468.2,1911 1515.5,1890" fill="none" stroke="#c3c5d0" stroke-width="4" opacity="0.75"/>
<ellipse cx="1468.2" cy="1892" rx="39.1" ry="4.5" fill="#fdfdfe" opacity="0.9"/>
<path d="M1414,2096 Q1468.2,2114 1522.5,2096" fill="none" stroke="#f2f0f3" stroke-width="4" opacity="0.6"/>
<path d="M1419,2117 Q1468.2,2130 1517.5,2117" fill="none" stroke="#b9b8bc" stroke-width="2.5" opacity="0.6"/>
<path d="M1414.5,1882.5 L1415.5,1836.5 Q1416,1824.5 1431.5,1823 Q1465,1819 1498.5,1823 Q1514,1824.5 1514.5,1836.5 L1515.5,1882.5 Q1465,1894.5 1414.5,1882.5 Z" fill="url(#capg)"/>
<rect x="1440.8" y="1874.5" width="20.2" height="2.5" fill="#4a4a50" opacity="0.55"/>
<rect x="1473.1" y="1875.5" width="14.1" height="2.5" fill="#4a4a50" opacity="0.5"/>
<rect x="1450.9" y="1843.5" width="2.5" height="2.5" fill="#77777c" opacity="0.6"/>
<path d="M1545,1908.5 Q1545,1888.5 1567,1882.5 L1638,1882.5 Q1660,1888.5 1660,1908.5 L1660,2098 Q1658,2118 1632,2122 Q1602.5,2127 1573,2122 Q1547,2118 1545,2098 Z" fill="url(#v4)"/>
<path d="M1545,1908.5 Q1545,1888.5 1567,1882.5 L1638,1882.5 Q1660,1888.5 1660,1908.5 L1660,2098 Q1658,2118 1632,2122 Q1602.5,2127 1573,2122 Q1547,2118 1545,2098 Z" fill="url(#edge)"/>
<path d="M1557,1887.5 Q1602.5,1908.5 1648,1887.5" fill="none" stroke="#c3c5d0" stroke-width="4" opacity="0.75"/>
<ellipse cx="1602.5" cy="1889.5" rx="38" ry="4.5" fill="#fdfdfe" opacity="0.9"/>
<path d="M1550,2092 Q1602.5,2110 1655,2092" fill="none" stroke="#f2f0f3" stroke-width="4" opacity="0.6"/>
<path d="M1555,2113 Q1602.5,2126 1650,2113" fill="none" stroke="#b9b8bc" stroke-width="2.5" opacity="0.6"/>
<path d="M1552.5,1880 L1553.5,1836.5 Q1554,1824.5 1569.5,1823 Q1603,1819 1636.5,1823 Q1652,1824.5 1652.5,1836.5 L1653.5,1880 Q1603,1892 1552.5,1880 Z" fill="url(#capg)"/>
<rect x="1578.8" y="1872" width="20.2" height="2.5" fill="#4a4a50" opacity="0.55"/>
<rect x="1611.1" y="1873" width="14.1" height="2.5" fill="#4a4a50" opacity="0.5"/>
<rect x="1588.9" y="1843.5" width="2.5" height="2.5" fill="#77777c" opacity="0.6"/>
<path d="M1677.5,1908.5 Q1677.5,1888.5 1699.5,1882.5 L1779,1882.5 Q1801,1888.5 1801,1908.5 L1801,2096 Q1799,2116 1773,2120 Q1739.2,2125 1705.5,2120 Q1679.5,2116 1677.5,2096 Z" fill="url(#v5)"/>
<path d="M1677.5,1908.5 Q1677.5,1888.5 1699.5,1882.5 L1779,1882.5 Q1801,1888.5 1801,1908.5 L1801,2096 Q1799,2116 1773,2120 Q1739.2,2125 1705.5,2120 Q1679.5,2116 1677.5,2096 Z" fill="url(#edge)"/>
<path d="M1689.5,1887.5 Q1739.2,1908.5 1789,1887.5" fill="none" stroke="#c3c5d0" stroke-width="4" opacity="0.75"/>
<ellipse cx="1739.2" cy="1889.5" rx="40.8" ry="4.5" fill="#fdfdfe" opacity="0.9"/>
<path d="M1683.5,1892.5 Q1739.2,1914.5 1795,1892.5" fill="none" stroke="#aaa2d2" stroke-width="3.5" opacity="0.6"/>
<path d="M1682.5,2090 Q1739.2,2108 1796,2090" fill="none" stroke="#f2f0f3" stroke-width="4" opacity="0.6"/>
<path d="M1687.5,2111 Q1739.2,2124 1791,2111" fill="none" stroke="#b9b8bc" stroke-width="2.5" opacity="0.6"/>
<path d="M1686,1880 L1687,1835.5 Q1687.5,1823.5 1703,1822 Q1739.2,1818 1775.5,1822 Q1791,1823.5 1791.5,1835.5 L1792.5,1880 Q1739.2,1892 1686,1880 Z" fill="url(#capg)"/>
<rect x="1713.7" y="1872" width="21.3" height="2.5" fill="#4a4a50" opacity="0.55"/>
<rect x="1747.8" y="1873" width="14.9" height="2.5" fill="#4a4a50" opacity="0.5"/>
<rect x="1724.3" y="1842.5" width="2.5" height="2.5" fill="#77777c" opacity="0.6"/>
</g>
<g stroke="#9a9a9a" stroke-width="2.6" stroke-dasharray="11 8.5" fill="none">
<line x1="1270.5" y1="1502" x2="1268.6" y2="2139"/>
<line x1="1538.2" y1="1580" x2="1535.3" y2="2133"/>
<line x1="1669.2" y1="1580" x2="1668.7" y2="2133"/>
<line x1="1805.8" y1="1566" x2="1805.5" y2="2146"/>
</g>
<text transform="translate(1225.8 1698.3) rotate(-90)" font-size="51" text-anchor="middle" textLength="84" lengthAdjust="spacingAndGlyphs" fill="none" stroke="#a9d5f2" stroke-width="3.2">MB</text>
<text transform="translate(1224 1699.5) rotate(-90)" font-size="51" text-anchor="middle" textLength="84" lengthAdjust="spacingAndGlyphs" fill="#2a93dc" stroke="#e4f2fb" stroke-width="0.8">MB</text>
<text transform="translate(1358.3 1695.5) rotate(-90)" font-size="47" text-anchor="middle" textLength="163" lengthAdjust="spacingAndGlyphs" fill="none" stroke="#a9d5f2" stroke-width="3.2">0%ZGO</text>
<text transform="translate(1356.5 1696.7) rotate(-90)" font-size="47" text-anchor="middle" textLength="163" lengthAdjust="spacingAndGlyphs" fill="#2a93dc" stroke="#e4f2fb" stroke-width="0.8">0%ZGO</text>
<text transform="translate(1482.3 1696.8) rotate(-90)" font-size="47" text-anchor="middle" textLength="187" lengthAdjust="spacingAndGlyphs" fill="none" stroke="#a9d5f2" stroke-width="3.2">10%ZGO</text>
<text transform="translate(1480.5 1698) rotate(-90)" font-size="47" text-anchor="middle" textLength="187" lengthAdjust="spacingAndGlyphs" fill="#2a93dc" stroke="#e4f2fb" stroke-width="0.8">10%ZGO</text>
<text transform="translate(1622.8 1697.8) rotate(-90)" font-size="47" text-anchor="middle" textLength="187" lengthAdjust="spacingAndGlyphs" fill="none" stroke="#a9d5f2" stroke-width="3.2">20%ZGO</text>
<text transform="translate(1621 1699) rotate(-90)" font-size="47" text-anchor="middle" textLength="187" lengthAdjust="spacingAndGlyphs" fill="#2a93dc" stroke="#e4f2fb" stroke-width="0.8">20%ZGO</text>
<text transform="translate(1755.8 1698.8) rotate(-90)" font-size="47" text-anchor="middle" textLength="189" lengthAdjust="spacingAndGlyphs" fill="none" stroke="#a9d5f2" stroke-width="3.2">40%ZGO</text>
<text transform="translate(1754 1700) rotate(-90)" font-size="47" text-anchor="middle" textLength="189" lengthAdjust="spacingAndGlyphs" fill="#2a93dc" stroke="#e4f2fb" stroke-width="0.8">40%ZGO</text>
<rect x="1060" y="1428.9" width="100.79999999999995" height="100.79999999999995" rx="0" fill="#000"/>
<text transform="translate(1096.9 1510.9) scale(1.254 1)" font-size="90.2" fill="#fff">f</text>
</svg></body></html>
